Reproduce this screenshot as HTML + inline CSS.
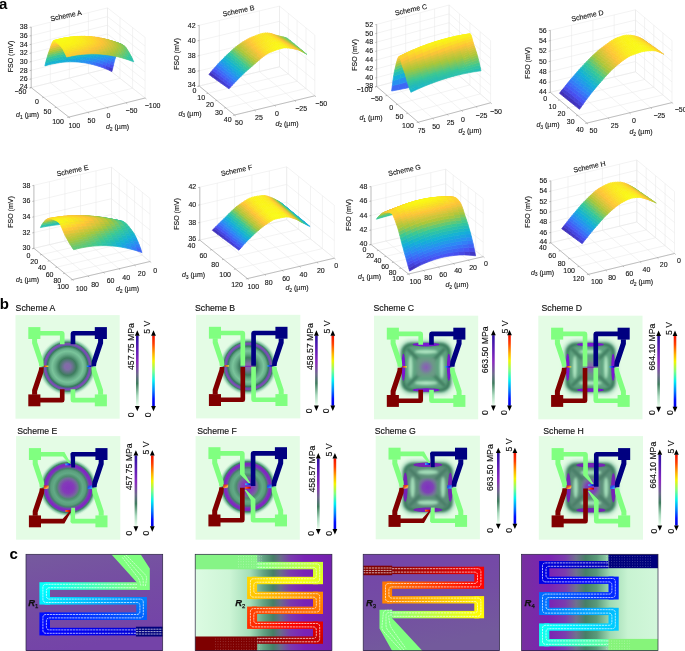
<!DOCTYPE html>
<html><head><meta charset="utf-8"><title>Figure</title>
<style>
html,body{margin:0;padding:0;background:#fff}
svg{display:block}
text{font-family:"Liberation Sans",sans-serif;fill:#141414}
.t{font-size:7px;stroke:#141414;stroke-width:.12px}
.e{text-anchor:end}.m{text-anchor:middle}
.i{font-style:italic}.sub{font-size:5px}
.gr{stroke:#e7e7e7;stroke-width:.5;fill:none}
.ax{stroke:#888;stroke-width:.5;fill:none}
polygon{stroke-width:.7;stroke-linejoin:round}
.pl{font-size:15px;font-weight:bold;fill:#000}
.sl{stroke:#fff;stroke-width:.75;fill:none;stroke-dasharray:2.2 .7;opacity:.9}
.rl{font-size:9.4px;font-weight:bold;font-style:italic;fill:#111;stroke:#111;stroke-width:.25px}
.rs{font-size:6px;font-weight:normal;font-style:normal}
.bd{fill:none;stroke:#2a2340;stroke-width:.7}
.b{font-size:8.7px;fill:#111;stroke:#111;stroke-width:.15px}
</style></head><body>
<svg width="685" height="651" viewBox="0 0 685 651">
<rect width="685" height="651" fill="#fff"/>
<text class="pl" x="-1.1" y="8.5">a</text>
<text class="pl" x="-0.2" y="309">b</text>
<text class="pl" x="9.6" y="559">c</text>
<defs><filter id="sb" x="-5%" y="-5%" width="110%" height="110%"><feGaussianBlur stdDeviation="0.45"/></filter></defs>
<g><path class="gr" d="M31.2 87.6L107.5 68.5M107.5 68.5L107.5 7.9M43.7 97.4L120.0 78.3M120.0 78.3L120.0 17.7M56.3 107.3L132.6 88.2M132.6 88.2L132.6 27.6M68.8 117.1L145.1 98.0M145.1 98.0L145.1 37.4M31.2 87.6L68.8 117.1M31.2 87.6L31.2 27.0M50.3 82.8L87.9 112.3M50.3 82.8L50.3 22.2M69.3 78.0L106.9 107.5M69.3 78.0L69.3 17.4M88.4 73.3L126.0 102.8M88.4 73.3L88.4 12.7M107.5 68.5L145.1 98.0M107.5 68.5L107.5 7.9M31.2 87.6L107.5 68.5M107.5 68.5L145.1 98.0M31.2 78.9L107.5 59.8M107.5 59.8L145.1 89.3M31.2 70.3L107.5 51.2M107.5 51.2L145.1 80.7M31.2 61.6L107.5 42.5M107.5 42.5L145.1 72.0M31.2 53.0L107.5 33.9M107.5 33.9L145.1 63.4M31.2 44.3L107.5 25.2M107.5 25.2L145.1 54.7M31.2 35.7L107.5 16.6M107.5 16.6L145.1 46.1M31.2 27.0L107.5 7.9M107.5 7.9L145.1 37.4"/>
<g filter="url(#sb)">
<polygon points="108.6,70.0 109.3,66.8 112.7,68.3 111.9,71.6" fill="#4238c6" stroke="#4238c6"/>
<polygon points="105.2,68.6 106.0,65.4 109.3,66.8 108.6,70.0" fill="#4544dc" stroke="#4544dc"/>
<polygon points="109.3,66.8 110.0,63.7 113.4,65.2 112.7,68.3" fill="#464cea" stroke="#464cea"/>
<polygon points="101.9,67.3 102.6,64.2 106.0,65.4 105.2,68.6" fill="#4750f1" stroke="#4750f1"/>
<polygon points="106.0,65.4 106.7,62.4 110.0,63.7 109.3,66.8" fill="#445af5" stroke="#445af5"/>
<polygon points="110.0,63.7 110.8,60.8 114.1,62.3 113.4,65.2" fill="#3f63f5" stroke="#3f63f5"/>
<polygon points="98.5,66.2 99.3,63.1 102.6,64.2 101.9,67.3" fill="#425ef5" stroke="#425ef5"/>
<polygon points="102.6,64.2 103.3,61.2 106.7,62.4 106.0,65.4" fill="#3d69f5" stroke="#3d69f5"/>
<polygon points="106.7,62.4 107.4,59.5 110.8,60.8 110.0,63.7" fill="#3872f6" stroke="#3872f6"/>
<polygon points="110.8,60.8 111.5,58.2 114.9,59.6 114.1,62.3" fill="#3479f6" stroke="#3479f6"/>
<polygon points="95.2,65.2 95.9,62.1 99.3,63.1 98.5,66.2" fill="#3c6af5" stroke="#3c6af5"/>
<polygon points="99.3,63.1 100.0,60.1 103.3,61.2 102.6,64.2" fill="#3676f6" stroke="#3676f6"/>
<polygon points="103.3,61.2 104.1,58.3 107.4,59.5 106.7,62.4" fill="#3180f7" stroke="#3180f7"/>
<polygon points="107.4,59.5 108.1,57.0 111.5,58.2 110.8,60.8" fill="#2d88f6" stroke="#2d88f6"/>
<polygon points="91.8,64.3 92.6,61.2 95.9,62.1 95.2,65.2" fill="#3676f6" stroke="#3676f6"/>
<polygon points="111.5,58.2 112.2,56.0 115.6,57.4 114.9,59.6" fill="#2a8cf3" stroke="#2a8cf3"/>
<polygon points="95.9,62.1 96.6,59.1 100.0,60.1 99.3,63.1" fill="#3082f7" stroke="#3082f7"/>
<polygon points="100.0,60.1 100.7,57.3 104.1,58.3 103.3,61.2" fill="#2a8cf3" stroke="#2a8cf3"/>
<polygon points="88.5,63.6 89.2,60.5 92.6,61.2 91.8,64.3" fill="#3081f7" stroke="#3081f7"/>
<polygon points="104.1,58.3 104.8,55.8 108.1,57.0 107.4,59.5" fill="#2693ee" stroke="#2693ee"/>
<polygon points="108.1,57.0 108.9,54.7 112.2,56.0 111.5,58.2" fill="#2397ea" stroke="#2397ea"/>
<polygon points="112.2,56.0 113.0,53.8 116.3,55.2 115.6,57.4" fill="#209be7" stroke="#209be7"/>
<polygon points="92.6,61.2 93.3,58.3 96.6,59.1 95.9,62.1" fill="#2a8df2" stroke="#2a8df2"/>
<polygon points="96.6,59.1 97.4,56.4 100.7,57.3 100.0,60.1" fill="#2496eb" stroke="#2496eb"/>
<polygon points="85.1,62.9 85.8,59.9 89.2,60.5 88.5,63.6" fill="#2b8af4" stroke="#2b8af4"/>
<polygon points="100.7,57.3 101.4,54.8 104.8,55.8 104.1,58.3" fill="#1f9de6" stroke="#1f9de6"/>
<polygon points="104.8,55.8 105.5,53.6 108.9,54.7 108.1,57.0" fill="#1ba2e2" stroke="#1ba2e2"/>
<polygon points="89.2,60.5 89.9,57.6 93.3,58.3 92.6,61.2" fill="#2495ec" stroke="#2495ec"/>
<polygon points="108.9,54.7 109.6,52.6 113.0,53.8 112.2,56.0" fill="#19a6df" stroke="#19a6df"/>
<polygon points="113.0,53.8 113.7,51.6 117.0,52.9 116.3,55.2" fill="#17aadc" stroke="#17aadc"/>
<polygon points="93.3,58.3 94.0,55.6 97.4,56.4 96.6,59.1" fill="#1e9fe4" stroke="#1e9fe4"/>
<polygon points="81.8,62.5 82.5,59.4 85.8,59.9 85.1,62.9" fill="#2692ef" stroke="#2692ef"/>
<polygon points="97.4,56.4 98.1,53.9 101.4,54.8 100.7,57.3" fill="#18a7de" stroke="#18a7de"/>
<polygon points="85.8,59.9 86.6,57.0 89.9,57.6 89.2,60.5" fill="#1f9de6" stroke="#1f9de6"/>
<polygon points="101.4,54.8 102.2,52.6 105.5,53.6 104.8,55.8" fill="#15adda" stroke="#15adda"/>
<polygon points="105.5,53.6 106.2,51.5 109.6,52.6 108.9,54.7" fill="#12b1d6" stroke="#12b1d6"/>
<polygon points="109.6,52.6 110.3,50.3 113.7,51.6 113.0,53.8" fill="#15b3d0" stroke="#15b3d0"/>
<polygon points="78.4,62.1 79.1,59.1 82.5,59.4 81.8,62.5" fill="#2298e9" stroke="#2298e9"/>
<polygon points="89.9,57.6 90.7,54.9 94.0,55.6 93.3,58.3" fill="#18a7de" stroke="#18a7de"/>
<polygon points="113.7,51.6 114.4,49.4 117.8,50.7 117.0,52.9" fill="#18b5cb" stroke="#18b5cb"/>
<polygon points="94.0,55.6 94.7,53.1 98.1,53.9 97.4,56.4" fill="#12b0d7" stroke="#12b0d7"/>
<polygon points="82.5,59.4 83.2,56.6 86.6,57.0 85.8,59.9" fill="#1aa4e0" stroke="#1aa4e0"/>
<polygon points="98.1,53.9 98.8,51.7 102.2,52.6 101.4,54.8" fill="#16b4ce" stroke="#16b4ce"/>
<polygon points="75.1,61.9 75.8,58.9 79.1,59.1 78.4,62.1" fill="#1e9ee5" stroke="#1e9ee5"/>
<polygon points="102.2,52.6 102.9,50.5 106.2,51.5 105.5,53.6" fill="#1bb7c7" stroke="#1bb7c7"/>
<polygon points="86.6,57.0 87.3,54.3 90.7,54.9 89.9,57.6" fill="#13afd8" stroke="#13afd8"/>
<polygon points="106.2,51.5 107.0,49.2 110.3,50.3 109.6,52.6" fill="#1fb9c0" stroke="#1fb9c0"/>
<polygon points="110.3,50.3 111.1,48.2 114.4,49.4 113.7,51.6" fill="#22bbba" stroke="#22bbba"/>
<polygon points="114.4,49.4 115.1,47.3 118.5,48.7 117.8,50.7" fill="#25bdb5" stroke="#25bdb5"/>
<polygon points="79.1,59.1 79.9,56.3 83.2,56.6 82.5,59.4" fill="#16abdb" stroke="#16abdb"/>
<polygon points="90.7,54.9 91.4,52.4 94.7,53.1 94.0,55.6" fill="#18b5cb" stroke="#18b5cb"/>
<polygon points="71.7,61.8 72.4,58.8 75.8,58.9 75.1,61.9" fill="#1ba3e1" stroke="#1ba3e1"/>
<polygon points="94.7,53.1 95.5,50.9 98.8,51.7 98.1,53.9" fill="#1eb9c1" stroke="#1eb9c1"/>
<polygon points="83.2,56.6 83.9,53.9 87.3,54.3 86.6,57.0" fill="#16b4ce" stroke="#16b4ce"/>
<polygon points="98.8,51.7 99.5,49.6 102.9,50.5 102.2,52.6" fill="#23bcb9" stroke="#23bcb9"/>
<polygon points="102.9,50.5 103.6,48.2 107.0,49.2 106.2,51.5" fill="#28bfb1" stroke="#28bfb1"/>
<polygon points="75.8,58.9 76.5,56.1 79.9,56.3 79.1,59.1" fill="#12b1d6" stroke="#12b1d6"/>
<polygon points="107.0,49.2 107.7,47.0 111.1,48.2 110.3,50.3" fill="#2cc1aa" stroke="#2cc1aa"/>
<polygon points="87.3,54.3 88.0,51.9 91.4,52.4 90.7,54.9" fill="#1fb9c0" stroke="#1fb9c0"/>
<polygon points="68.4,61.8 69.1,58.9 72.4,58.8 71.7,61.8" fill="#18a8dd" stroke="#18a8dd"/>
<polygon points="111.1,48.2 111.8,46.1 115.1,47.3 114.4,49.4" fill="#2fc3a5" stroke="#2fc3a5"/>
<polygon points="115.1,47.3 115.9,45.6 119.2,46.9 118.5,48.7" fill="#31c4a2" stroke="#31c4a2"/>
<polygon points="91.4,52.4 92.1,50.3 95.5,50.9 94.7,53.1" fill="#25bdb5" stroke="#25bdb5"/>
<polygon points="79.9,56.3 80.6,53.6 83.9,53.9 83.2,56.6" fill="#1cb7c5" stroke="#1cb7c5"/>
<polygon points="95.5,50.9 96.2,48.8 99.5,49.6 98.8,51.7" fill="#2bc1ab" stroke="#2bc1ab"/>
<polygon points="72.4,58.8 73.2,56.0 76.5,56.1 75.8,58.9" fill="#16b4cf" stroke="#16b4cf"/>
<polygon points="99.5,49.6 100.3,47.4 103.6,48.2 102.9,50.5" fill="#30c4a3" stroke="#30c4a3"/>
<polygon points="65.0,62.0 65.7,59.1 69.1,58.9 68.4,61.8" fill="#15acda" stroke="#15acda"/>
<polygon points="83.9,53.9 84.7,51.5 88.0,51.9 87.3,54.3" fill="#25bdb5" stroke="#25bdb5"/>
<polygon points="103.6,48.2 104.3,46.1 107.7,47.0 107.0,49.2" fill="#35c79b" stroke="#35c79b"/>
<polygon points="107.7,47.0 108.4,45.0 111.8,46.1 111.1,48.2" fill="#3cc893" stroke="#3cc893"/>
<polygon points="115.9,45.6 116.6,44.2 119.9,45.5 119.2,46.9" fill="#43c88d" stroke="#43c88d"/>
<polygon points="111.8,46.1 112.5,44.4 115.9,45.6 115.1,47.3" fill="#43c88e" stroke="#43c88e"/>
<polygon points="88.0,51.9 88.8,49.8 92.1,50.3 91.4,52.4" fill="#2cc1a9" stroke="#2cc1a9"/>
<polygon points="76.5,56.1 77.2,53.4 80.6,53.6 79.9,56.3" fill="#21bbbc" stroke="#21bbbc"/>
<polygon points="69.1,58.9 69.8,56.1 73.2,56.0 72.4,58.8" fill="#1ab6c8" stroke="#1ab6c8"/>
<polygon points="61.6,62.3 62.4,59.4 65.7,59.1 65.0,62.0" fill="#13afd8" stroke="#13afd8"/>
<polygon points="92.1,50.3 92.8,48.2 96.2,48.8 95.5,50.9" fill="#32c59f" stroke="#32c59f"/>
<polygon points="80.6,53.6 81.3,51.2 84.7,51.5 83.9,53.9" fill="#2bc0ac" stroke="#2bc0ac"/>
<polygon points="96.2,48.8 96.9,46.6 100.3,47.4 99.5,49.6" fill="#3ac895" stroke="#3ac895"/>
<polygon points="100.3,47.4 101.0,45.2 104.3,46.1 103.6,48.2" fill="#4ac888" stroke="#4ac888"/>
<polygon points="73.2,56.0 73.9,53.4 77.2,53.4 76.5,56.1" fill="#26bdb4" stroke="#26bdb4"/>
<polygon points="116.6,44.2 117.3,43.3 120.7,44.6 119.9,45.5" fill="#5cc879" stroke="#5cc879"/>
<polygon points="84.7,51.5 85.4,49.4 88.8,49.8 88.0,51.9" fill="#32c59f" stroke="#32c59f"/>
<polygon points="58.3,62.8 59.0,59.9 62.4,59.4 61.6,62.3" fill="#12b1d6" stroke="#12b1d6"/>
<polygon points="104.3,46.1 105.1,44.0 108.4,45.0 107.7,47.0" fill="#57c87d" stroke="#57c87d"/>
<polygon points="65.7,59.1 66.5,56.3 69.8,56.1 69.1,58.9" fill="#1db8c2" stroke="#1db8c2"/>
<polygon points="112.5,44.4 113.2,43.0 116.6,44.2 115.9,45.6" fill="#62c874" stroke="#62c874"/>
<polygon points="108.4,45.0 109.2,43.3 112.5,44.4 111.8,46.1" fill="#60c876" stroke="#60c876"/>
<polygon points="88.8,49.8 89.5,47.7 92.8,48.2 92.1,50.3" fill="#3dc892" stroke="#3dc892"/>
<polygon points="77.2,53.4 78.0,51.0 81.3,51.2 80.6,53.6" fill="#30c4a3" stroke="#30c4a3"/>
<polygon points="92.8,48.2 93.6,46.0 96.9,46.6 96.2,48.8" fill="#50c883" stroke="#50c883"/>
<polygon points="54.9,63.4 55.7,60.4 59.0,59.9 58.3,62.8" fill="#13b2d3" stroke="#13b2d3"/>
<polygon points="69.8,56.1 70.5,53.5 73.9,53.4 73.2,56.0" fill="#2ac0ae" stroke="#2ac0ae"/>
<polygon points="62.4,59.4 63.1,56.6 66.5,56.3 65.7,59.1" fill="#20babe" stroke="#20babe"/>
<polygon points="117.3,43.3 118.0,43.0 121.4,44.3 120.7,44.6" fill="#6dc76b" stroke="#6dc76b"/>
<polygon points="81.3,51.2 82.0,49.1 85.4,49.4 84.7,51.5" fill="#3ac895" stroke="#3ac895"/>
<polygon points="96.9,46.6 97.6,44.4 101.0,45.2 100.3,47.4" fill="#62c874" stroke="#62c874"/>
<polygon points="101.0,45.2 101.7,43.2 105.1,44.0 104.3,46.1" fill="#71c768" stroke="#71c768"/>
<polygon points="113.2,43.0 114.0,42.1 117.3,43.3 116.6,44.2" fill="#7bc760" stroke="#7bc760"/>
<polygon points="85.4,49.4 86.1,47.3 89.5,47.7 88.8,49.8" fill="#50c883" stroke="#50c883"/>
<polygon points="105.1,44.0 105.8,42.3 109.2,43.3 108.4,45.0" fill="#7cc75f" stroke="#7cc75f"/>
<polygon points="109.2,43.3 109.9,41.9 113.2,43.0 112.5,44.4" fill="#7fc75c" stroke="#7fc75c"/>
<polygon points="73.9,53.4 74.6,51.0 78.0,51.0 77.2,53.4" fill="#34c69c" stroke="#34c69c"/>
<polygon points="51.6,64.1 52.3,61.1 55.7,60.4 54.9,63.4" fill="#14b3d1" stroke="#14b3d1"/>
<polygon points="118.0,43.0 118.8,43.3 122.1,44.6 121.4,44.3" fill="#76c764" stroke="#76c764"/>
<polygon points="66.5,56.3 67.2,53.7 70.5,53.5 69.8,56.1" fill="#2dc2a8" stroke="#2dc2a8"/>
<polygon points="59.0,59.9 59.7,57.1 63.1,56.6 62.4,59.4" fill="#22bbba" stroke="#22bbba"/>
<polygon points="89.5,47.7 90.2,45.5 93.6,46.0 92.8,48.2" fill="#65c772" stroke="#65c772"/>
<polygon points="78.0,51.0 78.7,48.9 82.0,49.1 81.3,51.2" fill="#4ac888" stroke="#4ac888"/>
<polygon points="93.6,46.0 94.3,43.8 97.6,44.4 96.9,46.6" fill="#79c762" stroke="#79c762"/>
<polygon points="48.2,64.9 49.0,62.0 52.3,61.1 51.6,64.1" fill="#15b3d1" stroke="#15b3d1"/>
<polygon points="114.0,42.1 114.7,41.8 118.0,43.0 117.3,43.3" fill="#8cc752" stroke="#8cc752"/>
<polygon points="118.8,43.3 119.5,43.8 122.8,45.0 122.1,44.6" fill="#79c762" stroke="#79c762"/>
<polygon points="70.5,53.5 71.3,51.1 74.6,51.0 73.9,53.4" fill="#3ac894" stroke="#3ac894"/>
<polygon points="82.0,49.1 82.8,47.0 86.1,47.3 85.4,49.4" fill="#61c875" stroke="#61c875"/>
<polygon points="97.6,44.4 98.4,42.4 101.7,43.2 101.0,45.2" fill="#8ac754" stroke="#8ac754"/>
<polygon points="55.7,60.4 56.4,57.6 59.7,57.1 59.0,59.9" fill="#24bcb8" stroke="#24bcb8"/>
<polygon points="63.1,56.6 63.8,54.0 67.2,53.7 66.5,56.3" fill="#30c3a4" stroke="#30c3a4"/>
<polygon points="109.9,41.9 110.6,41.0 114.0,42.1 113.2,43.0" fill="#98c748" stroke="#98c748"/>
<polygon points="101.7,43.2 102.4,41.4 105.8,42.3 105.1,44.0" fill="#96c74a" stroke="#96c74a"/>
<polygon points="105.8,42.3 106.5,40.9 109.9,41.9 109.2,43.3" fill="#9bc746" stroke="#9bc746"/>
<polygon points="44.9,65.9 45.6,62.9 49.0,62.0 48.2,64.9" fill="#14b3d1" stroke="#14b3d1"/>
<polygon points="86.1,47.3 86.9,45.1 90.2,45.5 89.5,47.7" fill="#78c762" stroke="#78c762"/>
<polygon points="119.5,43.8 120.2,44.2 123.6,45.5 122.8,45.0" fill="#7bc760" stroke="#7bc760"/>
<polygon points="74.6,51.0 75.3,48.9 78.7,48.9 78.0,51.0" fill="#58c87d" stroke="#58c87d"/>
<polygon points="114.7,41.8 115.4,42.2 118.8,43.3 118.0,43.0" fill="#94c74c" stroke="#94c74c"/>
<polygon points="52.3,61.1 53.0,58.3 56.4,57.6 55.7,60.4" fill="#25bdb6" stroke="#25bdb6"/>
<polygon points="67.2,53.7 67.9,51.3 71.3,51.1 70.5,53.5" fill="#44c88c" stroke="#44c88c"/>
<polygon points="90.2,45.5 90.9,43.3 94.3,43.8 93.6,46.0" fill="#8ec751" stroke="#8ec751"/>
<polygon points="59.7,57.1 60.5,54.4 63.8,54.0 63.1,56.6" fill="#32c5a0" stroke="#32c5a0"/>
<polygon points="78.7,48.9 79.4,46.8 82.8,47.0 82.0,49.1" fill="#71c768" stroke="#71c768"/>
<polygon points="110.6,41.0 111.3,40.8 114.7,41.8 114.0,42.1" fill="#a9c73b" stroke="#a9c73b"/>
<polygon points="120.2,44.2 121.0,44.8 124.3,46.0 123.6,45.5" fill="#7cc75f" stroke="#7cc75f"/>
<polygon points="94.3,43.8 95.0,41.8 98.4,42.4 97.6,44.4" fill="#a0c742" stroke="#a0c742"/>
<polygon points="115.4,42.2 116.1,42.6 119.5,43.8 118.8,43.3" fill="#97c74a" stroke="#97c74a"/>
<polygon points="106.5,40.9 107.3,40.0 110.6,41.0 109.9,41.9" fill="#b1c639" stroke="#b1c639"/>
<polygon points="98.4,42.4 99.1,40.7 102.4,41.4 101.7,43.2" fill="#adc739" stroke="#adc739"/>
<polygon points="49.0,62.0 49.7,59.2 53.0,58.3 52.3,61.1" fill="#25bdb6" stroke="#25bdb6"/>
<polygon points="71.3,51.1 72.0,49.0 75.3,48.9 74.6,51.0" fill="#64c873" stroke="#64c873"/>
<polygon points="82.8,47.0 83.5,44.8 86.9,45.1 86.1,47.3" fill="#89c754" stroke="#89c754"/>
<polygon points="102.4,41.4 103.2,40.1 106.5,40.9 105.8,42.3" fill="#b2c639" stroke="#b2c639"/>
<polygon points="56.4,57.6 57.1,55.0 60.5,54.4 59.7,57.1" fill="#33c69e" stroke="#33c69e"/>
<polygon points="63.8,54.0 64.6,51.6 67.9,51.3 67.2,53.7" fill="#4dc885" stroke="#4dc885"/>
<polygon points="121.0,44.8 121.7,45.4 125.0,46.5 124.3,46.0" fill="#7cc75f" stroke="#7cc75f"/>
<polygon points="116.1,42.6 116.9,43.1 120.2,44.2 119.5,43.8" fill="#98c748" stroke="#98c748"/>
<polygon points="111.3,40.8 112.1,41.1 115.4,42.2 114.7,41.8" fill="#afc739" stroke="#afc739"/>
<polygon points="86.9,45.1 87.6,42.9 90.9,43.3 90.2,45.5" fill="#a1c741" stroke="#a1c741"/>
<polygon points="75.3,48.9 76.1,46.8 79.4,46.8 78.7,48.9" fill="#7fc75d" stroke="#7fc75d"/>
<polygon points="45.6,62.9 46.3,60.1 49.7,59.2 49.0,62.0" fill="#25bdb6" stroke="#25bdb6"/>
<polygon points="121.7,45.4 122.4,46.1 125.8,47.3 125.0,46.5" fill="#7bc760" stroke="#7bc760"/>
<polygon points="90.9,43.3 91.7,41.3 95.0,41.8 94.3,43.8" fill="#b2c639" stroke="#b2c639"/>
<polygon points="67.9,51.3 68.6,49.2 72.0,49.0 71.3,51.1" fill="#6ec76b" stroke="#6ec76b"/>
<polygon points="107.3,40.0 108.0,39.8 111.3,40.8 110.6,41.0" fill="#bdc639" stroke="#bdc639"/>
<polygon points="53.0,58.3 53.8,55.7 57.1,55.0 56.4,57.6" fill="#34c69c" stroke="#34c69c"/>
<polygon points="116.9,43.1 117.6,43.7 121.0,44.8 120.2,44.2" fill="#99c748" stroke="#99c748"/>
<polygon points="79.4,46.8 80.1,44.7 83.5,44.8 82.8,47.0" fill="#99c748" stroke="#99c748"/>
<polygon points="60.5,54.4 61.2,52.1 64.6,51.6 63.8,54.0" fill="#53c880" stroke="#53c880"/>
<polygon points="112.1,41.1 112.8,41.6 116.1,42.6 115.4,42.2" fill="#b1c639" stroke="#b1c639"/>
<polygon points="95.0,41.8 95.7,40.0 99.1,40.7 98.4,42.4" fill="#bdc639" stroke="#bdc639"/>
<polygon points="103.2,40.1 103.9,39.2 107.3,40.0 106.5,40.9" fill="#c4c639" stroke="#c4c639"/>
<polygon points="99.1,40.7 99.8,39.3 103.2,40.1 102.4,41.4" fill="#c3c639" stroke="#c3c639"/>
<polygon points="122.4,46.1 123.1,47.1 126.5,48.3 125.8,47.3" fill="#76c764" stroke="#76c764"/>
<polygon points="72.0,49.0 72.7,46.9 76.1,46.8 75.3,48.9" fill="#8bc753" stroke="#8bc753"/>
<polygon points="83.5,44.8 84.2,42.6 87.6,42.9 86.9,45.1" fill="#b0c739" stroke="#b0c739"/>
<polygon points="117.6,43.7 118.3,44.3 121.7,45.4 121.0,44.8" fill="#99c748" stroke="#99c748"/>
<polygon points="49.7,59.2 50.4,56.6 53.8,55.7 53.0,58.3" fill="#34c69b" stroke="#34c69b"/>
<polygon points="108.0,39.8 108.7,40.2 112.1,41.1 111.3,40.8" fill="#c2c639" stroke="#c2c639"/>
<polygon points="112.8,41.6 113.5,42.1 116.9,43.1 116.1,42.6" fill="#b2c639" stroke="#b2c639"/>
<polygon points="64.6,51.6 65.3,49.5 68.6,49.2 67.9,51.3" fill="#76c764" stroke="#76c764"/>
<polygon points="123.1,47.1 123.9,48.1 127.2,49.4 126.5,48.3" fill="#70c769" stroke="#70c769"/>
<polygon points="57.1,55.0 57.8,52.7 61.2,52.1 60.5,54.4" fill="#58c87c" stroke="#58c87c"/>
<polygon points="87.6,42.9 88.3,40.9 91.7,41.3 90.9,43.3" fill="#c0c639" stroke="#c0c639"/>
<polygon points="76.1,46.8 76.8,44.6 80.1,44.7 79.4,46.8" fill="#a7c73d" stroke="#a7c73d"/>
<polygon points="103.9,39.2 104.6,39.0 108.0,39.8 107.3,40.0" fill="#cfc538" stroke="#cfc538"/>
<polygon points="118.3,44.3 119.1,45.0 122.4,46.1 121.7,45.4" fill="#98c749" stroke="#98c749"/>
<polygon points="123.9,48.1 124.6,49.2 127.9,50.6 127.2,49.4" fill="#68c770" stroke="#68c770"/>
<polygon points="91.7,41.3 92.4,39.5 95.7,40.0 95.0,41.8" fill="#ccc539" stroke="#ccc539"/>
<polygon points="113.5,42.1 114.2,42.7 117.6,43.7 116.9,43.1" fill="#b2c639" stroke="#b2c639"/>
<polygon points="46.3,60.1 47.1,57.5 50.4,56.6 49.7,59.2" fill="#34c69c" stroke="#34c69c"/>
<polygon points="108.7,40.2 109.4,40.7 112.8,41.6 112.1,41.1" fill="#c4c639" stroke="#c4c639"/>
<polygon points="68.6,49.2 69.4,47.1 72.7,46.9 72.0,49.0" fill="#95c74b" stroke="#95c74b"/>
<polygon points="99.8,39.3 100.5,38.5 103.9,39.2 103.2,40.1" fill="#d5c538" stroke="#d5c538"/>
<polygon points="95.7,40.0 96.5,38.7 99.8,39.3 99.1,40.7" fill="#d3c538" stroke="#d3c538"/>
<polygon points="80.1,44.7 80.9,42.5 84.2,42.6 83.5,44.8" fill="#bbc639" stroke="#bbc639"/>
<polygon points="53.8,55.7 54.5,53.4 57.8,52.7 57.1,55.0" fill="#5bc87a" stroke="#5bc87a"/>
<polygon points="61.2,52.1 61.9,50.0 65.3,49.5 64.6,51.6" fill="#7dc75f" stroke="#7dc75f"/>
<polygon points="124.6,49.2 125.3,50.4 128.7,51.8 127.9,50.6" fill="#5fc877" stroke="#5fc877"/>
<polygon points="119.1,45.0 119.8,46.0 123.1,47.1 122.4,46.1" fill="#93c74c" stroke="#93c74c"/>
<polygon points="114.2,42.7 115.0,43.3 118.3,44.3 117.6,43.7" fill="#b2c639" stroke="#b2c639"/>
<polygon points="104.6,39.0 105.4,39.4 108.7,40.2 108.0,39.8" fill="#d5c538" stroke="#d5c538"/>
<polygon points="109.4,40.7 110.2,41.3 113.5,42.1 112.8,41.6" fill="#c4c639" stroke="#c4c639"/>
<polygon points="72.7,46.9 73.4,44.7 76.8,44.6 76.1,46.8" fill="#b0c739" stroke="#b0c739"/>
<polygon points="84.2,42.6 85.0,40.6 88.3,40.9 87.6,42.9" fill="#ccc539" stroke="#ccc539"/>
<polygon points="125.3,50.4 126.0,51.6 129.4,53.0 128.7,51.8" fill="#56c87e" stroke="#56c87e"/>
<polygon points="119.8,46.0 120.5,47.0 123.9,48.1 123.1,47.1" fill="#8ec751" stroke="#8ec751"/>
<polygon points="65.3,49.5 66.0,47.4 69.4,47.1 68.6,49.2" fill="#9dc744" stroke="#9dc744"/>
<polygon points="50.4,56.6 51.1,54.2 54.5,53.4 53.8,55.7" fill="#5cc879" stroke="#5cc879"/>
<polygon points="57.8,52.7 58.6,50.6 61.9,50.0 61.2,52.1" fill="#81c75b" stroke="#81c75b"/>
<polygon points="88.3,40.9 89.0,39.1 92.4,39.5 91.7,41.3" fill="#d9c538" stroke="#d9c538"/>
<polygon points="100.5,38.5 101.3,38.3 104.6,39.0 103.9,39.2" fill="#e0c538" stroke="#e0c538"/>
<polygon points="126.0,51.6 126.8,52.9 130.1,54.2 129.4,53.0" fill="#4cc886" stroke="#4cc886"/>
<polygon points="115.0,43.3 115.7,44.1 119.1,45.0 118.3,44.3" fill="#b1c739" stroke="#b1c739"/>
<polygon points="76.8,44.6 77.5,42.5 80.9,42.5 80.1,44.7" fill="#c5c639" stroke="#c5c639"/>
<polygon points="110.2,41.3 110.9,41.8 114.2,42.7 113.5,42.1" fill="#c5c639" stroke="#c5c639"/>
<polygon points="105.4,39.4 106.1,39.9 109.4,40.7 108.7,40.2" fill="#d6c538" stroke="#d6c538"/>
<polygon points="92.4,39.5 93.1,38.2 96.5,38.7 95.7,40.0" fill="#e2c438" stroke="#e2c438"/>
<polygon points="96.5,38.7 97.2,37.9 100.5,38.5 99.8,39.3" fill="#e5c438" stroke="#e5c438"/>
<polygon points="120.5,47.0 121.2,48.0 124.6,49.2 123.9,48.1" fill="#86c757" stroke="#86c757"/>
<polygon points="126.8,52.9 127.5,54.2 130.8,55.6 130.1,54.2" fill="#41c88f" stroke="#41c88f"/>
<polygon points="69.4,47.1 70.1,44.9 73.4,44.7 72.7,46.9" fill="#b8c639" stroke="#b8c639"/>
<polygon points="47.1,57.5 47.8,55.1 51.1,54.2 50.4,56.6" fill="#5bc87a" stroke="#5bc87a"/>
<polygon points="115.7,44.1 116.4,45.0 119.8,46.0 119.1,45.0" fill="#aec739" stroke="#aec739"/>
<polygon points="121.2,48.0 122.0,49.1 125.3,50.4 124.6,49.2" fill="#7ec75d" stroke="#7ec75d"/>
<polygon points="80.9,42.5 81.6,40.5 85.0,40.6 84.2,42.6" fill="#d7c538" stroke="#d7c538"/>
<polygon points="61.9,50.0 62.7,47.9 66.0,47.4 65.3,49.5" fill="#a4c73f" stroke="#a4c73f"/>
<polygon points="127.5,54.2 128.2,55.7 131.6,57.0 130.8,55.6" fill="#36c898" stroke="#36c898"/>
<polygon points="54.5,53.4 55.2,51.3 58.6,50.6 57.8,52.7" fill="#84c759" stroke="#84c759"/>
<polygon points="101.3,38.3 102.0,38.7 105.4,39.4 104.6,39.0" fill="#e5c438" stroke="#e5c438"/>
<polygon points="110.9,41.8 111.6,42.5 115.0,43.3 114.2,42.7" fill="#c4c639" stroke="#c4c639"/>
<polygon points="106.1,39.9 106.8,40.5 110.2,41.3 109.4,40.7" fill="#d6c538" stroke="#d6c538"/>
<polygon points="128.2,55.7 128.9,57.3 132.3,58.6 131.6,57.0" fill="#32c5a0" stroke="#32c5a0"/>
<polygon points="122.0,49.1 122.7,50.3 126.0,51.6 125.3,50.4" fill="#76c764" stroke="#76c764"/>
<polygon points="85.0,40.6 85.7,38.9 89.0,39.1 88.3,40.9" fill="#e6c438" stroke="#e6c438"/>
<polygon points="116.4,45.0 117.2,45.9 120.5,47.0 119.8,46.0" fill="#aac73a" stroke="#aac73a"/>
<polygon points="73.4,44.7 74.2,42.5 77.5,42.5 76.8,44.6" fill="#cdc538" stroke="#cdc538"/>
<polygon points="97.2,37.9 97.9,37.7 101.3,38.3 100.5,38.5" fill="#f0c438" stroke="#f0c438"/>
<polygon points="128.9,57.3 129.7,58.9 133.0,60.2 132.3,58.6" fill="#2dc2a8" stroke="#2dc2a8"/>
<polygon points="89.0,39.1 89.8,37.8 93.1,38.2 92.4,39.5" fill="#efc438" stroke="#efc438"/>
<polygon points="111.6,42.5 112.3,43.2 115.7,44.1 115.0,43.3" fill="#c3c639" stroke="#c3c639"/>
<polygon points="93.1,38.2 93.8,37.4 97.2,37.9 96.5,38.7" fill="#f3c438" stroke="#f3c438"/>
<polygon points="66.0,47.4 66.7,45.3 70.1,44.9 69.4,47.1" fill="#bec639" stroke="#bec639"/>
<polygon points="102.0,38.7 102.7,39.2 106.1,39.9 105.4,39.4" fill="#e6c438" stroke="#e6c438"/>
<polygon points="106.8,40.5 107.5,41.1 110.9,41.8 110.2,41.3" fill="#d6c538" stroke="#d6c538"/>
<polygon points="51.1,54.2 51.9,52.1 55.2,51.3 54.5,53.4" fill="#85c758" stroke="#85c758"/>
<polygon points="122.7,50.3 123.4,51.6 126.8,52.9 126.0,51.6" fill="#6cc76c" stroke="#6cc76c"/>
<polygon points="58.6,50.6 59.3,48.5 62.7,47.9 61.9,50.0" fill="#a8c73b" stroke="#a8c73b"/>
<polygon points="129.7,58.9 130.4,60.6 133.8,61.8 133.0,60.2" fill="#28bfb0" stroke="#28bfb0"/>
<polygon points="117.2,45.9 117.9,46.9 121.2,48.0 120.5,47.0" fill="#a3c73f" stroke="#a3c73f"/>
<polygon points="77.5,42.5 78.2,40.4 81.6,40.5 80.9,42.5" fill="#e1c538" stroke="#e1c538"/>
<polygon points="123.4,51.6 124.1,53.0 127.5,54.2 126.8,52.9" fill="#61c875" stroke="#61c875"/>
<polygon points="112.3,43.2 113.1,44.1 116.4,45.0 115.7,44.1" fill="#c1c639" stroke="#c1c639"/>
<polygon points="97.9,37.7 98.6,38.1 102.0,38.7 101.3,38.3" fill="#f5c438" stroke="#f5c438"/>
<polygon points="117.9,46.9 118.6,48.0 122.0,49.1 121.2,48.0" fill="#9cc745" stroke="#9cc745"/>
<polygon points="107.5,41.1 108.3,41.7 111.6,42.5 110.9,41.8" fill="#d6c538" stroke="#d6c538"/>
<polygon points="102.7,39.2 103.5,39.8 106.8,40.5 106.1,39.9" fill="#e6c438" stroke="#e6c438"/>
<polygon points="70.1,44.9 70.8,42.7 74.2,42.5 73.4,44.7" fill="#d4c538" stroke="#d4c538"/>
<polygon points="81.6,40.5 82.3,38.7 85.7,38.9 85.0,40.6" fill="#f1c438" stroke="#f1c438"/>
<polygon points="47.8,55.1 48.5,53.0 51.9,52.1 51.1,54.2" fill="#85c758" stroke="#85c758"/>
<polygon points="124.1,53.0 124.9,54.5 128.2,55.7 127.5,54.2" fill="#54c880" stroke="#54c880"/>
<polygon points="62.7,47.9 63.4,45.7 66.7,45.3 66.0,47.4" fill="#c2c639" stroke="#c2c639"/>
<polygon points="55.2,51.3 55.9,49.2 59.3,48.5 58.6,50.6" fill="#abc739" stroke="#abc739"/>
<polygon points="93.8,37.4 94.6,37.2 97.9,37.7 97.2,37.9" fill="#fec438" stroke="#fec438"/>
<polygon points="85.7,38.9 86.4,37.5 89.8,37.8 89.0,39.1" fill="#fcc338" stroke="#fcc338"/>
<polygon points="113.1,44.1 113.8,45.0 117.2,45.9 116.4,45.0" fill="#bdc639" stroke="#bdc639"/>
<polygon points="124.9,54.5 125.6,56.1 128.9,57.3 128.2,55.7" fill="#46c88b" stroke="#46c88b"/>
<polygon points="118.6,48.0 119.3,49.2 122.7,50.3 122.0,49.1" fill="#93c74c" stroke="#93c74c"/>
<polygon points="89.8,37.8 90.5,37.0 93.8,37.4 93.1,38.2" fill="#fec537" stroke="#fec537"/>
<polygon points="98.6,38.1 99.4,38.7 102.7,39.2 102.0,38.7" fill="#f6c438" stroke="#f6c438"/>
<polygon points="108.3,41.7 109.0,42.5 112.3,43.2 111.6,42.5" fill="#d4c538" stroke="#d4c538"/>
<polygon points="74.2,42.5 74.9,40.5 78.2,40.4 77.5,42.5" fill="#e9c438" stroke="#e9c438"/>
<polygon points="103.5,39.8 104.2,40.4 107.5,41.1 106.8,40.5" fill="#e6c438" stroke="#e6c438"/>
<polygon points="125.6,56.1 126.3,57.7 129.7,58.9 128.9,57.3" fill="#37c897" stroke="#37c897"/>
<polygon points="119.3,49.2 120.1,50.5 123.4,51.6 122.7,50.3" fill="#8ac754" stroke="#8ac754"/>
<polygon points="113.8,45.0 114.5,46.0 117.9,46.9 117.2,45.9" fill="#b9c639" stroke="#b9c639"/>
<polygon points="66.7,45.3 67.5,43.1 70.8,42.7 70.1,44.9" fill="#dac538" stroke="#dac538"/>
<polygon points="126.3,57.7 127.0,59.4 130.4,60.6 129.7,58.9" fill="#32c5a0" stroke="#32c5a0"/>
<polygon points="51.9,52.1 52.6,50.0 55.9,49.2 55.2,51.3" fill="#acc739" stroke="#acc739"/>
<polygon points="59.3,48.5 60.0,46.3 63.4,45.7 62.7,47.9" fill="#c6c639" stroke="#c6c639"/>
<polygon points="94.6,37.2 95.3,37.6 98.6,38.1 97.9,37.7" fill="#fec736" stroke="#fec736"/>
<polygon points="78.2,40.4 79.0,38.7 82.3,38.7 81.6,40.5" fill="#fac338" stroke="#fac338"/>
<polygon points="109.0,42.5 109.7,43.3 113.1,44.1 112.3,43.2" fill="#d2c538" stroke="#d2c538"/>
<polygon points="120.1,50.5 120.8,51.9 124.1,53.0 123.4,51.6" fill="#7ec75d" stroke="#7ec75d"/>
<polygon points="99.4,38.7 100.1,39.3 103.5,39.8 102.7,39.2" fill="#f6c438" stroke="#f6c438"/>
<polygon points="104.2,40.4 104.9,41.1 108.3,41.7 107.5,41.1" fill="#e6c438" stroke="#e6c438"/>
<polygon points="114.5,46.0 115.3,47.0 118.6,48.0 117.9,46.9" fill="#b4c639" stroke="#b4c639"/>
<polygon points="82.3,38.7 83.1,37.4 86.4,37.5 85.7,38.9" fill="#fec934" stroke="#fec934"/>
<polygon points="90.5,37.0 91.2,36.8 94.6,37.2 93.8,37.4" fill="#fdcd32" stroke="#fdcd32"/>
<polygon points="120.8,51.9 121.5,53.4 124.9,54.5 124.1,53.0" fill="#71c768" stroke="#71c768"/>
<polygon points="70.8,42.7 71.5,40.7 74.9,40.5 74.2,42.5" fill="#f0c438" stroke="#f0c438"/>
<polygon points="86.4,37.5 87.1,36.7 90.5,37.0 89.8,37.8" fill="#fdcd32" stroke="#fdcd32"/>
<polygon points="48.5,53.0 49.2,50.9 52.6,50.0 51.9,52.1" fill="#acc739" stroke="#acc739"/>
<polygon points="109.7,43.3 110.4,44.2 113.8,45.0 113.1,44.1" fill="#cfc538" stroke="#cfc538"/>
<polygon points="95.3,37.6 96.0,38.2 99.4,38.7 98.6,38.1" fill="#fec736" stroke="#fec736"/>
<polygon points="63.4,45.7 64.1,43.5 67.5,43.1 66.7,45.3" fill="#dfc538" stroke="#dfc538"/>
<polygon points="115.3,47.0 116.0,48.2 119.3,49.2 118.6,48.0" fill="#aec739" stroke="#aec739"/>
<polygon points="55.9,49.2 56.7,47.0 60.0,46.3 59.3,48.5" fill="#c8c639" stroke="#c8c639"/>
<polygon points="121.5,53.4 122.2,55.0 125.6,56.1 124.9,54.5" fill="#63c873" stroke="#63c873"/>
<polygon points="104.9,41.1 105.6,41.8 109.0,42.5 108.3,41.7" fill="#e4c438" stroke="#e4c438"/>
<polygon points="100.1,39.3 100.8,39.9 104.2,40.4 103.5,39.8" fill="#f5c438" stroke="#f5c438"/>
<polygon points="122.2,55.0 123.0,56.7 126.3,57.7 125.6,56.1" fill="#54c880" stroke="#54c880"/>
<polygon points="74.9,40.5 75.6,38.8 79.0,38.7 78.2,40.4" fill="#fec636" stroke="#fec636"/>
<polygon points="110.4,44.2 111.2,45.1 114.5,46.0 113.8,45.0" fill="#cbc539" stroke="#cbc539"/>
<polygon points="116.0,48.2 116.7,49.5 120.1,50.5 119.3,49.2" fill="#a6c73d" stroke="#a6c73d"/>
<polygon points="91.2,36.8 91.9,37.3 95.3,37.6 94.6,37.2" fill="#fdcf30" stroke="#fdcf30"/>
<polygon points="123.0,56.7 123.7,58.4 127.0,59.4 126.3,57.7" fill="#43c88d" stroke="#43c88d"/>
<polygon points="96.0,38.2 96.7,38.8 100.1,39.3 99.4,38.7" fill="#fec736" stroke="#fec736"/>
<polygon points="105.6,41.8 106.4,42.6 109.7,43.3 109.0,42.5" fill="#e2c438" stroke="#e2c438"/>
<polygon points="100.8,39.9 101.6,40.6 104.9,41.1 104.2,40.4" fill="#f5c438" stroke="#f5c438"/>
<polygon points="79.0,38.7 79.7,37.4 83.1,37.4 82.3,38.7" fill="#fdcf30" stroke="#fdcf30"/>
<polygon points="67.5,43.1 68.2,41.1 71.5,40.7 70.8,42.7" fill="#f6c438" stroke="#f6c438"/>
<polygon points="52.6,50.0 53.3,47.8 56.7,47.0 55.9,49.2" fill="#c9c639" stroke="#c9c639"/>
<polygon points="116.7,49.5 117.4,50.9 120.8,51.9 120.1,50.5" fill="#9ac747" stroke="#9ac747"/>
<polygon points="87.1,36.7 87.9,36.6 91.2,36.8 90.5,37.0" fill="#fdd52d" stroke="#fdd52d"/>
<polygon points="60.0,46.3 60.8,44.1 64.1,43.5 63.4,45.7" fill="#e3c438" stroke="#e3c438"/>
<polygon points="83.1,37.4 83.8,36.6 87.1,36.7 86.4,37.5" fill="#fdd42d" stroke="#fdd42d"/>
<polygon points="111.2,45.1 111.9,46.1 115.3,47.0 114.5,46.0" fill="#c7c639" stroke="#c7c639"/>
<polygon points="117.4,50.9 118.2,52.4 121.5,53.4 120.8,51.9" fill="#8dc751" stroke="#8dc751"/>
<polygon points="91.9,37.3 92.7,37.9 96.0,38.2 95.3,37.6" fill="#fdd030" stroke="#fdd030"/>
<polygon points="106.4,42.6 107.1,43.5 110.4,44.2 109.7,43.3" fill="#dfc538" stroke="#dfc538"/>
<polygon points="96.7,38.8 97.5,39.5 100.8,39.9 100.1,39.3" fill="#fec736" stroke="#fec736"/>
<polygon points="101.6,40.6 102.3,41.3 105.6,41.8 104.9,41.1" fill="#f3c438" stroke="#f3c438"/>
<polygon points="71.5,40.7 72.3,39.0 75.6,38.8 74.9,40.5" fill="#fecb33" stroke="#fecb33"/>
<polygon points="111.9,46.1 112.6,47.3 116.0,48.2 115.3,47.0" fill="#c1c639" stroke="#c1c639"/>
<polygon points="118.2,52.4 118.9,54.0 122.2,55.0 121.5,53.4" fill="#7fc75d" stroke="#7fc75d"/>
<polygon points="49.2,50.9 50.0,48.7 53.3,47.8 52.6,50.0" fill="#c8c639" stroke="#c8c639"/>
<polygon points="64.1,43.5 64.8,41.5 68.2,41.1 67.5,43.1" fill="#fbc338" stroke="#fbc338"/>
<polygon points="87.9,36.6 88.6,37.1 91.9,37.3 91.2,36.8" fill="#fcd72b" stroke="#fcd72b"/>
<polygon points="56.7,47.0 57.4,44.8 60.8,44.1 60.0,46.3" fill="#e5c438" stroke="#e5c438"/>
<polygon points="118.9,54.0 119.6,55.7 123.0,56.7 122.2,55.0" fill="#6fc76a" stroke="#6fc76a"/>
<polygon points="107.1,43.5 107.8,44.4 111.2,45.1 110.4,44.2" fill="#dcc538" stroke="#dcc538"/>
<polygon points="75.6,38.8 76.3,37.5 79.7,37.4 79.0,38.7" fill="#fdd52d" stroke="#fdd52d"/>
<polygon points="92.7,37.9 93.4,38.5 96.7,38.8 96.0,38.2" fill="#fdd030" stroke="#fdd030"/>
<polygon points="112.6,47.3 113.4,48.6 116.7,49.5 116.0,48.2" fill="#bac639" stroke="#bac639"/>
<polygon points="102.3,41.3 103.0,42.1 106.4,42.6 105.6,41.8" fill="#f1c438" stroke="#f1c438"/>
<polygon points="97.5,39.5 98.2,40.2 101.6,40.6 100.8,39.9" fill="#fec636" stroke="#fec636"/>
<polygon points="83.8,36.6 84.5,36.4 87.9,36.6 87.1,36.7" fill="#fcdc28" stroke="#fcdc28"/>
<polygon points="119.6,55.7 120.3,57.4 123.7,58.4 123.0,56.7" fill="#5ec877" stroke="#5ec877"/>
<polygon points="79.7,37.4 80.4,36.6 83.8,36.6 83.1,37.4" fill="#fcdb29" stroke="#fcdb29"/>
<polygon points="113.4,48.6 114.1,50.0 117.4,50.9 116.7,49.5" fill="#b2c639" stroke="#b2c639"/>
<polygon points="107.8,44.4 108.5,45.4 111.9,46.1 111.2,45.1" fill="#d8c538" stroke="#d8c538"/>
<polygon points="68.2,41.1 68.9,39.3 72.3,39.0 71.5,40.7" fill="#fdcf30" stroke="#fdcf30"/>
<polygon points="88.6,37.1 89.3,37.7 92.7,37.9 91.9,37.3" fill="#fcd82b" stroke="#fcd82b"/>
<polygon points="93.4,38.5 94.1,39.2 97.5,39.5 96.7,38.8" fill="#fdcf31" stroke="#fdcf31"/>
<polygon points="53.3,47.8 54.0,45.6 57.4,44.8 56.7,47.0" fill="#e6c438" stroke="#e6c438"/>
<polygon points="103.0,42.1 103.7,42.9 107.1,43.5 106.4,42.6" fill="#efc438" stroke="#efc438"/>
<polygon points="60.8,44.1 61.5,42.1 64.8,41.5 64.1,43.5" fill="#fec438" stroke="#fec438"/>
<polygon points="98.2,40.2 98.9,40.9 102.3,41.3 101.6,40.6" fill="#fec537" stroke="#fec537"/>
<polygon points="114.1,50.0 114.8,51.6 118.2,52.4 117.4,50.9" fill="#a7c73c" stroke="#a7c73c"/>
<polygon points="108.5,45.4 109.3,46.5 112.6,47.3 111.9,46.1" fill="#d2c538" stroke="#d2c538"/>
<polygon points="84.5,36.4 85.2,36.9 88.6,37.1 87.9,36.6" fill="#fcdf27" stroke="#fcdf27"/>
<polygon points="72.3,39.0 73.0,37.7 76.3,37.5 75.6,38.8" fill="#fcda2a" stroke="#fcda2a"/>
<polygon points="114.8,51.6 115.5,53.2 118.9,54.0 118.2,52.4" fill="#98c748" stroke="#98c748"/>
<polygon points="89.3,37.7 90.0,38.3 93.4,38.5 92.7,37.9" fill="#fcd72b" stroke="#fcd72b"/>
<polygon points="76.3,37.5 77.1,36.7 80.4,36.6 79.7,37.4" fill="#fce125" stroke="#fce125"/>
<polygon points="80.4,36.6 81.2,36.4 84.5,36.4 83.8,36.6" fill="#fbe224" stroke="#fbe224"/>
<polygon points="103.7,42.9 104.5,43.7 107.8,44.4 107.1,43.5" fill="#ecc438" stroke="#ecc438"/>
<polygon points="94.1,39.2 94.9,39.8 98.2,40.2 97.5,39.5" fill="#fdcf31" stroke="#fdcf31"/>
<polygon points="115.5,53.2 116.3,54.9 119.6,55.7 118.9,54.0" fill="#89c755" stroke="#89c755"/>
<polygon points="98.9,40.9 99.7,41.6 103.0,42.1 102.3,41.3" fill="#fec438" stroke="#fec438"/>
<polygon points="109.3,46.5 110.0,47.8 113.4,48.6 112.6,47.3" fill="#ccc539" stroke="#ccc539"/>
<polygon points="64.8,41.5 65.6,39.8 68.9,39.3 68.2,41.1" fill="#fdd32e" stroke="#fdd32e"/>
<polygon points="50.0,48.7 50.7,46.5 54.0,45.6 53.3,47.8" fill="#e5c438" stroke="#e5c438"/>
<polygon points="57.4,44.8 58.1,42.7 61.5,42.1 60.8,44.1" fill="#fec537" stroke="#fec537"/>
<polygon points="116.3,54.9 117.0,56.6 120.3,57.4 119.6,55.7" fill="#78c763" stroke="#78c763"/>
<polygon points="85.2,36.9 86.0,37.6 89.3,37.7 88.6,37.1" fill="#fcdf26" stroke="#fcdf26"/>
<polygon points="110.0,47.8 110.7,49.3 114.1,50.0 113.4,48.6" fill="#c3c639" stroke="#c3c639"/>
<polygon points="104.5,43.7 105.2,44.7 108.5,45.4 107.8,44.4" fill="#e8c438" stroke="#e8c438"/>
<polygon points="90.0,38.3 90.8,39.0 94.1,39.2 93.4,38.5" fill="#fcd72c" stroke="#fcd72c"/>
<polygon points="94.9,39.8 95.6,40.6 98.9,40.9 98.2,40.2" fill="#fdce31" stroke="#fdce31"/>
<polygon points="68.9,39.3 69.6,38.0 73.0,37.7 72.3,39.0" fill="#fcde27" stroke="#fcde27"/>
<polygon points="99.7,41.6 100.4,42.4 103.7,42.9 103.0,42.1" fill="#fdc338" stroke="#fdc338"/>
<polygon points="81.2,36.4 81.9,36.9 85.2,36.9 84.5,36.4" fill="#fbe523" stroke="#fbe523"/>
<polygon points="110.7,49.3 111.5,50.8 114.8,51.6 114.1,50.0" fill="#bac639" stroke="#bac639"/>
<polygon points="73.0,37.7 73.7,36.9 77.1,36.7 76.3,37.5" fill="#fbe622" stroke="#fbe622"/>
<polygon points="105.2,44.7 105.9,45.9 109.3,46.5 108.5,45.4" fill="#e3c438" stroke="#e3c438"/>
<polygon points="61.5,42.1 62.2,40.3 65.6,39.8 64.8,41.5" fill="#fdd52d" stroke="#fdd52d"/>
<polygon points="77.1,36.7 77.8,36.5 81.2,36.4 80.4,36.6" fill="#fbe821" stroke="#fbe821"/>
<polygon points="86.0,37.6 86.7,38.2 90.0,38.3 89.3,37.7" fill="#fcde27" stroke="#fcde27"/>
<polygon points="54.0,45.6 54.8,43.5 58.1,42.7 57.4,44.8" fill="#fec636" stroke="#fec636"/>
<polygon points="111.5,50.8 112.2,52.4 115.5,53.2 114.8,51.6" fill="#afc739" stroke="#afc739"/>
<polygon points="90.8,39.0 91.5,39.6 94.9,39.8 94.1,39.2" fill="#fcd62c" stroke="#fcd62c"/>
<polygon points="100.4,42.4 101.1,43.2 104.5,43.7 103.7,42.9" fill="#fac338" stroke="#fac338"/>
<polygon points="95.6,40.6 96.3,41.3 99.7,41.6 98.9,40.9" fill="#fdcc32" stroke="#fdcc32"/>
<polygon points="112.2,52.4 112.9,54.1 116.3,54.9 115.5,53.2" fill="#a1c742" stroke="#a1c742"/>
<polygon points="105.9,45.9 106.6,47.2 110.0,47.8 109.3,46.5" fill="#dcc538" stroke="#dcc538"/>
<polygon points="81.9,36.9 82.6,37.6 86.0,37.6 85.2,36.9" fill="#fbe522" stroke="#fbe522"/>
<polygon points="65.6,39.8 66.3,38.4 69.6,38.0 68.9,39.3" fill="#fbe125" stroke="#fbe125"/>
<polygon points="112.9,54.1 113.6,55.9 117.0,56.6 116.3,54.9" fill="#90c74f" stroke="#90c74f"/>
<polygon points="86.7,38.2 87.4,38.9 90.8,39.0 90.0,38.3" fill="#fcde27" stroke="#fcde27"/>
<polygon points="101.1,43.2 101.8,44.2 105.2,44.7 104.5,43.7" fill="#f7c438" stroke="#f7c438"/>
<polygon points="50.7,46.5 51.4,44.5 54.8,43.5 54.0,45.6" fill="#fec637" stroke="#fec637"/>
<polygon points="91.5,39.6 92.2,40.4 95.6,40.6 94.9,39.8" fill="#fdd52d" stroke="#fdd52d"/>
<polygon points="106.6,47.2 107.4,48.6 110.7,49.3 110.0,47.8" fill="#d4c538" stroke="#d4c538"/>
<polygon points="77.8,36.5 78.5,37.1 81.9,36.9 81.2,36.4" fill="#fbeb1f" stroke="#fbeb1f"/>
<polygon points="58.1,42.7 58.9,41.0 62.2,40.3 61.5,42.1" fill="#fcd62c" stroke="#fcd62c"/>
<polygon points="96.3,41.3 97.0,42.1 100.4,42.4 99.7,41.6" fill="#fecb33" stroke="#fecb33"/>
<polygon points="69.6,38.0 70.4,37.2 73.7,36.9 73.0,37.7" fill="#fbea20" stroke="#fbea20"/>
<polygon points="73.7,36.9 74.4,36.8 77.8,36.5 77.1,36.7" fill="#faed1e" stroke="#faed1e"/>
<polygon points="82.6,37.6 83.3,38.2 86.7,38.2 86.0,37.6" fill="#fbe523" stroke="#fbe523"/>
<polygon points="107.4,48.6 108.1,50.2 111.5,50.8 110.7,49.3" fill="#cac539" stroke="#cac539"/>
<polygon points="101.8,44.2 102.6,45.3 105.9,45.9 105.2,44.7" fill="#f2c438" stroke="#f2c438"/>
<polygon points="87.4,38.9 88.1,39.6 91.5,39.6 90.8,39.0" fill="#fcdd28" stroke="#fcdd28"/>
<polygon points="92.2,40.4 93.0,41.1 96.3,41.3 95.6,40.6" fill="#fdd42d" stroke="#fdd42d"/>
<polygon points="108.1,50.2 108.8,51.8 112.2,52.4 111.5,50.8" fill="#bfc639" stroke="#bfc639"/>
<polygon points="62.2,40.3 62.9,39.0 66.3,38.4 65.6,39.8" fill="#fbe423" stroke="#fbe423"/>
<polygon points="97.0,42.1 97.8,42.9 101.1,43.2 100.4,42.4" fill="#feca34" stroke="#feca34"/>
<polygon points="78.5,37.1 79.3,37.7 82.6,37.6 81.9,36.9" fill="#fbeb1f" stroke="#fbeb1f"/>
<polygon points="54.8,43.5 55.5,41.8 58.9,41.0 58.1,42.7" fill="#fcd72b" stroke="#fcd72b"/>
<polygon points="108.8,51.8 109.6,53.5 112.9,54.1 112.2,52.4" fill="#b4c639" stroke="#b4c639"/>
<polygon points="102.6,45.3 103.3,46.6 106.6,47.2 105.9,45.9" fill="#ebc438" stroke="#ebc438"/>
<polygon points="83.3,38.2 84.1,38.9 87.4,38.9 86.7,38.2" fill="#fbe423" stroke="#fbe423"/>
<polygon points="74.4,36.8 75.2,37.3 78.5,37.1 77.8,36.5" fill="#faef1c" stroke="#faef1c"/>
<polygon points="66.3,38.4 67.0,37.7 70.4,37.2 69.6,38.0" fill="#faed1e" stroke="#faed1e"/>
<polygon points="88.1,39.6 88.9,40.3 92.2,40.4 91.5,39.6" fill="#fcdc28" stroke="#fcdc28"/>
<polygon points="109.6,53.5 110.3,55.3 113.6,55.9 112.9,54.1" fill="#a6c73d" stroke="#a6c73d"/>
<polygon points="70.4,37.2 71.1,37.1 74.4,36.8 73.7,36.9" fill="#faf11b" stroke="#faf11b"/>
<polygon points="97.8,42.9 98.5,43.8 101.8,44.2 101.1,43.2" fill="#fec735" stroke="#fec735"/>
<polygon points="93.0,41.1 93.7,41.8 97.0,42.1 96.3,41.3" fill="#fdd32e" stroke="#fdd32e"/>
<polygon points="103.3,46.6 104.0,48.1 107.4,48.6 106.6,47.2" fill="#e2c438" stroke="#e2c438"/>
<polygon points="79.3,37.7 80.0,38.3 83.3,38.2 82.6,37.6" fill="#fbea1f" stroke="#fbea1f"/>
<polygon points="58.9,41.0 59.6,39.7 62.9,39.0 62.2,40.3" fill="#fbe522" stroke="#fbe522"/>
<polygon points="51.4,44.5 52.1,42.7 55.5,41.8 54.8,43.5" fill="#fcd72c" stroke="#fcd72c"/>
<polygon points="84.1,38.9 84.8,39.6 88.1,39.6 87.4,38.9" fill="#fbe324" stroke="#fbe324"/>
<polygon points="104.0,48.1 104.7,49.6 108.1,50.2 107.4,48.6" fill="#d9c538" stroke="#d9c538"/>
<polygon points="75.2,37.3 75.9,37.9 79.3,37.7 78.5,37.1" fill="#faef1c" stroke="#faef1c"/>
<polygon points="98.5,43.8 99.2,44.9 102.6,45.3 101.8,44.2" fill="#fec438" stroke="#fec438"/>
<polygon points="88.9,40.3 89.6,41.0 93.0,41.1 92.2,40.4" fill="#fcdb29" stroke="#fcdb29"/>
<polygon points="93.7,41.8 94.4,42.6 97.8,42.9 97.0,42.1" fill="#fdd22f" stroke="#fdd22f"/>
<polygon points="104.7,49.6 105.5,51.3 108.8,51.8 108.1,50.2" fill="#cec538" stroke="#cec538"/>
<polygon points="62.9,39.0 63.7,38.2 67.0,37.7 66.3,38.4" fill="#faef1c" stroke="#faef1c"/>
<polygon points="71.1,37.1 71.8,37.6 75.2,37.3 74.4,36.8" fill="#faf319" stroke="#faf319"/>
<polygon points="80.0,38.3 80.7,39.0 84.1,38.9 83.3,38.2" fill="#fbe920" stroke="#fbe920"/>
<polygon points="67.0,37.7 67.7,37.6 71.1,37.1 70.4,37.2" fill="#faf419" stroke="#faf419"/>
<polygon points="99.2,44.9 99.9,46.2 103.3,46.6 102.6,45.3" fill="#f9c438" stroke="#f9c438"/>
<polygon points="105.5,51.3 106.2,53.0 109.6,53.5 108.8,51.8" fill="#c2c639" stroke="#c2c639"/>
<polygon points="84.8,39.6 85.5,40.3 88.9,40.3 88.1,39.6" fill="#fbe224" stroke="#fbe224"/>
<polygon points="55.5,41.8 56.2,40.5 59.6,39.7 58.9,41.0" fill="#fbe622" stroke="#fbe622"/>
<polygon points="75.9,37.9 76.6,38.6 80.0,38.3 79.3,37.7" fill="#faef1c" stroke="#faef1c"/>
<polygon points="89.6,41.0 90.3,41.7 93.7,41.8 93.0,41.1" fill="#fcda29" stroke="#fcda29"/>
<polygon points="94.4,42.6 95.1,43.5 98.5,43.8 97.8,42.9" fill="#fdd030" stroke="#fdd030"/>
<polygon points="106.2,53.0 106.9,54.8 110.3,55.3 109.6,53.5" fill="#b6c639" stroke="#b6c639"/>
<polygon points="99.9,46.2 100.7,47.7 104.0,48.1 103.3,46.6" fill="#f0c438" stroke="#f0c438"/>
<polygon points="80.7,39.0 81.4,39.7 84.8,39.6 84.1,38.9" fill="#fbe920" stroke="#fbe920"/>
<polygon points="71.8,37.6 72.5,38.3 75.9,37.9 75.2,37.3" fill="#faf319" stroke="#faf319"/>
<polygon points="59.6,39.7 60.3,38.9 63.7,38.2 62.9,39.0" fill="#faf11b" stroke="#faf11b"/>
<polygon points="85.5,40.3 86.2,41.0 89.6,41.0 88.9,40.3" fill="#fbe125" stroke="#fbe125"/>
<polygon points="100.7,47.7 101.4,49.2 104.7,49.6 104.0,48.1" fill="#e6c438" stroke="#e6c438"/>
<polygon points="67.7,37.6 68.5,38.1 71.8,37.6 71.1,37.1" fill="#faf617" stroke="#faf617"/>
<polygon points="95.1,43.5 95.9,44.7 99.2,44.9 98.5,43.8" fill="#fdcc32" stroke="#fdcc32"/>
<polygon points="90.3,41.7 91.1,42.5 94.4,42.6 93.7,41.8" fill="#fcd92a" stroke="#fcd92a"/>
<polygon points="63.7,38.2 64.4,38.1 67.7,37.6 67.0,37.7" fill="#faf618" stroke="#faf618"/>
<polygon points="76.6,38.6 77.4,39.2 80.7,39.0 80.0,38.3" fill="#faee1d" stroke="#faee1d"/>
<polygon points="52.1,42.7 52.9,41.4 56.2,40.5 55.5,41.8" fill="#fbe622" stroke="#fbe622"/>
<polygon points="101.4,49.2 102.1,50.9 105.5,51.3 104.7,49.6" fill="#dcc538" stroke="#dcc538"/>
<polygon points="81.4,39.7 82.2,40.4 85.5,40.3 84.8,39.6" fill="#fbe821" stroke="#fbe821"/>
<polygon points="72.5,38.3 73.3,38.9 76.6,38.6 75.9,37.9" fill="#faf31a" stroke="#faf31a"/>
<polygon points="95.9,44.7 96.6,45.9 99.9,46.2 99.2,44.9" fill="#fec835" stroke="#fec835"/>
<polygon points="102.1,50.9 102.8,52.6 106.2,53.0 105.5,51.3" fill="#d0c538" stroke="#d0c538"/>
<polygon points="86.2,41.0 87.0,41.7 90.3,41.7 89.6,41.0" fill="#fce025" stroke="#fce025"/>
<polygon points="91.1,42.5 91.8,43.4 95.1,43.5 94.4,42.6" fill="#fcd72b" stroke="#fcd72b"/>
<polygon points="56.2,40.5 57.0,39.7 60.3,38.9 59.6,39.7" fill="#faf11b" stroke="#faf11b"/>
<polygon points="68.5,38.1 69.2,38.7 72.5,38.3 71.8,37.6" fill="#faf618" stroke="#faf618"/>
<polygon points="77.4,39.2 78.1,39.9 81.4,39.7 80.7,39.0" fill="#faed1d" stroke="#faed1d"/>
<polygon points="102.8,52.6 103.6,54.4 106.9,54.8 106.2,53.0" fill="#c4c639" stroke="#c4c639"/>
<polygon points="96.6,45.9 97.3,47.4 100.7,47.7 99.9,46.2" fill="#fdc338" stroke="#fdc338"/>
<polygon points="64.4,38.1 65.1,38.7 68.5,38.1 67.7,37.6" fill="#f9f916" stroke="#f9f916"/>
<polygon points="60.3,38.9 61.0,38.8 64.4,38.1 63.7,38.2" fill="#f9f817" stroke="#f9f817"/>
<polygon points="82.2,40.4 82.9,41.1 86.2,41.0 85.5,40.3" fill="#fbe721" stroke="#fbe721"/>
<polygon points="73.3,38.9 74.0,39.6 77.4,39.2 76.6,38.6" fill="#faf21a" stroke="#faf21a"/>
<polygon points="91.8,43.4 92.5,44.5 95.9,44.7 95.1,43.5" fill="#fdd42e" stroke="#fdd42e"/>
<polygon points="97.3,47.4 98.0,48.9 101.4,49.2 100.7,47.7" fill="#f3c438" stroke="#f3c438"/>
<polygon points="87.0,41.7 87.7,42.4 91.1,42.5 90.3,41.7" fill="#fcdf26" stroke="#fcdf26"/>
<polygon points="69.2,38.7 69.9,39.4 73.3,38.9 72.5,38.3" fill="#faf618" stroke="#faf618"/>
<polygon points="78.1,39.9 78.8,40.6 82.2,40.4 81.4,39.7" fill="#faec1e" stroke="#faec1e"/>
<polygon points="52.9,41.4 53.6,40.6 57.0,39.7 56.2,40.5" fill="#faf11b" stroke="#faf11b"/>
<polygon points="98.0,48.9 98.8,50.6 102.1,50.9 101.4,49.2" fill="#e8c438" stroke="#e8c438"/>
<polygon points="65.1,38.7 65.8,39.3 69.2,38.7 68.5,38.1" fill="#f9f916" stroke="#f9f916"/>
<polygon points="92.5,44.5 93.2,45.8 96.6,45.9 95.9,44.7" fill="#fdcf30" stroke="#fdcf30"/>
<polygon points="82.9,41.1 83.6,41.8 87.0,41.7 86.2,41.0" fill="#fbe622" stroke="#fbe622"/>
<polygon points="74.0,39.6 74.7,40.3 78.1,39.9 77.4,39.2" fill="#faf11b" stroke="#faf11b"/>
<polygon points="57.0,39.7 57.7,39.6 61.0,38.8 60.3,38.9" fill="#f9f816" stroke="#f9f816"/>
<polygon points="61.0,38.8 61.8,39.4 65.1,38.7 64.4,38.1" fill="#f9fa15" stroke="#f9fa15"/>
<polygon points="98.8,50.6 99.5,52.3 102.8,52.6 102.1,50.9" fill="#dcc538" stroke="#dcc538"/>
<polygon points="87.7,42.4 88.4,43.3 91.8,43.4 91.1,42.5" fill="#fcde27" stroke="#fcde27"/>
<polygon points="99.5,52.3 100.2,54.1 103.6,54.4 102.8,52.6" fill="#d0c538" stroke="#d0c538"/>
<polygon points="69.9,39.4 70.6,40.0 74.0,39.6 73.3,38.9" fill="#faf518" stroke="#faf518"/>
<polygon points="78.8,40.6 79.5,41.3 82.9,41.1 82.2,40.4" fill="#fbec1e" stroke="#fbec1e"/>
<polygon points="93.2,45.8 94.0,47.2 97.3,47.4 96.6,45.9" fill="#feca34" stroke="#feca34"/>
<polygon points="65.8,39.3 66.6,39.9 69.9,39.4 69.2,38.7" fill="#f9f816" stroke="#f9f816"/>
<polygon points="83.6,41.8 84.3,42.5 87.7,42.4 87.0,41.7" fill="#fbe523" stroke="#fbe523"/>
<polygon points="88.4,43.3 89.2,44.4 92.5,44.5 91.8,43.4" fill="#fcda29" stroke="#fcda29"/>
<polygon points="74.7,40.3 75.5,41.0 78.8,40.6 78.1,39.9" fill="#faf01b" stroke="#faf01b"/>
<polygon points="94.0,47.2 94.7,48.8 98.0,48.9 97.3,47.4" fill="#fec338" stroke="#fec338"/>
<polygon points="61.8,39.4 62.5,40.0 65.8,39.3 65.1,38.7" fill="#f9fa15" stroke="#f9fa15"/>
<polygon points="53.6,40.6 54.3,40.5 57.7,39.6 57.0,39.7" fill="#f9f816" stroke="#f9f816"/>
<polygon points="57.7,39.6 58.4,40.2 61.8,39.4 61.0,38.8" fill="#f9fb15" stroke="#f9fb15"/>
<polygon points="70.6,40.0 71.4,40.7 74.7,40.3 74.0,39.6" fill="#faf419" stroke="#faf419"/>
<polygon points="79.5,41.3 80.3,42.0 83.6,41.8 82.9,41.1" fill="#fbeb1f" stroke="#fbeb1f"/>
<polygon points="94.7,48.8 95.4,50.4 98.8,50.6 98.0,48.9" fill="#f3c438" stroke="#f3c438"/>
<polygon points="89.2,44.4 89.9,45.7 93.2,45.8 92.5,44.5" fill="#fdd62c" stroke="#fdd62c"/>
<polygon points="84.3,42.5 85.1,43.4 88.4,43.3 87.7,42.4" fill="#fbe324" stroke="#fbe324"/>
<polygon points="66.6,39.9 67.3,40.6 70.6,40.0 69.9,39.4" fill="#f9f717" stroke="#f9f717"/>
<polygon points="95.4,50.4 96.1,52.1 99.5,52.3 98.8,50.6" fill="#e8c438" stroke="#e8c438"/>
<polygon points="75.5,41.0 76.2,41.7 79.5,41.3 78.8,40.6" fill="#faf01c" stroke="#faf01c"/>
<polygon points="62.5,40.0 63.2,40.6 66.6,39.9 65.8,39.3" fill="#f9fa15" stroke="#f9fa15"/>
<polygon points="89.9,45.7 90.6,47.1 94.0,47.2 93.2,45.8" fill="#fdd030" stroke="#fdd030"/>
<polygon points="96.1,52.1 96.9,53.9 100.2,54.1 99.5,52.3" fill="#dcc538" stroke="#dcc538"/>
<polygon points="58.4,40.2 59.1,40.8 62.5,40.0 61.8,39.4" fill="#f9fb15" stroke="#f9fb15"/>
<polygon points="71.4,40.7 72.1,41.4 75.5,41.0 74.7,40.3" fill="#faf319" stroke="#faf319"/>
<polygon points="80.3,42.0 81.0,42.7 84.3,42.5 83.6,41.8" fill="#fbea1f" stroke="#fbea1f"/>
<polygon points="54.3,40.5 55.1,41.1 58.4,40.2 57.7,39.6" fill="#f9fb15" stroke="#f9fb15"/>
<polygon points="85.1,43.4 85.8,44.5 89.2,44.4 88.4,43.3" fill="#fce026" stroke="#fce026"/>
<polygon points="90.6,47.1 91.3,48.7 94.7,48.8 94.0,47.2" fill="#feca34" stroke="#feca34"/>
<polygon points="67.3,40.6 68.0,41.3 71.4,40.7 70.6,40.0" fill="#faf717" stroke="#faf717"/>
<polygon points="76.2,41.7 76.9,42.4 80.3,42.0 79.5,41.3" fill="#faef1c" stroke="#faef1c"/>
<polygon points="63.2,40.6 63.9,41.3 67.3,40.6 66.6,39.9" fill="#f9f916" stroke="#f9f916"/>
<polygon points="91.3,48.7 92.1,50.3 95.4,50.4 94.7,48.8" fill="#fdc338" stroke="#fdc338"/>
<polygon points="85.8,44.5 86.5,45.8 89.9,45.7 89.2,44.4" fill="#fcdc28" stroke="#fcdc28"/>
<polygon points="81.0,42.7 81.7,43.6 85.1,43.4 84.3,42.5" fill="#fbe821" stroke="#fbe821"/>
<polygon points="59.1,40.8 59.9,41.4 63.2,40.6 62.5,40.0" fill="#f9fa15" stroke="#f9fa15"/>
<polygon points="72.1,41.4 72.8,42.1 76.2,41.7 75.5,41.0" fill="#faf31a" stroke="#faf31a"/>
<polygon points="55.1,41.1 55.8,41.7 59.1,40.8 58.4,40.2" fill="#f9fa15" stroke="#f9fa15"/>
<polygon points="92.1,50.3 92.8,52.0 96.1,52.1 95.4,50.4" fill="#f2c438" stroke="#f2c438"/>
<polygon points="68.0,41.3 68.8,42.0 72.1,41.4 71.4,40.7" fill="#faf618" stroke="#faf618"/>
<polygon points="86.5,45.8 87.3,47.2 90.6,47.1 89.9,45.7" fill="#fcd62c" stroke="#fcd62c"/>
<polygon points="76.9,42.4 77.6,43.1 81.0,42.7 80.3,42.0" fill="#faee1d" stroke="#faee1d"/>
<polygon points="92.8,52.0 93.5,53.8 96.9,53.9 96.1,52.1" fill="#e6c438" stroke="#e6c438"/>
<polygon points="63.9,41.3 64.7,42.0 68.0,41.3 67.3,40.6" fill="#f9f816" stroke="#f9f816"/>
<polygon points="81.7,43.6 82.4,44.7 85.8,44.5 85.1,43.4" fill="#fbe522" stroke="#fbe522"/>
<polygon points="59.9,41.4 60.6,42.1 63.9,41.3 63.2,40.6" fill="#f9fa15" stroke="#f9fa15"/>
<polygon points="72.8,42.1 73.6,42.8 76.9,42.4 76.2,41.7" fill="#faf21a" stroke="#faf21a"/>
<polygon points="87.3,47.2 88.0,48.7 91.3,48.7 90.6,47.1" fill="#fdd030" stroke="#fdd030"/>
<polygon points="55.8,41.7 56.5,42.3 59.9,41.4 59.1,40.8" fill="#f9fa15" stroke="#f9fa15"/>
<polygon points="68.8,42.0 69.5,42.7 72.8,42.1 72.1,41.4" fill="#faf518" stroke="#faf518"/>
<polygon points="82.4,44.7 83.2,46.0 86.5,45.8 85.8,44.5" fill="#fce125" stroke="#fce125"/>
<polygon points="77.6,43.1 78.4,43.9 81.7,43.6 81.0,42.7" fill="#faec1e" stroke="#faec1e"/>
<polygon points="88.0,48.7 88.7,50.4 92.1,50.3 91.3,48.7" fill="#fec935" stroke="#fec935"/>
<polygon points="64.7,42.0 65.4,42.7 68.8,42.0 68.0,41.3" fill="#f9f717" stroke="#f9f717"/>
<polygon points="88.7,50.4 89.4,52.1 92.8,52.0 92.1,50.3" fill="#fbc338" stroke="#fbc338"/>
<polygon points="60.6,42.1 61.3,42.7 64.7,42.0 63.9,41.3" fill="#f9f916" stroke="#f9f916"/>
<polygon points="73.6,42.8 74.3,43.5 77.6,43.1 76.9,42.4" fill="#faf11b" stroke="#faf11b"/>
<polygon points="83.2,46.0 83.9,47.4 87.3,47.2 86.5,45.8" fill="#fcdb29" stroke="#fcdb29"/>
<polygon points="56.5,42.3 57.2,43.0 60.6,42.1 59.9,41.4" fill="#f9fa15" stroke="#f9fa15"/>
<polygon points="89.4,52.1 90.2,53.8 93.5,53.8 92.8,52.0" fill="#efc438" stroke="#efc438"/>
<polygon points="78.4,43.9 79.1,45.0 82.4,44.7 81.7,43.6" fill="#fbe920" stroke="#fbe920"/>
<polygon points="69.5,42.7 70.2,43.4 73.6,42.8 72.8,42.1" fill="#faf419" stroke="#faf419"/>
<polygon points="83.9,47.4 84.6,48.9 88.0,48.7 87.3,47.2" fill="#fdd52d" stroke="#fdd52d"/>
<polygon points="65.4,42.7 66.1,43.3 69.5,42.7 68.8,42.0" fill="#faf717" stroke="#faf717"/>
<polygon points="74.3,43.5 75.0,44.4 78.4,43.9 77.6,43.1" fill="#faef1c" stroke="#faef1c"/>
<polygon points="61.3,42.7 62.0,43.4 65.4,42.7 64.7,42.0" fill="#f9f816" stroke="#f9f816"/>
<polygon points="79.1,45.0 79.8,46.3 83.2,46.0 82.4,44.7" fill="#fbe523" stroke="#fbe523"/>
<polygon points="84.6,48.9 85.4,50.5 88.7,50.4 88.0,48.7" fill="#fdce31" stroke="#fdce31"/>
<polygon points="57.2,43.0 58.0,43.6 61.3,42.7 60.6,42.1" fill="#f9f916" stroke="#f9f916"/>
<polygon points="70.2,43.4 70.9,44.1 74.3,43.5 73.6,42.8" fill="#faf319" stroke="#faf319"/>
<polygon points="85.4,50.5 86.1,52.2 89.4,52.1 88.7,50.4" fill="#fec636" stroke="#fec636"/>
<polygon points="79.8,46.3 80.5,47.7 83.9,47.4 83.2,46.0" fill="#fce026" stroke="#fce026"/>
<polygon points="66.1,43.3 66.9,44.0 70.2,43.4 69.5,42.7" fill="#faf618" stroke="#faf618"/>
<polygon points="75.0,44.4 75.7,45.5 79.1,45.0 78.4,43.9" fill="#faec1e" stroke="#faec1e"/>
<polygon points="86.1,52.2 86.8,54.0 90.2,53.8 89.4,52.1" fill="#f7c438" stroke="#f7c438"/>
<polygon points="62.0,43.4 62.8,44.1 66.1,43.3 65.4,42.7" fill="#f9f717" stroke="#f9f717"/>
<polygon points="80.5,47.7 81.3,49.2 84.6,48.9 83.9,47.4" fill="#fcd92a" stroke="#fcd92a"/>
<polygon points="58.0,43.6 58.7,44.3 62.0,43.4 61.3,42.7" fill="#f9f816" stroke="#f9f816"/>
<polygon points="70.9,44.1 71.7,44.9 75.0,44.4 74.3,43.5" fill="#faf21a" stroke="#faf21a"/>
<polygon points="75.7,45.5 76.5,46.7 79.8,46.3 79.1,45.0" fill="#fbe820" stroke="#fbe820"/>
<polygon points="81.3,49.2 82.0,50.8 85.4,50.5 84.6,48.9" fill="#fdd22e" stroke="#fdd22e"/>
<polygon points="66.9,44.0 67.6,44.8 70.9,44.1 70.2,43.4" fill="#faf518" stroke="#faf518"/>
<polygon points="62.8,44.1 63.5,44.8 66.9,44.0 66.1,43.3" fill="#faf617" stroke="#faf617"/>
<polygon points="82.0,50.8 82.7,52.5 86.1,52.2 85.4,50.5" fill="#fecb33" stroke="#fecb33"/>
<polygon points="76.5,46.7 77.2,48.1 80.5,47.7 79.8,46.3" fill="#fbe324" stroke="#fbe324"/>
<polygon points="71.7,44.9 72.4,46.0 75.7,45.5 75.0,44.4" fill="#faef1c" stroke="#faef1c"/>
<polygon points="58.7,44.3 59.4,45.0 62.8,44.1 62.0,43.4" fill="#f9f717" stroke="#f9f717"/>
<polygon points="82.7,52.5 83.5,54.2 86.8,54.0 86.1,52.2" fill="#fdc338" stroke="#fdc338"/>
<polygon points="67.6,44.8 68.3,45.6 71.7,44.9 70.9,44.1" fill="#faf319" stroke="#faf319"/>
<polygon points="77.2,48.1 77.9,49.6 81.3,49.2 80.5,47.7" fill="#fcdd28" stroke="#fcdd28"/>
<polygon points="72.4,46.0 73.1,47.3 76.5,46.7 75.7,45.5" fill="#fbeb1f" stroke="#fbeb1f"/>
<polygon points="63.5,44.8 64.2,45.6 67.6,44.8 66.9,44.0" fill="#faf518" stroke="#faf518"/>
<polygon points="77.9,49.6 78.6,51.2 82.0,50.8 81.3,49.2" fill="#fdd62c" stroke="#fdd62c"/>
<polygon points="59.4,45.0 60.1,45.7 63.5,44.8 62.8,44.1" fill="#faf617" stroke="#faf617"/>
<polygon points="68.3,45.6 69.0,46.7 72.4,46.0 71.7,44.9" fill="#faf01b" stroke="#faf01b"/>
<polygon points="73.1,47.3 73.8,48.6 77.2,48.1 76.5,46.7" fill="#fbe622" stroke="#fbe622"/>
<polygon points="78.6,51.2 79.4,52.8 82.7,52.5 82.0,50.8" fill="#fdce31" stroke="#fdce31"/>
<polygon points="64.2,45.6 65.0,46.4 68.3,45.6 67.6,44.8" fill="#faf419" stroke="#faf419"/>
<polygon points="79.4,52.8 80.1,54.5 83.5,54.2 82.7,52.5" fill="#fec736" stroke="#fec736"/>
<polygon points="73.8,48.6 74.6,50.1 77.9,49.6 77.2,48.1" fill="#fcdf26" stroke="#fcdf26"/>
<polygon points="60.1,45.7 60.9,46.5 64.2,45.6 63.5,44.8" fill="#faf518" stroke="#faf518"/>
<polygon points="69.0,46.7 69.8,47.9 73.1,47.3 72.4,46.0" fill="#faec1e" stroke="#faec1e"/>
<polygon points="74.6,50.1 75.3,51.7 78.6,51.2 77.9,49.6" fill="#fcd92a" stroke="#fcd92a"/>
<polygon points="65.0,46.4 65.7,47.5 69.0,46.7 68.3,45.6" fill="#faf11b" stroke="#faf11b"/>
<polygon points="69.8,47.9 70.5,49.3 73.8,48.6 73.1,47.3" fill="#fbe721" stroke="#fbe721"/>
<polygon points="75.3,51.7 76.0,53.3 79.4,52.8 78.6,51.2" fill="#fdd12f" stroke="#fdd12f"/>
<polygon points="60.9,46.5 61.6,47.4 65.0,46.4 64.2,45.6" fill="#faf419" stroke="#faf419"/>
<polygon points="70.5,49.3 71.2,50.7 74.6,50.1 73.8,48.6" fill="#fbe125" stroke="#fbe125"/>
<polygon points="76.0,53.3 76.7,55.0 80.1,54.5 79.4,52.8" fill="#feca34" stroke="#feca34"/>
<polygon points="65.7,47.5 66.4,48.7 69.8,47.9 69.0,46.7" fill="#faed1d" stroke="#faed1d"/>
<polygon points="61.6,47.4 62.3,48.4 65.7,47.5 65.0,46.4" fill="#faf11b" stroke="#faf11b"/>
<polygon points="71.2,50.7 71.9,52.3 75.3,51.7 74.6,50.1" fill="#fcdb29" stroke="#fcdb29"/>
<polygon points="66.4,48.7 67.1,50.0 70.5,49.3 69.8,47.9" fill="#fbe821" stroke="#fbe821"/>
<polygon points="71.9,52.3 72.7,53.9 76.0,53.3 75.3,51.7" fill="#fdd32e" stroke="#fdd32e"/>
<polygon points="62.3,48.4 63.1,49.6 66.4,48.7 65.7,47.5" fill="#faed1d" stroke="#faed1d"/>
<polygon points="67.1,50.0 67.9,51.5 71.2,50.7 70.5,49.3" fill="#fbe224" stroke="#fbe224"/>
<polygon points="72.7,53.9 73.4,55.6 76.7,55.0 76.0,53.3" fill="#fdcc33" stroke="#fdcc33"/>
<polygon points="67.9,51.5 68.6,53.0 71.9,52.3 71.2,50.7" fill="#fcdc28" stroke="#fcdc28"/>
<polygon points="63.1,49.6 63.8,50.9 67.1,50.0 66.4,48.7" fill="#fbe821" stroke="#fbe821"/>
<polygon points="68.6,53.0 69.3,54.6 72.7,53.9 71.9,52.3" fill="#fdd52d" stroke="#fdd52d"/>
<polygon points="63.8,50.9 64.5,52.3 67.9,51.5 67.1,50.0" fill="#fbe224" stroke="#fbe224"/>
<polygon points="69.3,54.6 70.0,56.2 73.4,55.6 72.7,53.9" fill="#fdcd32" stroke="#fdcd32"/>
<polygon points="64.5,52.3 65.2,53.8 68.6,53.0 67.9,51.5" fill="#fcdc28" stroke="#fcdc28"/>
<polygon points="65.2,53.8 66.0,55.4 69.3,54.6 68.6,53.0" fill="#fdd52d" stroke="#fdd52d"/>
<polygon points="66.0,55.4 66.7,57.0 70.0,56.2 69.3,54.6" fill="#fdce31" stroke="#fdce31"/>
</g>
<path class="ax" d="M31.2 87.6L68.8 117.1M68.8 117.1L145.1 98.0M31.2 87.6L31.2 27.0M31.2 87.6L29.6 88.0M43.7 97.4L42.2 97.8M56.3 107.3L54.7 107.7M68.8 117.1L67.2 117.5M68.8 117.1L70.1 118.1M87.9 112.3L89.1 113.3M106.9 107.5L108.2 108.5M126.0 102.8L127.3 103.8M145.1 98.0L146.4 99.0M31.2 87.6L29.6 88.0M31.2 78.9L29.6 79.3M31.2 70.3L29.6 70.7M31.2 61.6L29.6 62.0M31.2 53.0L29.6 53.4M31.2 44.3L29.6 44.7M31.2 35.7L29.6 36.0M31.2 27.0L29.6 27.4"/>
<text class="t e" x="26.3" y="94.4">−50</text>
<text class="t e" x="38.8" y="104.2">0</text>
<text class="t e" x="51.4" y="114.1">50</text>
<text class="t e" x="63.9" y="123.9">100</text>
<text class="t" x="68.4" y="127.5">100</text>
<text class="t" x="87.5" y="122.7">50</text>
<text class="t" x="106.5" y="118.0">0</text>
<text class="t" x="125.6" y="113.2">−50</text>
<text class="t" x="144.7" y="108.4">−100</text>
<text class="t e" x="27.6" y="88.8">24</text>
<text class="t e" x="27.6" y="81.1">26</text>
<text class="t e" x="27.6" y="72.5">28</text>
<text class="t e" x="27.6" y="63.8">30</text>
<text class="t e" x="27.6" y="55.2">32</text>
<text class="t e" x="27.6" y="46.5">34</text>
<text class="t e" x="27.6" y="37.9">36</text>
<text class="t e" x="27.6" y="29.2">38</text>
<text class="t m" transform="translate(66.5 18.0) rotate(-12.0)">Scheme A</text>
<text class="t m" x="27.6" y="117.4"><tspan class="i">d</tspan><tspan class="sub" dy="1.5">1</tspan><tspan dy="-1.5"> (µm)</tspan></text>
<text class="t m" x="117.5" y="129.0"><tspan class="i">d</tspan><tspan class="sub" dy="1.5">2</tspan><tspan dy="-1.5"> (µm)</tspan></text>
<text class="t m" transform="translate(13.0 56.5) rotate(-90)">FSO (mV)</text></g>
<g><path class="gr" d="M199.2 86.0L279.5 66.8M279.5 66.8L279.5 6.1M208.0 93.2L288.3 74.0M288.3 74.0L288.3 13.3M216.8 100.5L297.1 81.3M297.1 81.3L297.1 20.6M225.7 107.8L306.0 88.5M306.0 88.5L306.0 27.8M234.5 115.0L314.8 95.8M314.8 95.8L314.8 35.1M199.2 86.0L234.5 115.0M199.2 86.0L199.2 25.3M219.3 81.2L254.6 110.2M219.3 81.2L219.3 20.5M239.3 76.4L274.6 105.4M239.3 76.4L239.3 15.7M259.4 71.6L294.7 100.6M259.4 71.6L259.4 10.9M279.5 66.8L314.8 95.8M279.5 66.8L279.5 6.1M199.2 86.0L279.5 66.8M279.5 66.8L314.8 95.8M199.2 70.8L279.5 51.6M279.5 51.6L314.8 80.6M199.2 55.6L279.5 36.4M279.5 36.4L314.8 65.4M199.2 40.5L279.5 21.3M279.5 21.3L314.8 50.3M199.2 25.3L279.5 6.1M279.5 6.1L314.8 35.1"/>
<g filter="url(#sb)">
<polygon points="285.2,37.5 289.2,40.6 291.0,41.2 286.9,37.9" fill="#57c87d" stroke="#57c87d"/>
<polygon points="283.4,37.0 287.4,40.1 289.2,40.6 285.2,37.5" fill="#70c769" stroke="#70c769"/>
<polygon points="281.6,36.6 285.6,39.6 287.4,40.1 283.4,37.0" fill="#88c755" stroke="#88c755"/>
<polygon points="279.8,36.2 283.9,39.1 285.6,39.6 281.6,36.6" fill="#a0c742" stroke="#a0c742"/>
<polygon points="278.1,35.8 282.1,38.6 283.9,39.1 279.8,36.2" fill="#b4c639" stroke="#b4c639"/>
<polygon points="276.3,35.3 280.3,38.1 282.1,38.6 278.1,35.8" fill="#c6c639" stroke="#c6c639"/>
<polygon points="274.5,34.7 278.5,37.6 280.3,38.1 276.3,35.3" fill="#d8c538" stroke="#d8c538"/>
<polygon points="289.2,40.6 293.2,43.8 295.0,44.5 291.0,41.2" fill="#59c87c" stroke="#59c87c"/>
<polygon points="272.7,34.1 276.8,37.0 278.5,37.6 274.5,34.7" fill="#ebc438" stroke="#ebc438"/>
<polygon points="287.4,40.1 291.4,43.2 293.2,43.8 289.2,40.6" fill="#75c765" stroke="#75c765"/>
<polygon points="271.0,33.6 275.0,36.6 276.8,37.0 272.7,34.1" fill="#fec338" stroke="#fec338"/>
<polygon points="285.6,39.6 289.7,42.6 291.4,43.2 287.4,40.1" fill="#90c74f" stroke="#90c74f"/>
<polygon points="269.2,33.2 273.2,36.2 275.0,36.6 271.0,33.6" fill="#fdce31" stroke="#fdce31"/>
<polygon points="283.9,39.1 287.9,42.0 289.7,42.6 285.6,39.6" fill="#abc739" stroke="#abc739"/>
<polygon points="267.4,33.0 271.4,35.9 273.2,36.2 269.2,33.2" fill="#fcd82b" stroke="#fcd82b"/>
<polygon points="282.1,38.6 286.1,41.4 287.9,42.0 283.9,39.1" fill="#bdc639" stroke="#bdc639"/>
<polygon points="265.6,33.0 269.7,35.9 271.4,35.9 267.4,33.0" fill="#fcdf26" stroke="#fcdf26"/>
<polygon points="280.3,38.1 284.3,40.9 286.1,41.4 282.1,38.6" fill="#cfc538" stroke="#cfc538"/>
<polygon points="263.9,33.2 267.9,36.1 269.7,35.9 265.6,33.0" fill="#fbe324" stroke="#fbe324"/>
<polygon points="262.1,33.5 266.1,36.5 267.9,36.1 263.9,33.2" fill="#fbe522" stroke="#fbe522"/>
<polygon points="293.2,43.8 297.2,47.0 299.0,47.8 295.0,44.5" fill="#5ac87b" stroke="#5ac87b"/>
<polygon points="278.5,37.6 282.6,40.4 284.3,40.9 280.3,38.1" fill="#e1c438" stroke="#e1c438"/>
<polygon points="260.3,34.0 264.3,36.9 266.1,36.5 262.1,33.5" fill="#fbe522" stroke="#fbe522"/>
<polygon points="208.9,74.5 212.9,77.3 214.7,75.2 210.7,72.3" fill="#4031bb" stroke="#4031bb"/>
<polygon points="258.5,34.6 262.6,37.5 264.3,36.9 260.3,34.0" fill="#fbe423" stroke="#fbe423"/>
<polygon points="210.7,72.3 214.7,75.2 216.4,73.2 212.4,70.2" fill="#4442d9" stroke="#4442d9"/>
<polygon points="291.4,43.2 295.5,46.2 297.2,47.0 293.2,43.8" fill="#7ac761" stroke="#7ac761"/>
<polygon points="276.8,37.0 280.8,39.9 282.6,40.4 278.5,37.6" fill="#f4c438" stroke="#f4c438"/>
<polygon points="256.8,35.2 260.8,38.1 262.6,37.5 258.5,34.6" fill="#fbe225" stroke="#fbe225"/>
<polygon points="212.4,70.2 216.4,73.2 218.2,71.1 214.2,68.2" fill="#4753f4" stroke="#4753f4"/>
<polygon points="255.0,35.9 259.0,38.8 260.8,38.1 256.8,35.2" fill="#fcdf27" stroke="#fcdf27"/>
<polygon points="214.2,68.2 218.2,71.1 220.0,69.2 216.0,66.2" fill="#3d67f5" stroke="#3d67f5"/>
<polygon points="216.0,66.2 220.0,69.2 221.8,67.2 217.7,64.2" fill="#347af6" stroke="#347af6"/>
<polygon points="253.2,36.6 257.2,39.5 259.0,38.8 255.0,35.9" fill="#fcdb29" stroke="#fcdb29"/>
<polygon points="275.0,36.6 279.0,39.5 280.8,39.9 276.8,37.0" fill="#fec835" stroke="#fec835"/>
<polygon points="289.7,42.6 293.7,45.5 295.5,46.2 291.4,43.2" fill="#98c748" stroke="#98c748"/>
<polygon points="217.7,64.2 221.8,67.2 223.5,65.4 219.5,62.3" fill="#2b8bf4" stroke="#2b8bf4"/>
<polygon points="251.5,37.3 255.5,40.2 257.2,39.5 253.2,36.6" fill="#fcd72b" stroke="#fcd72b"/>
<polygon points="219.5,62.3 223.5,65.4 225.3,63.5 221.3,60.5" fill="#2199e9" stroke="#2199e9"/>
<polygon points="249.7,38.1 253.7,41.0 255.5,40.2 251.5,37.3" fill="#fdd32e" stroke="#fdd32e"/>
<polygon points="221.3,60.5 225.3,63.5 227.1,61.8 223.1,58.7" fill="#19a7de" stroke="#19a7de"/>
<polygon points="223.1,58.7 227.1,61.8 228.9,60.1 224.8,57.0" fill="#14b3d2" stroke="#14b3d2"/>
<polygon points="247.9,39.0 251.9,41.9 253.7,41.0 249.7,38.1" fill="#fdce31" stroke="#fdce31"/>
<polygon points="273.2,36.2 277.2,39.1 279.0,39.5 275.0,36.6" fill="#fdd32e" stroke="#fdd32e"/>
<polygon points="224.8,57.0 228.9,60.1 230.6,58.4 226.6,55.2" fill="#1fb9bf" stroke="#1fb9bf"/>
<polygon points="246.1,40.0 250.2,42.9 251.9,41.9 247.9,39.0" fill="#fec736" stroke="#fec736"/>
<polygon points="287.9,42.0 291.9,44.9 293.7,45.5 289.7,42.6" fill="#b2c639" stroke="#b2c639"/>
<polygon points="226.6,55.2 230.6,58.4 232.4,56.7 228.4,53.5" fill="#2ac0ad" stroke="#2ac0ad"/>
<polygon points="244.4,41.0 248.4,44.0 250.2,42.9 246.1,40.0" fill="#f8c438" stroke="#f8c438"/>
<polygon points="228.4,53.5 232.4,56.7 234.2,55.0 230.2,51.9" fill="#35c79a" stroke="#35c79a"/>
<polygon points="242.6,42.1 246.6,45.1 248.4,44.0 244.4,41.0" fill="#ebc438" stroke="#ebc438"/>
<polygon points="230.2,51.9 234.2,55.0 236.0,53.4 231.9,50.2" fill="#52c881" stroke="#52c881"/>
<polygon points="240.8,43.3 244.8,46.3 246.6,45.1 242.6,42.1" fill="#ddc538" stroke="#ddc538"/>
<polygon points="231.9,50.2 236.0,53.4 237.7,51.9 233.7,48.7" fill="#72c768" stroke="#72c768"/>
<polygon points="239.0,44.5 243.1,47.6 244.8,46.3 240.8,43.3" fill="#cec538" stroke="#cec538"/>
<polygon points="233.7,48.7 237.7,51.9 239.5,50.4 235.5,47.2" fill="#90c74f" stroke="#90c74f"/>
<polygon points="237.3,45.8 241.3,48.9 243.1,47.6 239.0,44.5" fill="#bec639" stroke="#bec639"/>
<polygon points="235.5,47.2 239.5,50.4 241.3,48.9 237.3,45.8" fill="#acc739" stroke="#acc739"/>
<polygon points="271.4,35.9 275.5,38.9 277.2,39.1 273.2,36.2" fill="#fcdc28" stroke="#fcdc28"/>
<polygon points="286.1,41.4 290.1,44.3 291.9,44.9 287.9,42.0" fill="#c6c639" stroke="#c6c639"/>
<polygon points="269.7,35.9 273.7,38.9 275.5,38.9 271.4,35.9" fill="#fbe324" stroke="#fbe324"/>
<polygon points="284.3,40.9 288.4,43.7 290.1,44.3 286.1,41.4" fill="#d9c538" stroke="#d9c538"/>
<polygon points="267.9,36.1 271.9,39.1 273.7,38.9 269.7,35.9" fill="#fbe821" stroke="#fbe821"/>
<polygon points="297.2,47.0 301.3,50.2 303.0,51.2 299.0,47.8" fill="#5cc879" stroke="#5cc879"/>
<polygon points="266.1,36.5 270.1,39.4 271.9,39.1 267.9,36.1" fill="#fbea1f" stroke="#fbea1f"/>
<polygon points="282.6,40.4 286.6,43.2 288.4,43.7 284.3,40.9" fill="#ebc438" stroke="#ebc438"/>
<polygon points="264.3,36.9 268.4,39.9 270.1,39.4 266.1,36.5" fill="#fbea1f" stroke="#fbea1f"/>
<polygon points="212.9,77.3 216.9,80.2 218.7,78.1 214.7,75.2" fill="#4136c3" stroke="#4136c3"/>
<polygon points="262.6,37.5 266.6,40.4 268.4,39.9 264.3,36.9" fill="#fbe920" stroke="#fbe920"/>
<polygon points="295.5,46.2 299.5,49.3 301.3,50.2 297.2,47.0" fill="#7fc75d" stroke="#7fc75d"/>
<polygon points="214.7,75.2 218.7,78.1 220.5,76.1 216.4,73.2" fill="#4546e0" stroke="#4546e0"/>
<polygon points="280.8,39.9 284.8,42.8 286.6,43.2 282.6,40.4" fill="#fcc338" stroke="#fcc338"/>
<polygon points="260.8,38.1 264.8,41.0 266.6,40.4 262.6,37.5" fill="#fbe721" stroke="#fbe721"/>
<polygon points="216.4,73.2 220.5,76.1 222.2,74.1 218.2,71.1" fill="#4558f5" stroke="#4558f5"/>
<polygon points="259.0,38.8 263.0,41.7 264.8,41.0 260.8,38.1" fill="#fbe423" stroke="#fbe423"/>
<polygon points="218.2,71.1 222.2,74.1 224.0,72.2 220.0,69.2" fill="#3c6bf5" stroke="#3c6bf5"/>
<polygon points="220.0,69.2 224.0,72.2 225.8,70.3 221.8,67.2" fill="#327df6" stroke="#327df6"/>
<polygon points="257.2,39.5 261.3,42.4 263.0,41.7 259.0,38.8" fill="#fce025" stroke="#fce025"/>
<polygon points="279.0,39.5 283.0,42.4 284.8,42.8 280.8,39.9" fill="#fdcd32" stroke="#fdcd32"/>
<polygon points="293.7,45.5 297.7,48.5 299.5,49.3 295.5,46.2" fill="#a0c742" stroke="#a0c742"/>
<polygon points="221.8,67.2 225.8,70.3 227.6,68.4 223.5,65.4" fill="#298ef2" stroke="#298ef2"/>
<polygon points="255.5,40.2 259.5,43.1 261.3,42.4 257.2,39.5" fill="#fcdd28" stroke="#fcdd28"/>
<polygon points="223.5,65.4 227.6,68.4 229.3,66.6 225.3,63.5" fill="#209be7" stroke="#209be7"/>
<polygon points="225.3,63.5 229.3,66.6 231.1,64.9 227.1,61.8" fill="#17a9dc" stroke="#17a9dc"/>
<polygon points="253.7,41.0 257.7,43.9 259.5,43.1 255.5,40.2" fill="#fcd92a" stroke="#fcd92a"/>
<polygon points="227.1,61.8 231.1,64.9 232.9,63.2 228.9,60.1" fill="#16b4cf" stroke="#16b4cf"/>
<polygon points="251.9,41.9 256.0,44.8 257.7,43.9 253.7,41.0" fill="#fdd32e" stroke="#fdd32e"/>
<polygon points="228.9,60.1 232.9,63.2 234.7,61.5 230.6,58.4" fill="#21babc" stroke="#21babc"/>
<polygon points="277.2,39.1 281.3,42.1 283.0,42.4 279.0,39.5" fill="#fcd72b" stroke="#fcd72b"/>
<polygon points="230.6,58.4 234.7,61.5 236.4,59.8 232.4,56.7" fill="#2cc1aa" stroke="#2cc1aa"/>
<polygon points="250.2,42.9 254.2,45.8 256.0,44.8 251.9,41.9" fill="#fdcc32" stroke="#fdcc32"/>
<polygon points="291.9,44.9 295.9,47.7 297.7,48.5 293.7,45.5" fill="#bac639" stroke="#bac639"/>
<polygon points="232.4,56.7 236.4,59.8 238.2,58.2 234.2,55.0" fill="#37c898" stroke="#37c898"/>
<polygon points="248.4,44.0 252.4,46.9 254.2,45.8 250.2,42.9" fill="#fec437" stroke="#fec437"/>
<polygon points="234.2,55.0 238.2,58.2 240.0,56.6 236.0,53.4" fill="#56c87e" stroke="#56c87e"/>
<polygon points="246.6,45.1 250.6,48.1 252.4,46.9 248.4,44.0" fill="#f2c438" stroke="#f2c438"/>
<polygon points="236.0,53.4 240.0,56.6 241.8,55.1 237.7,51.9" fill="#75c765" stroke="#75c765"/>
<polygon points="244.8,46.3 248.9,49.4 250.6,48.1 246.6,45.1" fill="#e3c438" stroke="#e3c438"/>
<polygon points="237.7,51.9 241.8,55.1 243.5,53.6 239.5,50.4" fill="#93c74d" stroke="#93c74d"/>
<polygon points="243.1,47.6 247.1,50.7 248.9,49.4 244.8,46.3" fill="#d3c538" stroke="#d3c538"/>
<polygon points="239.5,50.4 243.5,53.6 245.3,52.1 241.3,48.9" fill="#aec739" stroke="#aec739"/>
<polygon points="241.3,48.9 245.3,52.1 247.1,50.7 243.1,47.6" fill="#c1c639" stroke="#c1c639"/>
<polygon points="275.5,38.9 279.5,41.9 281.3,42.1 277.2,39.1" fill="#fce025" stroke="#fce025"/>
<polygon points="290.1,44.3 294.2,47.1 295.9,47.7 291.9,44.9" fill="#cfc538" stroke="#cfc538"/>
<polygon points="273.7,38.9 277.7,41.9 279.5,41.9 275.5,38.9" fill="#fbe721" stroke="#fbe721"/>
<polygon points="288.4,43.7 292.4,46.5 294.2,47.1 290.1,44.3" fill="#e2c438" stroke="#e2c438"/>
<polygon points="271.9,39.1 275.9,42.0 277.7,41.9 273.7,38.9" fill="#faec1e" stroke="#faec1e"/>
<polygon points="301.3,50.2 305.3,53.4 307.0,54.5 303.0,51.2" fill="#5dc878" stroke="#5dc878"/>
<polygon points="270.1,39.4 274.2,42.3 275.9,42.0 271.9,39.1" fill="#faee1c" stroke="#faee1c"/>
<polygon points="286.6,43.2 290.6,46.1 292.4,46.5 288.4,43.7" fill="#f4c438" stroke="#f4c438"/>
<polygon points="268.4,39.9 272.4,42.8 274.2,42.3 270.1,39.4" fill="#faef1c" stroke="#faef1c"/>
<polygon points="216.9,80.2 220.9,83.1 222.7,81.0 218.7,78.1" fill="#423aca" stroke="#423aca"/>
<polygon points="266.6,40.4 270.6,43.4 272.4,42.8 268.4,39.9" fill="#faee1d" stroke="#faee1d"/>
<polygon points="299.5,49.3 303.5,52.4 305.3,53.4 301.3,50.2" fill="#84c759" stroke="#84c759"/>
<polygon points="218.7,78.1 222.7,81.0 224.5,79.0 220.5,76.1" fill="#464ae7" stroke="#464ae7"/>
<polygon points="284.8,42.8 288.8,45.7 290.6,46.1 286.6,43.2" fill="#fec835" stroke="#fec835"/>
<polygon points="264.8,41.0 268.8,44.0 270.6,43.4 266.6,40.4" fill="#fbec1e" stroke="#fbec1e"/>
<polygon points="220.5,76.1 224.5,79.0 226.3,77.1 222.2,74.1" fill="#435cf5" stroke="#435cf5"/>
<polygon points="222.2,74.1 226.3,77.1 228.0,75.2 224.0,72.2" fill="#3a6ff6" stroke="#3a6ff6"/>
<polygon points="263.0,41.7 267.1,44.6 268.8,44.0 264.8,41.0" fill="#fbe920" stroke="#fbe920"/>
<polygon points="224.0,72.2 228.0,75.2 229.8,73.3 225.8,70.3" fill="#3181f7" stroke="#3181f7"/>
<polygon points="261.3,42.4 265.3,45.3 267.1,44.6 263.0,41.7" fill="#fbe622" stroke="#fbe622"/>
<polygon points="297.7,48.5 301.7,51.5 303.5,52.4 299.5,49.3" fill="#a8c73c" stroke="#a8c73c"/>
<polygon points="283.0,42.4 287.1,45.4 288.8,45.7 284.8,42.8" fill="#fdd22f" stroke="#fdd22f"/>
<polygon points="225.8,70.3 229.8,73.3 231.6,71.5 227.6,68.4" fill="#2790f0" stroke="#2790f0"/>
<polygon points="227.6,68.4 231.6,71.5 233.4,69.7 229.3,66.6" fill="#1e9ee5" stroke="#1e9ee5"/>
<polygon points="259.5,43.1 263.5,46.0 265.3,45.3 261.3,42.4" fill="#fbe224" stroke="#fbe224"/>
<polygon points="229.3,66.6 233.4,69.7 235.1,68.0 231.1,64.9" fill="#16abdb" stroke="#16abdb"/>
<polygon points="257.7,43.9 261.7,46.8 263.5,46.0 259.5,43.1" fill="#fcde27" stroke="#fcde27"/>
<polygon points="231.1,64.9 235.1,68.0 236.9,66.3 232.9,63.2" fill="#17b5cc" stroke="#17b5cc"/>
<polygon points="232.9,63.2 236.9,66.3 238.7,64.6 234.7,61.5" fill="#23bbba" stroke="#23bbba"/>
<polygon points="281.3,42.1 285.3,45.1 287.1,45.4 283.0,42.4" fill="#fcdc28" stroke="#fcdc28"/>
<polygon points="256.0,44.8 260.0,47.7 261.7,46.8 257.7,43.9" fill="#fcd92a" stroke="#fcd92a"/>
<polygon points="234.7,61.5 238.7,64.6 240.5,63.0 236.4,59.8" fill="#2dc2a7" stroke="#2dc2a7"/>
<polygon points="236.4,59.8 240.5,63.0 242.2,61.4 238.2,58.2" fill="#3ac895" stroke="#3ac895"/>
<polygon points="295.9,47.7 300.0,50.6 301.7,51.5 297.7,48.5" fill="#c1c639" stroke="#c1c639"/>
<polygon points="254.2,45.8 258.2,48.7 260.0,47.7 256.0,44.8" fill="#fdd22f" stroke="#fdd22f"/>
<polygon points="238.2,58.2 242.2,61.4 244.0,59.8 240.0,56.6" fill="#59c87b" stroke="#59c87b"/>
<polygon points="252.4,46.9 256.4,49.8 258.2,48.7 254.2,45.8" fill="#fec934" stroke="#fec934"/>
<polygon points="240.0,56.6 244.0,59.8 245.8,58.3 241.8,55.1" fill="#78c763" stroke="#78c763"/>
<polygon points="241.8,55.1 245.8,58.3 247.6,56.7 243.5,53.6" fill="#96c74a" stroke="#96c74a"/>
<polygon points="250.6,48.1 254.7,51.1 256.4,49.8 252.4,46.9" fill="#f9c438" stroke="#f9c438"/>
<polygon points="243.5,53.6 247.6,56.7 249.3,55.2 245.3,52.1" fill="#b1c639" stroke="#b1c639"/>
<polygon points="248.9,49.4 252.9,52.4 254.7,51.1 250.6,48.1" fill="#e9c438" stroke="#e9c438"/>
<polygon points="245.3,52.1 249.3,55.2 251.1,53.8 247.1,50.7" fill="#c5c639" stroke="#c5c639"/>
<polygon points="247.1,50.7 251.1,53.8 252.9,52.4 248.9,49.4" fill="#d7c538" stroke="#d7c538"/>
<polygon points="279.5,41.9 283.5,44.9 285.3,45.1 281.3,42.1" fill="#fbe523" stroke="#fbe523"/>
<polygon points="294.2,47.1 298.2,49.9 300.0,50.6 295.9,47.7" fill="#d7c538" stroke="#d7c538"/>
<polygon points="277.7,41.9 281.7,44.8 283.5,44.9 279.5,41.9" fill="#fbec1e" stroke="#fbec1e"/>
<polygon points="275.9,42.0 280.0,45.0 281.7,44.8 277.7,41.9" fill="#faf11b" stroke="#faf11b"/>
<polygon points="292.4,46.5 296.4,49.4 298.2,49.9 294.2,47.1" fill="#ebc438" stroke="#ebc438"/>
<polygon points="274.2,42.3 278.2,45.3 280.0,45.0 275.9,42.0" fill="#faf319" stroke="#faf319"/>
<polygon points="290.6,46.1 294.6,48.9 296.4,49.4 292.4,46.5" fill="#fdc338" stroke="#fdc338"/>
<polygon points="272.4,42.8 276.4,45.7 278.2,45.3 274.2,42.3" fill="#faf419" stroke="#faf419"/>
<polygon points="220.9,83.1 225.0,85.9 226.7,83.9 222.7,81.0" fill="#433ed2" stroke="#433ed2"/>
<polygon points="270.6,43.4 274.6,46.3 276.4,45.7 272.4,42.8" fill="#faf21a" stroke="#faf21a"/>
<polygon points="222.7,81.0 226.7,83.9 228.5,82.0 224.5,79.0" fill="#474eed" stroke="#474eed"/>
<polygon points="288.8,45.7 292.9,48.6 294.6,48.9 290.6,46.1" fill="#fdcd32" stroke="#fdcd32"/>
<polygon points="268.8,44.0 272.9,46.9 274.6,46.3 270.6,43.4" fill="#faf11b" stroke="#faf11b"/>
<polygon points="224.5,79.0 228.5,82.0 230.3,80.1 226.3,77.1" fill="#4160f5" stroke="#4160f5"/>
<polygon points="226.3,77.1 230.3,80.1 232.1,78.2 228.0,75.2" fill="#3873f6" stroke="#3873f6"/>
<polygon points="267.1,44.6 271.1,47.5 272.9,46.9 268.8,44.0" fill="#faee1d" stroke="#faee1d"/>
<polygon points="228.0,75.2 232.1,78.2 233.8,76.3 229.8,73.3" fill="#2f84f7" stroke="#2f84f7"/>
<polygon points="265.3,45.3 269.3,48.2 271.1,47.5 267.1,44.6" fill="#fbeb1f" stroke="#fbeb1f"/>
<polygon points="229.8,73.3 233.8,76.3 235.6,74.5 231.6,71.5" fill="#2693ee" stroke="#2693ee"/>
<polygon points="287.1,45.4 291.1,48.3 292.9,48.6 288.8,45.7" fill="#fcd72b" stroke="#fcd72b"/>
<polygon points="231.6,71.5 235.6,74.5 237.4,72.8 233.4,69.7" fill="#1da0e3" stroke="#1da0e3"/>
<polygon points="263.5,46.0 267.5,48.9 269.3,48.2 265.3,45.3" fill="#fbe821" stroke="#fbe821"/>
<polygon points="233.4,69.7 237.4,72.8 239.2,71.0 235.1,68.0" fill="#14add9" stroke="#14add9"/>
<polygon points="235.1,68.0 239.2,71.0 240.9,69.4 236.9,66.3" fill="#19b6c9" stroke="#19b6c9"/>
<polygon points="261.7,46.8 265.8,49.6 267.5,48.9 263.5,46.0" fill="#fbe423" stroke="#fbe423"/>
<polygon points="236.9,66.3 240.9,69.4 242.7,67.7 238.7,64.6" fill="#24bdb7" stroke="#24bdb7"/>
<polygon points="238.7,64.6 242.7,67.7 244.5,66.1 240.5,63.0" fill="#2fc3a5" stroke="#2fc3a5"/>
<polygon points="285.3,45.1 289.3,48.1 291.1,48.3 287.1,45.4" fill="#fce025" stroke="#fce025"/>
<polygon points="260.0,47.7 264.0,50.5 265.8,49.6 261.7,46.8" fill="#fcde27" stroke="#fcde27"/>
<polygon points="240.5,63.0 244.5,66.1 246.3,64.5 242.2,61.4" fill="#3ec892" stroke="#3ec892"/>
<polygon points="242.2,61.4 246.3,64.5 248.0,63.0 244.0,59.8" fill="#5dc879" stroke="#5dc879"/>
<polygon points="258.2,48.7 262.2,51.6 264.0,50.5 260.0,47.7" fill="#fcd72b" stroke="#fcd72b"/>
<polygon points="244.0,59.8 248.0,63.0 249.8,61.5 245.8,58.3" fill="#7bc760" stroke="#7bc760"/>
<polygon points="245.8,58.3 249.8,61.5 251.6,59.9 247.6,56.7" fill="#99c748" stroke="#99c748"/>
<polygon points="256.4,49.8 260.5,52.8 262.2,51.6 258.2,48.7" fill="#fdce31" stroke="#fdce31"/>
<polygon points="247.6,56.7 251.6,59.9 253.4,58.4 249.3,55.2" fill="#b4c639" stroke="#b4c639"/>
<polygon points="254.7,51.1 258.7,54.1 260.5,52.8 256.4,49.8" fill="#fec438" stroke="#fec438"/>
<polygon points="249.3,55.2 253.4,58.4 255.1,56.9 251.1,53.8" fill="#c8c639" stroke="#c8c639"/>
<polygon points="252.9,52.4 256.9,55.4 258.7,54.1 254.7,51.1" fill="#eec438" stroke="#eec438"/>
<polygon points="251.1,53.8 255.1,56.9 256.9,55.4 252.9,52.4" fill="#dcc538" stroke="#dcc538"/>
<polygon points="283.5,44.9 287.5,47.9 289.3,48.1 285.3,45.1" fill="#fbe920" stroke="#fbe920"/>
<polygon points="281.7,44.8 285.8,47.8 287.5,47.9 283.5,44.9" fill="#faf01b" stroke="#faf01b"/>
<polygon points="280.0,45.0 284.0,47.9 285.8,47.8 281.7,44.8" fill="#faf518" stroke="#faf518"/>
<polygon points="278.2,45.3 282.2,48.2 284.0,47.9 280.0,45.0" fill="#f9f816" stroke="#f9f816"/>
<polygon points="276.4,45.7 280.4,48.7 282.2,48.2 278.2,45.3" fill="#f9f816" stroke="#f9f816"/>
<polygon points="225.0,85.9 229.0,88.8 230.8,86.8 226.7,83.9" fill="#4443d9" stroke="#4443d9"/>
<polygon points="274.6,46.3 278.7,49.2 280.4,48.7 276.4,45.7" fill="#f9f717" stroke="#f9f717"/>
<polygon points="226.7,83.9 230.8,86.8 232.5,84.9 228.5,82.0" fill="#4852f4" stroke="#4852f4"/>
<polygon points="272.9,46.9 276.9,49.8 278.7,49.2 274.6,46.3" fill="#faf618" stroke="#faf618"/>
<polygon points="228.5,82.0 232.5,84.9 234.3,83.0 230.3,80.1" fill="#3f65f5" stroke="#3f65f5"/>
<polygon points="230.3,80.1 234.3,83.0 236.1,81.2 232.1,78.2" fill="#3676f6" stroke="#3676f6"/>
<polygon points="271.1,47.5 275.1,50.4 276.9,49.8 272.9,46.9" fill="#faf319" stroke="#faf319"/>
<polygon points="232.1,78.2 236.1,81.2 237.9,79.4 233.8,76.3" fill="#2d88f6" stroke="#2d88f6"/>
<polygon points="233.8,76.3 237.9,79.4 239.6,77.6 235.6,74.5" fill="#2495ec" stroke="#2495ec"/>
<polygon points="269.3,48.2 273.3,51.1 275.1,50.4 271.1,47.5" fill="#faf01b" stroke="#faf01b"/>
<polygon points="235.6,74.5 239.6,77.6 241.4,75.8 237.4,72.8" fill="#1ba3e1" stroke="#1ba3e1"/>
<polygon points="237.4,72.8 241.4,75.8 243.2,74.1 239.2,71.0" fill="#13afd7" stroke="#13afd7"/>
<polygon points="267.5,48.9 271.6,51.8 273.3,51.1 269.3,48.2" fill="#faed1d" stroke="#faed1d"/>
<polygon points="239.2,71.0 243.2,74.1 245.0,72.5 240.9,69.4" fill="#1bb7c6" stroke="#1bb7c6"/>
<polygon points="240.9,69.4 245.0,72.5 246.7,70.8 242.7,67.7" fill="#26beb4" stroke="#26beb4"/>
<polygon points="265.8,49.6 269.8,52.5 271.6,51.8 267.5,48.9" fill="#fbe920" stroke="#fbe920"/>
<polygon points="242.7,67.7 246.7,70.8 248.5,69.2 244.5,66.1" fill="#30c4a2" stroke="#30c4a2"/>
<polygon points="244.5,66.1 248.5,69.2 250.3,67.7 246.3,64.5" fill="#42c88e" stroke="#42c88e"/>
<polygon points="246.3,64.5 250.3,67.7 252.1,66.2 248.0,63.0" fill="#60c876" stroke="#60c876"/>
<polygon points="264.0,50.5 268.0,53.4 269.8,52.5 265.8,49.6" fill="#fbe423" stroke="#fbe423"/>
<polygon points="248.0,63.0 252.1,66.2 253.8,64.7 249.8,61.5" fill="#7ec75d" stroke="#7ec75d"/>
<polygon points="249.8,61.5 253.8,64.7 255.6,63.1 251.6,59.9" fill="#9cc745" stroke="#9cc745"/>
<polygon points="262.2,51.6 266.2,54.5 268.0,53.4 264.0,50.5" fill="#fcdd28" stroke="#fcdd28"/>
<polygon points="251.6,59.9 255.6,63.1 257.4,61.5 253.4,58.4" fill="#b6c639" stroke="#b6c639"/>
<polygon points="253.4,58.4 257.4,61.5 259.2,60.0 255.1,56.9" fill="#ccc539" stroke="#ccc539"/>
<polygon points="260.5,52.8 264.5,55.7 266.2,54.5 262.2,51.6" fill="#fdd32e" stroke="#fdd32e"/>
<polygon points="255.1,56.9 259.2,60.0 260.9,58.5 256.9,55.4" fill="#e0c538" stroke="#e0c538"/>
<polygon points="258.7,54.1 262.7,57.1 264.5,55.7 260.5,52.8" fill="#fec935" stroke="#fec935"/>
<polygon points="256.9,55.4 260.9,58.5 262.7,57.1 258.7,54.1" fill="#f4c438" stroke="#f4c438"/>
</g>
<path class="ax" d="M199.2 86.0L234.5 115.0M234.5 115.0L314.8 95.8M199.2 86.0L199.2 25.3M199.2 86.0L197.6 86.4M208.0 93.2L206.5 93.6M216.8 100.5L215.3 100.9M225.7 107.8L224.1 108.1M234.5 115.0L232.9 115.4M234.5 115.0L235.7 116.0M254.6 110.2L255.8 111.2M274.6 105.4L275.9 106.4M294.7 100.6L296.0 101.6M314.8 95.8L316.0 96.8M199.2 86.0L197.6 86.4M199.2 70.8L197.6 71.2M199.2 55.6L197.6 56.0M199.2 40.5L197.6 40.8M199.2 25.3L197.6 25.7"/>
<text class="t e" x="196.3" y="92.9">0</text>
<text class="t e" x="205.1" y="100.2">10</text>
<text class="t e" x="213.9" y="107.4">20</text>
<text class="t e" x="222.8" y="114.7">30</text>
<text class="t e" x="231.6" y="121.9">40</text>
<text class="t" x="235.0" y="125.1">50</text>
<text class="t" x="255.1" y="120.3">25</text>
<text class="t" x="275.1" y="115.5">0</text>
<text class="t" x="295.2" y="110.7">−25</text>
<text class="t" x="315.3" y="105.9">−50</text>
<text class="t e" x="195.6" y="87.2">34</text>
<text class="t e" x="195.6" y="73.0">36</text>
<text class="t e" x="195.6" y="57.9">38</text>
<text class="t e" x="195.6" y="42.7">40</text>
<text class="t e" x="195.6" y="27.5">42</text>
<text class="t m" transform="translate(239.0 13.2) rotate(-12.0)">Scheme B</text>
<text class="t m" x="190.0" y="115.5"><tspan class="i">d</tspan><tspan class="sub" dy="1.5">3</tspan><tspan dy="-1.5"> (µm)</tspan></text>
<text class="t m" x="287.0" y="125.5"><tspan class="i">d</tspan><tspan class="sub" dy="1.5">2</tspan><tspan dy="-1.5"> (µm)</tspan></text>
<text class="t m" transform="translate(179.0 54.0) rotate(-90)">FSO (mV)</text></g>
<g><path class="gr" d="M376.7 86.5L449.1 67.1M449.1 67.1L449.1 5.0M387.1 95.4L459.5 76.0M459.5 76.0L459.5 13.9M397.4 104.3L469.9 84.9M469.9 84.9L469.9 22.8M407.8 113.3L480.2 93.9M480.2 93.9L480.2 31.8M418.2 122.2L490.6 102.8M490.6 102.8L490.6 40.7M376.7 86.5L418.2 122.2M376.7 86.5L376.7 24.4M391.2 82.6L432.7 118.3M391.2 82.6L391.2 20.5M405.7 78.7L447.2 114.4M405.7 78.7L405.7 16.6M420.1 74.9L461.6 110.6M420.1 74.9L420.1 12.8M434.6 71.0L476.1 106.7M434.6 71.0L434.6 8.9M449.1 67.1L490.6 102.8M449.1 67.1L449.1 5.0M376.7 86.5L449.1 67.1M449.1 67.1L490.6 102.8M376.7 77.6L449.1 58.2M449.1 58.2L490.6 93.9M376.7 68.8L449.1 49.4M449.1 49.4L490.6 85.1M376.7 59.9L449.1 40.5M449.1 40.5L490.6 76.2M376.7 51.0L449.1 31.6M449.1 31.6L490.6 67.3M376.7 42.1L449.1 22.7M449.1 22.7L490.6 58.4M376.7 33.3L449.1 13.9M449.1 13.9L490.6 49.6M376.7 24.4L449.1 5.0M449.1 5.0L490.6 40.7"/>
<g filter="url(#sb)">
<polygon points="454.7,73.4 455.4,67.2 462.4,64.8 461.7,70.6" fill="#3676f6" stroke="#3676f6"/>
<polygon points="447.7,76.1 448.3,69.6 455.4,67.2 454.7,73.4" fill="#3871f6" stroke="#3871f6"/>
<polygon points="455.4,67.2 456.0,61.4 463.0,59.3 462.4,64.8" fill="#209be7" stroke="#209be7"/>
<polygon points="440.7,78.6 441.3,71.9 448.3,69.6 447.7,76.1" fill="#3a6df6" stroke="#3a6df6"/>
<polygon points="448.3,69.6 449.0,63.5 456.0,61.4 455.4,67.2" fill="#2299e9" stroke="#2299e9"/>
<polygon points="433.7,80.9 434.3,74.1 441.3,71.9 440.7,78.6" fill="#3c6af5" stroke="#3c6af5"/>
<polygon points="456.0,61.4 456.6,56.3 463.6,54.5 463.0,59.3" fill="#19b6c9" stroke="#19b6c9"/>
<polygon points="441.3,71.9 442.0,65.6 449.0,63.5 448.3,69.6" fill="#2397ea" stroke="#2397ea"/>
<polygon points="426.7,83.0 427.3,76.2 434.3,74.1 433.7,80.9" fill="#3d68f5" stroke="#3d68f5"/>
<polygon points="449.0,63.5 449.6,58.1 456.6,56.3 456.0,61.4" fill="#19b6ca" stroke="#19b6ca"/>
<polygon points="434.3,74.1 435.0,67.7 442.0,65.6 441.3,71.9" fill="#2495ec" stroke="#2495ec"/>
<polygon points="419.7,85.0 420.3,78.3 427.3,76.2 426.7,83.0" fill="#3d67f5" stroke="#3d67f5"/>
<polygon points="456.6,56.3 457.3,52.2 464.3,50.6 463.6,54.5" fill="#31c4a1" stroke="#31c4a1"/>
<polygon points="442.0,65.6 442.6,60.1 449.6,58.1 449.0,63.5" fill="#18b5cb" stroke="#18b5cb"/>
<polygon points="427.3,76.2 428.0,69.8 435.0,67.7 434.3,74.1" fill="#2594ed" stroke="#2594ed"/>
<polygon points="412.7,86.8 413.3,80.2 420.3,78.3 419.7,85.0" fill="#3e66f5" stroke="#3e66f5"/>
<polygon points="449.6,58.1 450.3,54.0 457.3,52.2 456.6,56.3" fill="#31c5a0" stroke="#31c5a0"/>
<polygon points="457.3,52.2 457.9,49.2 464.9,47.7 464.3,50.6" fill="#5ec877" stroke="#5ec877"/>
<polygon points="435.0,67.7 435.6,62.2 442.6,60.1 442.0,65.6" fill="#17b5cc" stroke="#17b5cc"/>
<polygon points="420.3,78.3 421.0,72.0 428.0,69.8 427.3,76.2" fill="#2693ee" stroke="#2693ee"/>
<polygon points="405.7,88.3 406.3,82.1 413.3,80.2 412.7,86.8" fill="#3d67f5" stroke="#3d67f5"/>
<polygon points="442.6,60.1 443.3,55.9 450.3,54.0 449.6,58.1" fill="#31c5a0" stroke="#31c5a0"/>
<polygon points="457.9,49.2 458.6,46.4 465.6,45.0 464.9,47.7" fill="#90c74f" stroke="#90c74f"/>
<polygon points="450.3,54.0 450.9,50.9 457.9,49.2 457.3,52.2" fill="#62c874" stroke="#62c874"/>
<polygon points="428.0,69.8 428.6,64.3 435.6,62.2 435.0,67.7" fill="#16b4ce" stroke="#16b4ce"/>
<polygon points="413.3,80.2 413.9,74.1 421.0,72.0 420.3,78.3" fill="#2692ee" stroke="#2692ee"/>
<polygon points="398.6,89.7 399.3,83.9 406.3,82.1 405.7,88.3" fill="#3d68f5" stroke="#3d68f5"/>
<polygon points="435.6,62.2 436.3,57.9 443.3,55.9 442.6,60.1" fill="#31c4a1" stroke="#31c4a1"/>
<polygon points="458.6,46.4 459.2,43.6 466.2,42.4 465.6,45.0" fill="#bac639" stroke="#bac639"/>
<polygon points="443.3,55.9 443.9,52.7 450.9,50.9 450.3,54.0" fill="#63c873" stroke="#63c873"/>
<polygon points="450.9,50.9 451.6,47.9 458.6,46.4 457.9,49.2" fill="#95c74b" stroke="#95c74b"/>
<polygon points="421.0,72.0 421.6,66.5 428.6,64.3 428.0,69.8" fill="#15b3d0" stroke="#15b3d0"/>
<polygon points="406.3,82.1 406.9,76.3 413.9,74.1 413.3,80.2" fill="#2791ef" stroke="#2791ef"/>
<polygon points="428.6,64.3 429.2,60.1 436.3,57.9 435.6,62.2" fill="#30c4a3" stroke="#30c4a3"/>
<polygon points="391.6,91.0 392.3,85.6 399.3,83.9 398.6,89.7" fill="#3c6bf5" stroke="#3c6bf5"/>
<polygon points="459.2,43.6 459.8,41.1 466.9,40.0 466.2,42.4" fill="#dac538" stroke="#dac538"/>
<polygon points="436.3,57.9 436.9,54.7 443.9,52.7 443.3,55.9" fill="#63c874" stroke="#63c874"/>
<polygon points="451.6,47.9 452.2,45.1 459.2,43.6 458.6,46.4" fill="#bfc639" stroke="#bfc639"/>
<polygon points="443.9,52.7 444.5,49.6 451.6,47.9 450.9,50.9" fill="#98c748" stroke="#98c748"/>
<polygon points="413.9,74.1 414.6,68.8 421.6,66.5 421.0,72.0" fill="#14b2d3" stroke="#14b2d3"/>
<polygon points="399.3,83.9 399.9,78.5 406.9,76.3 406.3,82.1" fill="#2790f0" stroke="#2790f0"/>
<polygon points="421.6,66.5 422.2,62.3 429.2,60.1 428.6,64.3" fill="#2fc3a5" stroke="#2fc3a5"/>
<polygon points="459.8,41.1 460.5,39.0 467.5,37.9 466.9,40.0" fill="#f8c438" stroke="#f8c438"/>
<polygon points="429.2,60.1 429.9,56.8 436.9,54.7 436.3,57.9" fill="#60c876" stroke="#60c876"/>
<polygon points="452.2,45.1 452.8,42.5 459.8,41.1 459.2,43.6" fill="#e0c538" stroke="#e0c538"/>
<polygon points="406.9,76.3 407.6,71.2 414.6,68.8 413.9,74.1" fill="#12b1d6" stroke="#12b1d6"/>
<polygon points="436.9,54.7 437.5,51.5 444.5,49.6 443.9,52.7" fill="#99c748" stroke="#99c748"/>
<polygon points="444.5,49.6 445.2,46.7 452.2,45.1 451.6,47.9" fill="#c2c639" stroke="#c2c639"/>
<polygon points="392.3,85.6 392.9,80.7 399.9,78.5 399.3,83.9" fill="#2890f0" stroke="#2890f0"/>
<polygon points="414.6,68.8 415.2,64.8 422.2,62.3 421.6,66.5" fill="#2cc2a9" stroke="#2cc2a9"/>
<polygon points="460.5,39.0 461.1,37.2 468.1,36.2 467.5,37.9" fill="#fdd030" stroke="#fdd030"/>
<polygon points="422.2,62.3 422.9,59.1 429.9,56.8 429.2,60.1" fill="#5bc87a" stroke="#5bc87a"/>
<polygon points="399.9,78.5 400.6,73.7 407.6,71.2 406.9,76.3" fill="#13afd8" stroke="#13afd8"/>
<polygon points="452.8,42.5 453.5,40.2 460.5,39.0 459.8,41.1" fill="#fec438" stroke="#fec438"/>
<polygon points="429.9,56.8 430.5,53.6 437.5,51.5 436.9,54.7" fill="#97c749" stroke="#97c749"/>
<polygon points="445.2,46.7 445.8,44.0 452.8,42.5 452.2,45.1" fill="#e4c438" stroke="#e4c438"/>
<polygon points="437.5,51.5 438.2,48.5 445.2,46.7 444.5,49.6" fill="#c3c639" stroke="#c3c639"/>
<polygon points="461.1,37.2 461.8,35.8 468.8,34.8 468.1,36.2" fill="#fcdf26" stroke="#fcdf26"/>
<polygon points="407.6,71.2 408.2,67.3 415.2,64.8 414.6,68.8" fill="#2ac0ad" stroke="#2ac0ad"/>
<polygon points="473.3,69.3 474.0,71.8 481.0,70.8 480.3,67.8" fill="#27beb3" stroke="#27beb3"/>
<polygon points="472.7,66.8 473.3,69.3 480.3,67.8 479.7,64.9" fill="#31c4a1" stroke="#31c4a1"/>
<polygon points="415.2,64.8 415.9,61.5 422.9,59.1 422.2,62.3" fill="#54c880" stroke="#54c880"/>
<polygon points="453.5,40.2 454.1,38.4 461.1,37.2 460.5,39.0" fill="#fdd62c" stroke="#fdd62c"/>
<polygon points="392.9,80.7 393.6,76.3 400.6,73.7 399.9,78.5" fill="#15adda" stroke="#15adda"/>
<polygon points="472.0,64.4 472.7,66.8 479.7,64.9 479.1,62.2" fill="#42c88e" stroke="#42c88e"/>
<polygon points="422.9,59.1 423.5,55.9 430.5,53.6 429.9,56.8" fill="#92c74d" stroke="#92c74d"/>
<polygon points="461.8,35.8 462.4,35.1 469.4,34.0 468.8,34.8" fill="#fbea1f" stroke="#fbea1f"/>
<polygon points="445.8,44.0 446.5,41.8 453.5,40.2 452.8,42.5" fill="#fec736" stroke="#fec736"/>
<polygon points="471.4,62.1 472.0,64.4 479.1,62.2 478.4,59.5" fill="#5fc877" stroke="#5fc877"/>
<polygon points="430.5,53.6 431.2,50.6 438.2,48.5 437.5,51.5" fill="#c2c639" stroke="#c2c639"/>
<polygon points="438.2,48.5 438.8,45.8 445.8,44.0 445.2,46.7" fill="#e6c438" stroke="#e6c438"/>
<polygon points="470.8,59.8 471.4,62.1 478.4,59.5 477.8,57.1" fill="#7ac761" stroke="#7ac761"/>
<polygon points="400.6,73.7 401.2,70.0 408.2,67.3 407.6,71.2" fill="#27beb2" stroke="#27beb2"/>
<polygon points="470.1,57.6 470.8,59.8 477.8,57.1 477.1,54.7" fill="#94c74c" stroke="#94c74c"/>
<polygon points="469.5,55.5 470.1,57.6 477.1,54.7 476.5,52.5" fill="#acc739" stroke="#acc739"/>
<polygon points="468.8,53.5 469.5,55.5 476.5,52.5 475.8,50.5" fill="#bcc639" stroke="#bcc639"/>
<polygon points="468.2,51.6 468.8,53.5 475.8,50.5 475.2,48.6" fill="#cac539" stroke="#cac539"/>
<polygon points="467.5,49.7 468.2,51.6 475.2,48.6 474.6,46.8" fill="#d8c538" stroke="#d8c538"/>
<polygon points="466.9,47.7 467.5,49.7 474.6,46.8 473.9,44.9" fill="#e6c438" stroke="#e6c438"/>
<polygon points="462.4,35.1 463.1,35.0 470.1,33.8 469.4,34.0" fill="#faf11b" stroke="#faf11b"/>
<polygon points="454.1,38.4 454.8,37.1 461.8,35.8 461.1,37.2" fill="#fbe423" stroke="#fbe423"/>
<polygon points="466.3,45.5 466.9,47.7 473.9,44.9 473.3,42.9" fill="#f5c438" stroke="#f5c438"/>
<polygon points="408.2,67.3 408.9,64.1 415.9,61.5 415.2,64.8" fill="#4bc887" stroke="#4bc887"/>
<polygon points="465.6,43.0 466.3,45.5 473.3,42.9 472.6,40.4" fill="#feca34" stroke="#feca34"/>
<polygon points="466.3,70.9 467.0,73.1 474.0,71.8 473.3,69.3" fill="#29c0ae" stroke="#29c0ae"/>
<polygon points="465.7,68.8 466.3,70.9 473.3,69.3 472.7,66.8" fill="#32c5a0" stroke="#32c5a0"/>
<polygon points="465.0,40.2 465.6,43.0 472.6,40.4 472.0,37.9" fill="#fcd82b" stroke="#fcd82b"/>
<polygon points="463.1,35.0 463.7,35.8 470.7,34.3 470.1,33.8" fill="#faf419" stroke="#faf419"/>
<polygon points="465.0,66.7 465.7,68.8 472.7,66.8 472.0,64.4" fill="#3fc891" stroke="#3fc891"/>
<polygon points="415.9,61.5 416.5,58.3 423.5,55.9 422.9,59.1" fill="#8bc753" stroke="#8bc753"/>
<polygon points="446.5,41.8 447.1,39.9 454.1,38.4 453.5,40.2" fill="#fcd92a" stroke="#fcd92a"/>
<polygon points="464.3,37.7 465.0,40.2 472.0,37.9 471.3,35.7" fill="#fbe522" stroke="#fbe522"/>
<polygon points="464.4,64.6 465.0,66.7 472.0,64.4 471.4,62.1" fill="#58c87d" stroke="#58c87d"/>
<polygon points="463.7,35.8 464.3,37.7 471.3,35.7 470.7,34.3" fill="#faef1c" stroke="#faef1c"/>
<polygon points="463.7,62.5 464.4,64.6 471.4,62.1 470.8,59.8" fill="#70c769" stroke="#70c769"/>
<polygon points="423.5,55.9 424.2,52.8 431.2,50.6 430.5,53.6" fill="#bfc639" stroke="#bfc639"/>
<polygon points="438.8,45.8 439.5,43.5 446.5,41.8 445.8,44.0" fill="#fec835" stroke="#fec835"/>
<polygon points="463.1,60.4 463.7,62.5 470.8,59.8 470.1,57.6" fill="#87c756" stroke="#87c756"/>
<polygon points="393.6,76.3 394.2,72.7 401.2,70.0 400.6,73.7" fill="#23bcb8" stroke="#23bcb8"/>
<polygon points="431.2,50.6 431.8,47.9 438.8,45.8 438.2,48.5" fill="#e6c438" stroke="#e6c438"/>
<polygon points="454.8,37.1 455.4,36.4 462.4,35.1 461.8,35.8" fill="#faef1c" stroke="#faef1c"/>
<polygon points="462.5,58.4 463.1,60.4 470.1,57.6 469.5,55.5" fill="#9dc744" stroke="#9dc744"/>
<polygon points="461.8,56.5 462.5,58.4 469.5,55.5 468.8,53.5" fill="#b1c739" stroke="#b1c739"/>
<polygon points="461.2,54.5 461.8,56.5 468.8,53.5 468.2,51.6" fill="#bfc639" stroke="#bfc639"/>
<polygon points="460.5,52.5 461.2,54.5 468.2,51.6 467.5,49.7" fill="#cdc538" stroke="#cdc538"/>
<polygon points="459.9,50.4 460.5,52.5 467.5,49.7 466.9,47.7" fill="#dcc538" stroke="#dcc538"/>
<polygon points="459.3,48.2 459.9,50.4 466.9,47.7 466.3,45.5" fill="#edc438" stroke="#edc438"/>
<polygon points="401.2,70.0 401.9,66.9 408.9,64.1 408.2,67.3" fill="#40c890" stroke="#40c890"/>
<polygon points="458.6,45.6 459.3,48.2 466.3,45.5 465.6,43.0" fill="#fec437" stroke="#fec437"/>
<polygon points="447.1,39.9 447.8,38.7 454.8,37.1 454.1,38.4" fill="#fbe821" stroke="#fbe821"/>
<polygon points="455.4,36.4 456.0,36.4 463.1,35.0 462.4,35.1" fill="#faf618" stroke="#faf618"/>
<polygon points="458.0,42.7 458.6,45.6 465.6,43.0 465.0,40.2" fill="#fdd32e" stroke="#fdd32e"/>
<polygon points="459.3,72.8 460.0,74.6 467.0,73.1 466.3,70.9" fill="#2bc0ac" stroke="#2bc0ac"/>
<polygon points="408.9,64.1 409.5,61.0 416.5,58.3 415.9,61.5" fill="#81c75b" stroke="#81c75b"/>
<polygon points="458.7,70.9 459.3,72.8 466.3,70.9 465.7,68.8" fill="#31c5a1" stroke="#31c5a1"/>
<polygon points="458.0,69.0 458.7,70.9 465.7,68.8 465.0,66.7" fill="#3bc894" stroke="#3bc894"/>
<polygon points="457.4,67.1 458.0,69.0 465.0,66.7 464.4,64.6" fill="#50c883" stroke="#50c883"/>
<polygon points="456.7,65.2 457.4,67.1 464.4,64.6 463.7,62.5" fill="#65c772" stroke="#65c772"/>
<polygon points="457.3,39.7 458.0,42.7 465.0,40.2 464.3,37.7" fill="#fbe324" stroke="#fbe324"/>
<polygon points="456.1,63.2 456.7,65.2 463.7,62.5 463.1,60.4" fill="#7ac761" stroke="#7ac761"/>
<polygon points="456.0,36.4 456.7,37.5 463.7,35.8 463.1,35.0" fill="#f9f717" stroke="#f9f717"/>
<polygon points="439.5,43.5 440.1,41.7 447.1,39.9 446.5,41.8" fill="#fcdb29" stroke="#fcdb29"/>
<polygon points="416.5,58.3 417.2,55.3 424.2,52.8 423.5,55.9" fill="#bac639" stroke="#bac639"/>
<polygon points="455.5,61.3 456.1,63.2 463.1,60.4 462.5,58.4" fill="#8fc750" stroke="#8fc750"/>
<polygon points="454.8,59.3 455.5,61.3 462.5,58.4 461.8,56.5" fill="#a4c73f" stroke="#a4c73f"/>
<polygon points="456.7,37.5 457.3,39.7 464.3,37.7 463.7,35.8" fill="#faf01c" stroke="#faf01c"/>
<polygon points="454.2,57.3 454.8,59.3 461.8,56.5 461.2,54.5" fill="#b5c639" stroke="#b5c639"/>
<polygon points="453.5,55.3 454.2,57.3 461.2,54.5 460.5,52.5" fill="#c4c639" stroke="#c4c639"/>
<polygon points="424.2,52.8 424.8,50.1 431.8,47.9 431.2,50.6" fill="#e3c438" stroke="#e3c438"/>
<polygon points="431.8,47.9 432.5,45.6 439.5,43.5 438.8,45.8" fill="#fec835" stroke="#fec835"/>
<polygon points="452.9,53.1 453.5,55.3 460.5,52.5 459.9,50.4" fill="#d3c538" stroke="#d3c538"/>
<polygon points="452.2,50.8 452.9,53.1 459.9,50.4 459.3,48.2" fill="#e5c438" stroke="#e5c438"/>
<polygon points="447.8,38.7 448.4,38.0 455.4,36.4 454.8,37.1" fill="#faf21a" stroke="#faf21a"/>
<polygon points="394.2,72.7 394.8,69.8 401.9,66.9 401.2,70.0" fill="#36c799" stroke="#36c799"/>
<polygon points="451.6,48.3 452.2,50.8 459.3,48.2 458.6,45.6" fill="#f8c438" stroke="#f8c438"/>
<polygon points="451.0,45.1 451.6,48.3 458.6,45.6 458.0,42.7" fill="#fdcf31" stroke="#fdcf31"/>
<polygon points="401.9,66.9 402.5,63.8 409.5,61.0 408.9,64.1" fill="#75c765" stroke="#75c765"/>
<polygon points="440.1,41.7 440.7,40.4 447.8,38.7 447.1,39.9" fill="#fbe920" stroke="#fbe920"/>
<polygon points="450.4,69.6 451.0,71.4 458.0,69.0 457.4,67.1" fill="#48c88a" stroke="#48c88a"/>
<polygon points="451.0,71.4 451.7,73.1 458.7,70.9 458.0,69.0" fill="#36c898" stroke="#36c898"/>
<polygon points="449.7,67.8 450.4,69.6 457.4,67.1 456.7,65.2" fill="#5ac87a" stroke="#5ac87a"/>
<polygon points="451.7,73.1 452.3,74.8 459.3,72.8 458.7,70.9" fill="#31c4a2" stroke="#31c4a2"/>
<polygon points="448.4,38.0 449.0,38.1 456.0,36.4 455.4,36.4" fill="#f9f816" stroke="#f9f816"/>
<polygon points="449.1,65.9 449.7,67.8 456.7,65.2 456.1,63.2" fill="#6ec76a" stroke="#6ec76a"/>
<polygon points="452.3,74.8 452.9,76.4 460.0,74.6 459.3,72.8" fill="#2bc1ab" stroke="#2bc1ab"/>
<polygon points="448.4,64.0 449.1,65.9 456.1,63.2 455.5,61.3" fill="#82c75a" stroke="#82c75a"/>
<polygon points="447.8,62.0 448.4,64.0 455.5,61.3 454.8,59.3" fill="#97c749" stroke="#97c749"/>
<polygon points="450.3,42.0 451.0,45.1 458.0,42.7 457.3,39.7" fill="#fce026" stroke="#fce026"/>
<polygon points="409.5,61.0 410.1,58.0 417.2,55.3 416.5,58.3" fill="#b3c639" stroke="#b3c639"/>
<polygon points="447.2,60.0 447.8,62.0 454.8,59.3 454.2,57.3" fill="#acc739" stroke="#acc739"/>
<polygon points="446.5,57.9 447.2,60.0 454.2,57.3 453.5,55.3" fill="#bbc639" stroke="#bbc639"/>
<polygon points="445.9,55.7 446.5,57.9 453.5,55.3 452.9,53.1" fill="#cbc539" stroke="#cbc539"/>
<polygon points="432.5,45.6 433.1,43.7 440.1,41.7 439.5,43.5" fill="#fcda29" stroke="#fcda29"/>
<polygon points="417.2,55.3 417.8,52.6 424.8,50.1 424.2,52.8" fill="#dec538" stroke="#dec538"/>
<polygon points="449.0,38.1 449.7,39.4 456.7,37.5 456.0,36.4" fill="#f9f816" stroke="#f9f816"/>
<polygon points="449.7,39.4 450.3,42.0 457.3,39.7 456.7,37.5" fill="#faef1c" stroke="#faef1c"/>
<polygon points="445.2,53.4 445.9,55.7 452.9,53.1 452.2,50.8" fill="#ddc538" stroke="#ddc538"/>
<polygon points="424.8,50.1 425.4,47.8 432.5,45.6 431.8,47.9" fill="#fec636" stroke="#fec636"/>
<polygon points="444.6,50.9 445.2,53.4 452.2,50.8 451.6,48.3" fill="#f0c438" stroke="#f0c438"/>
<polygon points="440.7,40.4 441.4,39.9 448.4,38.0 447.8,38.7" fill="#faf419" stroke="#faf419"/>
<polygon points="394.8,69.8 395.5,66.8 402.5,63.8 401.9,66.9" fill="#67c771" stroke="#67c771"/>
<polygon points="444.0,47.7 444.6,50.9 451.6,48.3 451.0,45.1" fill="#feca34" stroke="#feca34"/>
<polygon points="442.1,68.6 442.7,70.5 449.7,67.8 449.1,65.9" fill="#63c874" stroke="#63c874"/>
<polygon points="442.7,70.5 443.4,72.2 450.4,69.6 449.7,67.8" fill="#50c883" stroke="#50c883"/>
<polygon points="441.4,66.7 442.1,68.6 449.1,65.9 448.4,64.0" fill="#76c764" stroke="#76c764"/>
<polygon points="443.4,72.2 444.0,73.9 451.0,71.4 450.4,69.6" fill="#3fc891" stroke="#3fc891"/>
<polygon points="402.5,63.8 403.1,60.9 410.1,58.0 409.5,61.0" fill="#a9c73b" stroke="#a9c73b"/>
<polygon points="440.8,64.7 441.4,66.7 448.4,64.0 447.8,62.0" fill="#8bc753" stroke="#8bc753"/>
<polygon points="444.0,73.9 444.7,75.5 451.7,73.1 451.0,71.4" fill="#34c69c" stroke="#34c69c"/>
<polygon points="440.2,62.6 440.8,64.7 447.8,62.0 447.2,60.0" fill="#a0c742" stroke="#a0c742"/>
<polygon points="444.7,75.5 445.3,77.0 452.3,74.8 451.7,73.1" fill="#2fc3a4" stroke="#2fc3a4"/>
<polygon points="443.3,44.4 444.0,47.7 451.0,45.1 450.3,42.0" fill="#fcdc28" stroke="#fcdc28"/>
<polygon points="433.1,43.7 433.7,42.5 440.7,40.4 440.1,41.7" fill="#fbe920" stroke="#fbe920"/>
<polygon points="439.5,60.5 440.2,62.6 447.2,60.0 446.5,57.9" fill="#b3c639" stroke="#b3c639"/>
<polygon points="445.3,77.0 445.9,78.4 452.9,76.4 452.3,74.8" fill="#2ac0ac" stroke="#2ac0ac"/>
<polygon points="441.4,39.9 442.0,40.1 449.0,38.1 448.4,38.0" fill="#f9f916" stroke="#f9f916"/>
<polygon points="438.9,58.3 439.5,60.5 446.5,57.9 445.9,55.7" fill="#c4c639" stroke="#c4c639"/>
<polygon points="410.1,58.0 410.8,55.3 417.8,52.6 417.2,55.3" fill="#d6c538" stroke="#d6c538"/>
<polygon points="438.2,56.0 438.9,58.3 445.9,55.7 445.2,53.4" fill="#d5c538" stroke="#d5c538"/>
<polygon points="425.4,47.8 426.1,46.0 433.1,43.7 432.5,45.6" fill="#fcd92a" stroke="#fcd92a"/>
<polygon points="442.7,41.6 443.3,44.4 450.3,42.0 449.7,39.4" fill="#faed1d" stroke="#faed1d"/>
<polygon points="417.8,52.6 418.4,50.3 425.4,47.8 424.8,50.1" fill="#fec338" stroke="#fec338"/>
<polygon points="442.0,40.1 442.7,41.6 449.7,39.4 449.0,38.1" fill="#f9f717" stroke="#f9f717"/>
<polygon points="437.6,53.5 438.2,56.0 445.2,53.4 444.6,50.9" fill="#e9c438" stroke="#e9c438"/>
<polygon points="436.9,50.4 437.6,53.5 444.6,50.9 444.0,47.7" fill="#fec537" stroke="#fec537"/>
<polygon points="433.7,42.5 434.4,42.0 441.4,39.9 440.7,40.4" fill="#faf31a" stroke="#faf31a"/>
<polygon points="395.5,66.8 396.1,64.0 403.1,60.9 402.5,63.8" fill="#99c747" stroke="#99c747"/>
<polygon points="435.1,71.2 435.7,73.0 442.7,70.5 442.1,68.6" fill="#58c87d" stroke="#58c87d"/>
<polygon points="435.7,73.0 436.4,74.8 443.4,72.2 442.7,70.5" fill="#46c88b" stroke="#46c88b"/>
<polygon points="434.4,69.2 435.1,71.2 442.1,68.6 441.4,66.7" fill="#6bc76d" stroke="#6bc76d"/>
<polygon points="436.4,74.8 437.0,76.4 444.0,73.9 443.4,72.2" fill="#37c898" stroke="#37c898"/>
<polygon points="433.8,67.2 434.4,69.2 441.4,66.7 440.8,64.7" fill="#80c75c" stroke="#80c75c"/>
<polygon points="437.0,76.4 437.6,77.9 444.7,75.5 444.0,73.9" fill="#32c5a0" stroke="#32c5a0"/>
<polygon points="433.1,65.1 433.8,67.2 440.8,64.7 440.2,62.6" fill="#96c74a" stroke="#96c74a"/>
<polygon points="436.3,47.0 436.9,50.4 444.0,47.7 443.3,44.4" fill="#fcd82b" stroke="#fcd82b"/>
<polygon points="437.6,77.9 438.3,79.4 445.3,77.0 444.7,75.5" fill="#2dc2a8" stroke="#2dc2a8"/>
<polygon points="432.5,63.0 433.1,65.1 440.2,62.6 439.5,60.5" fill="#acc739" stroke="#acc739"/>
<polygon points="403.1,60.9 403.8,58.3 410.8,55.3 410.1,58.0" fill="#cdc539" stroke="#cdc539"/>
<polygon points="426.1,46.0 426.7,44.8 433.7,42.5 433.1,43.7" fill="#fbe721" stroke="#fbe721"/>
<polygon points="431.9,60.8 432.5,63.0 439.5,60.5 438.9,58.3" fill="#bdc639" stroke="#bdc639"/>
<polygon points="438.3,79.4 438.9,80.7 445.9,78.4 445.3,77.0" fill="#29bfaf" stroke="#29bfaf"/>
<polygon points="434.4,42.0 435.0,42.3 442.0,40.1 441.4,39.9" fill="#f9f816" stroke="#f9f816"/>
<polygon points="431.2,58.5 431.9,60.8 438.9,58.3 438.2,56.0" fill="#cec538" stroke="#cec538"/>
<polygon points="410.8,55.3 411.4,53.1 418.4,50.3 417.8,52.6" fill="#f6c438" stroke="#f6c438"/>
<polygon points="418.4,50.3 419.1,48.5 426.1,46.0 425.4,47.8" fill="#fdd52d" stroke="#fdd52d"/>
<polygon points="435.7,44.0 436.3,47.0 443.3,44.4 442.7,41.6" fill="#fbe920" stroke="#fbe920"/>
<polygon points="430.6,56.1 431.2,58.5 438.2,56.0 437.6,53.5" fill="#e1c438" stroke="#e1c438"/>
<polygon points="435.0,42.3 435.7,44.0 442.7,41.6 442.0,40.1" fill="#faf518" stroke="#faf518"/>
<polygon points="429.9,53.1 430.6,56.1 437.6,53.5 436.9,50.4" fill="#f8c438" stroke="#f8c438"/>
<polygon points="426.7,44.8 427.4,44.4 434.4,42.0 433.7,42.5" fill="#faf11b" stroke="#faf11b"/>
<polygon points="428.1,73.7 428.7,75.6 435.7,73.0 435.1,71.2" fill="#4ec885" stroke="#4ec885"/>
<polygon points="428.7,75.6 429.3,77.3 436.4,74.8 435.7,73.0" fill="#3cc893" stroke="#3cc893"/>
<polygon points="427.4,71.7 428.1,73.7 435.1,71.2 434.4,69.2" fill="#62c875" stroke="#62c875"/>
<polygon points="429.3,77.3 430.0,79.0 437.0,76.4 436.4,74.8" fill="#33c69d" stroke="#33c69d"/>
<polygon points="426.8,69.6 427.4,71.7 434.4,69.2 433.8,67.2" fill="#77c763" stroke="#77c763"/>
<polygon points="430.0,79.0 430.6,80.5 437.6,77.9 437.0,76.4" fill="#2ec3a6" stroke="#2ec3a6"/>
<polygon points="429.3,49.7 429.9,53.1 436.9,50.4 436.3,47.0" fill="#fdd22f" stroke="#fdd22f"/>
<polygon points="396.1,64.0 396.8,61.5 403.8,58.3 403.1,60.9" fill="#c1c639" stroke="#c1c639"/>
<polygon points="426.1,67.5 426.8,69.6 433.8,67.2 433.1,65.1" fill="#8ec751" stroke="#8ec751"/>
<polygon points="430.6,80.5 431.3,81.9 438.3,79.4 437.6,77.9" fill="#2ac0ad" stroke="#2ac0ad"/>
<polygon points="425.5,65.4 426.1,67.5 433.1,65.1 432.5,63.0" fill="#a4c73e" stroke="#a4c73e"/>
<polygon points="419.1,48.5 419.7,47.4 426.7,44.8 426.1,46.0" fill="#fbe324" stroke="#fbe324"/>
<polygon points="424.9,63.2 425.5,65.4 432.5,63.0 431.9,60.8" fill="#b7c639" stroke="#b7c639"/>
<polygon points="431.3,81.9 431.9,83.2 438.9,80.7 438.3,79.4" fill="#26beb3" stroke="#26beb3"/>
<polygon points="403.8,58.3 404.4,56.1 411.4,53.1 410.8,55.3" fill="#ecc438" stroke="#ecc438"/>
<polygon points="424.2,61.1 424.9,63.2 431.9,60.8 431.2,58.5" fill="#c8c639" stroke="#c8c639"/>
<polygon points="411.4,53.1 412.1,51.3 419.1,48.5 418.4,50.3" fill="#fdd030" stroke="#fdd030"/>
<polygon points="427.4,44.4 428.0,44.8 435.0,42.3 434.4,42.0" fill="#faf518" stroke="#faf518"/>
<polygon points="428.7,46.7 429.3,49.7 436.3,47.0 435.7,44.0" fill="#fbe423" stroke="#fbe423"/>
<polygon points="423.6,58.8 424.2,61.1 431.2,58.5 430.6,56.1" fill="#dac538" stroke="#dac538"/>
<polygon points="428.0,44.8 428.7,46.7 435.7,44.0 435.0,42.3" fill="#faf11b" stroke="#faf11b"/>
<polygon points="422.9,55.9 423.6,58.8 430.6,56.1 429.9,53.1" fill="#f0c438" stroke="#f0c438"/>
<polygon points="419.7,47.4 420.4,47.0 427.4,44.4 426.7,44.8" fill="#faec1e" stroke="#faec1e"/>
<polygon points="421.7,78.2 422.3,79.9 429.3,77.3 428.7,75.6" fill="#35c79a" stroke="#35c79a"/>
<polygon points="421.1,76.2 421.7,78.2 428.7,75.6 428.1,73.7" fill="#44c88c" stroke="#44c88c"/>
<polygon points="422.3,79.9 423.0,81.6 430.0,79.0 429.3,77.3" fill="#30c4a3" stroke="#30c4a3"/>
<polygon points="420.4,74.1 421.1,76.2 428.1,73.7 427.4,71.7" fill="#59c87c" stroke="#59c87c"/>
<polygon points="422.3,52.6 422.9,55.9 429.9,53.1 429.3,49.7" fill="#fdcc33" stroke="#fdcc33"/>
<polygon points="423.0,81.6 423.6,83.2 430.6,80.5 430.0,79.0" fill="#2bc1ab" stroke="#2bc1ab"/>
<polygon points="419.8,72.0 420.4,74.1 427.4,71.7 426.8,69.6" fill="#6fc769" stroke="#6fc769"/>
<polygon points="423.6,83.2 424.3,84.6 431.3,81.9 430.6,80.5" fill="#27beb3" stroke="#27beb3"/>
<polygon points="419.1,69.8 419.8,72.0 426.8,69.6 426.1,67.5" fill="#87c757" stroke="#87c757"/>
<polygon points="396.8,61.5 397.4,59.3 404.4,56.1 403.8,58.3" fill="#dfc538" stroke="#dfc538"/>
<polygon points="412.1,51.3 412.7,50.3 419.7,47.4 419.1,48.5" fill="#fcdd27" stroke="#fcdd27"/>
<polygon points="418.5,67.7 419.1,69.8 426.1,67.5 425.5,65.4" fill="#9ec744" stroke="#9ec744"/>
<polygon points="424.3,84.6 424.9,86.0 431.9,83.2 431.3,81.9" fill="#23bcb9" stroke="#23bcb9"/>
<polygon points="404.4,56.1 405.1,54.4 412.1,51.3 411.4,53.1" fill="#fec835" stroke="#fec835"/>
<polygon points="417.8,65.6 418.5,67.7 425.5,65.4 424.9,63.2" fill="#b2c639" stroke="#b2c639"/>
<polygon points="421.6,49.5 422.3,52.6 429.3,49.7 428.7,46.7" fill="#fcde27" stroke="#fcde27"/>
<polygon points="417.2,63.6 417.8,65.6 424.9,63.2 424.2,61.1" fill="#c2c639" stroke="#c2c639"/>
<polygon points="420.4,47.0 421.0,47.6 428.0,44.8 427.4,44.4" fill="#faf01b" stroke="#faf01b"/>
<polygon points="416.6,61.4 417.2,63.6 424.2,61.1 423.6,58.8" fill="#d3c538" stroke="#d3c538"/>
<polygon points="421.0,47.6 421.6,49.5 428.7,46.7 428.0,44.8" fill="#fbec1e" stroke="#fbec1e"/>
<polygon points="415.9,58.7 416.6,61.4 423.6,58.8 422.9,55.9" fill="#e7c438" stroke="#e7c438"/>
<polygon points="412.7,50.3 413.4,49.9 420.4,47.0 419.7,47.4" fill="#fbe622" stroke="#fbe622"/>
<polygon points="415.3,55.6 415.9,58.7 422.9,55.9 422.3,52.6" fill="#fec537" stroke="#fec537"/>
<polygon points="414.7,80.7 415.3,82.5 422.3,79.9 421.7,78.2" fill="#32c59f" stroke="#32c59f"/>
<polygon points="415.3,82.5 416.0,84.3 423.0,81.6 422.3,79.9" fill="#2cc1a9" stroke="#2cc1a9"/>
<polygon points="414.0,78.6 414.7,80.7 421.7,78.2 421.1,76.2" fill="#3bc894" stroke="#3bc894"/>
<polygon points="416.0,84.3 416.6,86.0 423.6,83.2 423.0,81.6" fill="#27beb2" stroke="#27beb2"/>
<polygon points="413.4,76.4 414.0,78.6 421.1,76.2 420.4,74.1" fill="#51c882" stroke="#51c882"/>
<polygon points="416.6,86.0 417.3,87.6 424.3,84.6 423.6,83.2" fill="#22bbba" stroke="#22bbba"/>
<polygon points="405.1,54.4 405.7,53.4 412.7,50.3 412.1,51.3" fill="#fdd62c" stroke="#fdd62c"/>
<polygon points="412.8,74.2 413.4,76.4 420.4,74.1 419.8,72.0" fill="#69c76f" stroke="#69c76f"/>
<polygon points="397.4,59.3 398.1,57.7 405.1,54.4 404.4,56.1" fill="#f9c438" stroke="#f9c438"/>
<polygon points="417.3,87.6 417.9,89.0 424.9,86.0 424.3,84.6" fill="#1eb9c1" stroke="#1eb9c1"/>
<polygon points="412.1,72.0 412.8,74.2 419.8,72.0 419.1,69.8" fill="#81c75b" stroke="#81c75b"/>
<polygon points="414.6,52.6 415.3,55.6 422.3,52.6 421.6,49.5" fill="#fcd62c" stroke="#fcd62c"/>
<polygon points="411.5,69.9 412.1,72.0 419.1,69.8 418.5,67.7" fill="#98c748" stroke="#98c748"/>
<polygon points="413.4,49.9 414.0,50.6 421.0,47.6 420.4,47.0" fill="#fbe920" stroke="#fbe920"/>
<polygon points="410.8,68.0 411.5,69.9 418.5,67.7 417.8,65.6" fill="#adc739" stroke="#adc739"/>
<polygon points="410.2,66.0 410.8,68.0 417.8,65.6 417.2,63.6" fill="#bcc639" stroke="#bcc639"/>
<polygon points="414.0,50.6 414.6,52.6 421.6,49.5 421.0,47.6" fill="#fbe423" stroke="#fbe423"/>
<polygon points="409.6,64.0 410.2,66.0 417.2,63.6 416.6,61.4" fill="#ccc539" stroke="#ccc539"/>
<polygon points="408.9,61.7 409.6,64.0 416.6,61.4 415.9,58.7" fill="#dec538" stroke="#dec538"/>
<polygon points="405.7,53.4 406.3,53.1 413.4,49.9 412.7,50.3" fill="#fcde27" stroke="#fcde27"/>
<polygon points="408.3,58.8 408.9,61.7 415.9,58.7 415.3,55.6" fill="#f5c438" stroke="#f5c438"/>
<polygon points="398.1,57.7 398.7,56.7 405.7,53.4 405.1,54.4" fill="#fdcd32" stroke="#fdcd32"/>
<polygon points="408.3,85.1 409.0,87.1 416.0,84.3 415.3,82.5" fill="#29bfaf" stroke="#29bfaf"/>
<polygon points="409.0,87.1 409.6,88.9 416.6,86.0 416.0,84.3" fill="#23bcb9" stroke="#23bcb9"/>
<polygon points="407.7,83.2 408.3,85.1 415.3,82.5 414.7,80.7" fill="#2fc3a5" stroke="#2fc3a5"/>
<polygon points="409.6,88.9 410.3,90.6 417.3,87.6 416.6,86.0" fill="#1db8c2" stroke="#1db8c2"/>
<polygon points="407.0,81.0 407.7,83.2 414.7,80.7 414.0,78.6" fill="#36c799" stroke="#36c799"/>
<polygon points="410.3,90.6 410.9,92.3 417.9,89.0 417.3,87.6" fill="#18b5cb" stroke="#18b5cb"/>
<polygon points="406.4,78.7 407.0,81.0 414.0,78.6 413.4,76.4" fill="#4bc887" stroke="#4bc887"/>
<polygon points="407.6,56.0 408.3,58.8 415.3,55.6 414.6,52.6" fill="#fdcd32" stroke="#fdcd32"/>
<polygon points="406.3,53.1 407.0,53.9 414.0,50.6 413.4,49.9" fill="#fce125" stroke="#fce125"/>
<polygon points="405.8,76.3 406.4,78.7 413.4,76.4 412.8,74.2" fill="#64c873" stroke="#64c873"/>
<polygon points="407.0,53.9 407.6,56.0 414.6,52.6 414.0,50.6" fill="#fcdb29" stroke="#fcdb29"/>
<polygon points="405.1,74.1 405.8,76.3 412.8,74.2 412.1,72.0" fill="#7dc75f" stroke="#7dc75f"/>
<polygon points="404.5,72.1 405.1,74.1 412.1,72.0 411.5,69.9" fill="#94c74c" stroke="#94c74c"/>
<polygon points="403.8,70.2 404.5,72.1 411.5,69.9 410.8,68.0" fill="#a8c73b" stroke="#a8c73b"/>
<polygon points="403.2,68.5 403.8,70.2 410.8,68.0 410.2,66.0" fill="#b7c639" stroke="#b7c639"/>
<polygon points="402.5,66.7 403.2,68.5 410.2,66.0 409.6,64.0" fill="#c5c639" stroke="#c5c639"/>
<polygon points="401.9,64.7 402.5,66.7 409.6,64.0 408.9,61.7" fill="#d4c538" stroke="#d4c538"/>
<polygon points="398.7,56.7 399.3,56.6 406.3,53.1 405.7,53.4" fill="#fdd52d" stroke="#fdd52d"/>
<polygon points="401.3,62.2 401.9,64.7 408.9,61.7 408.3,58.8" fill="#e8c438" stroke="#e8c438"/>
<polygon points="400.6,59.5 401.3,62.2 408.3,58.8 407.6,56.0" fill="#fec338" stroke="#fec338"/>
<polygon points="399.3,56.6 400.0,57.5 407.0,53.9 406.3,53.1" fill="#fcd62c" stroke="#fcd62c"/>
<polygon points="400.0,57.5 400.6,59.5 407.6,56.0 407.0,53.9" fill="#fdd030" stroke="#fdd030"/>
</g>
<path class="ax" d="M376.7 86.5L418.2 122.2M418.2 122.2L490.6 102.8M376.7 86.5L376.7 24.4M376.7 86.5L375.2 86.9M387.1 95.4L385.5 95.8M397.4 104.3L395.9 104.8M407.8 113.3L406.3 113.7M418.2 122.2L416.7 122.6M418.2 122.2L419.4 123.2M432.7 118.3L433.9 119.4M447.2 114.4L448.4 115.5M461.6 110.6L462.9 111.6M476.1 106.7L477.3 107.7M490.6 102.8L491.8 103.8M376.7 86.5L375.2 86.9M376.7 77.6L375.2 78.0M376.7 68.8L375.2 69.2M376.7 59.9L375.2 60.3M376.7 51.0L375.2 51.4M376.7 42.1L375.2 42.6M376.7 33.3L375.2 33.7M376.7 24.4L375.2 24.8"/>
<text class="t e" x="372.3" y="92.3">−100</text>
<text class="t e" x="382.7" y="101.2">−50</text>
<text class="t e" x="393.1" y="110.1">0</text>
<text class="t e" x="403.4" y="119.1">50</text>
<text class="t e" x="413.8" y="128.0">100</text>
<text class="t" x="417.7" y="133.1">75</text>
<text class="t" x="432.2" y="129.2">50</text>
<text class="t" x="446.7" y="125.3">25</text>
<text class="t" x="461.1" y="121.5">0</text>
<text class="t" x="475.6" y="117.6">−25</text>
<text class="t" x="490.1" y="113.7">−50</text>
<text class="t e" x="373.1" y="87.7">38</text>
<text class="t e" x="373.1" y="79.8">40</text>
<text class="t e" x="373.1" y="71.0">42</text>
<text class="t e" x="373.1" y="62.1">44</text>
<text class="t e" x="373.1" y="53.2">46</text>
<text class="t e" x="373.1" y="44.3">48</text>
<text class="t e" x="373.1" y="35.5">50</text>
<text class="t e" x="373.1" y="26.6">52</text>
<text class="t m" transform="translate(411.5 12.0) rotate(-12.0)">Scheme C</text>
<text class="t m" x="371.0" y="120.0"><tspan class="i">d</tspan><tspan class="sub" dy="1.5">1</tspan><tspan dy="-1.5"> (µm)</tspan></text>
<text class="t m" x="470.0" y="133.0"><tspan class="i">d</tspan><tspan class="sub" dy="1.5">2</tspan><tspan dy="-1.5"> (µm)</tspan></text>
<text class="t m" transform="translate(356.5 55.0) rotate(-90)">FSO (mV)</text></g>
<g><path class="gr" d="M550.3 92.3L635.5 71.8M635.5 71.8L635.5 9.8M559.4 100.0L644.6 79.5M644.6 79.5L644.6 17.5M568.5 107.7L653.8 87.2M653.8 87.2L653.8 25.2M577.7 115.4L662.9 94.9M662.9 94.9L662.9 32.9M586.8 123.1L672.0 102.6M672.0 102.6L672.0 40.6M550.3 92.3L586.8 123.1M550.3 92.3L550.3 30.3M571.6 87.2L608.1 118.0M571.6 87.2L571.6 25.2M592.9 82.0L629.4 112.8M592.9 82.0L592.9 20.0M614.2 76.9L650.7 107.7M614.2 76.9L614.2 14.9M635.5 71.8L672.0 102.6M635.5 71.8L635.5 9.8M550.3 92.3L635.5 71.8M635.5 71.8L672.0 102.6M550.3 82.0L635.5 61.5M635.5 61.5L672.0 92.3M550.3 71.6L635.5 51.1M635.5 51.1L672.0 81.9M550.3 61.3L635.5 40.8M635.5 40.8L672.0 71.6M550.3 51.0L635.5 30.5M635.5 30.5L672.0 61.3M550.3 40.6L635.5 20.1M635.5 20.1L672.0 50.9M550.3 30.3L635.5 9.8M635.5 9.8L672.0 40.6"/>
<g filter="url(#sb)">
<polygon points="642.1,38.9 646.1,41.8 648.0,42.9 644.0,40.0" fill="#d4c538" stroke="#d4c538"/>
<polygon points="640.2,37.9 644.2,40.8 646.1,41.8 642.1,38.9" fill="#e8c438" stroke="#e8c438"/>
<polygon points="638.3,37.1 642.3,40.0 644.2,40.8 640.2,37.9" fill="#fbc338" stroke="#fbc338"/>
<polygon points="636.3,36.4 640.3,39.3 642.3,40.0 638.3,37.1" fill="#fdcc33" stroke="#fdcc33"/>
<polygon points="559.5,93.3 563.5,96.5 565.4,94.0 561.4,90.8" fill="#402eb6" stroke="#402eb6"/>
<polygon points="561.4,90.8 565.4,94.0 567.3,91.5 563.4,88.4" fill="#433dcf" stroke="#433dcf"/>
<polygon points="634.4,35.9 638.4,38.8 640.3,39.3 636.3,36.4" fill="#fdd52d" stroke="#fdd52d"/>
<polygon points="563.4,88.4 567.3,91.5 569.3,89.0 565.3,86.0" fill="#464be7" stroke="#464be7"/>
<polygon points="565.3,86.0 569.3,89.0 571.2,86.6 567.2,83.6" fill="#445af5" stroke="#445af5"/>
<polygon points="632.5,35.5 636.5,38.5 638.4,38.8 634.4,35.9" fill="#fcdd28" stroke="#fcdd28"/>
<polygon points="646.1,41.8 650.1,44.7 652.0,45.7 648.0,42.9" fill="#dbc538" stroke="#dbc538"/>
<polygon points="567.2,83.6 571.2,86.6 573.1,84.2 569.1,81.2" fill="#3c6af5" stroke="#3c6af5"/>
<polygon points="630.6,35.3 634.6,38.4 636.5,38.5 632.5,35.5" fill="#fbe324" stroke="#fbe324"/>
<polygon points="569.1,81.2 573.1,84.2 575.0,81.9 571.0,78.9" fill="#347af6" stroke="#347af6"/>
<polygon points="571.0,78.9 575.0,81.9 576.9,79.6 573.0,76.7" fill="#2c89f5" stroke="#2c89f5"/>
<polygon points="644.2,40.8 648.2,43.7 650.1,44.7 646.1,41.8" fill="#efc438" stroke="#efc438"/>
<polygon points="628.7,35.2 632.7,38.3 634.6,38.4 630.6,35.3" fill="#fbe920" stroke="#fbe920"/>
<polygon points="573.0,76.7 576.9,79.6 578.9,77.4 574.9,74.5" fill="#2495ec" stroke="#2495ec"/>
<polygon points="574.9,74.5 578.9,77.4 580.8,75.2 576.8,72.3" fill="#1ca1e2" stroke="#1ca1e2"/>
<polygon points="626.7,35.2 630.7,38.3 632.7,38.3 628.7,35.2" fill="#faed1d" stroke="#faed1d"/>
<polygon points="576.8,72.3 580.8,75.2 582.7,73.0 578.7,70.2" fill="#15adda" stroke="#15adda"/>
<polygon points="642.3,40.0 646.3,42.9 648.2,43.7 644.2,40.8" fill="#fec537" stroke="#fec537"/>
<polygon points="578.7,70.2 582.7,73.0 584.6,70.9 580.6,68.1" fill="#18b5cc" stroke="#18b5cc"/>
<polygon points="624.8,35.4 628.8,38.5 630.7,38.3 626.7,35.2" fill="#faf11b" stroke="#faf11b"/>
<polygon points="580.6,68.1 584.6,70.9 586.6,68.8 582.6,66.0" fill="#22bbbb" stroke="#22bbbb"/>
<polygon points="622.9,35.8 626.9,39.0 628.8,38.5 624.8,35.4" fill="#faf21a" stroke="#faf21a"/>
<polygon points="582.6,66.0 586.6,68.8 588.5,66.7 584.5,63.9" fill="#2cc1aa" stroke="#2cc1aa"/>
<polygon points="640.3,39.3 644.3,42.3 646.3,42.9 642.3,40.0" fill="#fdd030" stroke="#fdd030"/>
<polygon points="563.5,96.5 567.5,99.7 569.4,97.1 565.4,94.0" fill="#4030b8" stroke="#4030b8"/>
<polygon points="584.5,63.9 588.5,66.7 590.4,64.6 586.4,61.9" fill="#35c79a" stroke="#35c79a"/>
<polygon points="621.0,36.4 625.0,39.5 626.9,39.0 622.9,35.8" fill="#faf21a" stroke="#faf21a"/>
<polygon points="586.4,61.9 590.4,64.6 592.3,62.6 588.3,59.9" fill="#4fc884" stroke="#4fc884"/>
<polygon points="565.4,94.0 569.4,97.1 571.3,94.6 567.3,91.5" fill="#433ed2" stroke="#433ed2"/>
<polygon points="619.1,37.1 623.1,40.2 625.0,39.5 621.0,36.4" fill="#faf01b" stroke="#faf01b"/>
<polygon points="588.3,59.9 592.3,62.6 594.2,60.6 590.2,57.9" fill="#6cc76c" stroke="#6cc76c"/>
<polygon points="638.4,38.8 642.4,41.8 644.3,42.3 640.3,39.3" fill="#fcd92a" stroke="#fcd92a"/>
<polygon points="617.1,37.8 621.1,40.9 623.1,40.2 619.1,37.1" fill="#faee1d" stroke="#faee1d"/>
<polygon points="590.2,57.9 594.2,60.6 596.2,58.7 592.2,56.0" fill="#87c756" stroke="#87c756"/>
<polygon points="567.3,91.5 571.3,94.6 573.3,92.1 569.3,89.0" fill="#464deb" stroke="#464deb"/>
<polygon points="615.2,38.6 619.2,41.7 621.1,40.9 617.1,37.8" fill="#fbeb1e" stroke="#fbeb1e"/>
<polygon points="592.2,56.0 596.2,58.7 598.1,56.9 594.1,54.2" fill="#a2c741" stroke="#a2c741"/>
<polygon points="594.1,54.2 598.1,56.9 600.0,55.2 596.0,52.5" fill="#b6c639" stroke="#b6c639"/>
<polygon points="613.3,39.7 617.3,42.7 619.2,41.7 615.2,38.6" fill="#fbe721" stroke="#fbe721"/>
<polygon points="596.0,52.5 600.0,55.2 601.9,53.6 597.9,50.8" fill="#c6c639" stroke="#c6c639"/>
<polygon points="611.4,40.8 615.4,43.8 617.3,42.7 613.3,39.7" fill="#fbe224" stroke="#fbe224"/>
<polygon points="569.3,89.0 573.3,92.1 575.2,89.6 571.2,86.6" fill="#425df5" stroke="#425df5"/>
<polygon points="597.9,50.8 601.9,53.6 603.8,52.1 599.8,49.3" fill="#d5c538" stroke="#d5c538"/>
<polygon points="636.5,38.5 640.5,41.6 642.4,41.8 638.4,38.8" fill="#fce025" stroke="#fce025"/>
<polygon points="599.8,49.3 603.8,52.1 605.8,50.6 601.8,47.8" fill="#e3c438" stroke="#e3c438"/>
<polygon points="609.5,42.1 613.4,44.9 615.4,43.8 611.4,40.8" fill="#fcdc29" stroke="#fcdc29"/>
<polygon points="601.8,47.8 605.8,50.6 607.7,49.1 603.7,46.3" fill="#f1c438" stroke="#f1c438"/>
<polygon points="607.5,43.5 611.5,46.2 613.4,44.9 609.5,42.1" fill="#fdd42d" stroke="#fdd42d"/>
<polygon points="603.7,46.3 607.7,49.1 609.6,47.6 605.6,44.9" fill="#fec338" stroke="#fec338"/>
<polygon points="605.6,44.9 609.6,47.6 611.5,46.2 607.5,43.5" fill="#fdcc32" stroke="#fdcc32"/>
<polygon points="650.1,44.7 654.1,47.6 656.0,48.6 652.0,45.7" fill="#e1c438" stroke="#e1c438"/>
<polygon points="571.2,86.6 575.2,89.6 577.1,87.2 573.1,84.2" fill="#3a6df6" stroke="#3a6df6"/>
<polygon points="634.6,38.4 638.6,41.5 640.5,41.6 636.5,38.5" fill="#fbe622" stroke="#fbe622"/>
<polygon points="573.1,84.2 577.1,87.2 579.0,84.8 575.0,81.9" fill="#327ef6" stroke="#327ef6"/>
<polygon points="575.0,81.9 579.0,84.8 580.9,82.5 576.9,79.6" fill="#2a8cf3" stroke="#2a8cf3"/>
<polygon points="648.2,43.7 652.2,46.6 654.1,47.6 650.1,44.7" fill="#f5c438" stroke="#f5c438"/>
<polygon points="632.7,38.3 636.6,41.4 638.6,41.5 634.6,38.4" fill="#fbeb1f" stroke="#fbeb1f"/>
<polygon points="576.9,79.6 580.9,82.5 582.9,80.2 578.9,77.4" fill="#2299e9" stroke="#2299e9"/>
<polygon points="578.9,77.4 582.9,80.2 584.8,78.0 580.8,75.2" fill="#1aa5e0" stroke="#1aa5e0"/>
<polygon points="630.7,38.3 634.7,41.5 636.6,41.4 632.7,38.3" fill="#faf01c" stroke="#faf01c"/>
<polygon points="646.3,42.9 650.2,45.8 652.2,46.6 648.2,43.7" fill="#fec934" stroke="#fec934"/>
<polygon points="580.8,75.2 584.8,78.0 586.7,75.9 582.7,73.0" fill="#12b0d7" stroke="#12b0d7"/>
<polygon points="628.8,38.5 632.8,41.7 634.7,41.5 630.7,38.3" fill="#faf31a" stroke="#faf31a"/>
<polygon points="582.7,73.0 586.7,75.9 588.6,73.7 584.6,70.9" fill="#1bb7c6" stroke="#1bb7c6"/>
<polygon points="584.6,70.9 588.6,73.7 590.5,71.6 586.6,68.8" fill="#25bdb5" stroke="#25bdb5"/>
<polygon points="626.9,39.0 630.9,42.1 632.8,41.7 628.8,38.5" fill="#faf419" stroke="#faf419"/>
<polygon points="644.3,42.3 648.3,45.2 650.2,45.8 646.3,42.9" fill="#fdd42e" stroke="#fdd42e"/>
<polygon points="567.5,99.7 571.5,102.9 573.4,100.3 569.4,97.1" fill="#4031bb" stroke="#4031bb"/>
<polygon points="586.6,68.8 590.5,71.6 592.5,69.4 588.5,66.7" fill="#2fc3a4" stroke="#2fc3a4"/>
<polygon points="625.0,39.5 629.0,42.7 630.9,42.1 626.9,39.0" fill="#faf419" stroke="#faf419"/>
<polygon points="588.5,66.7 592.5,69.4 594.4,67.4 590.4,64.6" fill="#3dc892" stroke="#3dc892"/>
<polygon points="569.4,97.1 573.4,100.3 575.3,97.7 571.3,94.6" fill="#4440d5" stroke="#4440d5"/>
<polygon points="623.1,40.2 627.0,43.3 629.0,42.7 625.0,39.5" fill="#faf21a" stroke="#faf21a"/>
<polygon points="590.4,64.6 594.4,67.4 596.3,65.3 592.3,62.6" fill="#5bc87a" stroke="#5bc87a"/>
<polygon points="642.4,41.8 646.4,44.8 648.3,45.2 644.3,42.3" fill="#fcdd28" stroke="#fcdd28"/>
<polygon points="621.1,40.9 625.1,44.0 627.0,43.3 623.1,40.2" fill="#faf11b" stroke="#faf11b"/>
<polygon points="592.3,62.6 596.3,65.3 598.2,63.4 594.2,60.6" fill="#78c762" stroke="#78c762"/>
<polygon points="571.3,94.6 575.3,97.7 577.3,95.1 573.3,92.1" fill="#474fee" stroke="#474fee"/>
<polygon points="594.2,60.6 598.2,63.4 600.2,61.5 596.2,58.7" fill="#94c74c" stroke="#94c74c"/>
<polygon points="619.2,41.7 623.2,44.8 625.1,44.0 621.1,40.9" fill="#faee1d" stroke="#faee1d"/>
<polygon points="596.2,58.7 600.2,61.5 602.1,59.7 598.1,56.9" fill="#adc739" stroke="#adc739"/>
<polygon points="617.3,42.7 621.3,45.7 623.2,44.8 619.2,41.7" fill="#fbea1f" stroke="#fbea1f"/>
<polygon points="598.1,56.9 602.1,59.7 604.0,58.0 600.0,55.2" fill="#bec639" stroke="#bec639"/>
<polygon points="573.3,92.1 577.3,95.1 579.2,92.6 575.2,89.6" fill="#4160f5" stroke="#4160f5"/>
<polygon points="615.4,43.8 619.4,46.7 621.3,45.7 617.3,42.7" fill="#fbe622" stroke="#fbe622"/>
<polygon points="640.5,41.6 644.5,44.6 646.4,44.8 642.4,41.8" fill="#fbe423" stroke="#fbe423"/>
<polygon points="600.0,55.2 604.0,58.0 605.9,56.4 601.9,53.6" fill="#cec538" stroke="#cec538"/>
<polygon points="601.9,53.6 605.9,56.4 607.8,54.8 603.8,52.1" fill="#ddc538" stroke="#ddc538"/>
<polygon points="613.4,44.9 617.4,47.8 619.4,46.7 615.4,43.8" fill="#fce026" stroke="#fce026"/>
<polygon points="603.8,52.1 607.8,54.8 609.8,53.3 605.8,50.6" fill="#ebc438" stroke="#ebc438"/>
<polygon points="611.5,46.2 615.5,49.0 617.4,47.8 613.4,44.9" fill="#fcd92a" stroke="#fcd92a"/>
<polygon points="605.8,50.6 609.8,53.3 611.7,51.8 607.7,49.1" fill="#f9c438" stroke="#f9c438"/>
<polygon points="607.7,49.1 611.7,51.8 613.6,50.4 609.6,47.6" fill="#fec934" stroke="#fec934"/>
<polygon points="609.6,47.6 613.6,50.4 615.5,49.0 611.5,46.2" fill="#fdd12f" stroke="#fdd12f"/>
<polygon points="654.1,47.6 658.1,50.5 660.0,51.5 656.0,48.6" fill="#e8c438" stroke="#e8c438"/>
<polygon points="575.2,89.6 579.2,92.6 581.1,90.2 577.1,87.2" fill="#3971f6" stroke="#3971f6"/>
<polygon points="638.6,41.5 642.6,44.5 644.5,44.6 640.5,41.6" fill="#fbe920" stroke="#fbe920"/>
<polygon points="577.1,87.2 581.1,90.2 583.0,87.8 579.0,84.8" fill="#3081f7" stroke="#3081f7"/>
<polygon points="579.0,84.8 583.0,87.8 584.9,85.4 580.9,82.5" fill="#288ff0" stroke="#288ff0"/>
<polygon points="636.6,41.4 640.6,44.5 642.6,44.5 638.6,41.5" fill="#faee1d" stroke="#faee1d"/>
<polygon points="652.2,46.6 656.2,49.5 658.1,50.5 654.1,47.6" fill="#fbc338" stroke="#fbc338"/>
<polygon points="580.9,82.5 584.9,85.4 586.9,83.1 582.9,80.2" fill="#209ce7" stroke="#209ce7"/>
<polygon points="634.7,41.5 638.7,44.6 640.6,44.5 636.6,41.4" fill="#faf21a" stroke="#faf21a"/>
<polygon points="582.9,80.2 586.9,83.1 588.8,80.9 584.8,78.0" fill="#18a8dd" stroke="#18a8dd"/>
<polygon points="650.2,45.8 654.2,48.7 656.2,49.5 652.2,46.6" fill="#fdcd32" stroke="#fdcd32"/>
<polygon points="584.8,78.0 588.8,80.9 590.7,78.7 586.7,75.9" fill="#14b3d2" stroke="#14b3d2"/>
<polygon points="632.8,41.7 636.8,44.8 638.7,44.6 634.7,41.5" fill="#faf519" stroke="#faf519"/>
<polygon points="586.7,75.9 590.7,78.7 592.6,76.5 588.6,73.7" fill="#1eb9c0" stroke="#1eb9c0"/>
<polygon points="630.9,42.1 634.9,45.3 636.8,44.8 632.8,41.7" fill="#faf618" stroke="#faf618"/>
<polygon points="588.6,73.7 592.6,76.5 594.5,74.3 590.5,71.6" fill="#29bfaf" stroke="#29bfaf"/>
<polygon points="571.5,102.9 575.5,106.1 577.4,103.4 573.4,100.3" fill="#4032bd" stroke="#4032bd"/>
<polygon points="648.3,45.2 652.3,48.1 654.2,48.7 650.2,45.8" fill="#fcd82b" stroke="#fcd82b"/>
<polygon points="629.0,42.7 633.0,45.8 634.9,45.3 630.9,42.1" fill="#faf618" stroke="#faf618"/>
<polygon points="590.5,71.6 594.5,74.3 596.5,72.2 592.5,69.4" fill="#33c59e" stroke="#33c59e"/>
<polygon points="592.5,69.4 596.5,72.2 598.4,70.1 594.4,67.4" fill="#49c888" stroke="#49c888"/>
<polygon points="627.0,43.3 631.0,46.4 633.0,45.8 629.0,42.7" fill="#faf519" stroke="#faf519"/>
<polygon points="573.4,100.3 577.4,103.4 579.3,100.8 575.3,97.7" fill="#4442d8" stroke="#4442d8"/>
<polygon points="594.4,67.4 598.4,70.1 600.3,68.1 596.3,65.3" fill="#67c770" stroke="#67c770"/>
<polygon points="625.1,44.0 629.1,47.1 631.0,46.4 627.0,43.3" fill="#faf31a" stroke="#faf31a"/>
<polygon points="646.4,44.8 650.4,47.8 652.3,48.1 648.3,45.2" fill="#fce025" stroke="#fce025"/>
<polygon points="575.3,97.7 579.3,100.8 581.2,98.2 577.3,95.1" fill="#4751f2" stroke="#4751f2"/>
<polygon points="596.3,65.3 600.3,68.1 602.2,66.1 598.2,63.4" fill="#84c759" stroke="#84c759"/>
<polygon points="623.2,44.8 627.2,47.8 629.1,47.1 625.1,44.0" fill="#faf11b" stroke="#faf11b"/>
<polygon points="598.2,63.4 602.2,66.1 604.1,64.2 600.2,61.5" fill="#a0c742" stroke="#a0c742"/>
<polygon points="621.3,45.7 625.3,48.7 627.2,47.8 623.2,44.8" fill="#faed1d" stroke="#faed1d"/>
<polygon points="600.2,61.5 604.1,64.2 606.1,62.4 602.1,59.7" fill="#b6c639" stroke="#b6c639"/>
<polygon points="577.3,95.1 581.2,98.2 583.2,95.6 579.2,92.6" fill="#4063f5" stroke="#4063f5"/>
<polygon points="619.4,46.7 623.4,49.6 625.3,48.7 621.3,45.7" fill="#fbe920" stroke="#fbe920"/>
<polygon points="644.5,44.6 648.5,47.6 650.4,47.8 646.4,44.8" fill="#fbe721" stroke="#fbe721"/>
<polygon points="602.1,59.7 606.1,62.4 608.0,60.7 604.0,58.0" fill="#c7c639" stroke="#c7c639"/>
<polygon points="604.0,58.0 608.0,60.7 609.9,59.1 605.9,56.4" fill="#d7c538" stroke="#d7c538"/>
<polygon points="617.4,47.8 621.4,50.6 623.4,49.6 619.4,46.7" fill="#fbe423" stroke="#fbe423"/>
<polygon points="605.9,56.4 609.9,59.1 611.8,57.6 607.8,54.8" fill="#e6c438" stroke="#e6c438"/>
<polygon points="607.8,54.8 611.8,57.6 613.7,56.0 609.8,53.3" fill="#f4c438" stroke="#f4c438"/>
<polygon points="615.5,49.0 619.5,51.8 621.4,50.6 617.4,47.8" fill="#fcde27" stroke="#fcde27"/>
<polygon points="609.8,53.3 613.7,56.0 615.7,54.6 611.7,51.8" fill="#fec637" stroke="#fec637"/>
<polygon points="613.6,50.4 617.6,53.2 619.5,51.8 615.5,49.0" fill="#fcd72c" stroke="#fcd72c"/>
<polygon points="611.7,51.8 615.7,54.6 617.6,53.2 613.6,50.4" fill="#fdcf31" stroke="#fdcf31"/>
<polygon points="658.1,50.5 662.1,53.3 664.0,54.4 660.0,51.5" fill="#eec438" stroke="#eec438"/>
<polygon points="579.2,92.6 583.2,95.6 585.1,93.1 581.1,90.2" fill="#3774f6" stroke="#3774f6"/>
<polygon points="642.6,44.5 646.6,47.6 648.5,47.6 644.5,44.6" fill="#faec1e" stroke="#faec1e"/>
<polygon points="581.1,90.2 585.1,93.1 587.0,90.7 583.0,87.8" fill="#2f85f7" stroke="#2f85f7"/>
<polygon points="640.6,44.5 644.6,47.6 646.6,47.6 642.6,44.5" fill="#faf01b" stroke="#faf01b"/>
<polygon points="583.0,87.8 587.0,90.7 588.9,88.3 584.9,85.4" fill="#2692ee" stroke="#2692ee"/>
<polygon points="656.2,49.5 660.2,52.4 662.1,53.3 658.1,50.5" fill="#fec637" stroke="#fec637"/>
<polygon points="584.9,85.4 588.9,88.3 590.8,86.0 586.9,83.1" fill="#1d9fe4" stroke="#1d9fe4"/>
<polygon points="638.7,44.6 642.7,47.8 644.6,47.6 640.6,44.5" fill="#faf419" stroke="#faf419"/>
<polygon points="586.9,83.1 590.8,86.0 592.8,83.7 588.8,80.9" fill="#15acda" stroke="#15acda"/>
<polygon points="654.2,48.7 658.2,51.7 660.2,52.4 656.2,49.5" fill="#fdd12f" stroke="#fdd12f"/>
<polygon points="636.8,44.8 640.8,48.0 642.7,47.8 638.7,44.6" fill="#faf717" stroke="#faf717"/>
<polygon points="588.8,80.9 592.8,83.7 594.7,81.5 590.7,78.7" fill="#17b5cc" stroke="#17b5cc"/>
<polygon points="590.7,78.7 594.7,81.5 596.6,79.3 592.6,76.5" fill="#22bbbb" stroke="#22bbbb"/>
<polygon points="634.9,45.3 638.9,48.4 640.8,48.0 636.8,44.8" fill="#f9f817" stroke="#f9f817"/>
<polygon points="575.5,106.1 579.5,109.3 581.4,106.6 577.4,103.4" fill="#4134c0" stroke="#4134c0"/>
<polygon points="592.6,76.5 596.6,79.3 598.5,77.1 594.5,74.3" fill="#2cc1a9" stroke="#2cc1a9"/>
<polygon points="652.3,48.1 656.3,51.1 658.2,51.7 654.2,48.7" fill="#fcdc29" stroke="#fcdc29"/>
<polygon points="633.0,45.8 637.0,48.9 638.9,48.4 634.9,45.3" fill="#f9f817" stroke="#f9f817"/>
<polygon points="594.5,74.3 598.5,77.1 600.5,75.0 596.5,72.2" fill="#37c898" stroke="#37c898"/>
<polygon points="631.0,46.4 635.0,49.5 637.0,48.9 633.0,45.8" fill="#f9f717" stroke="#f9f717"/>
<polygon points="577.4,103.4 581.4,106.6 583.3,103.9 579.3,100.8" fill="#4444db" stroke="#4444db"/>
<polygon points="596.5,72.2 600.5,75.0 602.4,72.8 598.4,70.1" fill="#55c87f" stroke="#55c87f"/>
<polygon points="629.1,47.1 633.1,50.2 635.0,49.5 631.0,46.4" fill="#faf518" stroke="#faf518"/>
<polygon points="598.4,70.1 602.4,72.8 604.3,70.8 600.3,68.1" fill="#73c766" stroke="#73c766"/>
<polygon points="650.4,47.8 654.4,50.7 656.3,51.1 652.3,48.1" fill="#fbe423" stroke="#fbe423"/>
<polygon points="579.3,100.8 583.3,103.9 585.2,101.2 581.2,98.2" fill="#4753f4" stroke="#4753f4"/>
<polygon points="627.2,47.8 631.2,50.9 633.1,50.2 629.1,47.1" fill="#faf31a" stroke="#faf31a"/>
<polygon points="600.3,68.1 604.3,70.8 606.2,68.8 602.2,66.1" fill="#90c74f" stroke="#90c74f"/>
<polygon points="625.3,48.7 629.3,51.7 631.2,50.9 627.2,47.8" fill="#faf01b" stroke="#faf01b"/>
<polygon points="602.2,66.1 606.2,68.8 608.1,66.9 604.1,64.2" fill="#acc739" stroke="#acc739"/>
<polygon points="581.2,98.2 585.2,101.2 587.2,98.6 583.2,95.6" fill="#3e65f5" stroke="#3e65f5"/>
<polygon points="604.1,64.2 608.1,66.9 610.1,65.1 606.1,62.4" fill="#bec639" stroke="#bec639"/>
<polygon points="623.4,49.6 627.3,52.5 629.3,51.7 625.3,48.7" fill="#faed1e" stroke="#faed1e"/>
<polygon points="648.5,47.6 652.5,50.6 654.4,50.7 650.4,47.8" fill="#fbea1f" stroke="#fbea1f"/>
<polygon points="606.1,62.4 610.1,65.1 612.0,63.5 608.0,60.7" fill="#cfc538" stroke="#cfc538"/>
<polygon points="621.4,50.6 625.4,53.5 627.3,52.5 623.4,49.6" fill="#fbe920" stroke="#fbe920"/>
<polygon points="608.0,60.7 612.0,63.5 613.9,61.9 609.9,59.1" fill="#dfc538" stroke="#dfc538"/>
<polygon points="609.9,59.1 613.9,61.9 615.8,60.3 611.8,57.6" fill="#eec438" stroke="#eec438"/>
<polygon points="619.5,51.8 623.5,54.6 625.4,53.5 621.4,50.6" fill="#fbe324" stroke="#fbe324"/>
<polygon points="611.8,57.6 615.8,60.3 617.7,58.8 613.7,56.0" fill="#fcc338" stroke="#fcc338"/>
<polygon points="583.2,95.6 587.2,98.6 589.1,96.1 585.1,93.1" fill="#3577f6" stroke="#3577f6"/>
<polygon points="617.6,53.2 621.6,55.9 623.5,54.6 619.5,51.8" fill="#fcdc28" stroke="#fcdc28"/>
<polygon points="613.7,56.0 617.7,58.8 619.7,57.3 615.7,54.6" fill="#fdcb33" stroke="#fdcb33"/>
<polygon points="615.7,54.6 619.7,57.3 621.6,55.9 617.6,53.2" fill="#fdd42d" stroke="#fdd42d"/>
<polygon points="646.6,47.6 650.5,50.7 652.5,50.6 648.5,47.6" fill="#faef1c" stroke="#faef1c"/>
<polygon points="585.1,93.1 589.1,96.1 591.0,93.6 587.0,90.7" fill="#2d88f6" stroke="#2d88f6"/>
<polygon points="644.6,47.6 648.6,50.7 650.5,50.7 646.6,47.6" fill="#faf31a" stroke="#faf31a"/>
<polygon points="587.0,90.7 591.0,93.6 592.9,91.2 588.9,88.3" fill="#2495ec" stroke="#2495ec"/>
<polygon points="588.9,88.3 592.9,91.2 594.8,88.9 590.8,86.0" fill="#1ba3e1" stroke="#1ba3e1"/>
<polygon points="642.7,47.8 646.7,50.9 648.6,50.7 644.6,47.6" fill="#faf618" stroke="#faf618"/>
<polygon points="590.8,86.0 594.8,88.9 596.8,86.6 592.8,83.7" fill="#13afd8" stroke="#13afd8"/>
<polygon points="640.8,48.0 644.8,51.2 646.7,50.9 642.7,47.8" fill="#f9f816" stroke="#f9f816"/>
<polygon points="592.8,83.7 596.8,86.6 598.7,84.3 594.7,81.5" fill="#1bb7c7" stroke="#1bb7c7"/>
<polygon points="638.9,48.4 642.9,51.6 644.8,51.2 640.8,48.0" fill="#f9fa15" stroke="#f9fa15"/>
<polygon points="594.7,81.5 598.7,84.3 600.6,82.1 596.6,79.3" fill="#25bdb5" stroke="#25bdb5"/>
<polygon points="637.0,48.9 640.9,52.1 642.9,51.6 638.9,48.4" fill="#f9fa15" stroke="#f9fa15"/>
<polygon points="596.6,79.3 600.6,82.1 602.5,79.9 598.5,77.1" fill="#30c4a3" stroke="#30c4a3"/>
<polygon points="598.5,77.1 602.5,79.9 604.4,77.7 600.5,75.0" fill="#41c88f" stroke="#41c88f"/>
<polygon points="635.0,49.5 639.0,52.7 640.9,52.1 637.0,48.9" fill="#f9f916" stroke="#f9f916"/>
<polygon points="600.5,75.0 604.4,77.7 606.4,75.6 602.4,72.8" fill="#61c875" stroke="#61c875"/>
<polygon points="633.1,50.2 637.1,53.3 639.0,52.7 635.0,49.5" fill="#f9f817" stroke="#f9f817"/>
<polygon points="602.4,72.8 606.4,75.6 608.3,73.5 604.3,70.8" fill="#7fc75d" stroke="#7fc75d"/>
<polygon points="631.2,50.9 635.2,54.0 637.1,53.3 633.1,50.2" fill="#faf618" stroke="#faf618"/>
<polygon points="604.3,70.8 608.3,73.5 610.2,71.5 606.2,68.8" fill="#9cc745" stroke="#9cc745"/>
<polygon points="629.3,51.7 633.3,54.7 635.2,54.0 631.2,50.9" fill="#faf319" stroke="#faf319"/>
<polygon points="606.2,68.8 610.2,71.5 612.1,69.6 608.1,66.9" fill="#b4c639" stroke="#b4c639"/>
<polygon points="627.3,52.5 631.3,55.4 633.3,54.7 629.3,51.7" fill="#faf01b" stroke="#faf01b"/>
<polygon points="608.1,66.9 612.1,69.6 614.1,67.9 610.1,65.1" fill="#c7c639" stroke="#c7c639"/>
<polygon points="610.1,65.1 614.1,67.9 616.0,66.2 612.0,63.5" fill="#d8c538" stroke="#d8c538"/>
<polygon points="625.4,53.5 629.4,56.3 631.3,55.4 627.3,52.5" fill="#faed1d" stroke="#faed1d"/>
<polygon points="612.0,63.5 616.0,66.2 617.9,64.6 613.9,61.9" fill="#e7c438" stroke="#e7c438"/>
<polygon points="623.5,54.6 627.5,57.4 629.4,56.3 625.4,53.5" fill="#fbe821" stroke="#fbe821"/>
<polygon points="613.9,61.9 617.9,64.6 619.8,63.1 615.8,60.3" fill="#f6c438" stroke="#f6c438"/>
<polygon points="615.8,60.3 619.8,63.1 621.7,61.5 617.7,58.8" fill="#fec835" stroke="#fec835"/>
<polygon points="621.6,55.9 625.6,58.7 627.5,57.4 623.5,54.6" fill="#fbe125" stroke="#fbe125"/>
<polygon points="617.7,58.8 621.7,61.5 623.7,60.0 619.7,57.3" fill="#fdd12f" stroke="#fdd12f"/>
<polygon points="619.7,57.3 623.7,60.0 625.6,58.7 621.6,55.9" fill="#fcda2a" stroke="#fcda2a"/>
</g>
<path class="ax" d="M550.3 92.3L586.8 123.1M586.8 123.1L672.0 102.6M550.3 92.3L550.3 30.3M550.3 92.3L548.7 92.7M559.4 100.0L557.9 100.4M568.5 107.7L567.0 108.1M577.7 115.4L576.1 115.8M586.8 123.1L585.2 123.5M586.8 123.1L588.0 124.1M608.1 118.0L609.3 119.0M629.4 112.8L630.6 113.9M650.7 107.7L651.9 108.8M672.0 102.6L673.2 103.6M550.3 92.3L548.7 92.7M550.3 82.0L548.7 82.3M550.3 71.6L548.7 72.0M550.3 61.3L548.7 61.7M550.3 51.0L548.7 51.3M550.3 40.6L548.7 41.0M550.3 30.3L548.7 30.7"/>
<text class="t e" x="547.2" y="100.8">0</text>
<text class="t e" x="556.3" y="108.5">10</text>
<text class="t e" x="565.4" y="116.2">20</text>
<text class="t e" x="574.6" y="123.9">30</text>
<text class="t e" x="583.7" y="131.6">40</text>
<text class="t" x="589.5" y="132.9">50</text>
<text class="t" x="610.8" y="127.8">25</text>
<text class="t" x="632.1" y="122.6">0</text>
<text class="t" x="653.4" y="117.5">−25</text>
<text class="t" x="674.7" y="112.4">−50</text>
<text class="t e" x="546.7" y="93.5">44</text>
<text class="t e" x="546.7" y="84.2">46</text>
<text class="t e" x="546.7" y="73.8">48</text>
<text class="t e" x="546.7" y="63.5">50</text>
<text class="t e" x="546.7" y="53.2">52</text>
<text class="t e" x="546.7" y="42.8">54</text>
<text class="t e" x="546.7" y="32.5">56</text>
<text class="t m" transform="translate(588.0 18.0) rotate(-12.0)">Scheme D</text>
<text class="t m" x="548.0" y="127.0"><tspan class="i">d</tspan><tspan class="sub" dy="1.5">3</tspan><tspan dy="-1.5"> (µm)</tspan></text>
<text class="t m" x="641.0" y="134.0"><tspan class="i">d</tspan><tspan class="sub" dy="1.5">2</tspan><tspan dy="-1.5"> (µm)</tspan></text>
<text class="t m" transform="translate(530.0 63.0) rotate(-90)">FSO (mV)</text></g>
<g><path class="gr" d="M33.9 248.3L111.5 230.2M111.5 230.2L111.5 167.2M41.6 254.6L119.2 236.5M119.2 236.5L119.2 173.5M49.3 260.8L126.9 242.7M126.9 242.7L126.9 179.7M57.0 267.1L134.6 249.0M134.6 249.0L134.6 186.0M64.7 273.3L142.3 255.2M142.3 255.2L142.3 192.2M72.4 279.6L150.0 261.5M150.0 261.5L150.0 198.5M33.9 248.3L72.4 279.6M33.9 248.3L33.9 185.3M49.4 244.7L87.9 276.0M49.4 244.7L49.4 181.7M64.9 241.1L103.4 272.4M64.9 241.1L64.9 178.1M80.5 237.4L119.0 268.7M80.5 237.4L80.5 174.4M96.0 233.8L134.5 265.1M96.0 233.8L96.0 170.8M111.5 230.2L150.0 261.5M111.5 230.2L111.5 167.2M33.9 248.3L111.5 230.2M111.5 230.2L150.0 261.5M33.9 232.6L111.5 214.4M111.5 214.4L150.0 245.8M33.9 216.8L111.5 198.7M111.5 198.7L150.0 230.0M33.9 201.1L111.5 182.9M111.5 182.9L150.0 214.2M33.9 185.3L111.5 167.2M111.5 167.2L150.0 198.5"/>
<g filter="url(#sb)">
<polygon points="103.8,226.3 105.1,224.5 110.0,225.6 108.7,227.3" fill="#4753f4" stroke="#4753f4"/>
<polygon points="98.9,225.5 100.2,223.6 105.1,224.5 103.8,226.3" fill="#3e67f5" stroke="#3e67f5"/>
<polygon points="105.1,224.5 106.4,223.0 111.2,224.1 110.0,225.6" fill="#3b6cf6" stroke="#3b6cf6"/>
<polygon points="94.1,224.9 95.3,222.9 100.2,223.6 98.9,225.5" fill="#3579f6" stroke="#3579f6"/>
<polygon points="100.2,223.6 101.5,222.0 106.4,223.0 105.1,224.5" fill="#3181f7" stroke="#3181f7"/>
<polygon points="106.4,223.0 107.6,221.8 112.5,223.0 111.2,224.1" fill="#3083f7" stroke="#3083f7"/>
<polygon points="89.2,224.4 90.5,222.3 95.3,222.9 94.1,224.9" fill="#2c89f5" stroke="#2c89f5"/>
<polygon points="95.3,222.9 96.6,221.2 101.5,222.0 100.2,223.6" fill="#2791ef" stroke="#2791ef"/>
<polygon points="101.5,222.0 102.8,220.8 107.6,221.8 106.4,223.0" fill="#2594ec" stroke="#2594ec"/>
<polygon points="107.6,221.8 108.9,221.0 113.8,222.1 112.5,223.0" fill="#2693ed" stroke="#2693ed"/>
<polygon points="84.3,224.0 85.6,221.9 90.5,222.3 89.2,224.4" fill="#2495ec" stroke="#2495ec"/>
<polygon points="90.5,222.3 91.7,220.5 96.6,221.2 95.3,222.9" fill="#1d9fe4" stroke="#1d9fe4"/>
<polygon points="108.9,221.0 110.2,220.2 115.1,221.4 113.8,222.1" fill="#1ca1e3" stroke="#1ca1e3"/>
<polygon points="96.6,221.2 97.9,219.9 102.8,220.8 101.5,222.0" fill="#1aa4e0" stroke="#1aa4e0"/>
<polygon points="102.8,220.8 104.0,219.9 108.9,221.0 107.6,221.8" fill="#1aa4e0" stroke="#1aa4e0"/>
<polygon points="79.4,223.8 80.7,221.6 85.6,221.9 84.3,224.0" fill="#1da0e3" stroke="#1da0e3"/>
<polygon points="85.6,221.9 86.9,220.0 91.7,220.5 90.5,222.3" fill="#15acda" stroke="#15acda"/>
<polygon points="110.2,220.2 111.5,219.7 116.4,220.9 115.1,221.4" fill="#14aed9" stroke="#14aed9"/>
<polygon points="91.7,220.5 93.0,219.2 97.9,219.9 96.6,221.2" fill="#13b2d4" stroke="#13b2d4"/>
<polygon points="104.0,219.9 105.3,219.2 110.2,220.2 108.9,221.0" fill="#12b2d5" stroke="#12b2d5"/>
<polygon points="97.9,219.9 99.2,219.1 104.0,219.9 102.8,220.8" fill="#14b3d2" stroke="#14b3d2"/>
<polygon points="74.5,223.7 75.8,221.5 80.7,221.6 79.4,223.8" fill="#16aadb" stroke="#16aadb"/>
<polygon points="80.7,221.6 82.0,219.7 86.9,220.0 85.6,221.9" fill="#17b5cd" stroke="#17b5cd"/>
<polygon points="111.5,219.7 112.8,219.5 117.6,220.7 116.4,220.9" fill="#18b5cb" stroke="#18b5cb"/>
<polygon points="86.9,220.0 88.1,218.7 93.0,219.2 91.7,220.5" fill="#1eb9c0" stroke="#1eb9c0"/>
<polygon points="105.3,219.2 106.6,218.7 111.5,219.7 110.2,220.2" fill="#1eb9c2" stroke="#1eb9c2"/>
<polygon points="93.0,219.2 94.3,218.3 99.2,219.1 97.9,219.9" fill="#21bbbc" stroke="#21bbbc"/>
<polygon points="99.2,219.1 100.4,218.3 105.3,219.2 104.0,219.9" fill="#21babd" stroke="#21babd"/>
<polygon points="69.7,223.8 70.9,221.5 75.8,221.5 74.5,223.7" fill="#13b2d3" stroke="#13b2d3"/>
<polygon points="75.8,221.5 77.1,219.5 82.0,219.7 80.7,221.6" fill="#20babd" stroke="#20babd"/>
<polygon points="112.8,219.5 114.0,219.6 118.9,220.7 117.6,220.7" fill="#1fbabf" stroke="#1fbabf"/>
<polygon points="82.0,219.7 83.3,218.4 88.1,218.7 86.9,220.0" fill="#29bfaf" stroke="#29bfaf"/>
<polygon points="64.8,224.1 66.1,221.7 70.9,221.5 69.7,223.8" fill="#1ab6c8" stroke="#1ab6c8"/>
<polygon points="106.6,218.7 107.9,218.5 112.8,219.5 111.5,219.7" fill="#27beb2" stroke="#27beb2"/>
<polygon points="88.1,218.7 89.4,217.8 94.3,218.3 93.0,219.2" fill="#2dc2a8" stroke="#2dc2a8"/>
<polygon points="100.4,218.3 101.7,217.8 106.6,218.7 105.3,219.2" fill="#2cc1aa" stroke="#2cc1aa"/>
<polygon points="94.3,218.3 95.6,217.6 100.4,218.3 99.2,219.1" fill="#2ec2a7" stroke="#2ec2a7"/>
<polygon points="70.9,221.5 72.2,219.5 77.1,219.5 75.8,221.5" fill="#29bfb0" stroke="#29bfb0"/>
<polygon points="114.0,219.6 115.3,219.8 120.2,220.9 118.9,220.7" fill="#26bdb4" stroke="#26bdb4"/>
<polygon points="59.9,224.5 61.2,222.1 66.1,221.7 64.8,224.1" fill="#1fbabf" stroke="#1fbabf"/>
<polygon points="77.1,219.5 78.4,218.2 83.3,218.4 82.0,219.7" fill="#33c59f" stroke="#33c59f"/>
<polygon points="107.9,218.5 109.2,218.6 114.0,219.6 112.8,219.5" fill="#2ec3a6" stroke="#2ec3a6"/>
<polygon points="83.3,218.4 84.5,217.4 89.4,217.8 88.1,218.7" fill="#39c895" stroke="#39c895"/>
<polygon points="101.7,217.8 103.0,217.6 107.9,218.5 106.6,218.7" fill="#35c79a" stroke="#35c79a"/>
<polygon points="89.4,217.8 90.7,217.0 95.6,217.6 94.3,218.3" fill="#3fc891" stroke="#3fc891"/>
<polygon points="95.6,217.6 96.9,217.1 101.7,217.8 100.4,218.3" fill="#3dc892" stroke="#3dc892"/>
<polygon points="66.1,221.7 67.3,219.7 72.2,219.5 70.9,221.5" fill="#30c3a4" stroke="#30c3a4"/>
<polygon points="115.3,219.8 116.6,220.1 121.5,221.1 120.2,220.9" fill="#2bc1ab" stroke="#2bc1ab"/>
<polygon points="55.0,225.1 56.3,222.6 61.2,222.1 59.9,224.5" fill="#24bcb7" stroke="#24bcb7"/>
<polygon points="72.2,219.5 73.5,218.1 78.4,218.2 77.1,219.5" fill="#43c88e" stroke="#43c88e"/>
<polygon points="109.2,218.6 110.4,218.9 115.3,219.8 114.0,219.6" fill="#34c69c" stroke="#34c69c"/>
<polygon points="78.4,218.2 79.7,217.2 84.5,217.4 83.3,218.4" fill="#57c87d" stroke="#57c87d"/>
<polygon points="103.0,217.6 104.3,217.8 109.2,218.6 107.9,218.5" fill="#47c88a" stroke="#47c88a"/>
<polygon points="84.5,217.4 85.8,216.6 90.7,217.0 89.4,217.8" fill="#61c875" stroke="#61c875"/>
<polygon points="96.9,217.1 98.1,216.9 103.0,217.6 101.7,217.8" fill="#5ac87b" stroke="#5ac87b"/>
<polygon points="61.2,222.1 62.5,220.0 67.3,219.7 66.1,221.7" fill="#35c79a" stroke="#35c79a"/>
<polygon points="90.7,217.0 92.0,216.5 96.9,217.1 95.6,217.6" fill="#62c874" stroke="#62c874"/>
<polygon points="50.2,225.8 51.4,223.3 56.3,222.6 55.0,225.1" fill="#28bfb1" stroke="#28bfb1"/>
<polygon points="116.6,220.1 117.9,220.5 122.8,221.4 121.5,221.1" fill="#30c4a2" stroke="#30c4a2"/>
<polygon points="67.3,219.7 68.6,218.3 73.5,218.1 72.2,219.5" fill="#59c87b" stroke="#59c87b"/>
<polygon points="110.4,218.9 111.7,219.2 116.6,220.1 115.3,219.8" fill="#3fc891" stroke="#3fc891"/>
<polygon points="104.3,217.8 105.6,218.1 110.4,218.9 109.2,218.6" fill="#59c87c" stroke="#59c87c"/>
<polygon points="73.5,218.1 74.8,217.1 79.7,217.2 78.4,218.2" fill="#72c768" stroke="#72c768"/>
<polygon points="56.3,222.6 57.6,220.5 62.5,220.0 61.2,222.1" fill="#41c88f" stroke="#41c88f"/>
<polygon points="98.1,216.9 99.4,217.1 104.3,217.8 103.0,217.6" fill="#6fc769" stroke="#6fc769"/>
<polygon points="45.3,226.6 46.6,224.1 51.4,223.3 50.2,225.8" fill="#2ac0ad" stroke="#2ac0ad"/>
<polygon points="79.7,217.2 80.9,216.4 85.8,216.6 84.5,217.4" fill="#7fc75d" stroke="#7fc75d"/>
<polygon points="92.0,216.5 93.3,216.4 98.1,216.9 96.9,217.1" fill="#7fc75d" stroke="#7fc75d"/>
<polygon points="85.8,216.6 87.1,216.1 92.0,216.5 90.7,217.0" fill="#84c759" stroke="#84c759"/>
<polygon points="117.9,220.5 119.2,221.1 124.0,222.0 122.8,221.4" fill="#34c69c" stroke="#34c69c"/>
<polygon points="62.5,220.0 63.7,218.5 68.6,218.3 67.3,219.7" fill="#6dc76c" stroke="#6dc76c"/>
<polygon points="111.7,219.2 113.0,219.6 117.9,220.5 116.6,220.1" fill="#4dc885" stroke="#4dc885"/>
<polygon points="105.6,218.1 106.8,218.5 111.7,219.2 110.4,218.9" fill="#68c76f" stroke="#68c76f"/>
<polygon points="51.4,223.3 52.7,221.1 57.6,220.5 56.3,222.6" fill="#4dc885" stroke="#4dc885"/>
<polygon points="40.4,227.6 41.7,225.1 46.6,224.1 45.3,226.6" fill="#2bc1ab" stroke="#2bc1ab"/>
<polygon points="68.6,218.3 69.9,217.2 74.8,217.1 73.5,218.1" fill="#89c755" stroke="#89c755"/>
<polygon points="99.4,217.1 100.7,217.5 105.6,218.1 104.3,217.8" fill="#80c75c" stroke="#80c75c"/>
<polygon points="119.2,221.1 120.4,221.9 125.3,222.9 124.0,222.0" fill="#36c798" stroke="#36c798"/>
<polygon points="74.8,217.1 76.1,216.3 80.9,216.4 79.7,217.2" fill="#9ac747" stroke="#9ac747"/>
<polygon points="93.3,216.4 94.5,216.6 99.4,217.1 98.1,216.9" fill="#94c74c" stroke="#94c74c"/>
<polygon points="80.9,216.4 82.2,215.9 87.1,216.1 85.8,216.6" fill="#a3c740" stroke="#a3c740"/>
<polygon points="87.1,216.1 88.4,216.0 93.3,216.4 92.0,216.5" fill="#a1c741" stroke="#a1c741"/>
<polygon points="57.6,220.5 58.9,219.0 63.7,218.5 62.5,220.0" fill="#7cc75f" stroke="#7cc75f"/>
<polygon points="113.0,219.6 114.3,220.3 119.2,221.1 117.9,220.5" fill="#58c87c" stroke="#58c87c"/>
<polygon points="46.6,224.1 47.8,222.0 52.7,221.1 51.4,223.3" fill="#55c87f" stroke="#55c87f"/>
<polygon points="106.8,218.5 108.1,219.0 113.0,219.6 111.7,219.2" fill="#75c765" stroke="#75c765"/>
<polygon points="63.7,218.5 65.0,217.5 69.9,217.2 68.6,218.3" fill="#9cc745" stroke="#9cc745"/>
<polygon points="120.4,221.9 121.7,223.1 126.6,224.0 125.3,222.9" fill="#36c898" stroke="#36c898"/>
<polygon points="100.7,217.5 102.0,217.9 106.8,218.5 105.6,218.1" fill="#8ec750" stroke="#8ec750"/>
<polygon points="69.9,217.2 71.2,216.4 76.1,216.3 74.8,217.1" fill="#b0c739" stroke="#b0c739"/>
<polygon points="94.5,216.6 95.8,217.0 100.7,217.5 99.4,217.1" fill="#a4c73f" stroke="#a4c73f"/>
<polygon points="52.7,221.1 54.0,219.6 58.9,219.0 57.6,220.5" fill="#89c755" stroke="#89c755"/>
<polygon points="114.3,220.3 115.6,221.1 120.4,221.9 119.2,221.1" fill="#5ec877" stroke="#5ec877"/>
<polygon points="76.1,216.3 77.3,215.8 82.2,215.9 80.9,216.4" fill="#b9c639" stroke="#b9c639"/>
<polygon points="88.4,216.0 89.7,216.2 94.5,216.6 93.3,216.4" fill="#b3c639" stroke="#b3c639"/>
<polygon points="82.2,215.9 83.5,215.7 88.4,216.0 87.1,216.1" fill="#bac639" stroke="#bac639"/>
<polygon points="41.7,225.1 43.0,222.9 47.8,222.0 46.6,224.1" fill="#5ac87b" stroke="#5ac87b"/>
<polygon points="121.7,223.1 123.0,224.5 127.9,225.4 126.6,224.0" fill="#35c79b" stroke="#35c79b"/>
<polygon points="108.1,219.0 109.4,219.6 114.3,220.3 113.0,219.6" fill="#80c75c" stroke="#80c75c"/>
<polygon points="58.9,219.0 60.1,217.9 65.0,217.5 63.7,218.5" fill="#acc739" stroke="#acc739"/>
<polygon points="102.0,217.9 103.2,218.4 108.1,219.0 106.8,218.5" fill="#9bc746" stroke="#9bc746"/>
<polygon points="65.0,217.5 66.3,216.7 71.2,216.4 69.9,217.2" fill="#bec639" stroke="#bec639"/>
<polygon points="115.6,221.1 116.8,222.3 121.7,223.1 120.4,221.9" fill="#5fc877" stroke="#5fc877"/>
<polygon points="95.8,217.0 97.1,217.4 102.0,217.9 100.7,217.5" fill="#b0c739" stroke="#b0c739"/>
<polygon points="47.8,222.0 49.1,220.4 54.0,219.6 52.7,221.1" fill="#91c74e" stroke="#91c74e"/>
<polygon points="89.7,216.2 90.9,216.6 95.8,217.0 94.5,216.6" fill="#bec639" stroke="#bec639"/>
<polygon points="123.0,224.5 124.3,226.1 129.2,226.9 127.9,225.4" fill="#32c5a0" stroke="#32c5a0"/>
<polygon points="71.2,216.4 72.5,215.9 77.3,215.8 76.1,216.3" fill="#c9c539" stroke="#c9c539"/>
<polygon points="83.5,215.7 84.8,216.0 89.7,216.2 88.4,216.0" fill="#c8c639" stroke="#c8c639"/>
<polygon points="77.3,215.8 78.6,215.6 83.5,215.7 82.2,215.9" fill="#cdc538" stroke="#cdc538"/>
<polygon points="109.4,219.6 110.7,220.5 115.6,221.1 114.3,220.3" fill="#86c757" stroke="#86c757"/>
<polygon points="54.0,219.6 55.3,218.5 60.1,217.9 58.9,219.0" fill="#b5c639" stroke="#b5c639"/>
<polygon points="103.2,218.4 104.5,219.1 109.4,219.6 108.1,219.0" fill="#a4c73e" stroke="#a4c73e"/>
<polygon points="116.8,222.3 118.1,223.7 123.0,224.5 121.7,223.1" fill="#5ac87b" stroke="#5ac87b"/>
<polygon points="124.3,226.1 125.6,227.9 130.4,228.5 129.2,226.9" fill="#2ec2a6" stroke="#2ec2a6"/>
<polygon points="43.0,222.9 44.2,221.4 49.1,220.4 47.8,222.0" fill="#97c749" stroke="#97c749"/>
<polygon points="60.1,217.9 61.4,217.1 66.3,216.7 65.0,217.5" fill="#cac539" stroke="#cac539"/>
<polygon points="97.1,217.4 98.4,217.9 103.2,218.4 102.0,217.9" fill="#b8c639" stroke="#b8c639"/>
<polygon points="90.9,216.6 92.2,217.1 97.1,217.4 95.8,217.0" fill="#c7c639" stroke="#c7c639"/>
<polygon points="110.7,220.5 112.0,221.6 116.8,222.3 115.6,221.1" fill="#87c757" stroke="#87c757"/>
<polygon points="66.3,216.7 67.6,216.1 72.5,215.9 71.2,216.4" fill="#d8c538" stroke="#d8c538"/>
<polygon points="84.8,216.0 86.1,216.4 90.9,216.6 89.7,216.2" fill="#d3c538" stroke="#d3c538"/>
<polygon points="72.5,215.9 73.7,215.7 78.6,215.6 77.3,215.8" fill="#dec538" stroke="#dec538"/>
<polygon points="78.6,215.6 79.9,215.9 84.8,216.0 83.5,215.7" fill="#dcc538" stroke="#dcc538"/>
<polygon points="118.1,223.7 119.4,225.5 124.3,226.1 123.0,224.5" fill="#4fc884" stroke="#4fc884"/>
<polygon points="49.1,220.4 50.4,219.3 55.3,218.5 54.0,219.6" fill="#bcc639" stroke="#bcc639"/>
<polygon points="125.6,227.9 126.8,229.8 131.7,230.2 130.4,228.5" fill="#29bfaf" stroke="#29bfaf"/>
<polygon points="104.5,219.1 105.8,219.9 110.7,220.5 109.4,219.6" fill="#aac73a" stroke="#aac73a"/>
<polygon points="55.3,218.5 56.6,217.6 61.4,217.1 60.1,217.9" fill="#d4c538" stroke="#d4c538"/>
<polygon points="98.4,217.9 99.7,218.6 104.5,219.1 103.2,218.4" fill="#bfc639" stroke="#bfc639"/>
<polygon points="112.0,221.6 113.2,223.1 118.1,223.7 116.8,222.3" fill="#81c75b" stroke="#81c75b"/>
<polygon points="119.4,225.5 120.7,227.4 125.6,227.9 124.3,226.1" fill="#40c890" stroke="#40c890"/>
<polygon points="92.2,217.1 93.5,217.6 98.4,217.9 97.1,217.4" fill="#cfc538" stroke="#cfc538"/>
<polygon points="126.8,229.8 128.1,231.7 133.0,232.0 131.7,230.2" fill="#24bcb8" stroke="#24bcb8"/>
<polygon points="61.4,217.1 62.7,216.5 67.6,216.1 66.3,216.7" fill="#e4c438" stroke="#e4c438"/>
<polygon points="86.1,216.4 87.3,216.9 92.2,217.1 90.9,216.6" fill="#dcc538" stroke="#dcc538"/>
<polygon points="44.2,221.4 45.5,220.2 50.4,219.3 49.1,220.4" fill="#c0c639" stroke="#c0c639"/>
<polygon points="79.9,215.9 81.2,216.3 86.1,216.4 84.8,216.0" fill="#e6c438" stroke="#e6c438"/>
<polygon points="67.6,216.1 68.9,215.9 73.7,215.7 72.5,215.9" fill="#edc438" stroke="#edc438"/>
<polygon points="105.8,219.9 107.1,221.0 112.0,221.6 110.7,220.5" fill="#abc739" stroke="#abc739"/>
<polygon points="73.7,215.7 75.0,216.0 79.9,215.9 78.6,215.6" fill="#edc438" stroke="#edc438"/>
<polygon points="113.2,223.1 114.5,225.0 119.4,225.5 118.1,223.7" fill="#74c766" stroke="#74c766"/>
<polygon points="120.7,227.4 122.0,229.4 126.8,229.8 125.6,227.9" fill="#34c69c" stroke="#34c69c"/>
<polygon points="128.1,231.7 129.4,233.7 134.3,234.0 133.0,232.0" fill="#1eb9c2" stroke="#1eb9c2"/>
<polygon points="50.4,219.3 51.7,218.4 56.6,217.6 55.3,218.5" fill="#dbc538" stroke="#dbc538"/>
<polygon points="99.7,218.6 100.9,219.5 105.8,219.9 104.5,219.1" fill="#c3c639" stroke="#c3c639"/>
<polygon points="93.5,217.6 94.8,218.3 99.7,218.6 98.4,217.9" fill="#d5c538" stroke="#d5c538"/>
<polygon points="56.6,217.6 57.8,217.1 62.7,216.5 61.4,217.1" fill="#eec438" stroke="#eec438"/>
<polygon points="107.1,221.0 108.4,222.6 113.2,223.1 112.0,221.6" fill="#a5c73e" stroke="#a5c73e"/>
<polygon points="87.3,216.9 88.6,217.5 93.5,217.6 92.2,217.1" fill="#e4c438" stroke="#e4c438"/>
<polygon points="114.5,225.0 115.8,227.0 120.7,227.4 119.4,225.5" fill="#62c874" stroke="#62c874"/>
<polygon points="129.4,233.7 130.7,236.1 135.6,236.4 134.3,234.0" fill="#16b4cf" stroke="#16b4cf"/>
<polygon points="122.0,229.4 123.2,231.5 128.1,231.7 126.8,229.8" fill="#2ec2a7" stroke="#2ec2a7"/>
<polygon points="81.2,216.3 82.5,216.8 87.3,216.9 86.1,216.4" fill="#efc438" stroke="#efc438"/>
<polygon points="62.7,216.5 64.0,216.3 68.9,215.9 67.6,216.1" fill="#f9c438" stroke="#f9c438"/>
<polygon points="75.0,216.0 76.3,216.4 81.2,216.3 79.9,215.9" fill="#f7c438" stroke="#f7c438"/>
<polygon points="68.9,215.9 70.1,216.2 75.0,216.0 73.7,215.7" fill="#fcc338" stroke="#fcc338"/>
<polygon points="100.9,219.5 102.2,220.6 107.1,221.0 105.8,219.9" fill="#c4c639" stroke="#c4c639"/>
<polygon points="45.5,220.2 46.8,219.3 51.7,218.4 50.4,219.3" fill="#dfc538" stroke="#dfc538"/>
<polygon points="130.7,236.1 132.0,238.7 136.8,239.1 135.6,236.4" fill="#16abdb" stroke="#16abdb"/>
<polygon points="115.8,227.0 117.1,229.2 122.0,229.4 120.7,227.4" fill="#4dc885" stroke="#4dc885"/>
<polygon points="108.4,222.6 109.6,224.5 114.5,225.0 113.2,223.1" fill="#97c749" stroke="#97c749"/>
<polygon points="123.2,231.5 124.5,233.6 129.4,233.7 128.1,231.7" fill="#27beb2" stroke="#27beb2"/>
<polygon points="94.8,218.3 96.1,219.2 100.9,219.5 99.7,218.6" fill="#d9c538" stroke="#d9c538"/>
<polygon points="51.7,218.4 53.0,217.8 57.8,217.1 56.6,217.6" fill="#f5c438" stroke="#f5c438"/>
<polygon points="132.0,238.7 133.2,241.4 138.1,242.0 136.8,239.1" fill="#1e9ee5" stroke="#1e9ee5"/>
<polygon points="88.6,217.5 89.9,218.2 94.8,218.3 93.5,217.6" fill="#eac438" stroke="#eac438"/>
<polygon points="82.5,216.8 83.7,217.4 88.6,217.5 87.3,216.9" fill="#f7c438" stroke="#f7c438"/>
<polygon points="57.8,217.1 59.1,216.9 64.0,216.3 62.7,216.5" fill="#fec736" stroke="#fec736"/>
<polygon points="102.2,220.6 103.5,222.2 108.4,222.6 107.1,221.0" fill="#bfc639" stroke="#bfc639"/>
<polygon points="124.5,233.6 125.8,235.8 130.7,236.1 129.4,233.7" fill="#1fbabf" stroke="#1fbabf"/>
<polygon points="117.1,229.2 118.4,231.3 123.2,231.5 122.0,229.4" fill="#37c897" stroke="#37c897"/>
<polygon points="109.6,224.5 110.9,226.7 115.8,227.0 114.5,225.0" fill="#83c75a" stroke="#83c75a"/>
<polygon points="76.3,216.4 77.6,216.9 82.5,216.8 81.2,216.3" fill="#fec437" stroke="#fec437"/>
<polygon points="133.2,241.4 134.5,244.3 139.4,245.2 138.1,242.0" fill="#2890f0" stroke="#2890f0"/>
<polygon points="64.0,216.3 65.3,216.6 70.1,216.2 68.9,215.9" fill="#feca34" stroke="#feca34"/>
<polygon points="70.1,216.2 71.4,216.6 76.3,216.4 75.0,216.0" fill="#fec835" stroke="#fec835"/>
<polygon points="134.5,244.3 135.8,247.5 140.7,248.7 139.4,245.2" fill="#327df6" stroke="#327df6"/>
<polygon points="96.1,219.2 97.3,220.3 102.2,220.6 100.9,219.5" fill="#dac538" stroke="#dac538"/>
<polygon points="125.8,235.8 127.1,238.3 132.0,238.7 130.7,236.1" fill="#16b4ce" stroke="#16b4ce"/>
<polygon points="46.8,219.3 48.1,218.6 53.0,217.8 51.7,218.4" fill="#fac338" stroke="#fac338"/>
<polygon points="118.4,231.3 119.6,233.5 124.5,233.6 123.2,231.5" fill="#30c4a3" stroke="#30c4a3"/>
<polygon points="135.8,247.5 137.1,250.9 141.9,252.6 140.7,248.7" fill="#3e66f5" stroke="#3e66f5"/>
<polygon points="110.9,226.7 112.2,229.0 117.1,229.2 115.8,227.0" fill="#6bc76d" stroke="#6bc76d"/>
<polygon points="103.5,222.2 104.8,224.2 109.6,224.5 108.4,222.6" fill="#b4c639" stroke="#b4c639"/>
<polygon points="89.9,218.2 91.2,219.0 96.1,219.2 94.8,218.3" fill="#eec438" stroke="#eec438"/>
<polygon points="53.0,217.8 54.2,217.6 59.1,216.9 57.8,217.1" fill="#fdcc33" stroke="#fdcc33"/>
<polygon points="83.7,217.4 85.0,218.1 89.9,218.2 88.6,217.5" fill="#fdc338" stroke="#fdc338"/>
<polygon points="127.1,238.3 128.4,240.8 133.2,241.4 132.0,238.7" fill="#16abdb" stroke="#16abdb"/>
<polygon points="77.6,216.9 78.9,217.5 83.7,217.4 82.5,216.8" fill="#fec934" stroke="#fec934"/>
<polygon points="59.1,216.9 60.4,217.1 65.3,216.6 64.0,216.3" fill="#fdd12f" stroke="#fdd12f"/>
<polygon points="71.4,216.6 72.7,217.1 77.6,216.9 76.3,216.4" fill="#fdce31" stroke="#fdce31"/>
<polygon points="65.3,216.6 66.5,217.0 71.4,216.6 70.1,216.2" fill="#fdd12f" stroke="#fdd12f"/>
<polygon points="119.6,233.5 120.9,235.7 125.8,235.8 124.5,233.6" fill="#28bfb0" stroke="#28bfb0"/>
<polygon points="112.2,229.0 113.5,231.3 118.4,231.3 117.1,229.2" fill="#52c881" stroke="#52c881"/>
<polygon points="97.3,220.3 98.6,221.9 103.5,222.2 102.2,220.6" fill="#d6c538" stroke="#d6c538"/>
<polygon points="104.8,224.2 106.0,226.5 110.9,226.7 109.6,224.5" fill="#a1c741" stroke="#a1c741"/>
<polygon points="128.4,240.8 129.6,243.5 134.5,244.3 133.2,241.4" fill="#1e9ee5" stroke="#1e9ee5"/>
<polygon points="91.2,219.0 92.5,220.1 97.3,220.3 96.1,219.2" fill="#efc438" stroke="#efc438"/>
<polygon points="120.9,235.7 122.2,238.0 127.1,238.3 125.8,235.8" fill="#20babe" stroke="#20babe"/>
<polygon points="113.5,231.3 114.8,233.4 119.6,233.5 118.4,231.3" fill="#3bc894" stroke="#3bc894"/>
<polygon points="129.6,243.5 130.9,246.4 135.8,247.5 134.5,244.3" fill="#288ff0" stroke="#288ff0"/>
<polygon points="106.0,226.5 107.3,228.9 112.2,229.0 110.9,226.7" fill="#87c756" stroke="#87c756"/>
<polygon points="48.1,218.6 49.4,218.4 54.2,217.6 53.0,217.8" fill="#fdcf30" stroke="#fdcf30"/>
<polygon points="85.0,218.1 86.3,218.9 91.2,219.0 89.9,218.2" fill="#fec537" stroke="#fec537"/>
<polygon points="98.6,221.9 99.9,224.0 104.8,224.2 103.5,222.2" fill="#cac539" stroke="#cac539"/>
<polygon points="78.9,217.5 80.1,218.2 85.0,218.1 83.7,217.4" fill="#fdcd32" stroke="#fdcd32"/>
<polygon points="54.2,217.6 55.5,217.8 60.4,217.1 59.1,216.9" fill="#fdd62c" stroke="#fdd62c"/>
<polygon points="130.9,246.4 132.2,249.5 137.1,250.9 135.8,247.5" fill="#327ef6" stroke="#327ef6"/>
<polygon points="72.7,217.1 74.0,217.7 78.9,217.5 77.6,216.9" fill="#fdd32e" stroke="#fdd32e"/>
<polygon points="60.4,217.1 61.7,217.5 66.5,217.0 65.3,216.6" fill="#fcd82b" stroke="#fcd82b"/>
<polygon points="66.5,217.0 67.8,217.5 72.7,217.1 71.4,216.6" fill="#fcd72c" stroke="#fcd72c"/>
<polygon points="122.2,238.0 123.5,240.4 128.4,240.8 127.1,238.3" fill="#16b4ce" stroke="#16b4ce"/>
<polygon points="114.8,233.4 116.0,235.6 120.9,235.7 119.6,233.5" fill="#31c4a2" stroke="#31c4a2"/>
<polygon points="107.3,228.9 108.6,231.3 113.5,231.3 112.2,229.0" fill="#6cc76c" stroke="#6cc76c"/>
<polygon points="92.5,220.1 93.7,221.7 98.6,221.9 97.3,220.3" fill="#eac438" stroke="#eac438"/>
<polygon points="99.9,224.0 101.2,226.4 106.0,226.5 104.8,224.2" fill="#b9c639" stroke="#b9c639"/>
<polygon points="123.5,240.4 124.8,242.9 129.6,243.5 128.4,240.8" fill="#16abdb" stroke="#16abdb"/>
<polygon points="86.3,218.9 87.6,220.0 92.5,220.1 91.2,219.0" fill="#fec636" stroke="#fec636"/>
<polygon points="108.6,231.3 109.9,233.5 114.8,233.4 113.5,231.3" fill="#53c881" stroke="#53c881"/>
<polygon points="116.0,235.6 117.3,237.8 122.2,238.0 120.9,235.7" fill="#29bfaf" stroke="#29bfaf"/>
<polygon points="101.2,226.4 102.4,228.9 107.3,228.9 106.0,226.5" fill="#a2c741" stroke="#a2c741"/>
<polygon points="49.4,218.4 50.6,218.6 55.5,217.8 54.2,217.6" fill="#fcda2a" stroke="#fcda2a"/>
<polygon points="80.1,218.2 81.4,219.0 86.3,218.9 85.0,218.1" fill="#fdd030" stroke="#fdd030"/>
<polygon points="93.7,221.7 95.0,223.9 99.9,224.0 98.6,221.9" fill="#dec538" stroke="#dec538"/>
<polygon points="124.8,242.9 126.0,245.5 130.9,246.4 129.6,243.5" fill="#1e9fe4" stroke="#1e9fe4"/>
<polygon points="55.5,217.8 56.8,218.2 61.7,217.5 60.4,217.1" fill="#fcdd27" stroke="#fcdd27"/>
<polygon points="74.0,217.7 75.3,218.4 80.1,218.2 78.9,217.5" fill="#fcd72b" stroke="#fcd72b"/>
<polygon points="61.7,217.5 62.9,218.0 67.8,217.5 66.5,217.0" fill="#fcde27" stroke="#fcde27"/>
<polygon points="67.8,217.5 69.1,218.0 74.0,217.7 72.7,217.1" fill="#fcdc28" stroke="#fcdc28"/>
<polygon points="117.3,237.8 118.6,240.1 123.5,240.4 122.2,238.0" fill="#20babe" stroke="#20babe"/>
<polygon points="109.9,233.5 111.2,235.6 116.0,235.6 114.8,233.4" fill="#3bc894" stroke="#3bc894"/>
<polygon points="102.4,228.9 103.7,231.3 108.6,231.3 107.3,228.9" fill="#84c758" stroke="#84c758"/>
<polygon points="126.0,245.5 127.3,248.3 132.2,249.5 130.9,246.4" fill="#2791ef" stroke="#2791ef"/>
<polygon points="87.6,220.0 88.9,221.6 93.7,221.7 92.5,220.1" fill="#fdc338" stroke="#fdc338"/>
<polygon points="95.0,223.9 96.3,226.3 101.2,226.4 99.9,224.0" fill="#ccc539" stroke="#ccc539"/>
<polygon points="81.4,219.0 82.7,220.0 87.6,220.0 86.3,218.9" fill="#fdd12f" stroke="#fdd12f"/>
<polygon points="118.6,240.1 119.9,242.4 124.8,242.9 123.5,240.4" fill="#17b4cd" stroke="#17b4cd"/>
<polygon points="103.7,231.3 105.0,233.6 109.9,233.5 108.6,231.3" fill="#69c76e" stroke="#69c76e"/>
<polygon points="111.2,235.6 112.4,237.7 117.3,237.8 116.0,235.6" fill="#31c4a2" stroke="#31c4a2"/>
<polygon points="50.6,218.6 51.9,219.0 56.8,218.2 55.5,217.8" fill="#fbe125" stroke="#fbe125"/>
<polygon points="75.3,218.4 76.5,219.2 81.4,219.0 80.1,218.2" fill="#fcda29" stroke="#fcda29"/>
<polygon points="96.3,226.3 97.6,228.9 102.4,228.9 101.2,226.4" fill="#b6c639" stroke="#b6c639"/>
<polygon points="56.8,218.2 58.1,218.6 62.9,218.0 61.7,217.5" fill="#fbe423" stroke="#fbe423"/>
<polygon points="69.1,218.0 70.4,218.7 75.3,218.4 74.0,217.7" fill="#fce026" stroke="#fce026"/>
<polygon points="88.9,221.6 90.1,223.8 95.0,223.9 93.7,221.7" fill="#f0c438" stroke="#f0c438"/>
<polygon points="62.9,218.0 64.2,218.5 69.1,218.0 67.8,217.5" fill="#fbe324" stroke="#fbe324"/>
<polygon points="119.9,242.4 121.2,244.8 126.0,245.5 124.8,242.9" fill="#15acda" stroke="#15acda"/>
<polygon points="105.0,233.6 106.3,235.7 111.2,235.6 109.9,233.5" fill="#52c882" stroke="#52c882"/>
<polygon points="97.6,228.9 98.9,231.5 103.7,231.3 102.4,228.9" fill="#9bc746" stroke="#9bc746"/>
<polygon points="112.4,237.7 113.7,239.9 118.6,240.1 117.3,237.8" fill="#29bfaf" stroke="#29bfaf"/>
<polygon points="82.7,220.0 84.0,221.7 88.9,221.6 87.6,220.0" fill="#fdce31" stroke="#fdce31"/>
<polygon points="90.1,223.8 91.4,226.4 96.3,226.3 95.0,223.9" fill="#ddc538" stroke="#ddc538"/>
<polygon points="121.2,244.8 122.4,247.3 127.3,248.3 126.0,245.5" fill="#1ca1e3" stroke="#1ca1e3"/>
<polygon points="76.5,219.2 77.8,220.2 82.7,220.0 81.4,219.0" fill="#fcdc29" stroke="#fcdc29"/>
<polygon points="98.9,231.5 100.1,233.8 105.0,233.6 103.7,231.3" fill="#7ec75d" stroke="#7ec75d"/>
<polygon points="51.9,219.0 53.2,219.3 58.1,218.6 56.8,218.2" fill="#fbe821" stroke="#fbe821"/>
<polygon points="70.4,218.7 71.7,219.5 76.5,219.2 75.3,218.4" fill="#fbe324" stroke="#fbe324"/>
<polygon points="113.7,239.9 115.0,242.1 119.9,242.4 118.6,240.1" fill="#21babc" stroke="#21babc"/>
<polygon points="106.3,235.7 107.6,237.8 112.4,237.7 111.2,235.6" fill="#3bc894" stroke="#3bc894"/>
<polygon points="58.1,218.6 59.3,219.1 64.2,218.5 62.9,218.0" fill="#fbe920" stroke="#fbe920"/>
<polygon points="91.4,226.4 92.7,229.1 97.6,228.9 96.3,226.3" fill="#c6c639" stroke="#c6c639"/>
<polygon points="64.2,218.5 65.5,219.2 70.4,218.7 69.1,218.0" fill="#fbe821" stroke="#fbe821"/>
<polygon points="84.0,221.7 85.3,223.9 90.1,223.8 88.9,221.6" fill="#fec537" stroke="#fec537"/>
<polygon points="100.1,233.8 101.4,235.9 106.3,235.7 105.0,233.6" fill="#66c771" stroke="#66c771"/>
<polygon points="92.7,229.1 94.0,231.7 98.9,231.5 97.6,228.9" fill="#aec739" stroke="#aec739"/>
<polygon points="115.0,242.1 116.3,244.3 121.2,244.8 119.9,242.4" fill="#18b5cb" stroke="#18b5cb"/>
<polygon points="107.6,237.8 108.8,239.8 113.7,239.9 112.4,237.7" fill="#31c4a1" stroke="#31c4a1"/>
<polygon points="77.8,220.2 79.1,221.8 84.0,221.7 82.7,220.0" fill="#fcd92a" stroke="#fcd92a"/>
<polygon points="85.3,223.9 86.5,226.5 91.4,226.4 90.1,223.8" fill="#edc438" stroke="#edc438"/>
<polygon points="71.7,219.5 72.9,220.5 77.8,220.2 76.5,219.2" fill="#fbe423" stroke="#fbe423"/>
<polygon points="53.2,219.3 54.5,219.8 59.3,219.1 58.1,218.6" fill="#faee1d" stroke="#faee1d"/>
<polygon points="94.0,231.7 95.3,234.1 100.1,233.8 98.9,231.5" fill="#92c74e" stroke="#92c74e"/>
<polygon points="65.5,219.2 66.8,220.0 71.7,219.5 70.4,218.7" fill="#fbeb1f" stroke="#fbeb1f"/>
<polygon points="59.3,219.1 60.6,219.7 65.5,219.2 64.2,218.5" fill="#faee1d" stroke="#faee1d"/>
<polygon points="116.3,244.3 117.6,246.5 122.4,247.3 121.2,244.8" fill="#13afd8" stroke="#13afd8"/>
<polygon points="101.4,235.9 102.7,237.9 107.6,237.8 106.3,235.7" fill="#51c882" stroke="#51c882"/>
<polygon points="86.5,226.5 87.8,229.3 92.7,229.1 91.4,226.4" fill="#d5c538" stroke="#d5c538"/>
<polygon points="108.8,239.8 110.1,241.9 115.0,242.1 113.7,239.9" fill="#2ac0ad" stroke="#2ac0ad"/>
<polygon points="79.1,221.8 80.4,224.1 85.3,223.9 84.0,221.7" fill="#fdd030" stroke="#fdd030"/>
<polygon points="95.3,234.1 96.5,236.1 101.4,235.9 100.1,233.8" fill="#79c761" stroke="#79c761"/>
<polygon points="87.8,229.3 89.1,232.0 94.0,231.7 92.7,229.1" fill="#bcc639" stroke="#bcc639"/>
<polygon points="102.7,237.9 104.0,239.9 108.8,239.8 107.6,237.8" fill="#3bc894" stroke="#3bc894"/>
<polygon points="72.9,220.5 74.2,222.1 79.1,221.8 77.8,220.2" fill="#fbe225" stroke="#fbe225"/>
<polygon points="110.1,241.9 111.4,244.0 116.3,244.3 115.0,242.1" fill="#22bbba" stroke="#22bbba"/>
<polygon points="80.4,224.1 81.7,226.8 86.5,226.5 85.3,223.9" fill="#fcc338" stroke="#fcc338"/>
<polygon points="66.8,220.0 68.1,220.9 72.9,220.5 71.7,219.5" fill="#faec1e" stroke="#faec1e"/>
<polygon points="54.5,219.8 55.8,220.4 60.6,219.7 59.3,219.1" fill="#faf31a" stroke="#faf31a"/>
<polygon points="60.6,219.7 61.9,220.5 66.8,220.0 65.5,219.2" fill="#faf11b" stroke="#faf11b"/>
<polygon points="89.1,232.0 90.4,234.4 95.3,234.1 94.0,231.7" fill="#a4c73f" stroke="#a4c73f"/>
<polygon points="96.5,236.1 97.8,238.1 102.7,237.9 101.4,235.9" fill="#64c872" stroke="#64c872"/>
<polygon points="81.7,226.8 82.9,229.6 87.8,229.3 86.5,226.5" fill="#e2c438" stroke="#e2c438"/>
<polygon points="104.0,239.9 105.2,241.9 110.1,241.9 108.8,239.8" fill="#32c5a0" stroke="#32c5a0"/>
<polygon points="111.4,244.0 112.7,246.0 117.6,246.5 116.3,244.3" fill="#1bb7c6" stroke="#1bb7c6"/>
<polygon points="74.2,222.1 75.5,224.4 80.4,224.1 79.1,221.8" fill="#fcd92a" stroke="#fcd92a"/>
<polygon points="90.4,234.4 91.7,236.5 96.5,236.1 95.3,234.1" fill="#8bc753" stroke="#8bc753"/>
<polygon points="82.9,229.6 84.2,232.4 89.1,232.0 87.8,229.3" fill="#c8c639" stroke="#c8c639"/>
<polygon points="68.1,220.9 69.3,222.5 74.2,222.1 72.9,220.5" fill="#fbea1f" stroke="#fbea1f"/>
<polygon points="97.8,238.1 99.1,240.1 104.0,239.9 102.7,237.9" fill="#50c883" stroke="#50c883"/>
<polygon points="75.5,224.4 76.8,227.1 81.7,226.8 80.4,224.1" fill="#feca34" stroke="#feca34"/>
<polygon points="61.9,220.5 63.2,221.5 68.1,220.9 66.8,220.0" fill="#faf31a" stroke="#faf31a"/>
<polygon points="105.2,241.9 106.5,243.8 111.4,244.0 110.1,241.9" fill="#2bc1ab" stroke="#2bc1ab"/>
<polygon points="55.8,220.4 57.0,221.2 61.9,220.5 60.6,219.7" fill="#faf618" stroke="#faf618"/>
<polygon points="84.2,232.4 85.5,234.8 90.4,234.4 89.1,232.0" fill="#b1c639" stroke="#b1c639"/>
<polygon points="91.7,236.5 92.9,238.5 97.8,238.1 96.5,236.1" fill="#76c764" stroke="#76c764"/>
<polygon points="76.8,227.1 78.1,230.0 82.9,229.6 81.7,226.8" fill="#efc438" stroke="#efc438"/>
<polygon points="69.3,222.5 70.6,224.8 75.5,224.4 74.2,222.1" fill="#fbe125" stroke="#fbe125"/>
<polygon points="99.1,240.1 100.4,242.0 105.2,241.9 104.0,239.9" fill="#3dc893" stroke="#3dc893"/>
<polygon points="106.5,243.8 107.8,245.7 112.7,246.0 111.4,244.0" fill="#25bdb6" stroke="#25bdb6"/>
<polygon points="85.5,234.8 86.8,236.9 91.7,236.5 90.4,234.4" fill="#9ac747" stroke="#9ac747"/>
<polygon points="78.1,230.0 79.3,232.8 84.2,232.4 82.9,229.6" fill="#d4c538" stroke="#d4c538"/>
<polygon points="63.2,221.5 64.5,223.0 69.3,222.5 68.1,220.9" fill="#faf11b" stroke="#faf11b"/>
<polygon points="92.9,238.5 94.2,240.4 99.1,240.1 97.8,238.1" fill="#62c874" stroke="#62c874"/>
<polygon points="70.6,224.8 71.9,227.5 76.8,227.1 75.5,224.4" fill="#fdd22f" stroke="#fdd22f"/>
<polygon points="57.0,221.2 58.3,222.1 63.2,221.5 61.9,220.5" fill="#f9f816" stroke="#f9f816"/>
<polygon points="100.4,242.0 101.6,243.8 106.5,243.8 105.2,241.9" fill="#33c69e" stroke="#33c69e"/>
<polygon points="79.3,232.8 80.6,235.3 85.5,234.8 84.2,232.4" fill="#bcc639" stroke="#bcc639"/>
<polygon points="86.8,236.9 88.1,238.9 92.9,238.5 91.7,236.5" fill="#85c758" stroke="#85c758"/>
<polygon points="71.9,227.5 73.2,230.5 78.1,230.0 76.8,227.1" fill="#f9c438" stroke="#f9c438"/>
<polygon points="64.5,223.0 65.7,225.3 70.6,224.8 69.3,222.5" fill="#fbe821" stroke="#fbe821"/>
<polygon points="94.2,240.4 95.5,242.3 100.4,242.0 99.1,240.1" fill="#50c883" stroke="#50c883"/>
<polygon points="80.6,235.3 81.9,237.5 86.8,236.9 85.5,234.8" fill="#a8c73b" stroke="#a8c73b"/>
<polygon points="73.2,230.5 74.5,233.4 79.3,232.8 78.1,230.0" fill="#dec538" stroke="#dec538"/>
<polygon points="101.6,243.8 102.9,245.6 107.8,245.7 106.5,243.8" fill="#2dc2a7" stroke="#2dc2a7"/>
<polygon points="58.3,222.1 59.6,223.6 64.5,223.0 63.2,221.5" fill="#faf617" stroke="#faf617"/>
<polygon points="88.1,238.9 89.3,240.9 94.2,240.4 92.9,238.5" fill="#72c767" stroke="#72c767"/>
<polygon points="65.7,225.3 67.0,228.0 71.9,227.5 70.6,224.8" fill="#fcd92a" stroke="#fcd92a"/>
<polygon points="74.5,233.4 75.7,235.9 80.6,235.3 79.3,232.8" fill="#c5c639" stroke="#c5c639"/>
<polygon points="95.5,242.3 96.8,244.1 101.6,243.8 100.4,242.0" fill="#3fc891" stroke="#3fc891"/>
<polygon points="81.9,237.5 83.2,239.5 88.1,238.9 86.8,236.9" fill="#93c74d" stroke="#93c74d"/>
<polygon points="67.0,228.0 68.3,231.1 73.2,230.5 71.9,227.5" fill="#fec736" stroke="#fec736"/>
<polygon points="59.6,223.6 60.9,225.8 65.7,225.3 64.5,223.0" fill="#faee1d" stroke="#faee1d"/>
<polygon points="89.3,240.9 90.6,242.7 95.5,242.3 94.2,240.4" fill="#60c876" stroke="#60c876"/>
<polygon points="75.7,235.9 77.0,238.1 81.9,237.5 80.6,235.3" fill="#b2c639" stroke="#b2c639"/>
<polygon points="68.3,231.1 69.6,234.0 74.5,233.4 73.2,230.5" fill="#e7c438" stroke="#e7c438"/>
<polygon points="96.8,244.1 98.1,245.8 102.9,245.6 101.6,243.8" fill="#35c79b" stroke="#35c79b"/>
<polygon points="60.9,225.8 62.1,228.7 67.0,228.0 65.7,225.3" fill="#fcdf26" stroke="#fcdf26"/>
<polygon points="83.2,239.5 84.5,241.4 89.3,240.9 88.1,238.9" fill="#7fc75c" stroke="#7fc75c"/>
<polygon points="69.6,234.0 70.9,236.6 75.7,235.9 74.5,233.4" fill="#cdc538" stroke="#cdc538"/>
<polygon points="90.6,242.7 91.9,244.5 96.8,244.1 95.5,242.3" fill="#50c883" stroke="#50c883"/>
<polygon points="77.0,238.1 78.3,240.1 83.2,239.5 81.9,237.5" fill="#9fc743" stroke="#9fc743"/>
<polygon points="62.1,228.7 63.4,231.7 68.3,231.1 67.0,228.0" fill="#fdcc32" stroke="#fdcc32"/>
<polygon points="84.5,241.4 85.7,243.3 90.6,242.7 89.3,240.9" fill="#6dc76b" stroke="#6dc76b"/>
<polygon points="70.9,236.6 72.1,238.8 77.0,238.1 75.7,235.9" fill="#bac639" stroke="#bac639"/>
<polygon points="63.4,231.7 64.7,234.7 69.6,234.0 68.3,231.1" fill="#eec438" stroke="#eec438"/>
<polygon points="78.3,240.1 79.6,242.1 84.5,241.4 83.2,239.5" fill="#8ac754" stroke="#8ac754"/>
<polygon points="91.9,244.5 93.2,246.1 98.1,245.8 96.8,244.1" fill="#42c88f" stroke="#42c88f"/>
<polygon points="64.7,234.7 66.0,237.3 70.9,236.6 69.6,234.0" fill="#d4c538" stroke="#d4c538"/>
<polygon points="72.1,238.8 73.4,240.9 78.3,240.1 77.0,238.1" fill="#a8c73b" stroke="#a8c73b"/>
<polygon points="85.7,243.3 87.0,245.0 91.9,244.5 90.6,242.7" fill="#5dc878" stroke="#5dc878"/>
<polygon points="79.6,242.1 80.9,244.0 85.7,243.3 84.5,241.4" fill="#78c763" stroke="#78c763"/>
<polygon points="66.0,237.3 67.3,239.5 72.1,238.8 70.9,236.6" fill="#c0c639" stroke="#c0c639"/>
<polygon points="73.4,240.9 74.7,242.9 79.6,242.1 78.3,240.1" fill="#93c74d" stroke="#93c74d"/>
<polygon points="87.0,245.0 88.3,246.7 93.2,246.1 91.9,244.5" fill="#4fc883" stroke="#4fc883"/>
<polygon points="67.3,239.5 68.5,241.7 73.4,240.9 72.1,238.8" fill="#afc739" stroke="#afc739"/>
<polygon points="80.9,244.0 82.1,245.8 87.0,245.0 85.7,243.3" fill="#67c770" stroke="#67c770"/>
<polygon points="74.7,242.9 76.0,244.9 80.9,244.0 79.6,242.1" fill="#7fc75c" stroke="#7fc75c"/>
<polygon points="68.5,241.7 69.8,243.9 74.7,242.9 73.4,240.9" fill="#99c747" stroke="#99c747"/>
<polygon points="82.1,245.8 83.4,247.5 88.3,246.7 87.0,245.0" fill="#59c87c" stroke="#59c87c"/>
<polygon points="76.0,244.9 77.3,246.8 82.1,245.8 80.9,244.0" fill="#6ec76b" stroke="#6ec76b"/>
<polygon points="69.8,243.9 71.1,245.9 76.0,244.9 74.7,242.9" fill="#84c759" stroke="#84c759"/>
<polygon points="77.3,246.8 78.5,248.5 83.4,247.5 82.1,245.8" fill="#5ec877" stroke="#5ec877"/>
<polygon points="71.1,245.9 72.4,247.9 77.3,246.8 76.0,244.9" fill="#71c768" stroke="#71c768"/>
<polygon points="72.4,247.9 73.7,249.8 78.5,248.5 77.3,246.8" fill="#5fc877" stroke="#5fc877"/>
</g>
<path class="ax" d="M33.9 248.3L72.4 279.6M72.4 279.6L150.0 261.5M33.9 248.3L33.9 185.3M33.9 248.3L32.3 248.7M41.6 254.6L40.0 254.9M49.3 260.8L47.7 261.2M57.0 267.1L55.4 267.4M64.7 273.3L63.1 273.7M72.4 279.6L70.8 280.0M72.4 279.6L73.6 280.6M87.9 276.0L89.2 277.0M103.4 272.4L104.7 273.4M119.0 268.7L120.2 269.7M134.5 265.1L135.7 266.1M150.0 261.5L151.2 262.5M33.9 248.3L32.3 248.7M33.9 232.6L32.3 232.9M33.9 216.8L32.3 217.2M33.9 201.1L32.3 201.4M33.9 185.3L32.3 185.7"/>
<text class="t e" x="30.4" y="257.7">0</text>
<text class="t e" x="38.1" y="264.0">20</text>
<text class="t e" x="45.8" y="270.2">40</text>
<text class="t e" x="53.5" y="276.5">60</text>
<text class="t e" x="61.2" y="282.7">80</text>
<text class="t e" x="68.9" y="289.0">100</text>
<text class="t" x="75.7" y="290.6">100</text>
<text class="t" x="91.2" y="287.0">80</text>
<text class="t" x="106.7" y="283.4">60</text>
<text class="t" x="122.3" y="279.7">40</text>
<text class="t" x="137.8" y="276.1">20</text>
<text class="t" x="153.3" y="272.5">0</text>
<text class="t e" x="30.3" y="249.5">30</text>
<text class="t e" x="30.3" y="234.8">32</text>
<text class="t e" x="30.3" y="219.0">34</text>
<text class="t e" x="30.3" y="203.2">36</text>
<text class="t e" x="30.3" y="187.5">38</text>
<text class="t m" transform="translate(73.0 173.0) rotate(-12.0)">Scheme E</text>
<text class="t m" x="27.5" y="281.5"><tspan class="i">d</tspan><tspan class="sub" dy="1.5">1</tspan><tspan dy="-1.5"> (µm)</tspan></text>
<text class="t m" x="127.5" y="291.0"><tspan class="i">d</tspan><tspan class="sub" dy="1.5">2</tspan><tspan dy="-1.5"> (µm)</tspan></text>
<text class="t m" transform="translate(13.0 212.0) rotate(-90)">FSO (mV)</text></g>
<g><path class="gr" d="M199.8 240.1L286.7 219.7M286.7 219.7L286.7 166.8M211.7 249.7L298.6 229.3M298.6 229.3L298.6 176.4M223.6 259.4L310.5 238.9M310.5 238.9L310.5 186.0M235.5 269.0L322.4 248.6M322.4 248.6L322.4 195.7M247.4 278.6L334.3 258.2M334.3 258.2L334.3 205.3M199.8 240.1L247.4 278.6M199.8 240.1L199.8 187.2M217.2 236.0L264.8 274.5M217.2 236.0L217.2 183.1M234.6 231.9L282.2 270.4M234.6 231.9L234.6 179.0M251.9 227.9L299.5 266.4M251.9 227.9L251.9 175.0M269.3 223.8L316.9 262.3M269.3 223.8L269.3 170.9M286.7 219.7L334.3 258.2M286.7 219.7L286.7 166.8M199.8 240.1L286.7 219.7M286.7 219.7L334.3 258.2M199.8 222.5L286.7 202.1M286.7 202.1L334.3 240.6M199.8 204.8L286.7 184.4M286.7 184.4L334.3 222.9M199.8 187.2L286.7 166.8M286.7 166.8L334.3 205.3"/>
<g filter="url(#sb)">
<polygon points="281.9,203.5 287.2,207.9 288.8,209.0 283.5,204.7" fill="#17a9dd" stroke="#17a9dd"/>
<polygon points="280.3,202.3 285.6,206.9 287.2,207.9 281.9,203.5" fill="#1ab6c8" stroke="#1ab6c8"/>
<polygon points="278.7,201.3 284.0,205.9 285.6,206.9 280.3,202.3" fill="#2ac0ae" stroke="#2ac0ae"/>
<polygon points="277.0,200.4 282.4,204.9 284.0,205.9 278.7,201.3" fill="#3bc894" stroke="#3bc894"/>
<polygon points="287.2,207.9 292.5,212.4 294.1,213.4 288.8,209.0" fill="#18a7de" stroke="#18a7de"/>
<polygon points="275.4,199.5 280.7,204.1 282.4,204.9 277.0,200.4" fill="#66c771" stroke="#66c771"/>
<polygon points="285.6,206.9 290.9,211.4 292.5,212.4 287.2,207.9" fill="#18b5cb" stroke="#18b5cb"/>
<polygon points="273.8,198.7 279.1,203.3 280.7,204.1 275.4,199.5" fill="#8fc750" stroke="#8fc750"/>
<polygon points="284.0,205.9 289.3,210.4 290.9,211.4 285.6,206.9" fill="#27beb2" stroke="#27beb2"/>
<polygon points="272.2,198.0 277.5,202.6 279.1,203.3 273.8,198.7" fill="#b2c639" stroke="#b2c639"/>
<polygon points="282.4,204.9 287.7,209.5 289.3,210.4 284.0,205.9" fill="#36c79a" stroke="#36c79a"/>
<polygon points="292.5,212.4 297.9,216.8 299.5,217.8 294.1,213.4" fill="#19a6df" stroke="#19a6df"/>
<polygon points="270.6,197.4 275.9,201.9 277.5,202.6 272.2,198.0" fill="#cbc539" stroke="#cbc539"/>
<polygon points="280.7,204.1 286.1,208.7 287.7,209.5 282.4,204.9" fill="#5dc879" stroke="#5dc879"/>
<polygon points="290.9,211.4 296.2,215.9 297.9,216.8 292.5,212.4" fill="#16b4ce" stroke="#16b4ce"/>
<polygon points="268.9,196.8 274.3,201.2 275.9,201.9 270.6,197.4" fill="#e4c438" stroke="#e4c438"/>
<polygon points="279.1,203.3 284.4,207.9 286.1,208.7 280.7,204.1" fill="#85c758" stroke="#85c758"/>
<polygon points="212.3,230.3 217.7,234.3 219.3,232.6 213.9,228.6" fill="#4031ba" stroke="#4031ba"/>
<polygon points="267.3,196.2 272.6,200.7 274.3,201.2 268.9,196.8" fill="#fbc338" stroke="#fbc338"/>
<polygon points="289.3,210.4 294.6,215.0 296.2,215.9 290.9,211.4" fill="#25bdb6" stroke="#25bdb6"/>
<polygon points="213.9,228.6 219.3,232.6 220.9,230.9 215.6,227.0" fill="#4441d7" stroke="#4441d7"/>
<polygon points="215.6,227.0 220.9,230.9 222.5,229.2 217.2,225.3" fill="#4852f3" stroke="#4852f3"/>
<polygon points="277.5,202.6 282.8,207.1 284.4,207.9 279.1,203.3" fill="#acc739" stroke="#acc739"/>
<polygon points="265.7,195.7 271.0,200.2 272.6,200.7 267.3,196.2" fill="#fdd030" stroke="#fdd030"/>
<polygon points="217.2,225.3 222.5,229.2 224.1,227.5 218.8,223.7" fill="#3e65f5" stroke="#3e65f5"/>
<polygon points="287.7,209.5 293.0,214.1 294.6,215.0 289.3,210.4" fill="#33c59e" stroke="#33c59e"/>
<polygon points="297.9,216.8 303.2,221.2 304.8,222.1 299.5,217.8" fill="#1aa5e0" stroke="#1aa5e0"/>
<polygon points="218.8,223.7 224.1,227.5 225.7,225.9 220.4,222.1" fill="#3578f6" stroke="#3578f6"/>
<polygon points="264.1,195.5 269.4,199.9 271.0,200.2 265.7,195.7" fill="#fcdc29" stroke="#fcdc29"/>
<polygon points="275.9,201.9 281.2,206.4 282.8,207.1 277.5,202.6" fill="#c6c639" stroke="#c6c639"/>
<polygon points="220.4,222.1 225.7,225.9 227.4,224.3 222.0,220.5" fill="#2c8af5" stroke="#2c8af5"/>
<polygon points="286.1,208.7 291.4,213.3 293.0,214.1 287.7,209.5" fill="#53c880" stroke="#53c880"/>
<polygon points="222.0,220.5 227.4,224.3 229.0,222.7 223.7,218.9" fill="#2299e9" stroke="#2299e9"/>
<polygon points="262.5,195.6 267.8,199.9 269.4,199.9 264.1,195.5" fill="#fbe423" stroke="#fbe423"/>
<polygon points="296.2,215.9 301.6,220.4 303.2,221.2 297.9,216.8" fill="#15b3d1" stroke="#15b3d1"/>
<polygon points="223.7,218.9 229.0,222.7 230.6,221.2 225.3,217.4" fill="#18a7de" stroke="#18a7de"/>
<polygon points="274.3,201.2 279.6,205.7 281.2,206.4 275.9,201.9" fill="#dfc538" stroke="#dfc538"/>
<polygon points="260.9,195.7 266.2,200.0 267.8,199.9 262.5,195.6" fill="#fbe920" stroke="#fbe920"/>
<polygon points="225.3,217.4 230.6,221.2 232.2,219.6 226.9,215.8" fill="#16b4cf" stroke="#16b4cf"/>
<polygon points="259.2,196.0 264.6,200.2 266.2,200.0 260.9,195.7" fill="#faec1e" stroke="#faec1e"/>
<polygon points="284.4,207.9 289.8,212.4 291.4,213.3 286.1,208.7" fill="#7cc75f" stroke="#7cc75f"/>
<polygon points="226.9,215.8 232.2,219.6 233.8,218.0 228.5,214.1" fill="#23bcb9" stroke="#23bcb9"/>
<polygon points="272.6,200.7 278.0,205.1 279.6,205.7 274.3,201.2" fill="#f7c438" stroke="#f7c438"/>
<polygon points="294.6,215.0 299.9,219.5 301.6,220.4 296.2,215.9" fill="#22bbba" stroke="#22bbba"/>
<polygon points="257.6,196.2 262.9,200.4 264.6,200.2 259.2,196.0" fill="#faef1c" stroke="#faef1c"/>
<polygon points="217.7,234.3 223.0,238.3 224.6,236.5 219.3,232.6" fill="#4135c2" stroke="#4135c2"/>
<polygon points="228.5,214.1 233.8,218.0 235.4,216.4 230.1,212.5" fill="#31c4a2" stroke="#31c4a2"/>
<polygon points="256.0,196.5 261.3,200.7 262.9,200.4 257.6,196.2" fill="#faf01b" stroke="#faf01b"/>
<polygon points="230.1,212.5 235.4,216.4 237.1,214.8 231.7,210.9" fill="#4cc886" stroke="#4cc886"/>
<polygon points="219.3,232.6 224.6,236.5 226.2,234.8 220.9,230.9" fill="#4546e0" stroke="#4546e0"/>
<polygon points="282.8,207.1 288.1,211.6 289.8,212.4 284.4,207.9" fill="#a4c73f" stroke="#a4c73f"/>
<polygon points="271.0,200.2 276.4,204.7 278.0,205.1 272.6,200.7" fill="#fdcd32" stroke="#fdcd32"/>
<polygon points="254.4,196.8 259.7,201.0 261.3,200.7 256.0,196.5" fill="#faf21a" stroke="#faf21a"/>
<polygon points="231.7,210.9 237.1,214.8 238.7,213.3 233.4,209.4" fill="#73c767" stroke="#73c767"/>
<polygon points="220.9,230.9 226.2,234.8 227.8,233.1 222.5,229.2" fill="#4558f5" stroke="#4558f5"/>
<polygon points="293.0,214.1 298.3,218.7 299.9,219.5 294.6,215.0" fill="#30c4a3" stroke="#30c4a3"/>
<polygon points="233.4,209.4 238.7,213.3 240.3,211.9 235.0,207.9" fill="#97c749" stroke="#97c749"/>
<polygon points="252.8,197.2 258.1,201.4 259.7,201.0 254.4,196.8" fill="#faf21a" stroke="#faf21a"/>
<polygon points="235.0,207.9 240.3,211.9 241.9,210.6 236.6,206.6" fill="#b5c639" stroke="#b5c639"/>
<polygon points="222.5,229.2 227.8,233.1 229.4,231.4 224.1,227.5" fill="#3b6cf6" stroke="#3b6cf6"/>
<polygon points="303.2,221.2 308.5,225.7 310.1,226.5 304.8,222.1" fill="#1ba4e1" stroke="#1ba4e1"/>
<polygon points="251.2,197.7 256.5,201.8 258.1,201.4 252.8,197.2" fill="#faf11b" stroke="#faf11b"/>
<polygon points="236.6,206.6 241.9,210.6 243.5,209.4 238.2,205.4" fill="#c9c539" stroke="#c9c539"/>
<polygon points="269.4,199.9 274.7,204.3 276.4,204.7 271.0,200.2" fill="#fcda2a" stroke="#fcda2a"/>
<polygon points="238.2,205.4 243.5,209.4 245.2,208.3 239.8,204.3" fill="#dbc538" stroke="#dbc538"/>
<polygon points="281.2,206.4 286.5,210.9 288.1,211.6 282.8,207.1" fill="#c1c639" stroke="#c1c639"/>
<polygon points="249.5,198.3 254.9,202.5 256.5,201.8 251.2,197.7" fill="#faee1c" stroke="#faee1c"/>
<polygon points="239.8,204.3 245.2,208.3 246.8,207.2 241.4,203.2" fill="#edc438" stroke="#edc438"/>
<polygon points="224.1,227.5 229.4,231.4 231.1,229.7 225.7,225.9" fill="#317ff7" stroke="#317ff7"/>
<polygon points="241.4,203.2 246.8,207.2 248.4,206.1 243.1,202.1" fill="#fec438" stroke="#fec438"/>
<polygon points="247.9,199.1 253.2,203.2 254.9,202.5 249.5,198.3" fill="#fbe920" stroke="#fbe920"/>
<polygon points="243.1,202.1 248.4,206.1 250.0,205.0 244.7,201.0" fill="#fdcf31" stroke="#fdcf31"/>
<polygon points="246.3,200.1 251.6,204.1 253.2,203.2 247.9,199.1" fill="#fbe224" stroke="#fbe224"/>
<polygon points="244.7,201.0 250.0,205.0 251.6,204.1 246.3,200.1" fill="#fcd92a" stroke="#fcd92a"/>
<polygon points="291.4,213.3 296.7,217.9 298.3,218.7 293.0,214.1" fill="#49c888" stroke="#49c888"/>
<polygon points="225.7,225.9 231.1,229.7 232.7,228.1 227.4,224.3" fill="#2890f0" stroke="#2890f0"/>
<polygon points="267.8,199.9 273.1,204.2 274.7,204.3 269.4,199.9" fill="#fbe324" stroke="#fbe324"/>
<polygon points="301.6,220.4 306.9,224.9 308.5,225.7 303.2,221.2" fill="#13b2d4" stroke="#13b2d4"/>
<polygon points="227.4,224.3 232.7,228.1 234.3,226.5 229.0,222.7" fill="#1e9fe4" stroke="#1e9fe4"/>
<polygon points="279.6,205.7 284.9,210.2 286.5,210.9 281.2,206.4" fill="#dbc538" stroke="#dbc538"/>
<polygon points="266.2,200.0 271.5,204.2 273.1,204.2 267.8,199.9" fill="#fbe920" stroke="#fbe920"/>
<polygon points="229.0,222.7 234.3,226.5 235.9,225.0 230.6,221.2" fill="#14add9" stroke="#14add9"/>
<polygon points="289.8,212.4 295.1,217.0 296.7,217.9 291.4,213.3" fill="#72c767" stroke="#72c767"/>
<polygon points="230.6,221.2 235.9,225.0 237.5,223.4 232.2,219.6" fill="#1bb7c6" stroke="#1bb7c6"/>
<polygon points="264.6,200.2 269.9,204.4 271.5,204.2 266.2,200.0" fill="#faed1d" stroke="#faed1d"/>
<polygon points="299.9,219.5 305.3,224.1 306.9,224.9 301.6,220.4" fill="#20babe" stroke="#20babe"/>
<polygon points="278.0,205.1 283.3,209.6 284.9,210.2 279.6,205.7" fill="#f3c438" stroke="#f3c438"/>
<polygon points="232.2,219.6 237.5,223.4 239.2,221.8 233.8,218.0" fill="#28bfb0" stroke="#28bfb0"/>
<polygon points="262.9,200.4 268.3,204.6 269.9,204.4 264.6,200.2" fill="#faf01b" stroke="#faf01b"/>
<polygon points="223.0,238.3 228.3,242.2 229.9,240.4 224.6,236.5" fill="#423aca" stroke="#423aca"/>
<polygon points="233.8,218.0 239.2,221.8 240.8,220.2 235.4,216.4" fill="#35c79a" stroke="#35c79a"/>
<polygon points="261.3,200.7 266.6,204.9 268.3,204.6 262.9,200.4" fill="#faf21a" stroke="#faf21a"/>
<polygon points="288.1,211.6 293.5,216.2 295.1,217.0 289.8,212.4" fill="#9bc746" stroke="#9bc746"/>
<polygon points="276.4,204.7 281.7,209.1 283.3,209.6 278.0,205.1" fill="#feca34" stroke="#feca34"/>
<polygon points="235.4,216.4 240.8,220.2 242.4,218.7 237.1,214.8" fill="#5ac87b" stroke="#5ac87b"/>
<polygon points="224.6,236.5 229.9,240.4 231.5,238.7 226.2,234.8" fill="#464be8" stroke="#464be8"/>
<polygon points="259.7,201.0 265.0,205.2 266.6,204.9 261.3,200.7" fill="#faf319" stroke="#faf319"/>
<polygon points="298.3,218.7 303.6,223.3 305.3,224.1 299.9,219.5" fill="#2dc2a8" stroke="#2dc2a8"/>
<polygon points="237.1,214.8 242.4,218.7 244.0,217.2 238.7,213.3" fill="#80c75c" stroke="#80c75c"/>
<polygon points="226.2,234.8 231.5,238.7 233.1,236.9 227.8,233.1" fill="#425ff5" stroke="#425ff5"/>
<polygon points="258.1,201.4 263.4,205.6 265.0,205.2 259.7,201.0" fill="#faf419" stroke="#faf419"/>
<polygon points="238.7,213.3 244.0,217.2 245.6,215.8 240.3,211.9" fill="#a4c73f" stroke="#a4c73f"/>
<polygon points="286.5,210.9 291.8,215.4 293.5,216.2 288.1,211.6" fill="#bcc639" stroke="#bcc639"/>
<polygon points="274.7,204.3 280.1,208.7 281.7,209.1 276.4,204.7" fill="#fcd72b" stroke="#fcd72b"/>
<polygon points="256.5,201.8 261.8,206.0 263.4,205.6 258.1,201.4" fill="#faf319" stroke="#faf319"/>
<polygon points="240.3,211.9 245.6,215.8 247.2,214.6 241.9,210.6" fill="#bdc639" stroke="#bdc639"/>
<polygon points="227.8,233.1 233.1,236.9 234.8,235.2 229.4,231.4" fill="#3873f6" stroke="#3873f6"/>
<polygon points="241.9,210.6 247.2,214.6 248.9,213.4 243.5,209.4" fill="#d1c538" stroke="#d1c538"/>
<polygon points="254.9,202.5 260.2,206.6 261.8,206.0 256.5,201.8" fill="#faf11b" stroke="#faf11b"/>
<polygon points="243.5,209.4 248.9,213.4 250.5,212.3 245.2,208.3" fill="#e3c438" stroke="#e3c438"/>
<polygon points="296.7,217.9 302.0,222.5 303.6,223.3 298.3,218.7" fill="#40c890" stroke="#40c890"/>
<polygon points="245.2,208.3 250.5,212.3 252.1,211.2 246.8,207.2" fill="#f5c438" stroke="#f5c438"/>
<polygon points="253.2,203.2 258.6,207.2 260.2,206.6 254.9,202.5" fill="#faed1d" stroke="#faed1d"/>
<polygon points="246.8,207.2 252.1,211.2 253.7,210.0 248.4,206.1" fill="#fec934" stroke="#fec934"/>
<polygon points="229.4,231.4 234.8,235.2 236.4,233.5 231.1,229.7" fill="#2e86f7" stroke="#2e86f7"/>
<polygon points="248.4,206.1 253.7,210.0 255.3,209.0 250.0,205.0" fill="#fdd42d" stroke="#fdd42d"/>
<polygon points="251.6,204.1 256.9,208.0 258.6,207.2 253.2,203.2" fill="#fbe721" stroke="#fbe721"/>
<polygon points="250.0,205.0 255.3,209.0 256.9,208.0 251.6,204.1" fill="#fcde27" stroke="#fcde27"/>
<polygon points="273.1,204.2 278.4,208.5 280.1,208.7 274.7,204.3" fill="#fbe224" stroke="#fbe224"/>
<polygon points="231.1,229.7 236.4,233.5 238.0,231.9 232.7,228.1" fill="#2496eb" stroke="#2496eb"/>
<polygon points="284.9,210.2 290.2,214.7 291.8,215.4 286.5,210.9" fill="#d7c538" stroke="#d7c538"/>
<polygon points="271.5,204.2 276.8,208.4 278.4,208.5 273.1,204.2" fill="#fbea20" stroke="#fbea20"/>
<polygon points="232.7,228.1 238.0,231.9 239.6,230.3 234.3,226.5" fill="#1aa5df" stroke="#1aa5df"/>
<polygon points="295.1,217.0 300.4,221.6 302.0,222.5 296.7,217.9" fill="#69c76f" stroke="#69c76f"/>
<polygon points="234.3,226.5 239.6,230.3 241.2,228.8 235.9,225.0" fill="#14b3d2" stroke="#14b3d2"/>
<polygon points="269.9,204.4 275.2,208.5 276.8,208.4 271.5,204.2" fill="#faef1c" stroke="#faef1c"/>
<polygon points="283.3,209.6 288.6,214.1 290.2,214.7 284.9,210.2" fill="#efc438" stroke="#efc438"/>
<polygon points="235.9,225.0 241.2,228.8 242.9,227.2 237.5,223.4" fill="#21babd" stroke="#21babd"/>
<polygon points="268.3,204.6 273.6,208.8 275.2,208.5 269.9,204.4" fill="#faf21a" stroke="#faf21a"/>
<polygon points="237.5,223.4 242.9,227.2 244.5,225.6 239.2,221.8" fill="#2ec2a7" stroke="#2ec2a7"/>
<polygon points="293.5,216.2 298.8,220.7 300.4,221.6 295.1,217.0" fill="#93c74d" stroke="#93c74d"/>
<polygon points="228.3,242.2 233.6,246.2 235.2,244.4 229.9,240.4" fill="#433ed1" stroke="#433ed1"/>
<polygon points="266.6,204.9 272.0,209.1 273.6,208.8 268.3,204.6" fill="#faf419" stroke="#faf419"/>
<polygon points="281.7,209.1 287.0,213.6 288.6,214.1 283.3,209.6" fill="#fec835" stroke="#fec835"/>
<polygon points="239.2,221.8 244.5,225.6 246.1,224.1 240.8,220.2" fill="#41c88f" stroke="#41c88f"/>
<polygon points="265.0,205.2 270.4,209.4 272.0,209.1 266.6,204.9" fill="#faf518" stroke="#faf518"/>
<polygon points="240.8,220.2 246.1,224.1 247.7,222.6 242.4,218.7" fill="#68c76f" stroke="#68c76f"/>
<polygon points="229.9,240.4 235.2,244.4 236.9,242.6 231.5,238.7" fill="#4750f1" stroke="#4750f1"/>
<polygon points="242.4,218.7 247.7,222.6 249.3,221.2 244.0,217.2" fill="#8dc751" stroke="#8dc751"/>
<polygon points="263.4,205.6 268.7,209.8 270.4,209.4 265.0,205.2" fill="#faf618" stroke="#faf618"/>
<polygon points="291.8,215.4 297.2,219.8 298.8,220.7 293.5,216.2" fill="#b7c639" stroke="#b7c639"/>
<polygon points="280.1,208.7 285.4,213.1 287.0,213.6 281.7,209.1" fill="#fdd52c" stroke="#fdd52c"/>
<polygon points="231.5,238.7 236.9,242.6 238.5,240.8 233.1,236.9" fill="#3e65f5" stroke="#3e65f5"/>
<polygon points="244.0,217.2 249.3,221.2 250.9,219.8 245.6,215.8" fill="#afc739" stroke="#afc739"/>
<polygon points="261.8,206.0 267.1,210.2 268.7,209.8 263.4,205.6" fill="#faf518" stroke="#faf518"/>
<polygon points="245.6,215.8 250.9,219.8 252.6,218.5 247.2,214.6" fill="#c5c639" stroke="#c5c639"/>
<polygon points="260.2,206.6 265.5,210.7 267.1,210.2 261.8,206.0" fill="#faf419" stroke="#faf419"/>
<polygon points="247.2,214.6 252.6,218.5 254.2,217.4 248.9,213.4" fill="#d9c538" stroke="#d9c538"/>
<polygon points="233.1,236.9 238.5,240.8 240.1,239.0 234.8,235.2" fill="#347af6" stroke="#347af6"/>
<polygon points="248.9,213.4 254.2,217.4 255.8,216.3 250.5,212.3" fill="#ebc438" stroke="#ebc438"/>
<polygon points="250.5,212.3 255.8,216.3 257.4,215.1 252.1,211.2" fill="#fdc338" stroke="#fdc338"/>
<polygon points="258.6,207.2 263.9,211.3 265.5,210.7 260.2,206.6" fill="#faf11b" stroke="#faf11b"/>
<polygon points="278.4,208.5 283.8,212.8 285.4,213.1 280.1,208.7" fill="#fbe125" stroke="#fbe125"/>
<polygon points="252.1,211.2 257.4,215.1 259.0,214.0 253.7,210.0" fill="#fdce31" stroke="#fdce31"/>
<polygon points="256.9,208.0 262.3,212.0 263.9,211.3 258.6,207.2" fill="#fbeb1e" stroke="#fbeb1e"/>
<polygon points="253.7,210.0 259.0,214.0 260.6,213.0 255.3,209.0" fill="#fcda2a" stroke="#fcda2a"/>
<polygon points="255.3,209.0 260.6,213.0 262.3,212.0 256.9,208.0" fill="#fbe324" stroke="#fbe324"/>
<polygon points="234.8,235.2 240.1,239.0 241.7,237.4 236.4,233.5" fill="#2a8cf3" stroke="#2a8cf3"/>
<polygon points="290.2,214.7 295.6,219.1 297.2,219.8 291.8,215.4" fill="#d3c538" stroke="#d3c538"/>
<polygon points="236.4,233.5 241.7,237.4 243.3,235.7 238.0,231.9" fill="#209ce6" stroke="#209ce6"/>
<polygon points="276.8,208.4 282.1,212.7 283.8,212.8 278.4,208.5" fill="#fbea1f" stroke="#fbea1f"/>
<polygon points="238.0,231.9 243.3,235.7 244.9,234.1 239.6,230.3" fill="#16abdb" stroke="#16abdb"/>
<polygon points="288.6,214.1 293.9,218.6 295.6,219.1 290.2,214.7" fill="#ebc438" stroke="#ebc438"/>
<polygon points="275.2,208.5 280.5,212.7 282.1,212.7 276.8,208.4" fill="#faf01b" stroke="#faf01b"/>
<polygon points="239.6,230.3 244.9,234.1 246.6,232.6 241.2,228.8" fill="#19b6c9" stroke="#19b6c9"/>
<polygon points="241.2,228.8 246.6,232.6 248.2,231.0 242.9,227.2" fill="#26beb4" stroke="#26beb4"/>
<polygon points="273.6,208.8 278.9,213.0 280.5,212.7 275.2,208.5" fill="#faf419" stroke="#faf419"/>
<polygon points="287.0,213.6 292.3,218.0 293.9,218.6 288.6,214.1" fill="#fec537" stroke="#fec537"/>
<polygon points="242.9,227.2 248.2,231.0 249.8,229.5 244.5,225.6" fill="#33c59e" stroke="#33c59e"/>
<polygon points="272.0,209.1 277.3,213.3 278.9,213.0 273.6,208.8" fill="#faf518" stroke="#faf518"/>
<polygon points="233.6,246.2 238.9,250.2 240.6,248.3 235.2,244.4" fill="#4443d9" stroke="#4443d9"/>
<polygon points="244.5,225.6 249.8,229.5 251.4,228.0 246.1,224.1" fill="#50c883" stroke="#50c883"/>
<polygon points="270.4,209.4 275.7,213.6 277.3,213.3 272.0,209.1" fill="#faf617" stroke="#faf617"/>
<polygon points="246.1,224.1 251.4,228.0 253.0,226.5 247.7,222.6" fill="#76c764" stroke="#76c764"/>
<polygon points="235.2,244.4 240.6,248.3 242.2,246.5 236.9,242.6" fill="#4656f4" stroke="#4656f4"/>
<polygon points="268.7,209.8 274.1,214.0 275.7,213.6 270.4,209.4" fill="#f9f717" stroke="#f9f717"/>
<polygon points="285.4,213.1 290.7,217.5 292.3,218.0 287.0,213.6" fill="#fdd32e" stroke="#fdd32e"/>
<polygon points="247.7,222.6 253.0,226.5 254.6,225.1 249.3,221.2" fill="#9ac747" stroke="#9ac747"/>
<polygon points="267.1,210.2 272.4,214.3 274.1,214.0 268.7,209.8" fill="#f9f717" stroke="#f9f717"/>
<polygon points="236.9,242.6 242.2,246.5 243.8,244.6 238.5,240.8" fill="#3b6bf6" stroke="#3b6bf6"/>
<polygon points="249.3,221.2 254.6,225.1 256.3,223.7 250.9,219.8" fill="#b7c639" stroke="#b7c639"/>
<polygon points="250.9,219.8 256.3,223.7 257.9,222.5 252.6,218.5" fill="#cdc538" stroke="#cdc538"/>
<polygon points="265.5,210.7 270.8,214.8 272.4,214.3 267.1,210.2" fill="#f9f717" stroke="#f9f717"/>
<polygon points="252.6,218.5 257.9,222.5 259.5,221.4 254.2,217.4" fill="#e1c538" stroke="#e1c538"/>
<polygon points="283.8,212.8 289.1,217.1 290.7,217.5 285.4,213.1" fill="#fce026" stroke="#fce026"/>
<polygon points="238.5,240.8 243.8,244.6 245.4,242.9 240.1,239.0" fill="#3181f7" stroke="#3181f7"/>
<polygon points="254.2,217.4 259.5,221.4 261.1,220.2 255.8,216.3" fill="#f3c438" stroke="#f3c438"/>
<polygon points="263.9,211.3 269.2,215.3 270.8,214.8 265.5,210.7" fill="#faf519" stroke="#faf519"/>
<polygon points="255.8,216.3 261.1,220.2 262.7,219.1 257.4,215.1" fill="#fec835" stroke="#fec835"/>
<polygon points="257.4,215.1 262.7,219.1 264.4,218.0 259.0,214.0" fill="#fdd42e" stroke="#fdd42e"/>
<polygon points="262.3,212.0 267.6,216.0 269.2,215.3 263.9,211.3" fill="#faf01c" stroke="#faf01c"/>
<polygon points="259.0,214.0 264.4,218.0 266.0,217.0 260.6,213.0" fill="#fcdf26" stroke="#fcdf26"/>
<polygon points="260.6,213.0 266.0,217.0 267.6,216.0 262.3,212.0" fill="#fbe920" stroke="#fbe920"/>
<polygon points="240.1,239.0 245.4,242.9 247.0,241.2 241.7,237.4" fill="#2692ee" stroke="#2692ee"/>
<polygon points="282.1,212.7 287.5,216.9 289.1,217.1 283.8,212.8" fill="#fbeb1f" stroke="#fbeb1f"/>
<polygon points="241.7,237.4 247.0,241.2 248.6,239.5 243.3,235.7" fill="#1ca2e2" stroke="#1ca2e2"/>
<polygon points="243.3,235.7 248.6,239.5 250.3,237.9 244.9,234.1" fill="#12b1d6" stroke="#12b1d6"/>
<polygon points="280.5,212.7 285.8,216.9 287.5,216.9 282.1,212.7" fill="#faf21a" stroke="#faf21a"/>
<polygon points="244.9,234.1 250.3,237.9 251.9,236.4 246.6,232.6" fill="#1fb9c0" stroke="#1fb9c0"/>
<polygon points="278.9,213.0 284.2,217.2 285.8,216.9 280.5,212.7" fill="#faf518" stroke="#faf518"/>
<polygon points="246.6,232.6 251.9,236.4 253.5,234.8 248.2,231.0" fill="#2bc1ab" stroke="#2bc1ab"/>
<polygon points="277.3,213.3 282.6,217.5 284.2,217.2 278.9,213.0" fill="#f9f717" stroke="#f9f717"/>
<polygon points="248.2,231.0 253.5,234.8 255.1,233.3 249.8,229.5" fill="#3ac895" stroke="#3ac895"/>
<polygon points="275.7,213.6 281.0,217.8 282.6,217.5 277.3,213.3" fill="#f9f816" stroke="#f9f816"/>
<polygon points="249.8,229.5 255.1,233.3 256.7,231.8 251.4,228.0" fill="#60c876" stroke="#60c876"/>
<polygon points="274.1,214.0 279.4,218.2 281.0,217.8 275.7,213.6" fill="#f9f916" stroke="#f9f916"/>
<polygon points="251.4,228.0 256.7,231.8 258.4,230.4 253.0,226.5" fill="#84c758" stroke="#84c758"/>
<polygon points="253.0,226.5 258.4,230.4 260.0,229.0 254.6,225.1" fill="#a7c73c" stroke="#a7c73c"/>
<polygon points="272.4,214.3 277.8,218.5 279.4,218.2 274.1,214.0" fill="#f9f915" stroke="#f9f915"/>
<polygon points="254.6,225.1 260.0,229.0 261.6,227.7 256.3,223.7" fill="#c0c639" stroke="#c0c639"/>
<polygon points="270.8,214.8 276.1,218.9 277.8,218.5 272.4,214.3" fill="#f9f915" stroke="#f9f915"/>
<polygon points="256.3,223.7 261.6,227.7 263.2,226.5 257.9,222.5" fill="#d5c538" stroke="#d5c538"/>
<polygon points="257.9,222.5 263.2,226.5 264.8,225.3 259.5,221.4" fill="#e9c438" stroke="#e9c438"/>
<polygon points="269.2,215.3 274.5,219.3 276.1,218.9 270.8,214.8" fill="#f9f816" stroke="#f9f816"/>
<polygon points="259.5,221.4 264.8,225.3 266.4,224.2 261.1,220.2" fill="#fbc338" stroke="#fbc338"/>
<polygon points="261.1,220.2 266.4,224.2 268.1,223.1 262.7,219.1" fill="#fdcd32" stroke="#fdcd32"/>
<polygon points="267.6,216.0 272.9,220.0 274.5,219.3 269.2,215.3" fill="#faf519" stroke="#faf519"/>
<polygon points="262.7,219.1 268.1,223.1 269.7,222.0 264.4,218.0" fill="#fcd92a" stroke="#fcd92a"/>
<polygon points="264.4,218.0 269.7,222.0 271.3,220.9 266.0,217.0" fill="#fbe423" stroke="#fbe423"/>
<polygon points="266.0,217.0 271.3,220.9 272.9,220.0 267.6,216.0" fill="#faee1d" stroke="#faee1d"/>
</g>
<path class="ax" d="M199.8 240.1L247.4 278.6M247.4 278.6L334.3 258.2M199.8 240.1L199.8 187.2M199.8 240.1L198.2 240.5M211.7 249.7L210.1 250.1M223.6 259.4L222.0 259.7M235.5 269.0L233.9 269.3M247.4 278.6L245.8 279.0M247.4 278.6L248.6 279.6M264.8 274.5L266.0 275.5M282.2 270.4L283.4 271.4M299.5 266.4L300.8 267.4M316.9 262.3L318.2 263.3M334.3 258.2L335.5 259.2M199.8 240.1L198.2 240.5M199.8 222.5L198.2 222.8M199.8 204.8L198.2 205.2M199.8 187.2L198.2 187.6"/>
<text class="t e" x="195.3" y="248.1">40</text>
<text class="t e" x="207.2" y="257.7">60</text>
<text class="t e" x="219.1" y="267.4">80</text>
<text class="t e" x="231.0" y="277.0">100</text>
<text class="t e" x="242.9" y="286.6">120</text>
<text class="t" x="247.4" y="288.8">100</text>
<text class="t" x="264.8" y="284.7">80</text>
<text class="t" x="282.2" y="280.6">60</text>
<text class="t" x="299.5" y="276.6">40</text>
<text class="t" x="316.9" y="272.5">20</text>
<text class="t" x="334.3" y="268.4">0</text>
<text class="t e" x="196.2" y="241.3">36</text>
<text class="t e" x="196.2" y="224.7">38</text>
<text class="t e" x="196.2" y="207.0">40</text>
<text class="t e" x="196.2" y="189.4">42</text>
<text class="t m" transform="translate(237.0 172.7) rotate(-12.0)">Scheme F</text>
<text class="t m" x="193.5" y="277.0"><tspan class="i">d</tspan><tspan class="sub" dy="1.5">3</tspan><tspan dy="-1.5"> (µm)</tspan></text>
<text class="t m" x="297.0" y="290.0"><tspan class="i">d</tspan><tspan class="sub" dy="1.5">2</tspan><tspan dy="-1.5"> (µm)</tspan></text>
<text class="t m" transform="translate(179.0 214.0) rotate(-90)">FSO (mV)</text></g>
<g><path class="gr" d="M371.0 244.5L445.7 227.2M445.7 227.2L445.7 169.2M378.5 250.4L453.2 233.1M453.2 233.1L453.2 175.1M386.0 256.3L460.7 239.0M460.7 239.0L460.7 181.0M393.5 262.2L468.2 244.9M468.2 244.9L468.2 186.9M401.0 268.1L475.7 250.8M475.7 250.8L475.7 192.8M408.5 274.0L483.2 256.7M483.2 256.7L483.2 198.7M371.0 244.5L408.5 274.0M371.0 244.5L371.0 186.5M385.9 241.0L423.4 270.5M385.9 241.0L385.9 183.0M400.9 237.6L438.4 267.1M400.9 237.6L400.9 179.6M415.8 234.1L453.3 263.6M415.8 234.1L415.8 176.1M430.8 230.7L468.3 260.2M430.8 230.7L430.8 172.7M445.7 227.2L483.2 256.7M445.7 227.2L445.7 169.2M371.0 244.5L445.7 227.2M445.7 227.2L483.2 256.7M371.0 230.0L445.7 212.7M445.7 212.7L483.2 242.2M371.0 215.5L445.7 198.2M445.7 198.2L483.2 227.7M371.0 201.0L445.7 183.7M445.7 183.7L483.2 213.2M371.0 186.5L445.7 169.2M445.7 169.2L483.2 198.7"/>
<g filter="url(#sb)">
<polygon points="436.9,205.9 437.7,204.8 443.3,204.2 442.4,205.3" fill="#2cc2a9" stroke="#2cc2a9"/>
<polygon points="437.7,204.8 438.6,203.7 444.1,203.1 443.3,204.2" fill="#36c799" stroke="#36c799"/>
<polygon points="431.4,206.7 432.2,205.5 437.7,204.8 436.9,205.9" fill="#30c3a3" stroke="#30c3a3"/>
<polygon points="438.6,203.7 439.4,202.6 444.9,202.1 444.1,203.1" fill="#51c882" stroke="#51c882"/>
<polygon points="425.9,207.5 426.7,206.3 432.2,205.5 431.4,206.7" fill="#32c59f" stroke="#32c59f"/>
<polygon points="432.2,205.5 433.1,204.4 438.6,203.7 437.7,204.8" fill="#3fc891" stroke="#3fc891"/>
<polygon points="439.4,202.6 440.2,201.7 445.7,201.2 444.9,202.1" fill="#6cc76c" stroke="#6cc76c"/>
<polygon points="420.4,208.5 421.2,207.2 426.7,206.3 425.9,207.5" fill="#35c69b" stroke="#35c69b"/>
<polygon points="433.1,204.4 433.9,203.3 439.4,202.6 438.6,203.7" fill="#5cc879" stroke="#5cc879"/>
<polygon points="426.7,206.3 427.6,205.1 433.1,204.4 432.2,205.5" fill="#47c88a" stroke="#47c88a"/>
<polygon points="440.2,201.7 441.1,200.8 446.6,200.3 445.7,201.2" fill="#87c757" stroke="#87c757"/>
<polygon points="414.9,209.5 415.7,208.2 421.2,207.2 420.4,208.5" fill="#36c798" stroke="#36c798"/>
<polygon points="433.9,203.3 434.7,202.3 440.2,201.7 439.4,202.6" fill="#78c762" stroke="#78c762"/>
<polygon points="421.2,207.2 422.1,206.0 427.6,205.1 426.7,206.3" fill="#4fc884" stroke="#4fc884"/>
<polygon points="427.6,205.1 428.4,204.1 433.9,203.3 433.1,204.4" fill="#65c772" stroke="#65c772"/>
<polygon points="441.1,200.8 441.9,199.9 447.4,199.5 446.6,200.3" fill="#a1c741" stroke="#a1c741"/>
<polygon points="409.4,210.6 410.2,209.3 415.7,208.2 414.9,209.5" fill="#38c896" stroke="#38c896"/>
<polygon points="434.7,202.3 435.6,201.4 441.1,200.8 440.2,201.7" fill="#93c74c" stroke="#93c74c"/>
<polygon points="415.7,208.2 416.6,207.0 422.1,206.0 421.2,207.2" fill="#54c880" stroke="#54c880"/>
<polygon points="428.4,204.1 429.2,203.0 434.7,202.3 433.9,203.3" fill="#82c75a" stroke="#82c75a"/>
<polygon points="422.1,206.0 422.9,204.9 428.4,204.1 427.6,205.1" fill="#6dc76b" stroke="#6dc76b"/>
<polygon points="441.9,199.9 442.7,199.0 448.2,198.6 447.4,199.5" fill="#b6c639" stroke="#b6c639"/>
<polygon points="403.9,211.8 404.7,210.6 410.2,209.3 409.4,210.6" fill="#3ac895" stroke="#3ac895"/>
<polygon points="435.6,201.4 436.4,200.4 441.9,199.9 441.1,200.8" fill="#adc739" stroke="#adc739"/>
<polygon points="410.2,209.3 411.1,208.2 416.6,207.0 415.7,208.2" fill="#58c87d" stroke="#58c87d"/>
<polygon points="429.2,203.0 430.1,202.1 435.6,201.4 434.7,202.3" fill="#9ec744" stroke="#9ec744"/>
<polygon points="416.6,207.0 417.4,205.9 422.9,204.9 422.1,206.0" fill="#72c767" stroke="#72c767"/>
<polygon points="422.9,204.9 423.7,203.9 429.2,203.0 428.4,204.1" fill="#8ac754" stroke="#8ac754"/>
<polygon points="442.7,199.0 443.6,198.2 449.1,197.9 448.2,198.6" fill="#c8c639" stroke="#c8c639"/>
<polygon points="398.4,213.1 399.2,211.9 404.7,210.6 403.9,211.8" fill="#3ac895" stroke="#3ac895"/>
<polygon points="404.7,210.6 405.6,209.4 411.1,208.2 410.2,209.3" fill="#59c87b" stroke="#59c87b"/>
<polygon points="436.4,200.4 437.2,199.5 442.7,199.0 441.9,199.9" fill="#c0c639" stroke="#c0c639"/>
<polygon points="411.1,208.2 411.9,207.0 417.4,205.9 416.6,207.0" fill="#76c764" stroke="#76c764"/>
<polygon points="430.1,202.1 430.9,201.1 436.4,200.4 435.6,201.4" fill="#b5c639" stroke="#b5c639"/>
<polygon points="417.4,205.9 418.2,204.9 423.7,203.9 422.9,204.9" fill="#90c74f" stroke="#90c74f"/>
<polygon points="423.7,203.9 424.6,202.9 430.1,202.1 429.2,203.0" fill="#a6c73d" stroke="#a6c73d"/>
<polygon points="443.6,198.2 444.4,197.7 449.9,197.5 449.1,197.9" fill="#d7c538" stroke="#d7c538"/>
<polygon points="392.9,214.5 393.7,213.3 399.2,211.9 398.4,213.1" fill="#39c896" stroke="#39c896"/>
<polygon points="399.2,211.9 400.1,210.7 405.6,209.4 404.7,210.6" fill="#5ac87b" stroke="#5ac87b"/>
<polygon points="437.2,199.5 438.1,198.7 443.6,198.2 442.7,199.0" fill="#d2c538" stroke="#d2c538"/>
<polygon points="405.6,209.4 406.4,208.3 411.9,207.0 411.1,208.2" fill="#78c763" stroke="#78c763"/>
<polygon points="430.9,201.1 431.7,200.2 437.2,199.5 436.4,200.4" fill="#c8c639" stroke="#c8c639"/>
<polygon points="411.9,207.0 412.7,206.0 418.2,204.9 417.4,205.9" fill="#93c74c" stroke="#93c74c"/>
<polygon points="424.6,202.9 425.4,201.9 430.9,201.1 430.1,202.1" fill="#bbc639" stroke="#bbc639"/>
<polygon points="418.2,204.9 419.1,203.9 424.6,202.9 423.7,203.9" fill="#acc739" stroke="#acc739"/>
<polygon points="444.4,197.7 445.2,197.5 450.7,197.3 449.9,197.5" fill="#e2c438" stroke="#e2c438"/>
<polygon points="387.4,216.0 388.2,214.8 393.7,213.3 392.9,214.5" fill="#37c898" stroke="#37c898"/>
<polygon points="393.7,213.3 394.6,212.1 400.1,210.7 399.2,211.9" fill="#58c87c" stroke="#58c87c"/>
<polygon points="438.1,198.7 438.9,198.2 444.4,197.7 443.6,198.2" fill="#e1c438" stroke="#e1c438"/>
<polygon points="400.1,210.7 400.9,209.6 406.4,208.3 405.6,209.4" fill="#78c763" stroke="#78c763"/>
<polygon points="431.7,200.2 432.6,199.4 438.1,198.7 437.2,199.5" fill="#dac538" stroke="#dac538"/>
<polygon points="406.4,208.3 407.2,207.2 412.7,206.0 411.9,207.0" fill="#95c74b" stroke="#95c74b"/>
<polygon points="412.7,206.0 413.6,205.0 419.1,203.9 418.2,204.9" fill="#aec739" stroke="#aec739"/>
<polygon points="425.4,201.9 426.2,201.0 431.7,200.2 430.9,201.1" fill="#cec538" stroke="#cec538"/>
<polygon points="419.1,203.9 419.9,202.9 425.4,201.9 424.6,202.9" fill="#bfc639" stroke="#bfc639"/>
<polygon points="445.2,197.5 446.1,197.3 451.6,197.2 450.7,197.3" fill="#edc438" stroke="#edc438"/>
<polygon points="381.9,217.5 382.7,216.4 388.2,214.8 387.4,216.0" fill="#35c79a" stroke="#35c79a"/>
<polygon points="388.2,214.8 389.1,213.7 394.6,212.1 393.7,213.3" fill="#54c87f" stroke="#54c87f"/>
<polygon points="438.9,198.2 439.7,197.9 445.2,197.5 444.4,197.7" fill="#eec438" stroke="#eec438"/>
<polygon points="394.6,212.1 395.4,211.1 400.9,209.6 400.1,210.7" fill="#76c764" stroke="#76c764"/>
<polygon points="400.9,209.6 401.7,208.6 407.2,207.2 406.4,208.3" fill="#95c74b" stroke="#95c74b"/>
<polygon points="432.6,199.4 433.4,198.8 438.9,198.2 438.1,198.7" fill="#eac438" stroke="#eac438"/>
<polygon points="446.1,197.3 446.9,197.1 452.4,197.2 451.6,197.2" fill="#f6c438" stroke="#f6c438"/>
<polygon points="407.2,207.2 408.1,206.3 413.6,205.0 412.7,206.0" fill="#afc739" stroke="#afc739"/>
<polygon points="426.2,201.0 427.1,200.2 432.6,199.4 431.7,200.2" fill="#e0c538" stroke="#e0c538"/>
<polygon points="413.6,205.0 414.4,204.1 419.9,202.9 419.1,203.9" fill="#c2c639" stroke="#c2c639"/>
<polygon points="419.9,202.9 420.7,202.0 426.2,201.0 425.4,201.9" fill="#d3c538" stroke="#d3c538"/>
<polygon points="376.4,219.2 377.2,218.1 382.7,216.4 381.9,217.5" fill="#33c69d" stroke="#33c69d"/>
<polygon points="382.7,216.4 383.5,215.3 389.1,213.7 388.2,214.8" fill="#4fc883" stroke="#4fc883"/>
<polygon points="439.7,197.9 440.6,197.5 446.1,197.3 445.2,197.5" fill="#f9c438" stroke="#f9c438"/>
<polygon points="389.1,213.7 389.9,212.7 395.4,211.1 394.6,212.1" fill="#72c768" stroke="#72c768"/>
<polygon points="446.9,197.1 447.7,197.0 453.2,197.2 452.4,197.2" fill="#fec438" stroke="#fec438"/>
<polygon points="433.4,198.8 434.2,198.4 439.7,197.9 438.9,198.2" fill="#f8c438" stroke="#f8c438"/>
<polygon points="395.4,211.1 396.2,210.1 401.7,208.6 400.9,209.6" fill="#92c74d" stroke="#92c74d"/>
<polygon points="401.7,208.6 402.5,207.7 408.1,206.3 407.2,207.2" fill="#afc739" stroke="#afc739"/>
<polygon points="427.1,200.2 427.9,199.6 433.4,198.8 432.6,199.4" fill="#f1c438" stroke="#f1c438"/>
<polygon points="408.1,206.3 408.9,205.3 414.4,204.1 413.6,205.0" fill="#c3c639" stroke="#c3c639"/>
<polygon points="414.4,204.1 415.2,203.2 420.7,202.0 419.9,202.9" fill="#d5c538" stroke="#d5c538"/>
<polygon points="420.7,202.0 421.6,201.2 427.1,200.2 426.2,201.0" fill="#e5c438" stroke="#e5c438"/>
<polygon points="377.2,218.1 378.0,217.1 383.5,215.3 382.7,216.4" fill="#48c889" stroke="#48c889"/>
<polygon points="440.6,197.5 441.4,197.2 446.9,197.1 446.1,197.3" fill="#fec735" stroke="#fec735"/>
<polygon points="383.5,215.3 384.4,214.4 389.9,212.7 389.1,213.7" fill="#6cc76c" stroke="#6cc76c"/>
<polygon points="447.7,197.0 448.5,197.0 454.0,197.2 453.2,197.2" fill="#fec934" stroke="#fec934"/>
<polygon points="434.2,198.4 435.0,198.0 440.6,197.5 439.7,197.9" fill="#fec736" stroke="#fec736"/>
<polygon points="389.9,212.7 390.7,211.7 396.2,210.1 395.4,211.1" fill="#8dc751" stroke="#8dc751"/>
<polygon points="396.2,210.1 397.0,209.2 402.5,207.7 401.7,208.6" fill="#adc739" stroke="#adc739"/>
<polygon points="427.9,199.6 428.7,199.2 434.2,198.4 433.4,198.8" fill="#fec438" stroke="#fec438"/>
<polygon points="402.5,207.7 403.4,206.8 408.9,205.3 408.1,206.3" fill="#c2c639" stroke="#c2c639"/>
<polygon points="408.9,205.3 409.7,204.5 415.2,203.2 414.4,204.1" fill="#d6c538" stroke="#d6c538"/>
<polygon points="421.6,201.2 422.4,200.6 427.9,199.6 427.1,200.2" fill="#f5c438" stroke="#f5c438"/>
<polygon points="441.4,197.2 442.2,197.0 447.7,197.0 446.9,197.1" fill="#fdce31" stroke="#fdce31"/>
<polygon points="415.2,203.2 416.0,202.4 421.6,201.2 420.7,202.0" fill="#e7c438" stroke="#e7c438"/>
<polygon points="448.5,197.0 449.4,197.1 454.9,197.5 454.0,197.2" fill="#fdce31" stroke="#fdce31"/>
<polygon points="378.0,217.1 378.9,216.2 384.4,214.4 383.5,215.3" fill="#64c873" stroke="#64c873"/>
<polygon points="384.4,214.4 385.2,213.5 390.7,211.7 389.9,212.7" fill="#87c756" stroke="#87c756"/>
<polygon points="435.0,198.0 435.9,197.7 441.4,197.2 440.6,197.5" fill="#fdcf31" stroke="#fdcf31"/>
<polygon points="390.7,211.7 391.5,210.9 397.0,209.2 396.2,210.1" fill="#a8c73c" stroke="#a8c73c"/>
<polygon points="428.7,199.2 429.5,198.7 435.0,198.0 434.2,198.4" fill="#fdcc32" stroke="#fdcc32"/>
<polygon points="397.0,209.2 397.9,208.3 403.4,206.8 402.5,207.7" fill="#bfc639" stroke="#bfc639"/>
<polygon points="442.2,197.0 443.0,196.9 448.5,197.0 447.7,197.0" fill="#fdd52d" stroke="#fdd52d"/>
<polygon points="449.4,197.1 450.2,197.4 455.7,197.8 454.9,197.5" fill="#fdd12f" stroke="#fdd12f"/>
<polygon points="422.4,200.6 423.2,200.1 428.7,199.2 427.9,199.6" fill="#fec736" stroke="#fec736"/>
<polygon points="403.4,206.8 404.2,205.9 409.7,204.5 408.9,205.3" fill="#d5c538" stroke="#d5c538"/>
<polygon points="409.7,204.5 410.5,203.7 416.0,202.4 415.2,203.2" fill="#e8c438" stroke="#e8c438"/>
<polygon points="416.0,202.4 416.9,201.7 422.4,200.6 421.6,201.2" fill="#f8c438" stroke="#f8c438"/>
<polygon points="378.9,216.2 379.7,215.4 385.2,213.5 384.4,214.4" fill="#7ec75d" stroke="#7ec75d"/>
<polygon points="435.9,197.7 436.7,197.4 442.2,197.0 441.4,197.2" fill="#fcd72c" stroke="#fcd72c"/>
<polygon points="385.2,213.5 386.0,212.7 391.5,210.9 390.7,211.7" fill="#a0c742" stroke="#a0c742"/>
<polygon points="450.2,197.4 451.0,198.0 456.5,198.4 455.7,197.8" fill="#fdd22e" stroke="#fdd22e"/>
<polygon points="443.0,196.9 443.9,197.0 449.4,197.1 448.5,197.0" fill="#fcda2a" stroke="#fcda2a"/>
<polygon points="429.5,198.7 430.4,198.3 435.9,197.7 435.0,198.0" fill="#fdd52d" stroke="#fdd52d"/>
<polygon points="391.5,210.9 392.4,210.1 397.9,208.3 397.0,209.2" fill="#bbc639" stroke="#bbc639"/>
<polygon points="397.9,208.3 398.7,207.5 404.2,205.9 403.4,206.8" fill="#d2c538" stroke="#d2c538"/>
<polygon points="423.2,200.1 424.0,199.6 429.5,198.7 428.7,199.2" fill="#fdd030" stroke="#fdd030"/>
<polygon points="404.2,205.9 405.0,205.2 410.5,203.7 409.7,204.5" fill="#e6c438" stroke="#e6c438"/>
<polygon points="416.9,201.7 417.7,201.3 423.2,200.1 422.4,200.6" fill="#fec935" stroke="#fec935"/>
<polygon points="410.5,203.7 411.4,203.1 416.9,201.7 416.0,202.4" fill="#f8c438" stroke="#f8c438"/>
<polygon points="451.0,198.0 451.9,198.8 457.4,199.1 456.5,198.4" fill="#fdd22e" stroke="#fdd22e"/>
<polygon points="436.7,197.4 437.5,197.2 443.0,196.9 442.2,197.0" fill="#fcde27" stroke="#fcde27"/>
<polygon points="379.7,215.4 380.5,214.7 386.0,212.7 385.2,213.5" fill="#97c749" stroke="#97c749"/>
<polygon points="443.9,197.0 444.7,197.3 450.2,197.4 449.4,197.1" fill="#fcdd28" stroke="#fcdd28"/>
<polygon points="386.0,212.7 386.9,211.9 392.4,210.1 391.5,210.9" fill="#b5c639" stroke="#b5c639"/>
<polygon points="430.4,198.3 431.2,198.0 436.7,197.4 435.9,197.7" fill="#fcdd28" stroke="#fcdd28"/>
<polygon points="451.9,198.8 452.7,199.8 458.2,200.0 457.4,199.1" fill="#fdd12f" stroke="#fdd12f"/>
<polygon points="392.4,210.1 393.2,209.3 398.7,207.5 397.9,208.3" fill="#cdc538" stroke="#cdc538"/>
<polygon points="424.0,199.6 424.9,199.2 430.4,198.3 429.5,198.7" fill="#fcd92a" stroke="#fcd92a"/>
<polygon points="469.3,251.4 470.1,255.2 475.6,255.8 474.8,251.7" fill="#4137c5" stroke="#4137c5"/>
<polygon points="398.7,207.5 399.5,206.8 405.0,205.2 404.2,205.9" fill="#e3c438" stroke="#e3c438"/>
<polygon points="417.7,201.3 418.5,200.8 424.0,199.6 423.2,200.1" fill="#fdd22f" stroke="#fdd22f"/>
<polygon points="405.0,205.2 405.9,204.6 411.4,203.1 410.5,203.7" fill="#f6c438" stroke="#f6c438"/>
<polygon points="437.5,197.2 438.4,197.2 443.9,197.0 443.0,196.9" fill="#fbe324" stroke="#fbe324"/>
<polygon points="411.4,203.1 412.2,202.6 417.7,201.3 416.9,201.7" fill="#fec935" stroke="#fec935"/>
<polygon points="444.7,197.3 445.5,197.8 451.0,198.0 450.2,197.4" fill="#fcdf26" stroke="#fcdf26"/>
<polygon points="452.7,199.8 453.5,200.9 459.0,201.0 458.2,200.0" fill="#fdce31" stroke="#fdce31"/>
<polygon points="468.5,247.6 469.3,251.4 474.8,251.7 474.0,247.7" fill="#464ce9" stroke="#464ce9"/>
<polygon points="380.5,214.7 381.4,213.9 386.9,211.9 386.0,212.7" fill="#aec739" stroke="#aec739"/>
<polygon points="431.2,198.0 432.0,197.7 437.5,197.2 436.7,197.4" fill="#fbe423" stroke="#fbe423"/>
<polygon points="386.9,211.9 387.7,211.2 393.2,209.3 392.4,210.1" fill="#c6c639" stroke="#c6c639"/>
<polygon points="445.5,197.8 446.4,198.7 451.9,198.8 451.0,198.0" fill="#fcdf26" stroke="#fcdf26"/>
<polygon points="467.7,244.0 468.5,247.6 474.0,247.7 473.2,243.9" fill="#4062f5" stroke="#4062f5"/>
<polygon points="453.5,200.9 454.4,202.1 459.9,202.0 459.0,201.0" fill="#feca33" stroke="#feca33"/>
<polygon points="424.9,199.2 425.7,198.8 431.2,198.0 430.4,198.3" fill="#fbe125" stroke="#fbe125"/>
<polygon points="438.4,197.2 439.2,197.5 444.7,197.3 443.9,197.0" fill="#fbe721" stroke="#fbe721"/>
<polygon points="393.2,209.3 394.0,208.7 399.5,206.8 398.7,207.5" fill="#dec538" stroke="#dec538"/>
<polygon points="418.5,200.8 419.4,200.3 424.9,199.2 424.0,199.6" fill="#fcdb29" stroke="#fcdb29"/>
<polygon points="399.5,206.8 400.4,206.3 405.9,204.6 405.0,205.2" fill="#f2c438" stroke="#f2c438"/>
<polygon points="412.2,202.6 413.0,202.2 418.5,200.8 417.7,201.3" fill="#fdd22f" stroke="#fdd22f"/>
<polygon points="466.8,240.6 467.7,244.0 473.2,243.9 472.3,240.4" fill="#3579f6" stroke="#3579f6"/>
<polygon points="405.9,204.6 406.7,204.2 412.2,202.6 411.4,203.1" fill="#fec735" stroke="#fec735"/>
<polygon points="454.4,202.1 455.2,203.6 460.7,203.4 459.9,202.0" fill="#fec637" stroke="#fec637"/>
<polygon points="446.4,198.7 447.2,199.8 452.7,199.8 451.9,198.8" fill="#fcdd28" stroke="#fcdd28"/>
<polygon points="466.0,237.3 466.8,240.6 472.3,240.4 471.5,237.0" fill="#2a8cf3" stroke="#2a8cf3"/>
<polygon points="432.0,197.7 432.9,197.7 438.4,197.2 437.5,197.2" fill="#fbea1f" stroke="#fbea1f"/>
<polygon points="381.4,213.9 382.2,213.3 387.7,211.2 386.9,211.9" fill="#bec639" stroke="#bec639"/>
<polygon points="455.2,203.6 456.0,205.4 461.5,205.2 460.7,203.4" fill="#f6c438" stroke="#f6c438"/>
<polygon points="463.8,251.3 464.6,254.9 470.1,255.2 469.3,251.4" fill="#4441d6" stroke="#4441d6"/>
<polygon points="465.2,234.3 466.0,237.3 471.5,237.0 470.7,233.8" fill="#1f9ce6" stroke="#1f9ce6"/>
<polygon points="439.2,197.5 440.0,198.0 445.5,197.8 444.7,197.3" fill="#fbe920" stroke="#fbe920"/>
<polygon points="464.3,231.3 465.2,234.3 470.7,233.8 469.8,230.8" fill="#16abdb" stroke="#16abdb"/>
<polygon points="456.0,205.4 456.9,207.6 462.4,207.4 461.5,205.2" fill="#e6c438" stroke="#e6c438"/>
<polygon points="387.7,211.2 388.5,210.6 394.0,208.7 393.2,209.3" fill="#d6c538" stroke="#d6c538"/>
<polygon points="447.2,199.8 448.0,201.0 453.5,200.9 452.7,199.8" fill="#fcd92a" stroke="#fcd92a"/>
<polygon points="425.7,198.8 426.5,198.6 432.0,197.7 431.2,198.0" fill="#fbe920" stroke="#fbe920"/>
<polygon points="463.5,228.4 464.3,231.3 469.8,230.8 469.0,228.0" fill="#18b5cb" stroke="#18b5cb"/>
<polygon points="456.9,207.6 457.7,209.9 463.2,209.8 462.4,207.4" fill="#d2c538" stroke="#d2c538"/>
<polygon points="462.7,225.6 463.5,228.4 469.0,228.0 468.2,225.2" fill="#24bdb7" stroke="#24bdb7"/>
<polygon points="457.7,209.9 458.5,212.4 464.0,212.4 463.2,209.8" fill="#bcc639" stroke="#bcc639"/>
<polygon points="463.0,247.8 463.8,251.3 469.3,251.4 468.5,247.6" fill="#4755f4" stroke="#4755f4"/>
<polygon points="458.5,212.4 459.3,215.0 464.8,215.0 464.0,212.4" fill="#a3c740" stroke="#a3c740"/>
<polygon points="459.3,215.0 460.2,217.6 465.7,217.5 464.8,215.0" fill="#83c75a" stroke="#83c75a"/>
<polygon points="461.8,222.9 462.7,225.6 468.2,225.2 467.3,222.5" fill="#30c3a3" stroke="#30c3a3"/>
<polygon points="460.2,217.6 461.0,220.2 466.5,220.0 465.7,217.5" fill="#63c874" stroke="#63c874"/>
<polygon points="394.0,208.7 394.9,208.2 400.4,206.3 399.5,206.8" fill="#edc438" stroke="#edc438"/>
<polygon points="461.0,220.2 461.8,222.9 467.3,222.5 466.5,220.0" fill="#42c88e" stroke="#42c88e"/>
<polygon points="419.4,200.3 420.2,199.9 425.7,198.8 424.9,199.2" fill="#fbe423" stroke="#fbe423"/>
<polygon points="400.4,206.3 401.2,205.9 406.7,204.2 405.9,204.6" fill="#fec537" stroke="#fec537"/>
<polygon points="406.7,204.2 407.5,203.7 413.0,202.2 412.2,202.6" fill="#fdd030" stroke="#fdd030"/>
<polygon points="413.0,202.2 413.9,201.7 419.4,200.3 418.5,200.8" fill="#fcdb29" stroke="#fcdb29"/>
<polygon points="462.1,244.4 463.0,247.8 468.5,247.6 467.7,244.0" fill="#3b6bf5" stroke="#3b6bf5"/>
<polygon points="440.0,198.0 440.9,198.8 446.4,198.7 445.5,197.8" fill="#fbe920" stroke="#fbe920"/>
<polygon points="448.0,201.0 448.9,202.4 454.4,202.1 453.5,200.9" fill="#fdd42d" stroke="#fdd42d"/>
<polygon points="432.9,197.7 433.7,197.9 439.2,197.5 438.4,197.2" fill="#faef1c" stroke="#faef1c"/>
<polygon points="461.3,241.1 462.1,244.4 467.7,244.0 466.8,240.6" fill="#3180f7" stroke="#3180f7"/>
<polygon points="382.2,213.3 383.0,212.8 388.5,210.6 387.7,211.2" fill="#cdc538" stroke="#cdc538"/>
<polygon points="448.9,202.4 449.7,204.0 455.2,203.6 454.4,202.1" fill="#fdce31" stroke="#fdce31"/>
<polygon points="460.5,237.9 461.3,241.1 466.8,240.6 466.0,237.3" fill="#2692ef" stroke="#2692ef"/>
<polygon points="426.5,198.6 427.4,198.5 432.9,197.7 432.0,197.7" fill="#faef1c" stroke="#faef1c"/>
<polygon points="440.9,198.8 441.7,200.0 447.2,199.8 446.4,198.7" fill="#fbe622" stroke="#fbe622"/>
<polygon points="388.5,210.6 389.4,210.3 394.9,208.2 394.0,208.7" fill="#e4c438" stroke="#e4c438"/>
<polygon points="459.7,234.9 460.5,237.9 466.0,237.3 465.2,234.3" fill="#1ca1e3" stroke="#1ca1e3"/>
<polygon points="449.7,204.0 450.5,205.9 456.0,205.4 455.2,203.6" fill="#fec537" stroke="#fec537"/>
<polygon points="394.9,208.2 395.7,207.9 401.2,205.9 400.4,206.3" fill="#f9c438" stroke="#f9c438"/>
<polygon points="420.2,199.9 421.0,199.7 426.5,198.6 425.7,198.8" fill="#fbeb1e" stroke="#fbeb1e"/>
<polygon points="433.7,197.9 434.5,198.4 440.0,198.0 439.2,197.5" fill="#faf11b" stroke="#faf11b"/>
<polygon points="458.8,231.9 459.7,234.9 465.2,234.3 464.3,231.3" fill="#13afd7" stroke="#13afd7"/>
<polygon points="458.3,251.6 459.1,255.0 464.6,254.9 463.8,251.3" fill="#4649e4" stroke="#4649e4"/>
<polygon points="401.2,205.9 402.0,205.5 407.5,203.7 406.7,204.2" fill="#fdcd32" stroke="#fdcd32"/>
<polygon points="413.9,201.7 414.7,201.3 420.2,199.9 419.4,200.3" fill="#fbe423" stroke="#fbe423"/>
<polygon points="407.5,203.7 408.4,203.3 413.9,201.7 413.0,202.2" fill="#fcd92a" stroke="#fcd92a"/>
<polygon points="450.5,205.9 451.3,208.0 456.9,207.6 456.0,205.4" fill="#f1c438" stroke="#f1c438"/>
<polygon points="458.0,229.1 458.8,231.9 464.3,231.3 463.5,228.4" fill="#1cb8c4" stroke="#1cb8c4"/>
<polygon points="457.2,226.2 458.0,229.1 463.5,228.4 462.7,225.6" fill="#28bfb0" stroke="#28bfb0"/>
<polygon points="441.7,200.0 442.5,201.4 448.0,201.0 447.2,199.8" fill="#fbe225" stroke="#fbe225"/>
<polygon points="451.3,208.0 452.2,210.3 457.7,209.9 456.9,207.6" fill="#dec538" stroke="#dec538"/>
<polygon points="456.3,223.4 457.2,226.2 462.7,225.6 461.8,222.9" fill="#34c69c" stroke="#34c69c"/>
<polygon points="457.5,248.3 458.3,251.6 463.8,251.3 463.0,247.8" fill="#435df5" stroke="#435df5"/>
<polygon points="452.2,210.3 453.0,212.7 458.5,212.4 457.7,209.9" fill="#c9c539" stroke="#c9c539"/>
<polygon points="455.5,220.6 456.3,223.4 461.8,222.9 461.0,220.2" fill="#51c882" stroke="#51c882"/>
<polygon points="454.7,217.9 455.5,220.6 461.0,220.2 460.2,217.6" fill="#74c766" stroke="#74c766"/>
<polygon points="453.0,212.7 453.8,215.3 459.3,215.0 458.5,212.4" fill="#b3c639" stroke="#b3c639"/>
<polygon points="453.8,215.3 454.7,217.9 460.2,217.6 459.3,215.0" fill="#95c74b" stroke="#95c74b"/>
<polygon points="427.4,198.5 428.2,198.7 433.7,197.9 432.9,197.7" fill="#faf419" stroke="#faf419"/>
<polygon points="456.6,245.0 457.5,248.3 463.0,247.8 462.1,244.4" fill="#3871f6" stroke="#3871f6"/>
<polygon points="383.0,212.8 383.9,212.5 389.4,210.3 388.5,210.6" fill="#dac538" stroke="#dac538"/>
<polygon points="434.5,198.4 435.4,199.3 440.9,198.8 440.0,198.0" fill="#faf11b" stroke="#faf11b"/>
<polygon points="442.5,201.4 443.4,202.9 448.9,202.4 448.0,201.0" fill="#fcdc28" stroke="#fcdc28"/>
<polygon points="389.4,210.3 390.2,210.0 395.7,207.9 394.9,208.2" fill="#f1c438" stroke="#f1c438"/>
<polygon points="455.8,241.8 456.6,245.0 462.1,244.4 461.3,241.1" fill="#2e86f7" stroke="#2e86f7"/>
<polygon points="421.0,199.7 421.9,199.6 427.4,198.5 426.5,198.6" fill="#faf21a" stroke="#faf21a"/>
<polygon points="395.7,207.9 396.5,207.6 402.0,205.5 401.2,205.9" fill="#fec835" stroke="#fec835"/>
<polygon points="443.4,202.9 444.2,204.6 449.7,204.0 448.9,202.4" fill="#fdd52d" stroke="#fdd52d"/>
<polygon points="455.0,238.7 455.8,241.8 461.3,241.1 460.5,237.9" fill="#2495ec" stroke="#2495ec"/>
<polygon points="402.0,205.5 402.9,205.2 408.4,203.3 407.5,203.7" fill="#fdd62c" stroke="#fdd62c"/>
<polygon points="414.7,201.3 415.5,201.0 421.0,199.7 420.2,199.9" fill="#fbec1e" stroke="#fbec1e"/>
<polygon points="408.4,203.3 409.2,202.9 414.7,201.3 413.9,201.7" fill="#fbe224" stroke="#fbe224"/>
<polygon points="435.4,199.3 436.2,200.5 441.7,200.0 440.9,198.8" fill="#faee1d" stroke="#faee1d"/>
<polygon points="454.2,235.7 455.0,238.7 460.5,237.9 459.7,234.9" fill="#1aa4e0" stroke="#1aa4e0"/>
<polygon points="444.2,204.6 445.0,206.6 450.5,205.9 449.7,204.0" fill="#fdcb33" stroke="#fdcb33"/>
<polygon points="453.3,232.8 454.2,235.7 459.7,234.9 458.8,231.9" fill="#13b2d4" stroke="#13b2d4"/>
<polygon points="428.2,198.7 429.0,199.2 434.5,198.4 433.7,197.9" fill="#faf617" stroke="#faf617"/>
<polygon points="452.5,229.9 453.3,232.8 458.8,231.9 458.0,229.1" fill="#1fb9bf" stroke="#1fb9bf"/>
<polygon points="452.8,252.2 453.6,255.5 459.1,255.0 458.3,251.6" fill="#474fee" stroke="#474fee"/>
<polygon points="445.0,206.6 445.8,208.7 451.3,208.0 450.5,205.9" fill="#fac338" stroke="#fac338"/>
<polygon points="451.7,227.1 452.5,229.9 458.0,229.1 457.2,226.2" fill="#2bc1ab" stroke="#2bc1ab"/>
<polygon points="383.9,212.5 384.7,212.4 390.2,210.0 389.4,210.3" fill="#e5c438" stroke="#e5c438"/>
<polygon points="450.8,224.2 451.7,227.1 457.2,226.2 456.3,223.4" fill="#38c897" stroke="#38c897"/>
<polygon points="445.8,208.7 446.7,210.9 452.2,210.3 451.3,208.0" fill="#e7c438" stroke="#e7c438"/>
<polygon points="436.2,200.5 437.0,202.0 442.5,201.4 441.7,200.0" fill="#fbe820" stroke="#fbe820"/>
<polygon points="450.0,221.3 450.8,224.2 456.3,223.4 455.5,220.6" fill="#5dc879" stroke="#5dc879"/>
<polygon points="452.0,249.0 452.8,252.2 458.3,251.6 457.5,248.3" fill="#4062f5" stroke="#4062f5"/>
<polygon points="446.7,210.9 447.5,213.3 453.0,212.7 452.2,210.3" fill="#d3c538" stroke="#d3c538"/>
<polygon points="449.2,218.5 450.0,221.3 455.5,220.6 454.7,217.9" fill="#81c75c" stroke="#81c75c"/>
<polygon points="448.3,215.8 449.2,218.5 454.7,217.9 453.8,215.3" fill="#a3c740" stroke="#a3c740"/>
<polygon points="447.5,213.3 448.3,215.8 453.8,215.3 453.0,212.7" fill="#bdc639" stroke="#bdc639"/>
<polygon points="390.2,210.0 391.0,209.8 396.5,207.6 395.7,207.9" fill="#fcc338" stroke="#fcc338"/>
<polygon points="421.9,199.6 422.7,199.8 428.2,198.7 427.4,198.5" fill="#f9f717" stroke="#f9f717"/>
<polygon points="451.1,245.9 452.0,249.0 457.5,248.3 456.6,245.0" fill="#3676f6" stroke="#3676f6"/>
<polygon points="396.5,207.6 397.4,207.2 402.9,205.2 402.0,205.5" fill="#fdd030" stroke="#fdd030"/>
<polygon points="429.0,199.2 429.9,200.1 435.4,199.3 434.5,198.4" fill="#faf618" stroke="#faf618"/>
<polygon points="437.0,202.0 437.9,203.6 443.4,202.9 442.5,201.4" fill="#fbe225" stroke="#fbe225"/>
<polygon points="415.5,201.0 416.4,201.0 421.9,199.6 421.0,199.7" fill="#faf21a" stroke="#faf21a"/>
<polygon points="402.9,205.2 403.7,204.8 409.2,202.9 408.4,203.3" fill="#fcde27" stroke="#fcde27"/>
<polygon points="450.3,242.8 451.1,245.9 456.6,245.0 455.8,241.8" fill="#2c89f5" stroke="#2c89f5"/>
<polygon points="409.2,202.9 410.0,202.7 415.5,201.0 414.7,201.3" fill="#fbea1f" stroke="#fbea1f"/>
<polygon points="449.5,239.8 450.3,242.8 455.8,241.8 455.0,238.7" fill="#2298ea" stroke="#2298ea"/>
<polygon points="437.9,203.6 438.7,205.4 444.2,204.6 443.4,202.9" fill="#fcda2a" stroke="#fcda2a"/>
<polygon points="448.6,236.8 449.5,239.8 455.0,238.7 454.2,235.7" fill="#19a6de" stroke="#19a6de"/>
<polygon points="429.9,200.1 430.7,201.3 436.2,200.5 435.4,199.3" fill="#faf31a" stroke="#faf31a"/>
<polygon points="447.8,233.9 448.6,236.8 454.2,235.7 453.3,232.8" fill="#15b3d1" stroke="#15b3d1"/>
<polygon points="384.7,212.4 385.5,212.3 391.0,209.8 390.2,210.0" fill="#efc438" stroke="#efc438"/>
<polygon points="422.7,199.8 423.5,200.2 429.0,199.2 428.2,198.7" fill="#f9f916" stroke="#f9f916"/>
<polygon points="438.7,205.4 439.5,207.4 445.0,206.6 444.2,204.6" fill="#fdd030" stroke="#fdd030"/>
<polygon points="447.0,231.0 447.8,233.9 453.3,232.8 452.5,229.9" fill="#21babc" stroke="#21babc"/>
<polygon points="446.2,228.1 447.0,231.0 452.5,229.9 451.7,227.1" fill="#2dc2a8" stroke="#2dc2a8"/>
<polygon points="391.0,209.8 391.9,209.6 397.4,207.2 396.5,207.6" fill="#fec934" stroke="#fec934"/>
<polygon points="439.5,207.4 440.3,209.6 445.8,208.7 445.0,206.6" fill="#fec437" stroke="#fec437"/>
<polygon points="447.3,253.1 448.1,256.2 453.6,255.5 452.8,252.2" fill="#4753f4" stroke="#4753f4"/>
<polygon points="445.3,225.2 446.2,228.1 451.7,227.1 450.8,224.2" fill="#3ec892" stroke="#3ec892"/>
<polygon points="440.3,209.6 441.2,211.7 446.7,210.9 445.8,208.7" fill="#eec438" stroke="#eec438"/>
<polygon points="416.4,201.0 417.2,201.1 422.7,199.8 421.9,199.6" fill="#f9f717" stroke="#f9f717"/>
<polygon points="444.5,222.2 445.3,225.2 450.8,224.2 450.0,221.3" fill="#64c873" stroke="#64c873"/>
<polygon points="430.7,201.3 431.5,202.8 437.0,202.0 436.2,200.5" fill="#faed1d" stroke="#faed1d"/>
<polygon points="397.4,207.2 398.2,207.0 403.7,204.8 402.9,205.2" fill="#fcd82b" stroke="#fcd82b"/>
<polygon points="446.5,250.1 447.3,253.1 452.8,252.2 452.0,249.0" fill="#3e66f5" stroke="#3e66f5"/>
<polygon points="443.7,219.3 444.5,222.2 450.0,221.3 449.2,218.5" fill="#89c754" stroke="#89c754"/>
<polygon points="441.2,211.7 442.0,214.0 447.5,213.3 446.7,210.9" fill="#dac538" stroke="#dac538"/>
<polygon points="403.7,204.8 404.5,204.6 410.0,202.7 409.2,202.9" fill="#fbe622" stroke="#fbe622"/>
<polygon points="442.8,216.6 443.7,219.3 449.2,218.5 448.3,215.8" fill="#adc739" stroke="#adc739"/>
<polygon points="410.0,202.7 410.9,202.6 416.4,201.0 415.5,201.0" fill="#faf01b" stroke="#faf01b"/>
<polygon points="442.0,214.0 442.8,216.6 448.3,215.8 447.5,213.3" fill="#c5c639" stroke="#c5c639"/>
<polygon points="445.6,247.0 446.5,250.1 452.0,249.0 451.1,245.9" fill="#3578f6" stroke="#3578f6"/>
<polygon points="423.5,200.2 424.4,201.1 429.9,200.1 429.0,199.2" fill="#f9f916" stroke="#f9f916"/>
<polygon points="444.8,244.0 445.6,247.0 451.1,245.9 450.3,242.8" fill="#2b8af4" stroke="#2b8af4"/>
<polygon points="431.5,202.8 432.3,204.5 437.9,203.6 437.0,202.0" fill="#fbe622" stroke="#fbe622"/>
<polygon points="444.0,241.1 444.8,244.0 450.3,242.8 449.5,239.8" fill="#2299e9" stroke="#2299e9"/>
<polygon points="385.5,212.3 386.4,212.2 391.9,209.6 391.0,209.8" fill="#f9c438" stroke="#f9c438"/>
<polygon points="443.1,238.1 444.0,241.1 449.5,239.8 448.6,236.8" fill="#18a7de" stroke="#18a7de"/>
<polygon points="432.3,204.5 433.2,206.4 438.7,205.4 437.9,203.6" fill="#fcdd28" stroke="#fcdd28"/>
<polygon points="442.3,235.2 443.1,238.1 448.6,236.8 447.8,233.9" fill="#15b3d0" stroke="#15b3d0"/>
<polygon points="417.2,201.1 418.0,201.6 423.5,200.2 422.7,199.8" fill="#f9fa15" stroke="#f9fa15"/>
<polygon points="391.9,209.6 392.7,209.4 398.2,207.0 397.4,207.2" fill="#fdd030" stroke="#fdd030"/>
<polygon points="424.4,201.1 425.2,202.4 430.7,201.3 429.9,200.1" fill="#faf618" stroke="#faf618"/>
<polygon points="441.5,232.3 442.3,235.2 447.8,233.9 447.0,231.0" fill="#21bbbc" stroke="#21bbbc"/>
<polygon points="433.2,206.4 434.0,208.5 439.5,207.4 438.7,205.4" fill="#fdd22e" stroke="#fdd22e"/>
<polygon points="440.7,229.4 441.5,232.3 447.0,231.0 446.2,228.1" fill="#2dc2a7" stroke="#2dc2a7"/>
<polygon points="398.2,207.0 399.0,206.8 404.5,204.6 403.7,204.8" fill="#fcdf26" stroke="#fcdf26"/>
<polygon points="410.9,202.6 411.7,202.8 417.2,201.1 416.4,201.0" fill="#faf518" stroke="#faf518"/>
<polygon points="441.8,254.4 442.6,257.3 448.1,256.2 447.3,253.1" fill="#4655f4" stroke="#4655f4"/>
<polygon points="434.0,208.5 434.8,210.6 440.3,209.6 439.5,207.4" fill="#fec736" stroke="#fec736"/>
<polygon points="439.8,226.4 440.7,229.4 446.2,228.1 445.3,225.2" fill="#40c890" stroke="#40c890"/>
<polygon points="404.5,204.6 405.4,204.6 410.9,202.6 410.0,202.7" fill="#faec1e" stroke="#faec1e"/>
<polygon points="439.0,223.4 439.8,226.4 445.3,225.2 444.5,222.2" fill="#68c770" stroke="#68c770"/>
<polygon points="441.0,251.4 441.8,254.4 447.3,253.1 446.5,250.1" fill="#3d67f5" stroke="#3d67f5"/>
<polygon points="434.8,210.6 435.7,212.8 441.2,211.7 440.3,209.6" fill="#f1c438" stroke="#f1c438"/>
<polygon points="425.2,202.4 426.0,203.9 431.5,202.8 430.7,201.3" fill="#faf01c" stroke="#faf01c"/>
<polygon points="438.2,220.4 439.0,223.4 444.5,222.2 443.7,219.3" fill="#8ec750" stroke="#8ec750"/>
<polygon points="440.1,248.4 441.0,251.4 446.5,250.1 445.6,247.0" fill="#3579f6" stroke="#3579f6"/>
<polygon points="435.7,212.8 436.5,215.0 442.0,214.0 441.2,211.7" fill="#dfc538" stroke="#dfc538"/>
<polygon points="437.3,217.6 438.2,220.4 443.7,219.3 442.8,216.6" fill="#b1c639" stroke="#b1c639"/>
<polygon points="436.5,215.0 437.3,217.6 442.8,216.6 442.0,214.0" fill="#c9c539" stroke="#c9c539"/>
<polygon points="418.0,201.6 418.9,202.4 424.4,201.1 423.5,200.2" fill="#f9fa15" stroke="#f9fa15"/>
<polygon points="439.3,245.5 440.1,248.4 445.6,247.0 444.8,244.0" fill="#2c8af5" stroke="#2c8af5"/>
<polygon points="386.4,212.2 387.2,212.1 392.7,209.4 391.9,209.6" fill="#fec636" stroke="#fec636"/>
<polygon points="426.0,203.9 426.8,205.7 432.3,204.5 431.5,202.8" fill="#fbe821" stroke="#fbe821"/>
<polygon points="438.5,242.6 439.3,245.5 444.8,244.0 444.0,241.1" fill="#2298ea" stroke="#2298ea"/>
<polygon points="437.6,239.7 438.5,242.6 444.0,241.1 443.1,238.1" fill="#19a6df" stroke="#19a6df"/>
<polygon points="392.7,209.4 393.5,209.3 399.0,206.8 398.2,207.0" fill="#fcd72c" stroke="#fcd72c"/>
<polygon points="436.8,236.7 437.6,239.7 443.1,238.1 442.3,235.2" fill="#14b3d2" stroke="#14b3d2"/>
<polygon points="411.7,202.8 412.5,203.2 418.0,201.6 417.2,201.1" fill="#f9f816" stroke="#f9f816"/>
<polygon points="426.8,205.7 427.7,207.7 433.2,206.4 432.3,204.5" fill="#fcde27" stroke="#fcde27"/>
<polygon points="436.0,233.9 436.8,236.7 442.3,235.2 441.5,232.3" fill="#20babd" stroke="#20babd"/>
<polygon points="399.0,206.8 399.9,206.8 405.4,204.6 404.5,204.6" fill="#fbe522" stroke="#fbe522"/>
<polygon points="405.4,204.6 406.2,204.8 411.7,202.8 410.9,202.6" fill="#faf11b" stroke="#faf11b"/>
<polygon points="418.9,202.4 419.7,203.7 425.2,202.4 424.4,201.1" fill="#faf717" stroke="#faf717"/>
<polygon points="435.2,230.9 436.0,233.9 441.5,232.3 440.7,229.4" fill="#2dc2a8" stroke="#2dc2a8"/>
<polygon points="427.7,207.7 428.5,209.8 434.0,208.5 433.2,206.4" fill="#fdd32e" stroke="#fdd32e"/>
<polygon points="434.3,227.8 435.2,230.9 440.7,229.4 439.8,226.4" fill="#3fc891" stroke="#3fc891"/>
<polygon points="436.3,255.9 437.1,258.8 442.6,257.3 441.8,254.4" fill="#4754f4" stroke="#4754f4"/>
<polygon points="428.5,209.8 429.3,211.9 434.8,210.6 434.0,208.5" fill="#fec835" stroke="#fec835"/>
<polygon points="435.5,253.0 436.3,255.9 441.8,254.4 441.0,251.4" fill="#3e66f5" stroke="#3e66f5"/>
<polygon points="433.5,224.7 434.3,227.8 439.8,226.4 439.0,223.4" fill="#67c770" stroke="#67c770"/>
<polygon points="429.3,211.9 430.2,214.0 435.7,212.8 434.8,210.6" fill="#f3c438" stroke="#f3c438"/>
<polygon points="434.6,250.1 435.5,253.0 441.0,251.4 440.1,248.4" fill="#3577f6" stroke="#3577f6"/>
<polygon points="419.7,203.7 420.5,205.2 426.0,203.9 425.2,202.4" fill="#faf11b" stroke="#faf11b"/>
<polygon points="387.2,212.1 388.0,212.1 393.5,209.3 392.7,209.4" fill="#fdcc32" stroke="#fdcc32"/>
<polygon points="432.7,221.7 433.5,224.7 439.0,223.4 438.2,220.4" fill="#8fc750" stroke="#8fc750"/>
<polygon points="433.8,247.2 434.6,250.1 440.1,248.4 439.3,245.5" fill="#2d88f6" stroke="#2d88f6"/>
<polygon points="412.5,203.2 413.3,204.0 418.9,202.4 418.0,201.6" fill="#f9f816" stroke="#f9f816"/>
<polygon points="430.2,214.0 431.0,216.3 436.5,215.0 435.7,212.8" fill="#e0c538" stroke="#e0c538"/>
<polygon points="431.8,218.9 432.7,221.7 438.2,220.4 437.3,217.6" fill="#b2c639" stroke="#b2c639"/>
<polygon points="431.0,216.3 431.8,218.9 437.3,217.6 436.5,215.0" fill="#cbc539" stroke="#cbc539"/>
<polygon points="433.0,244.3 433.8,247.2 439.3,245.5 438.5,242.6" fill="#2496eb" stroke="#2496eb"/>
<polygon points="393.5,209.3 394.3,209.4 399.9,206.8 399.0,206.8" fill="#fcdd28" stroke="#fcdd28"/>
<polygon points="432.1,241.4 433.0,244.3 438.5,242.6 437.6,239.7" fill="#1aa4e0" stroke="#1aa4e0"/>
<polygon points="420.5,205.2 421.3,207.1 426.8,205.7 426.0,203.9" fill="#fbe820" stroke="#fbe820"/>
<polygon points="406.2,204.8 407.0,205.2 412.5,203.2 411.7,202.8" fill="#faf419" stroke="#faf419"/>
<polygon points="399.9,206.8 400.7,207.0 406.2,204.8 405.4,204.6" fill="#fbea1f" stroke="#fbea1f"/>
<polygon points="431.3,238.5 432.1,241.4 437.6,239.7 436.8,236.7" fill="#12b2d5" stroke="#12b2d5"/>
<polygon points="430.5,235.6 431.3,238.5 436.8,236.7 436.0,233.9" fill="#1eb9c1" stroke="#1eb9c1"/>
<polygon points="421.3,207.1 422.2,209.1 427.7,207.7 426.8,205.7" fill="#fcde27" stroke="#fcde27"/>
<polygon points="429.6,232.6 430.5,235.6 436.0,233.9 435.2,230.9" fill="#2bc1ac" stroke="#2bc1ac"/>
<polygon points="413.3,204.0 414.2,205.2 419.7,203.7 418.9,202.4" fill="#faf518" stroke="#faf518"/>
<polygon points="422.2,209.1 423.0,211.2 428.5,209.8 427.7,207.7" fill="#fdd32e" stroke="#fdd32e"/>
<polygon points="430.8,257.7 431.6,260.6 437.1,258.8 436.3,255.9" fill="#4852f3" stroke="#4852f3"/>
<polygon points="428.8,229.5 429.6,232.6 435.2,230.9 434.3,227.8" fill="#39c895" stroke="#39c895"/>
<polygon points="430.0,254.9 430.8,257.7 436.3,255.9 435.5,253.0" fill="#4062f5" stroke="#4062f5"/>
<polygon points="423.0,211.2 423.8,213.4 429.3,211.9 428.5,209.8" fill="#fec736" stroke="#fec736"/>
<polygon points="388.0,212.1 388.8,212.2 394.3,209.4 393.5,209.3" fill="#fdd12f" stroke="#fdd12f"/>
<polygon points="429.1,252.0 430.0,254.9 435.5,253.0 434.6,250.1" fill="#3773f6" stroke="#3773f6"/>
<polygon points="428.0,226.4 428.8,229.5 434.3,227.8 433.5,224.7" fill="#63c874" stroke="#63c874"/>
<polygon points="428.3,249.2 429.1,252.0 434.6,250.1 433.8,247.2" fill="#2f84f7" stroke="#2f84f7"/>
<polygon points="407.0,205.2 407.8,205.9 413.3,204.0 412.5,203.2" fill="#faf419" stroke="#faf419"/>
<polygon points="423.8,213.4 424.7,215.5 430.2,214.0 429.3,211.9" fill="#f1c438" stroke="#f1c438"/>
<polygon points="414.2,205.2 415.0,206.8 420.5,205.2 419.7,203.7" fill="#faef1c" stroke="#faef1c"/>
<polygon points="427.2,223.3 428.0,226.4 433.5,224.7 432.7,221.7" fill="#8cc753" stroke="#8cc753"/>
<polygon points="427.5,246.3 428.3,249.2 433.8,247.2 433.0,244.3" fill="#2693ee" stroke="#2693ee"/>
<polygon points="394.3,209.4 395.2,209.6 400.7,207.0 399.9,206.8" fill="#fbe125" stroke="#fbe125"/>
<polygon points="400.7,207.0 401.5,207.4 407.0,205.2 406.2,204.8" fill="#faed1d" stroke="#faed1d"/>
<polygon points="424.7,215.5 425.5,217.8 431.0,216.3 430.2,214.0" fill="#dfc538" stroke="#dfc538"/>
<polygon points="426.3,220.4 427.2,223.3 432.7,221.7 431.8,218.9" fill="#b0c739" stroke="#b0c739"/>
<polygon points="426.6,243.4 427.5,246.3 433.0,244.3 432.1,241.4" fill="#1da0e3" stroke="#1da0e3"/>
<polygon points="425.5,217.8 426.3,220.4 431.8,218.9 431.0,216.3" fill="#c9c539" stroke="#c9c539"/>
<polygon points="425.8,240.5 426.6,243.4 432.1,241.4 431.3,238.5" fill="#14aed8" stroke="#14aed8"/>
<polygon points="415.0,206.8 415.8,208.7 421.3,207.1 420.5,205.2" fill="#fbe721" stroke="#fbe721"/>
<polygon points="425.0,237.6 425.8,240.5 431.3,238.5 430.5,235.6" fill="#1bb7c6" stroke="#1bb7c6"/>
<polygon points="424.1,234.5 425.0,237.6 430.5,235.6 429.6,232.6" fill="#28bfb1" stroke="#28bfb1"/>
<polygon points="415.8,208.7 416.7,210.7 422.2,209.1 421.3,207.1" fill="#fcdc28" stroke="#fcdc28"/>
<polygon points="407.8,205.9 408.7,207.1 414.2,205.2 413.3,204.0" fill="#faf21a" stroke="#faf21a"/>
<polygon points="425.3,259.9 426.1,262.7 431.6,260.6 430.8,257.7" fill="#464deb" stroke="#464deb"/>
<polygon points="424.5,257.1 425.3,259.9 430.8,257.7 430.0,254.9" fill="#425df5" stroke="#425df5"/>
<polygon points="423.3,231.4 424.1,234.5 429.6,232.6 428.8,229.5" fill="#35c79b" stroke="#35c79b"/>
<polygon points="388.8,212.2 389.7,212.4 395.2,209.6 394.3,209.4" fill="#fdd52c" stroke="#fdd52c"/>
<polygon points="416.7,210.7 417.5,212.9 423.0,211.2 422.2,209.1" fill="#fdd130" stroke="#fdd130"/>
<polygon points="423.6,254.2 424.5,257.1 430.0,254.9 429.1,252.0" fill="#3a6df6" stroke="#3a6df6"/>
<polygon points="422.8,251.4 423.6,254.2 429.1,252.0 428.3,249.2" fill="#327ef6" stroke="#327ef6"/>
<polygon points="422.5,228.2 423.3,231.4 428.8,229.5 428.0,226.4" fill="#5bc87a" stroke="#5bc87a"/>
<polygon points="401.5,207.4 402.3,208.1 407.8,205.9 407.0,205.2" fill="#faee1d" stroke="#faee1d"/>
<polygon points="417.5,212.9 418.3,215.1 423.8,213.4 423.0,211.2" fill="#fec437" stroke="#fec437"/>
<polygon points="395.2,209.6 396.0,210.0 401.5,207.4 400.7,207.0" fill="#fbe423" stroke="#fbe423"/>
<polygon points="422.0,248.5 422.8,251.4 428.3,249.2 427.5,246.3" fill="#298ef2" stroke="#298ef2"/>
<polygon points="408.7,207.1 409.5,208.6 415.0,206.8 414.2,205.2" fill="#faec1e" stroke="#faec1e"/>
<polygon points="421.1,245.6 422.0,248.5 427.5,246.3 426.6,243.4" fill="#209be7" stroke="#209be7"/>
<polygon points="418.3,215.1 419.2,217.3 424.7,215.5 423.8,213.4" fill="#edc438" stroke="#edc438"/>
<polygon points="421.7,225.1 422.5,228.2 428.0,226.4 427.2,223.3" fill="#84c759" stroke="#84c759"/>
<polygon points="420.3,242.7 421.1,245.6 426.6,243.4 425.8,240.5" fill="#17a9dc" stroke="#17a9dc"/>
<polygon points="420.8,222.2 421.7,225.1 427.2,223.3 426.3,220.4" fill="#acc739" stroke="#acc739"/>
<polygon points="419.2,217.3 420.0,219.5 425.5,217.8 424.7,215.5" fill="#dbc538" stroke="#dbc538"/>
<polygon points="420.0,219.5 420.8,222.2 426.3,220.4 425.5,217.8" fill="#c5c639" stroke="#c5c639"/>
<polygon points="419.5,239.7 420.3,242.7 425.8,240.5 425.0,237.6" fill="#17b4cd" stroke="#17b4cd"/>
<polygon points="409.5,208.6 410.3,210.5 415.8,208.7 415.0,206.8" fill="#fbe324" stroke="#fbe324"/>
<polygon points="418.6,236.7 419.5,239.7 425.0,237.6 424.1,234.5" fill="#23bcb8" stroke="#23bcb8"/>
<polygon points="419.8,262.3 420.6,265.1 426.1,262.7 425.3,259.9" fill="#4547e0" stroke="#4547e0"/>
<polygon points="419.0,259.5 419.8,262.3 425.3,259.9 424.5,257.1" fill="#4655f4" stroke="#4655f4"/>
<polygon points="402.3,208.1 403.2,209.1 408.7,207.1 407.8,205.9" fill="#fbec1e" stroke="#fbec1e"/>
<polygon points="418.1,256.7 419.0,259.5 424.5,257.1 423.6,254.2" fill="#3e65f5" stroke="#3e65f5"/>
<polygon points="389.7,212.4 390.5,212.8 396.0,210.0 395.2,209.6" fill="#fcd82b" stroke="#fcd82b"/>
<polygon points="410.3,210.5 411.2,212.6 416.7,210.7 415.8,208.7" fill="#fcd92a" stroke="#fcd92a"/>
<polygon points="417.8,233.5 418.6,236.7 424.1,234.5 423.3,231.4" fill="#31c4a2" stroke="#31c4a2"/>
<polygon points="417.3,253.8 418.1,256.7 423.6,254.2 422.8,251.4" fill="#3676f6" stroke="#3676f6"/>
<polygon points="396.0,210.0 396.8,210.6 402.3,208.1 401.5,207.4" fill="#fbe523" stroke="#fbe523"/>
<polygon points="416.5,250.9 417.3,253.8 422.8,251.4 422.0,248.5" fill="#2d87f7" stroke="#2d87f7"/>
<polygon points="411.2,212.6 412.0,214.8 417.5,212.9 416.7,210.7" fill="#fdcd32" stroke="#fdcd32"/>
<polygon points="417.0,230.3 417.8,233.5 423.3,231.4 422.5,228.2" fill="#4ec884" stroke="#4ec884"/>
<polygon points="415.6,248.0 416.5,250.9 422.0,248.5 421.1,245.6" fill="#2495ec" stroke="#2495ec"/>
<polygon points="412.0,214.8 412.8,217.0 418.3,215.1 417.5,212.9" fill="#f9c438" stroke="#f9c438"/>
<polygon points="414.8,245.1 415.6,248.0 421.1,245.6 420.3,242.7" fill="#1ba3e1" stroke="#1ba3e1"/>
<polygon points="403.2,209.1 404.0,210.6 409.5,208.6 408.7,207.1" fill="#fbe722" stroke="#fbe722"/>
<polygon points="416.2,227.2 417.0,230.3 422.5,228.2 421.7,225.1" fill="#79c762" stroke="#79c762"/>
<polygon points="412.8,217.0 413.7,219.2 419.2,217.3 418.3,215.1" fill="#e7c438" stroke="#e7c438"/>
<polygon points="414.0,242.2 414.8,245.1 420.3,242.7 419.5,239.7" fill="#12b1d6" stroke="#12b1d6"/>
<polygon points="414.3,265.1 415.1,267.9 420.6,265.1 419.8,262.3" fill="#433ed1" stroke="#433ed1"/>
<polygon points="415.3,224.2 416.2,227.2 421.7,225.1 420.8,222.2" fill="#a1c741" stroke="#a1c741"/>
<polygon points="413.5,262.3 414.3,265.1 419.8,262.3 419.0,259.5" fill="#464ce9" stroke="#464ce9"/>
<polygon points="413.7,219.2 414.5,221.5 420.0,219.5 419.2,217.3" fill="#d4c538" stroke="#d4c538"/>
<polygon points="413.1,239.1 414.0,242.2 419.5,239.7 418.6,236.7" fill="#1eb9c1" stroke="#1eb9c1"/>
<polygon points="414.5,221.5 415.3,224.2 420.8,222.2 420.0,219.5" fill="#bec639" stroke="#bec639"/>
<polygon points="412.6,259.4 413.5,262.3 419.0,259.5 418.1,256.7" fill="#435bf5" stroke="#435bf5"/>
<polygon points="404.0,210.6 404.8,212.5 410.3,210.5 409.5,208.6" fill="#fcde27" stroke="#fcde27"/>
<polygon points="396.8,210.6 397.7,211.5 403.2,209.1 402.3,208.1" fill="#fbe423" stroke="#fbe423"/>
<polygon points="390.5,212.8 391.3,213.3 396.8,210.6 396.0,210.0" fill="#fcda2a" stroke="#fcda2a"/>
<polygon points="411.8,256.5 412.6,259.4 418.1,256.7 417.3,253.8" fill="#3b6cf6" stroke="#3b6cf6"/>
<polygon points="412.3,235.9 413.1,239.1 418.6,236.7 417.8,233.5" fill="#2bc1ab" stroke="#2bc1ab"/>
<polygon points="411.0,253.6 411.8,256.5 417.3,253.8 416.5,250.9" fill="#327df6" stroke="#327df6"/>
<polygon points="404.8,212.5 405.7,214.6 411.2,212.6 410.3,210.5" fill="#fdd32e" stroke="#fdd32e"/>
<polygon points="410.1,250.7 411.0,253.6 416.5,250.9 415.6,248.0" fill="#298df2" stroke="#298df2"/>
<polygon points="411.5,232.6 412.3,235.9 417.8,233.5 417.0,230.3" fill="#3ec891" stroke="#3ec891"/>
<polygon points="408.8,268.2 409.6,271.1 415.1,267.9 414.3,265.1" fill="#4133bf" stroke="#4133bf"/>
<polygon points="405.7,214.6 406.5,216.9 412.0,214.8 411.2,212.6" fill="#fec736" stroke="#fec736"/>
<polygon points="409.3,247.7 410.1,250.7 415.6,248.0 414.8,245.1" fill="#209be7" stroke="#209be7"/>
<polygon points="407.9,265.3 408.8,268.2 414.3,265.1 413.5,262.3" fill="#4441d7" stroke="#4441d7"/>
<polygon points="408.5,244.8 409.3,247.7 414.8,245.1 414.0,242.2" fill="#17a9dc" stroke="#17a9dc"/>
<polygon points="406.5,216.9 407.3,219.1 412.8,217.0 412.0,214.8" fill="#f1c438" stroke="#f1c438"/>
<polygon points="397.7,211.5 398.5,212.9 404.0,210.6 403.2,209.1" fill="#fcdf26" stroke="#fcdf26"/>
<polygon points="410.6,229.4 411.5,232.6 417.0,230.3 416.2,227.2" fill="#69c76e" stroke="#69c76e"/>
<polygon points="407.1,262.4 407.9,265.3 413.5,262.3 412.6,259.4" fill="#4750f0" stroke="#4750f0"/>
<polygon points="407.3,219.1 408.2,221.4 413.7,219.2 412.8,217.0" fill="#dec538" stroke="#dec538"/>
<polygon points="407.6,241.7 408.5,244.8 414.0,242.2 413.1,239.1" fill="#17b5cc" stroke="#17b5cc"/>
<polygon points="406.3,259.5 407.1,262.4 412.6,259.4 411.8,256.5" fill="#4160f5" stroke="#4160f5"/>
<polygon points="409.8,226.4 410.6,229.4 416.2,227.2 415.3,224.2" fill="#92c74d" stroke="#92c74d"/>
<polygon points="391.3,213.3 392.2,214.1 397.7,211.5 396.8,210.6" fill="#fcd92a" stroke="#fcd92a"/>
<polygon points="408.2,221.4 409.0,223.7 414.5,221.5 413.7,219.2" fill="#cac539" stroke="#cac539"/>
<polygon points="405.5,256.5 406.3,259.5 411.8,256.5 411.0,253.6" fill="#3872f6" stroke="#3872f6"/>
<polygon points="409.0,223.7 409.8,226.4 415.3,224.2 414.5,221.5" fill="#b4c639" stroke="#b4c639"/>
<polygon points="406.8,238.5 407.6,241.7 413.1,239.1 412.3,235.9" fill="#25bdb6" stroke="#25bdb6"/>
<polygon points="398.5,212.9 399.3,214.8 404.8,212.5 404.0,210.6" fill="#fcd72b" stroke="#fcd72b"/>
<polygon points="404.6,253.6 405.5,256.5 411.0,253.6 410.1,250.7" fill="#2f83f7" stroke="#2f83f7"/>
<polygon points="403.8,250.6 404.6,253.6 410.1,250.7 409.3,247.7" fill="#2692ee" stroke="#2692ee"/>
<polygon points="406.0,235.2 406.8,238.5 412.3,235.9 411.5,232.6" fill="#33c59e" stroke="#33c59e"/>
<polygon points="399.3,214.8 400.2,216.9 405.7,214.6 404.8,212.5" fill="#fdcc32" stroke="#fdcc32"/>
<polygon points="403.0,247.6 403.8,250.6 409.3,247.7 408.5,244.8" fill="#1da0e3" stroke="#1da0e3"/>
<polygon points="400.2,216.9 401.0,219.1 406.5,216.9 405.7,214.6" fill="#f9c438" stroke="#f9c438"/>
<polygon points="392.2,214.1 393.0,215.5 398.5,212.9 397.7,211.5" fill="#fdd62c" stroke="#fdd62c"/>
<polygon points="405.1,232.0 406.0,235.2 411.5,232.6 410.6,229.4" fill="#56c87e" stroke="#56c87e"/>
<polygon points="402.1,244.5 403.0,247.6 408.5,244.8 407.6,241.7" fill="#13afd8" stroke="#13afd8"/>
<polygon points="401.0,219.1 401.8,221.5 407.3,219.1 406.5,216.9" fill="#e6c438" stroke="#e6c438"/>
<polygon points="401.8,221.5 402.7,223.8 408.2,221.4 407.3,219.1" fill="#d2c538" stroke="#d2c538"/>
<polygon points="404.3,228.9 405.1,232.0 410.6,229.4 409.8,226.4" fill="#7fc75c" stroke="#7fc75c"/>
<polygon points="401.3,241.3 402.1,244.5 407.6,241.7 406.8,238.5" fill="#1db8c3" stroke="#1db8c3"/>
<polygon points="402.7,223.8 403.5,226.2 409.0,223.7 408.2,221.4" fill="#bec639" stroke="#bec639"/>
<polygon points="403.5,226.2 404.3,228.9 409.8,226.4 409.0,223.7" fill="#a5c73e" stroke="#a5c73e"/>
<polygon points="393.0,215.5 393.8,217.2 399.3,214.8 398.5,212.9" fill="#fdce31" stroke="#fdce31"/>
<polygon points="400.5,238.0 401.3,241.3 406.8,238.5 406.0,235.2" fill="#2bc1ab" stroke="#2bc1ab"/>
<polygon points="393.8,217.2 394.7,219.3 400.2,216.9 399.3,214.8" fill="#fec438" stroke="#fec438"/>
<polygon points="399.6,234.8 400.5,238.0 406.0,235.2 405.1,232.0" fill="#3ec891" stroke="#3ec891"/>
<polygon points="394.7,219.3 395.5,221.6 401.0,219.1 400.2,216.9" fill="#ecc438" stroke="#ecc438"/>
<polygon points="395.5,221.6 396.3,224.0 401.8,221.5 401.0,219.1" fill="#d8c538" stroke="#d8c538"/>
<polygon points="398.8,231.7 399.6,234.8 405.1,232.0 404.3,228.9" fill="#68c76f" stroke="#68c76f"/>
<polygon points="396.3,224.0 397.2,226.4 402.7,223.8 401.8,221.5" fill="#c3c639" stroke="#c3c639"/>
<polygon points="398.0,228.9 398.8,231.7 404.3,228.9 403.5,226.2" fill="#8fc750" stroke="#8fc750"/>
<polygon points="397.2,226.4 398.0,228.9 403.5,226.2 402.7,223.8" fill="#afc739" stroke="#afc739"/>
</g>
<path class="ax" d="M371.0 244.5L408.5 274.0M408.5 274.0L483.2 256.7M371.0 244.5L371.0 186.5M371.0 244.5L369.4 244.9M378.5 250.4L376.9 250.8M386.0 256.3L384.4 256.7M393.5 262.2L391.9 262.6M401.0 268.1L399.4 268.5M408.5 274.0L406.9 274.4M408.5 274.0L409.8 275.0M423.4 270.5L424.7 271.5M438.4 267.1L439.6 268.1M453.3 263.6L454.6 264.6M468.3 260.2L469.5 261.1M483.2 256.7L484.5 257.7M371.0 244.5L369.4 244.9M371.0 230.0L369.4 230.4M371.0 215.5L369.4 215.9M371.0 201.0L369.4 201.4M371.0 186.5L369.4 186.9"/>
<text class="t e" x="366.5" y="251.6">0</text>
<text class="t e" x="374.0" y="257.5">20</text>
<text class="t e" x="381.5" y="263.4">40</text>
<text class="t e" x="389.0" y="269.3">60</text>
<text class="t e" x="396.5" y="275.2">80</text>
<text class="t e" x="404.0" y="281.1">100</text>
<text class="t" x="409.4" y="283.6">100</text>
<text class="t" x="424.3" y="280.1">80</text>
<text class="t" x="439.3" y="276.7">60</text>
<text class="t" x="454.2" y="273.2">40</text>
<text class="t" x="469.2" y="269.8">20</text>
<text class="t" x="484.1" y="266.3">0</text>
<text class="t e" x="367.4" y="245.7">40</text>
<text class="t e" x="367.4" y="232.2">42</text>
<text class="t e" x="367.4" y="217.7">44</text>
<text class="t e" x="367.4" y="203.2">46</text>
<text class="t e" x="367.4" y="188.7">48</text>
<text class="t m" transform="translate(405.0 172.5) rotate(-12.0)">Scheme G</text>
<text class="t m" x="369.5" y="279.0"><tspan class="i">d</tspan><tspan class="sub" dy="1.5">1</tspan><tspan dy="-1.5"> (µm)</tspan></text>
<text class="t m" x="457.0" y="287.0"><tspan class="i">d</tspan><tspan class="sub" dy="1.5">2</tspan><tspan dy="-1.5"> (µm)</tspan></text>
<text class="t m" transform="translate(350.5 215.0) rotate(-90)">FSO (mV)</text></g>
<g><path class="gr" d="M550.8 242.8L636.8 222.0M636.8 222.0L636.8 160.0M560.2 250.7L646.2 229.9M646.2 229.9L646.2 167.9M569.6 258.6L655.6 237.8M655.6 237.8L655.6 175.8M579.1 266.4L665.1 245.6M665.1 245.6L665.1 183.6M588.5 274.3L674.5 253.5M674.5 253.5L674.5 191.5M550.8 242.8L588.5 274.3M550.8 242.8L550.8 180.8M568.0 238.6L605.7 270.1M568.0 238.6L568.0 176.6M585.2 234.5L622.9 266.0M585.2 234.5L585.2 172.5M602.4 230.3L640.1 261.8M602.4 230.3L602.4 168.3M619.6 226.2L657.3 257.7M619.6 226.2L619.6 164.2M636.8 222.0L674.5 253.5M636.8 222.0L636.8 160.0M550.8 242.8L636.8 222.0M636.8 222.0L674.5 253.5M550.8 232.5L636.8 211.7M636.8 211.7L674.5 243.2M550.8 222.1L636.8 201.3M636.8 201.3L674.5 232.8M550.8 211.8L636.8 191.0M636.8 191.0L674.5 222.5M550.8 201.5L636.8 180.7M636.8 180.7L674.5 212.2M550.8 191.1L636.8 170.3M636.8 170.3L674.5 201.8M550.8 180.8L636.8 160.0M636.8 160.0L674.5 191.5"/>
<g filter="url(#sb)">
<polygon points="634.1,188.0 638.2,190.8 639.9,192.0 635.8,189.2" fill="#6cc76c" stroke="#6cc76c"/>
<polygon points="632.4,186.9 636.5,189.8 638.2,190.8 634.1,188.0" fill="#8ec750" stroke="#8ec750"/>
<polygon points="630.7,185.9 634.8,188.9 636.5,189.8 632.4,186.9" fill="#adc739" stroke="#adc739"/>
<polygon points="629.0,185.1 633.1,188.1 634.8,188.9 630.7,185.9" fill="#c2c639" stroke="#c2c639"/>
<polygon points="627.4,184.3 631.5,187.4 633.1,188.1 629.0,185.1" fill="#d5c538" stroke="#d5c538"/>
<polygon points="625.7,183.6 629.8,186.7 631.5,187.4 627.4,184.3" fill="#e8c438" stroke="#e8c438"/>
<polygon points="638.2,190.8 642.3,193.7 644.0,194.7 639.9,192.0" fill="#79c761" stroke="#79c761"/>
<polygon points="624.0,182.9 628.1,186.0 629.8,186.7 625.7,183.6" fill="#fac338" stroke="#fac338"/>
<polygon points="636.5,189.8 640.6,192.7 642.3,193.7 638.2,190.8" fill="#9ac747" stroke="#9ac747"/>
<polygon points="561.7,228.7 565.8,231.7 567.5,229.5 563.4,226.5" fill="#4030b9" stroke="#4030b9"/>
<polygon points="563.4,226.5 567.5,229.5 569.2,227.3 565.1,224.3" fill="#433fd3" stroke="#433fd3"/>
<polygon points="622.3,182.5 626.4,185.6 628.1,186.0 624.0,182.9" fill="#fecb33" stroke="#fecb33"/>
<polygon points="565.1,224.3 569.2,227.3 570.9,225.2 566.8,222.2" fill="#474eed" stroke="#474eed"/>
<polygon points="634.8,188.9 638.9,191.9 640.6,192.7 636.5,189.8" fill="#b5c639" stroke="#b5c639"/>
<polygon points="620.6,182.2 624.7,185.3 626.4,185.6 622.3,182.5" fill="#fdd32e" stroke="#fdd32e"/>
<polygon points="566.8,222.2 570.9,225.2 572.6,223.1 568.5,220.1" fill="#415ff5" stroke="#415ff5"/>
<polygon points="568.5,220.1 572.6,223.1 574.2,221.0 570.1,218.0" fill="#3971f6" stroke="#3971f6"/>
<polygon points="618.9,182.2 623.0,185.2 624.7,185.3 620.6,182.2" fill="#fcd92a" stroke="#fcd92a"/>
<polygon points="633.1,188.1 637.2,191.1 638.9,191.9 634.8,188.9" fill="#c9c639" stroke="#c9c639"/>
<polygon points="570.1,218.0 574.2,221.0 575.9,218.9 571.8,215.9" fill="#3082f7" stroke="#3082f7"/>
<polygon points="617.3,182.2 621.4,185.3 623.0,185.2 618.9,182.2" fill="#fcde27" stroke="#fcde27"/>
<polygon points="571.8,215.9 575.9,218.9 577.6,216.9 573.5,213.9" fill="#2790f0" stroke="#2790f0"/>
<polygon points="631.5,187.4 635.6,190.4 637.2,191.1 633.1,188.1" fill="#dcc538" stroke="#dcc538"/>
<polygon points="573.5,213.9 577.6,216.9 579.3,214.9 575.2,211.9" fill="#1e9ee5" stroke="#1e9ee5"/>
<polygon points="615.6,182.3 619.7,185.3 621.4,185.3 617.3,182.2" fill="#fbe225" stroke="#fbe225"/>
<polygon points="575.2,211.9 579.3,214.9 581.0,212.9 576.9,209.9" fill="#16abdb" stroke="#16abdb"/>
<polygon points="613.9,182.4 618.0,185.5 619.7,185.3 615.6,182.3" fill="#fbe523" stroke="#fbe523"/>
<polygon points="576.9,209.9 581.0,212.9 582.7,210.9 578.6,207.9" fill="#18b5cc" stroke="#18b5cc"/>
<polygon points="629.8,186.7 633.9,189.8 635.6,190.4 631.5,187.4" fill="#eec438" stroke="#eec438"/>
<polygon points="612.2,182.7 616.3,185.7 618.0,185.5 613.9,182.4" fill="#fbe721" stroke="#fbe721"/>
<polygon points="578.6,207.9 582.7,210.9 584.3,209.0 580.2,205.9" fill="#23bcb8" stroke="#23bcb8"/>
<polygon points="642.3,193.7 646.4,196.6 648.1,197.5 644.0,194.7" fill="#87c756" stroke="#87c756"/>
<polygon points="580.2,205.9 584.3,209.0 586.0,207.1 581.9,204.0" fill="#2fc3a5" stroke="#2fc3a5"/>
<polygon points="610.5,183.0 614.6,186.1 616.3,185.7 612.2,182.7" fill="#fbe920" stroke="#fbe920"/>
<polygon points="628.1,186.0 632.2,189.2 633.9,189.8 629.8,186.7" fill="#fec438" stroke="#fec438"/>
<polygon points="581.9,204.0 586.0,207.1 587.7,205.2 583.6,202.2" fill="#3ec892" stroke="#3ec892"/>
<polygon points="608.8,183.5 612.9,186.6 614.6,186.1 610.5,183.0" fill="#fbe820" stroke="#fbe820"/>
<polygon points="583.6,202.2 587.7,205.2 589.4,203.5 585.3,200.4" fill="#5dc878" stroke="#5dc878"/>
<polygon points="640.6,192.7 644.7,195.7 646.4,196.6 642.3,193.7" fill="#a6c73d" stroke="#a6c73d"/>
<polygon points="565.8,231.7 569.9,234.7 571.6,232.5 567.5,229.5" fill="#4134bf" stroke="#4134bf"/>
<polygon points="607.2,184.2 611.3,187.2 612.9,186.6 608.8,183.5" fill="#fbe622" stroke="#fbe622"/>
<polygon points="585.3,200.4 589.4,203.5 591.1,201.9 587.0,198.8" fill="#7bc760" stroke="#7bc760"/>
<polygon points="605.5,184.9 609.6,188.0 611.3,187.2 607.2,184.2" fill="#fbe324" stroke="#fbe324"/>
<polygon points="587.0,198.8 591.1,201.9 592.8,200.2 588.7,197.1" fill="#97c749" stroke="#97c749"/>
<polygon points="626.4,185.6 630.5,188.7 632.2,189.2 628.1,186.0" fill="#fdce31" stroke="#fdce31"/>
<polygon points="567.5,229.5 571.6,232.5 573.3,230.3 569.2,227.3" fill="#4443da" stroke="#4443da"/>
<polygon points="603.8,185.8 607.9,188.9 609.6,188.0 605.5,184.9" fill="#fcdf27" stroke="#fcdf27"/>
<polygon points="588.7,197.1 592.8,200.2 594.4,198.6 590.3,195.5" fill="#b1c739" stroke="#b1c739"/>
<polygon points="602.1,186.7 606.2,189.8 607.9,188.9 603.8,185.8" fill="#fcd92a" stroke="#fcd92a"/>
<polygon points="590.3,195.5 594.4,198.6 596.1,197.0 592.0,193.9" fill="#c4c639" stroke="#c4c639"/>
<polygon points="600.4,187.6 604.5,190.7 606.2,189.8 602.1,186.7" fill="#fdd42e" stroke="#fdd42e"/>
<polygon points="592.0,193.9 596.1,197.0 597.8,195.5 593.7,192.4" fill="#d6c538" stroke="#d6c538"/>
<polygon points="598.7,188.6 602.8,191.7 604.5,190.7 600.4,187.6" fill="#fdce31" stroke="#fdce31"/>
<polygon points="569.2,227.3 573.3,230.3 575.0,228.2 570.9,225.2" fill="#4852f4" stroke="#4852f4"/>
<polygon points="593.7,192.4 597.8,195.5 599.5,194.1 595.4,191.0" fill="#e7c438" stroke="#e7c438"/>
<polygon points="638.9,191.9 643.0,194.9 644.7,195.7 640.6,192.7" fill="#bcc639" stroke="#bcc639"/>
<polygon points="597.1,189.7 601.2,192.9 602.8,191.7 598.7,188.6" fill="#fec736" stroke="#fec736"/>
<polygon points="595.4,191.0 599.5,194.1 601.2,192.9 597.1,189.7" fill="#f7c438" stroke="#f7c438"/>
<polygon points="624.7,185.3 628.8,188.4 630.5,188.7 626.4,185.6" fill="#fcd72c" stroke="#fcd72c"/>
<polygon points="570.9,225.2 575.0,228.2 576.7,226.1 572.6,223.1" fill="#3f64f5" stroke="#3f64f5"/>
<polygon points="572.6,223.1 576.7,226.1 578.3,224.0 574.2,221.0" fill="#3675f6" stroke="#3675f6"/>
<polygon points="623.0,185.2 627.1,188.3 628.8,188.4 624.7,185.3" fill="#fcdd28" stroke="#fcdd28"/>
<polygon points="637.2,191.1 641.3,194.2 643.0,194.9 638.9,191.9" fill="#d0c538" stroke="#d0c538"/>
<polygon points="574.2,221.0 578.3,224.0 580.0,222.0 575.9,218.9" fill="#2e86f7" stroke="#2e86f7"/>
<polygon points="621.4,185.3 625.5,188.3 627.1,188.3 623.0,185.2" fill="#fbe225" stroke="#fbe225"/>
<polygon points="575.9,218.9 580.0,222.0 581.7,219.9 577.6,216.9" fill="#2594ed" stroke="#2594ed"/>
<polygon points="635.6,190.4 639.7,193.5 641.3,194.2 637.2,191.1" fill="#e2c438" stroke="#e2c438"/>
<polygon points="577.6,216.9 581.7,219.9 583.4,218.0 579.3,214.9" fill="#1ca1e3" stroke="#1ca1e3"/>
<polygon points="619.7,185.3 623.8,188.4 625.5,188.3 621.4,185.3" fill="#fbe622" stroke="#fbe622"/>
<polygon points="579.3,214.9 583.4,218.0 585.1,216.0 581.0,212.9" fill="#14aed8" stroke="#14aed8"/>
<polygon points="618.0,185.5 622.1,188.5 623.8,188.4 619.7,185.3" fill="#fbe920" stroke="#fbe920"/>
<polygon points="581.0,212.9 585.1,216.0 586.8,214.0 582.7,210.9" fill="#1bb7c7" stroke="#1bb7c7"/>
<polygon points="633.9,189.8 638.0,192.9 639.7,193.5 635.6,190.4" fill="#f3c438" stroke="#f3c438"/>
<polygon points="616.3,185.7 620.4,188.8 622.1,188.5 618.0,185.5" fill="#fbeb1e" stroke="#fbeb1e"/>
<polygon points="582.7,210.9 586.8,214.0 588.4,212.0 584.3,209.0" fill="#26beb4" stroke="#26beb4"/>
<polygon points="646.4,196.6 650.5,199.4 652.2,200.3 648.1,197.5" fill="#95c74b" stroke="#95c74b"/>
<polygon points="584.3,209.0 588.4,212.0 590.1,210.2 586.0,207.1" fill="#31c4a1" stroke="#31c4a1"/>
<polygon points="614.6,186.1 618.7,189.1 620.4,188.8 616.3,185.7" fill="#faed1e" stroke="#faed1e"/>
<polygon points="632.2,189.2 636.3,192.3 638.0,192.9 633.9,189.8" fill="#fec736" stroke="#fec736"/>
<polygon points="586.0,207.1 590.1,210.2 591.8,208.3 587.7,205.2" fill="#46c88b" stroke="#46c88b"/>
<polygon points="612.9,186.6 617.0,189.7 618.7,189.1 614.6,186.1" fill="#faec1e" stroke="#faec1e"/>
<polygon points="587.7,205.2 591.8,208.3 593.5,206.6 589.4,203.5" fill="#65c772" stroke="#65c772"/>
<polygon points="569.9,234.7 574.0,237.7 575.7,235.5 571.6,232.5" fill="#4237c6" stroke="#4237c6"/>
<polygon points="611.3,187.2 615.4,190.3 617.0,189.7 612.9,186.6" fill="#fbea1f" stroke="#fbea1f"/>
<polygon points="644.7,195.7 648.8,198.6 650.5,199.4 646.4,196.6" fill="#b0c739" stroke="#b0c739"/>
<polygon points="589.4,203.5 593.5,206.6 595.2,204.9 591.1,201.9" fill="#82c75a" stroke="#82c75a"/>
<polygon points="609.6,188.0 613.7,191.1 615.4,190.3 611.3,187.2" fill="#fbe721" stroke="#fbe721"/>
<polygon points="591.1,201.9 595.2,204.9 596.9,203.3 592.8,200.2" fill="#9ec743" stroke="#9ec743"/>
<polygon points="630.5,188.7 634.6,191.8 636.3,192.3 632.2,189.2" fill="#fdd22f" stroke="#fdd22f"/>
<polygon points="592.8,200.2 596.9,203.3 598.5,201.7 594.4,198.6" fill="#b6c639" stroke="#b6c639"/>
<polygon points="607.9,188.9 612.0,192.0 613.7,191.1 609.6,188.0" fill="#fbe224" stroke="#fbe224"/>
<polygon points="571.6,232.5 575.7,235.5 577.4,233.3 573.3,230.3" fill="#4547e0" stroke="#4547e0"/>
<polygon points="606.2,189.8 610.3,192.9 612.0,192.0 607.9,188.9" fill="#fcdd28" stroke="#fcdd28"/>
<polygon points="594.4,198.6 598.5,201.7 600.2,200.2 596.1,197.0" fill="#c9c639" stroke="#c9c639"/>
<polygon points="604.5,190.7 608.6,193.8 610.3,192.9 606.2,189.8" fill="#fcd72b" stroke="#fcd72b"/>
<polygon points="596.1,197.0 600.2,200.2 601.9,198.7 597.8,195.5" fill="#dbc538" stroke="#dbc538"/>
<polygon points="602.8,191.7 607.0,194.9 608.6,193.8 604.5,190.7" fill="#fdd12f" stroke="#fdd12f"/>
<polygon points="597.8,195.5 601.9,198.7 603.6,197.3 599.5,194.1" fill="#ecc438" stroke="#ecc438"/>
<polygon points="573.3,230.3 577.4,233.3 579.1,231.2 575.0,228.2" fill="#4656f4" stroke="#4656f4"/>
<polygon points="601.2,192.9 605.3,196.0 607.0,194.9 602.8,191.7" fill="#feca34" stroke="#feca34"/>
<polygon points="599.5,194.1 603.6,197.3 605.3,196.0 601.2,192.9" fill="#fbc338" stroke="#fbc338"/>
<polygon points="643.0,194.9 647.1,197.9 648.8,198.6 644.7,195.7" fill="#c4c639" stroke="#c4c639"/>
<polygon points="628.8,188.4 632.9,191.4 634.6,191.8 630.5,188.7" fill="#fcdb29" stroke="#fcdb29"/>
<polygon points="575.0,228.2 579.1,231.2 580.8,229.1 576.7,226.1" fill="#3d68f5" stroke="#3d68f5"/>
<polygon points="576.7,226.1 580.8,229.1 582.4,227.0 578.3,224.0" fill="#347af6" stroke="#347af6"/>
<polygon points="627.1,188.3 631.2,191.3 632.9,191.4 628.8,188.4" fill="#fbe125" stroke="#fbe125"/>
<polygon points="641.3,194.2 645.4,197.2 647.1,197.9 643.0,194.9" fill="#d6c538" stroke="#d6c538"/>
<polygon points="578.3,224.0 582.4,227.0 584.1,225.0 580.0,222.0" fill="#2c8af5" stroke="#2c8af5"/>
<polygon points="625.5,188.3 629.6,191.3 631.2,191.3 627.1,188.3" fill="#fbe622" stroke="#fbe622"/>
<polygon points="580.0,222.0 584.1,225.0 585.8,223.0 581.7,219.9" fill="#2397ea" stroke="#2397ea"/>
<polygon points="639.7,193.5 643.8,196.6 645.4,197.2 641.3,194.2" fill="#e8c438" stroke="#e8c438"/>
<polygon points="581.7,219.9 585.8,223.0 587.5,221.0 583.4,218.0" fill="#1aa4e0" stroke="#1aa4e0"/>
<polygon points="623.8,188.4 627.9,191.4 629.6,191.3 625.5,188.3" fill="#fbea1f" stroke="#fbea1f"/>
<polygon points="583.4,218.0 587.5,221.0 589.2,219.0 585.1,216.0" fill="#12b1d6" stroke="#12b1d6"/>
<polygon points="622.1,188.5 626.2,191.6 627.9,191.4 623.8,188.4" fill="#faed1d" stroke="#faed1d"/>
<polygon points="585.1,216.0 589.2,219.0 590.9,217.1 586.8,214.0" fill="#1db8c2" stroke="#1db8c2"/>
<polygon points="638.0,192.9 642.1,196.0 643.8,196.6 639.7,193.5" fill="#f9c438" stroke="#f9c438"/>
<polygon points="586.8,214.0 590.9,217.1 592.5,215.1 588.4,212.0" fill="#29bfaf" stroke="#29bfaf"/>
<polygon points="620.4,188.8 624.5,191.8 626.2,191.6 622.1,188.5" fill="#faf01c" stroke="#faf01c"/>
<polygon points="650.5,199.4 654.6,202.3 656.3,203.1 652.2,200.3" fill="#a3c740" stroke="#a3c740"/>
<polygon points="588.4,212.0 592.5,215.1 594.2,213.2 590.1,210.2" fill="#34c69d" stroke="#34c69d"/>
<polygon points="618.7,189.1 622.8,192.2 624.5,191.8 620.4,188.8" fill="#faf11b" stroke="#faf11b"/>
<polygon points="636.3,192.3 640.4,195.4 642.1,196.0 638.0,192.9" fill="#fecb33" stroke="#fecb33"/>
<polygon points="590.1,210.2 594.2,213.2 595.9,211.4 591.8,208.3" fill="#4dc885" stroke="#4dc885"/>
<polygon points="617.0,189.7 621.2,192.7 622.8,192.2 618.7,189.1" fill="#faf01b" stroke="#faf01b"/>
<polygon points="591.8,208.3 595.9,211.4 597.6,209.7 593.5,206.6" fill="#6dc76c" stroke="#6dc76c"/>
<polygon points="615.4,190.3 619.5,193.4 621.2,192.7 617.0,189.7" fill="#faee1d" stroke="#faee1d"/>
<polygon points="574.0,237.7 578.1,240.7 579.8,238.5 575.7,235.5" fill="#423bcc" stroke="#423bcc"/>
<polygon points="593.5,206.6 597.6,209.7 599.3,208.0 595.2,204.9" fill="#8ac754" stroke="#8ac754"/>
<polygon points="648.8,198.6 652.9,201.6 654.6,202.3 650.5,199.4" fill="#b9c639" stroke="#b9c639"/>
<polygon points="595.2,204.9 599.3,208.0 601.0,206.4 596.9,203.3" fill="#a6c73d" stroke="#a6c73d"/>
<polygon points="613.7,191.1 617.8,194.2 619.5,193.4 615.4,190.3" fill="#fbea1f" stroke="#fbea1f"/>
<polygon points="634.6,191.8 638.7,194.9 640.4,195.4 636.3,192.3" fill="#fdd52d" stroke="#fdd52d"/>
<polygon points="596.9,203.3 601.0,206.4 602.6,204.9 598.5,201.7" fill="#bbc639" stroke="#bbc639"/>
<polygon points="612.0,192.0 616.1,195.1 617.8,194.2 613.7,191.1" fill="#fbe622" stroke="#fbe622"/>
<polygon points="575.7,235.5 579.8,238.5 581.5,236.3 577.4,233.3" fill="#464ae7" stroke="#464ae7"/>
<polygon points="598.5,201.7 602.6,204.9 604.3,203.3 600.2,200.2" fill="#cdc538" stroke="#cdc538"/>
<polygon points="610.3,192.9 614.4,196.0 616.1,195.1 612.0,192.0" fill="#fce025" stroke="#fce025"/>
<polygon points="600.2,200.2 604.3,203.3 606.0,201.9 601.9,198.7" fill="#dfc538" stroke="#dfc538"/>
<polygon points="608.6,193.8 612.7,197.0 614.4,196.0 610.3,192.9" fill="#fcdb29" stroke="#fcdb29"/>
<polygon points="601.9,198.7 606.0,201.9 607.7,200.5 603.6,197.3" fill="#f0c438" stroke="#f0c438"/>
<polygon points="607.0,194.9 611.1,198.0 612.7,197.0 608.6,193.8" fill="#fdd42d" stroke="#fdd42d"/>
<polygon points="603.6,197.3 607.7,200.5 609.4,199.2 605.3,196.0" fill="#fec438" stroke="#fec438"/>
<polygon points="605.3,196.0 609.4,199.2 611.1,198.0 607.0,194.9" fill="#fdcd32" stroke="#fdcd32"/>
<polygon points="577.4,233.3 581.5,236.3 583.2,234.2 579.1,231.2" fill="#435bf5" stroke="#435bf5"/>
<polygon points="647.1,197.9 651.2,200.9 652.9,201.6 648.8,198.6" fill="#cbc539" stroke="#cbc539"/>
<polygon points="632.9,191.4 637.0,194.5 638.7,194.9 634.6,191.8" fill="#fcde27" stroke="#fcde27"/>
<polygon points="579.1,231.2 583.2,234.2 584.9,232.1 580.8,229.1" fill="#3b6df6" stroke="#3b6df6"/>
<polygon points="580.8,229.1 584.9,232.1 586.5,230.0 582.4,227.0" fill="#327ef6" stroke="#327ef6"/>
<polygon points="631.2,191.3 635.3,194.3 637.0,194.5 632.9,191.4" fill="#fbe522" stroke="#fbe522"/>
<polygon points="645.4,197.2 649.5,200.2 651.2,200.9 647.1,197.9" fill="#ddc538" stroke="#ddc538"/>
<polygon points="582.4,227.0 586.5,230.0 588.2,228.0 584.1,225.0" fill="#298df2" stroke="#298df2"/>
<polygon points="629.6,191.3 633.7,194.4 635.3,194.3 631.2,191.3" fill="#fbea1f" stroke="#fbea1f"/>
<polygon points="584.1,225.0 588.2,228.0 589.9,226.0 585.8,223.0" fill="#209be8" stroke="#209be8"/>
<polygon points="643.8,196.6 647.9,199.6 649.5,200.2 645.4,197.2" fill="#eec438" stroke="#eec438"/>
<polygon points="585.8,223.0 589.9,226.0 591.6,224.0 587.5,221.0" fill="#18a8dd" stroke="#18a8dd"/>
<polygon points="627.9,191.4 632.0,194.5 633.7,194.4 629.6,191.3" fill="#faee1d" stroke="#faee1d"/>
<polygon points="587.5,221.0 591.6,224.0 593.3,222.1 589.2,219.0" fill="#15b3d1" stroke="#15b3d1"/>
<polygon points="626.2,191.6 630.3,194.6 632.0,194.5 627.9,191.4" fill="#faf11b" stroke="#faf11b"/>
<polygon points="589.2,219.0 593.3,222.1 595.0,220.1 590.9,217.1" fill="#20babe" stroke="#20babe"/>
<polygon points="642.1,196.0 646.2,199.1 647.9,199.6 643.8,196.6" fill="#fec338" stroke="#fec338"/>
<polygon points="590.9,217.1 595.0,220.1 596.6,218.2 592.5,215.1" fill="#2bc1ab" stroke="#2bc1ab"/>
<polygon points="624.5,191.8 628.6,194.9 630.3,194.6 626.2,191.6" fill="#faf419" stroke="#faf419"/>
<polygon points="592.5,215.1 596.6,218.2 598.3,216.3 594.2,213.2" fill="#36c798" stroke="#36c798"/>
<polygon points="622.8,192.2 626.9,195.2 628.6,194.9 624.5,191.8" fill="#faf518" stroke="#faf518"/>
<polygon points="640.4,195.4 644.5,198.5 646.2,199.1 642.1,196.0" fill="#fdce31" stroke="#fdce31"/>
<polygon points="594.2,213.2 598.3,216.3 600.0,214.5 595.9,211.4" fill="#55c87f" stroke="#55c87f"/>
<polygon points="621.2,192.7 625.3,195.8 626.9,195.2 622.8,192.2" fill="#faf419" stroke="#faf419"/>
<polygon points="595.9,211.4 600.0,214.5 601.7,212.8 597.6,209.7" fill="#75c765" stroke="#75c765"/>
<polygon points="619.5,193.4 623.6,196.5 625.3,195.8 621.2,192.7" fill="#faf21a" stroke="#faf21a"/>
<polygon points="597.6,209.7 601.7,212.8 603.4,211.1 599.3,208.0" fill="#92c74d" stroke="#92c74d"/>
<polygon points="578.1,240.7 582.2,243.7 583.9,241.5 579.8,238.5" fill="#433fd3" stroke="#433fd3"/>
<polygon points="599.3,208.0 603.4,211.1 605.1,209.5 601.0,206.4" fill="#adc739" stroke="#adc739"/>
<polygon points="617.8,194.2 621.9,197.3 623.6,196.5 619.5,193.4" fill="#faee1d" stroke="#faee1d"/>
<polygon points="638.7,194.9 642.8,198.0 644.5,198.5 640.4,195.4" fill="#fcd92a" stroke="#fcd92a"/>
<polygon points="601.0,206.4 605.1,209.5 606.7,208.0 602.6,204.9" fill="#c0c639" stroke="#c0c639"/>
<polygon points="616.1,195.1 620.2,198.2 621.9,197.3 617.8,194.2" fill="#fbe920" stroke="#fbe920"/>
<polygon points="579.8,238.5 583.9,241.5 585.6,239.3 581.5,236.3" fill="#474eed" stroke="#474eed"/>
<polygon points="602.6,204.9 606.7,208.0 608.4,206.5 604.3,203.3" fill="#d2c538" stroke="#d2c538"/>
<polygon points="614.4,196.0 618.5,199.1 620.2,198.2 616.1,195.1" fill="#fbe423" stroke="#fbe423"/>
<polygon points="604.3,203.3 608.4,206.5 610.1,205.0 606.0,201.9" fill="#e4c438" stroke="#e4c438"/>
<polygon points="612.7,197.0 616.8,200.1 618.5,199.1 614.4,196.0" fill="#fcde27" stroke="#fcde27"/>
<polygon points="606.0,201.9 610.1,205.0 611.8,203.6 607.7,200.5" fill="#f4c438" stroke="#f4c438"/>
<polygon points="611.1,198.0 615.2,201.1 616.8,200.1 612.7,197.0" fill="#fcd82b" stroke="#fcd82b"/>
<polygon points="607.7,200.5 611.8,203.6 613.5,202.3 609.4,199.2" fill="#fec736" stroke="#fec736"/>
<polygon points="609.4,199.2 613.5,202.3 615.2,201.1 611.1,198.0" fill="#fdd030" stroke="#fdd030"/>
<polygon points="581.5,236.3 585.6,239.3 587.3,237.2 583.2,234.2" fill="#415ff5" stroke="#415ff5"/>
<polygon points="637.0,194.5 641.1,197.5 642.8,198.0 638.7,194.9" fill="#fbe224" stroke="#fbe224"/>
<polygon points="583.2,234.2 587.3,237.2 589.0,235.1 584.9,232.1" fill="#3871f6" stroke="#3871f6"/>
<polygon points="584.9,232.1 589.0,235.1 590.6,233.0 586.5,230.0" fill="#3082f7" stroke="#3082f7"/>
<polygon points="635.3,194.3 639.5,197.4 641.1,197.5 637.0,194.5" fill="#fbea20" stroke="#fbea20"/>
<polygon points="586.5,230.0 590.6,233.0 592.3,231.0 588.2,228.0" fill="#2791ef" stroke="#2791ef"/>
<polygon points="633.7,194.4 637.8,197.4 639.5,197.4 635.3,194.3" fill="#faef1c" stroke="#faef1c"/>
<polygon points="588.2,228.0 592.3,231.0 594.0,229.0 589.9,226.0" fill="#1e9ee5" stroke="#1e9ee5"/>
<polygon points="589.9,226.0 594.0,229.0 595.7,227.0 591.6,224.0" fill="#16abdb" stroke="#16abdb"/>
<polygon points="632.0,194.5 636.1,197.5 637.8,197.4 633.7,194.4" fill="#faf21a" stroke="#faf21a"/>
<polygon points="591.6,224.0 595.7,227.0 597.4,225.1 593.3,222.1" fill="#17b5cc" stroke="#17b5cc"/>
<polygon points="630.3,194.6 634.4,197.7 636.1,197.5 632.0,194.5" fill="#faf618" stroke="#faf618"/>
<polygon points="593.3,222.1 597.4,225.1 599.1,223.2 595.0,220.1" fill="#23bcb9" stroke="#23bcb9"/>
<polygon points="595.0,220.1 599.1,223.2 600.7,221.3 596.6,218.2" fill="#2ec2a6" stroke="#2ec2a6"/>
<polygon points="628.6,194.9 632.7,197.9 634.4,197.7 630.3,194.6" fill="#f9f817" stroke="#f9f817"/>
<polygon points="596.6,218.2 600.7,221.3 602.4,219.4 598.3,216.3" fill="#3cc893" stroke="#3cc893"/>
<polygon points="626.9,195.2 631.0,198.3 632.7,197.9 628.6,194.9" fill="#f9f916" stroke="#f9f916"/>
<polygon points="598.3,216.3 602.4,219.4 604.1,217.6 600.0,214.5" fill="#5dc878" stroke="#5dc878"/>
<polygon points="625.3,195.8 629.4,198.9 631.0,198.3 626.9,195.2" fill="#f9f816" stroke="#f9f816"/>
<polygon points="600.0,214.5 604.1,217.6 605.8,215.8 601.7,212.8" fill="#7cc75f" stroke="#7cc75f"/>
<polygon points="623.6,196.5 627.7,199.6 629.4,198.9 625.3,195.8" fill="#faf618" stroke="#faf618"/>
<polygon points="601.7,212.8 605.8,215.8 607.5,214.2 603.4,211.1" fill="#9ac747" stroke="#9ac747"/>
<polygon points="603.4,211.1 607.5,214.2 609.2,212.6 605.1,209.5" fill="#b2c639" stroke="#b2c639"/>
<polygon points="621.9,197.3 626.0,200.4 627.7,199.6 623.6,196.5" fill="#faf21a" stroke="#faf21a"/>
<polygon points="605.1,209.5 609.2,212.6 610.8,211.1 606.7,208.0" fill="#c5c639" stroke="#c5c639"/>
<polygon points="620.2,198.2 624.3,201.3 626.0,200.4 621.9,197.3" fill="#faed1e" stroke="#faed1e"/>
<polygon points="606.7,208.0 610.8,211.1 612.5,209.6 608.4,206.5" fill="#d7c538" stroke="#d7c538"/>
<polygon points="618.5,199.1 622.6,202.2 624.3,201.3 620.2,198.2" fill="#fbe721" stroke="#fbe721"/>
<polygon points="608.4,206.5 612.5,209.6 614.2,208.2 610.1,205.0" fill="#e8c438" stroke="#e8c438"/>
<polygon points="616.8,200.1 620.9,203.2 622.6,202.2 618.5,199.1" fill="#fbe225" stroke="#fbe225"/>
<polygon points="610.1,205.0 614.2,208.2 615.9,206.8 611.8,203.6" fill="#f9c438" stroke="#f9c438"/>
<polygon points="615.2,201.1 619.3,204.3 620.9,203.2 616.8,200.1" fill="#fcdb29" stroke="#fcdb29"/>
<polygon points="611.8,203.6 615.9,206.8 617.6,205.5 613.5,202.3" fill="#feca34" stroke="#feca34"/>
<polygon points="613.5,202.3 617.6,205.5 619.3,204.3 615.2,201.1" fill="#fdd32e" stroke="#fdd32e"/>
</g>
<path class="ax" d="M550.8 242.8L588.5 274.3M588.5 274.3L674.5 253.5M550.8 242.8L550.8 180.8M550.8 242.8L549.2 243.2M560.2 250.7L558.7 251.1M569.6 258.6L568.1 258.9M579.1 266.4L577.5 266.8M588.5 274.3L586.9 274.7M588.5 274.3L589.7 275.3M605.7 270.1L606.9 271.2M622.9 266.0L624.1 267.0M640.1 261.8L641.3 262.8M657.3 257.7L658.5 258.7M674.5 253.5L675.7 254.5M550.8 242.8L549.2 243.2M550.8 232.5L549.2 232.8M550.8 222.1L549.2 222.5M550.8 211.8L549.2 212.2M550.8 201.5L549.2 201.8M550.8 191.1L549.2 191.5M550.8 180.8L549.2 181.2"/>
<text class="t e" x="546.7" y="249.8">40</text>
<text class="t e" x="556.1" y="257.7">60</text>
<text class="t e" x="565.5" y="265.6">80</text>
<text class="t e" x="575.0" y="273.4">100</text>
<text class="t e" x="584.4" y="281.3">120</text>
<text class="t" x="591.0" y="284.0">100</text>
<text class="t" x="608.2" y="279.8">80</text>
<text class="t" x="625.4" y="275.7">60</text>
<text class="t" x="642.6" y="271.5">40</text>
<text class="t" x="659.8" y="267.4">20</text>
<text class="t" x="677.0" y="263.2">0</text>
<text class="t e" x="547.2" y="244.0">44</text>
<text class="t e" x="547.2" y="234.7">46</text>
<text class="t e" x="547.2" y="224.3">48</text>
<text class="t e" x="547.2" y="214.0">50</text>
<text class="t e" x="547.2" y="203.7">52</text>
<text class="t e" x="547.2" y="193.3">54</text>
<text class="t e" x="547.2" y="183.0">56</text>
<text class="t m" transform="translate(590.0 169.0) rotate(-12.0)">Scheme H</text>
<text class="t m" x="542.5" y="274.5"><tspan class="i">d</tspan><tspan class="sub" dy="1.5">3</tspan><tspan dy="-1.5"> (µm)</tspan></text>
<text class="t m" x="641.5" y="284.0"><tspan class="i">d</tspan><tspan class="sub" dy="1.5">2</tspan><tspan dy="-1.5"> (µm)</tspan></text>
<text class="t m" transform="translate(530.0 212.0) rotate(-90)">FSO (mV)</text></g>
<defs>
<filter id="bl1" x="-20%" y="-20%" width="140%" height="140%"><feGaussianBlur stdDeviation="1.1"/></filter>
<filter id="bl2" x="-30%" y="-30%" width="160%" height="160%"><feGaussianBlur stdDeviation="2.2"/></filter>
<filter id="bw" x="-5%" y="-5%" width="110%" height="110%"><feGaussianBlur stdDeviation="0.35"/></filter>
<radialGradient id="mc1" gradientUnits="objectBoundingBox" cx=".5" cy=".5" r=".5">
<stop offset="0" stop-color="#8868ac"/><stop offset=".1" stop-color="#7f6ea6"/><stop offset=".28" stop-color="#3d7c5e"/>
<stop offset=".4" stop-color="#64aa86"/><stop offset=".5" stop-color="#7ac49b"/><stop offset=".585" stop-color="#64ac88"/><stop offset=".655" stop-color="#35785a"/><stop offset=".69" stop-color="#5b5c9c"/>
<stop offset=".73" stop-color="#8448ba"/><stop offset=".762" stop-color="#6a5ca2"/><stop offset=".79" stop-color="#3f8562"/>
<stop offset=".83" stop-color="#80c2a1"/><stop offset=".9" stop-color="#d2f3d9"/><stop offset=".94" stop-color="#e4fce5"/><stop offset="1" stop-color="#e4fce5"/>
</radialGradient>
<radialGradient id="mc2" gradientUnits="objectBoundingBox" cx=".5" cy=".5" r=".5">
<stop offset="0" stop-color="#8230be"/><stop offset=".18" stop-color="#843ab9"/><stop offset=".3" stop-color="#74689c"/>
<stop offset=".37" stop-color="#4d8c6e"/><stop offset=".47" stop-color="#62aa86"/><stop offset=".56" stop-color="#5a9f7d"/><stop offset=".62" stop-color="#45806a"/><stop offset=".665" stop-color="#6e4aa8"/>
<stop offset=".715" stop-color="#8424c4"/><stop offset=".765" stop-color="#7c2cbc"/><stop offset=".79" stop-color="#4f6a84"/><stop offset=".81" stop-color="#3f8562"/>
<stop offset=".85" stop-color="#80c2a1"/><stop offset=".91" stop-color="#d2f3d9"/><stop offset=".95" stop-color="#e4fce5"/><stop offset="1" stop-color="#e4fce5"/>
</radialGradient>
<radialGradient id="pc1"><stop offset="0" stop-color="#8a5cb6"/><stop offset=".5" stop-color="#8468b0" stop-opacity=".7"/><stop offset="1" stop-color="#7a80a0" stop-opacity="0"/></radialGradient>
<radialGradient id="pc2"><stop offset="0" stop-color="#8030c0"/><stop offset=".55" stop-color="#8038bc" stop-opacity=".85"/><stop offset="1" stop-color="#7860a8" stop-opacity="0"/></radialGradient>
<filter id="bl4" x="-10%" y="-10%" width="120%" height="120%"><feGaussianBlur stdDeviation="0.5"/></filter>
<filter id="bl3" x="-40%" y="-40%" width="180%" height="180%"><feGaussianBlur stdDeviation="0.65"/></filter>
<linearGradient id="gs" x1="0" y1="0" x2="0" y2="1">
<stop offset="0" stop-color="#2a12a0"/><stop offset=".18" stop-color="#5a1cb4"/><stop offset=".38" stop-color="#8a2cc0"/>
<stop offset=".55" stop-color="#6d6a8c"/><stop offset=".68" stop-color="#3f7c5e"/><stop offset=".85" stop-color="#a9d9bd"/><stop offset="1" stop-color="#ecfdee"/>
</linearGradient>
<linearGradient id="gv" x1="0" y1="0" x2="0" y2="1">
<stop offset="0" stop-color="#f01000"/><stop offset=".12" stop-color="#ff4000"/><stop offset=".26" stop-color="#ffb000"/><stop offset=".36" stop-color="#f4f400"/>
<stop offset=".5" stop-color="#80ff80"/><stop offset=".64" stop-color="#00f0f0"/><stop offset=".78" stop-color="#0080ff"/><stop offset=".9" stop-color="#0010ff"/><stop offset="1" stop-color="#0000e0"/>
</linearGradient>
<linearGradient id="co2" x1="0" y1="0" x2="1" y2="1"><stop offset="0" stop-color="#c01030"/><stop offset=".45" stop-color="#f06020"/><stop offset=".7" stop-color="#e8c050"/><stop offset="1" stop-color="#9040b0"/></linearGradient>
<linearGradient id="cb3" x1="0" y1="0" x2="1" y2="1"><stop offset="0" stop-color="#6040c0"/><stop offset=".4" stop-color="#2050f0"/><stop offset=".8" stop-color="#30a0f0"/><stop offset="1" stop-color="#60c0e0"/></linearGradient>
<linearGradient id="co"><stop offset="0" stop-color="#c03000"/><stop offset=".5" stop-color="#ff9000"/><stop offset="1" stop-color="#d0e060"/></linearGradient>
<linearGradient id="cb2"><stop offset="0" stop-color="#30a0ff"/><stop offset=".5" stop-color="#1040ff"/><stop offset="1" stop-color="#0000a0"/></linearGradient>
<linearGradient id="cb"><stop offset="0" stop-color="#40c0ff"/><stop offset=".6" stop-color="#1040ff"/><stop offset="1" stop-color="#0000a0"/></linearGradient>
<linearGradient id="cr"><stop offset="0" stop-color="#ff8000"/><stop offset=".5" stop-color="#ff2000"/><stop offset="1" stop-color="#a00000"/></linearGradient>
</defs>
<text class="b" x="15.6" y="310.5">Scheme A</text>
<g transform="translate(15.5 315.1)">
<rect width="104.2" height="103.6" fill="#e4fce5"/>
<g transform="translate(0 -0.5)">
<circle cx="52.10" cy="52.10" r="31" fill="url(#mc1)" filter="url(#bl4)"/>
<g filter="url(#bw)"><polygon class="w" points="12.8,12.5 24.9,12.5 24.9,24.4 12.8,24.4" fill="#80ff80"/>
<polygon class="w" points="16.6,24.0 21.6,24.0 21.6,27.5 27.9,46.4 28.3,51.6 23.7,51.6 23.3,48.7 16.6,28.7" fill="#80ff80"/>
<polygon class="w" points="12.8,12.5 24.9,12.5 24.9,24.4 12.8,24.4" fill="#000080" transform="translate(104.20 0) scale(-1 1)"/>
<polygon class="w" points="16.6,24.0 21.6,24.0 21.6,27.5 27.9,46.4 28.3,51.6 23.7,51.6 23.3,48.7 16.6,28.7" fill="#000080" transform="translate(104.20 0) scale(-1 1)"/>
<polygon class="w" points="12.8,12.5 24.9,12.5 24.9,24.4 12.8,24.4" fill="#800000" transform="translate(0 104.20) scale(1 -1)"/>
<polygon class="w" points="16.6,24.0 21.6,24.0 21.6,27.5 27.9,46.4 28.3,51.6 23.7,51.6 23.3,48.7 16.6,28.7" fill="#800000" transform="translate(0 104.20) scale(1 -1)"/>
<polygon class="w" points="12.8,12.5 24.9,12.5 24.9,24.4 12.8,24.4" fill="#80ff80" transform="rotate(180 52.10 52.10)"/>
<polygon class="w" points="16.6,24.0 21.6,24.0 21.6,27.5 27.9,46.4 28.3,51.6 23.7,51.6 23.3,48.7 16.6,28.7" fill="#80ff80" transform="rotate(180 52.10 52.10)"/>
<path class="w" d="M24 16.4H46.6Q49.05 16.4 49.05 18.9V29.6H44.4V21H24Z" fill="#80ff80"/>
<path class="w" d="M24 16.4H46.6Q49.05 16.4 49.05 18.9V29.6H44.4V21H24Z" fill="#000080" transform="translate(104.20 0) scale(-1 1)"/>
<path class="w" d="M24 16.4H46.6Q49.05 16.4 49.05 18.9V29.6H44.4V21H24Z" fill="#800000" transform="translate(0 104.20) scale(1 -1)"/>
<path class="w" d="M24 16.4H46.6Q49.05 16.4 49.05 18.9V29.6H44.4V21H24Z" fill="#80ff80" transform="rotate(180 52.10 52.10)"/>
<rect x="28.4" y="50.9" width="4.6" height="1.5" fill="url(#co)"/>
<rect x="71.2" y="50.9" width="4.6" height="1.5" fill="url(#cb2)"/></g>
</g></g>
<rect x="136.0" y="335.5" width="2.6" height="70.6" fill="url(#gs)"/>
<path d="M137.3 330.3l2.4 5.4h-4.8z M137.3 411.3l2.4 -5.4h-4.8z" fill="#000"/>
<rect x="152.2" y="335.5" width="2.6" height="70.6" fill="url(#gv)"/>
<path d="M153.5 330.3l2.4 5.4h-4.8z M153.5 411.3l2.4 -5.4h-4.8z" fill="#000"/>
<text class="b" transform="translate(133.7 370.0) rotate(-90)">457.75 MPa</text>
<text class="b" transform="translate(149.8 333.7) rotate(-90)">5 V</text>
<text class="b" transform="translate(134.1 414.8) rotate(-90)" text-anchor="middle">0</text>
<text class="b" transform="translate(151.0 414.8) rotate(-90)" text-anchor="middle">0</text>
<text class="b" x="195.0" y="310.5">Scheme B</text>
<g transform="translate(196.1 314.8)">
<rect width="104.2" height="103.6" fill="#e4fce5"/>
<g transform="translate(0 -0.5)">
<circle cx="52.10" cy="52.10" r="31" fill="url(#mc1)" filter="url(#bl4)"/>
<g filter="url(#bw)"><polygon class="w" points="12.8,12.5 24.9,12.5 24.9,24.4 12.8,24.4" fill="#80ff80"/>
<polygon class="w" points="16.6,24.0 21.6,24.0 21.6,27.5 27.9,46.4 28.3,51.6 23.7,51.6 23.3,48.7 16.6,28.7" fill="#80ff80"/>
<polygon class="w" points="12.8,12.5 24.9,12.5 24.9,24.4 12.8,24.4" fill="#000080" transform="translate(104.20 0) scale(-1 1)"/>
<polygon class="w" points="16.6,24.0 21.6,24.0 21.6,27.5 27.9,46.4 28.3,51.6 23.7,51.6 23.3,48.7 16.6,28.7" fill="#000080" transform="translate(104.20 0) scale(-1 1)"/>
<polygon class="w" points="12.8,12.5 24.9,12.5 24.9,24.4 12.8,24.4" fill="#800000" transform="translate(0 104.20) scale(1 -1)"/>
<polygon class="w" points="16.6,24.0 21.6,24.0 21.6,27.5 27.9,46.4 28.3,51.6 23.7,51.6 23.3,48.7 16.6,28.7" fill="#800000" transform="translate(0 104.20) scale(1 -1)"/>
<polygon class="w" points="12.8,12.5 24.9,12.5 24.9,24.4 12.8,24.4" fill="#80ff80" transform="rotate(180 52.10 52.10)"/>
<polygon class="w" points="16.6,24.0 21.6,24.0 21.6,27.5 27.9,46.4 28.3,51.6 23.7,51.6 23.3,48.7 16.6,28.7" fill="#80ff80" transform="rotate(180 52.10 52.10)"/>
<path class="w" d="M24 16.4H46.6Q49.05 16.4 49.05 18.9V51.4H44.4V21H24Z" fill="#80ff80"/>
<path class="w" d="M24 16.4H46.6Q49.05 16.4 49.05 18.9V51.4H44.4V21H24Z" fill="#000080" transform="translate(104.20 0) scale(-1 1)"/>
<path class="w" d="M24 16.4H46.6Q49.05 16.4 49.05 18.9V51.4H44.4V21H24Z" fill="#800000" transform="translate(0 104.20) scale(1 -1)"/>
<path class="w" d="M24 16.4H46.6Q49.05 16.4 49.05 18.9V51.4H44.4V21H24Z" fill="#80ff80" transform="rotate(180 52.10 52.10)"/>
<rect x="48.9" y="51.5" width="6.5" height="1.2" fill="#8030b0"/>
<rect x="28.4" y="50.9" width="4.6" height="1.5" fill="url(#co)"/>
<rect x="71.2" y="50.9" width="4.6" height="1.5" fill="url(#cb2)"/></g>
</g></g>
<rect x="315.1" y="335.5" width="2.6" height="70.3" fill="url(#gs)"/>
<path d="M316.4 330.3l2.4 5.4h-4.8z M316.4 411.0l2.4 -5.4h-4.8z" fill="#000"/>
<rect x="331.5" y="335.5" width="2.6" height="70.3" fill="url(#gv)"/>
<path d="M332.8 330.3l2.4 5.4h-4.8z M332.8 411.0l2.4 -5.4h-4.8z" fill="#000"/>
<text class="b" transform="translate(312.9 370.0) rotate(-90)">458.57 MPa</text>
<text class="b" transform="translate(329.8 333.6) rotate(-90)">5 V</text>
<text class="b" transform="translate(312.4 410.8) rotate(-90)" text-anchor="middle">0</text>
<text class="b" transform="translate(329.4 410.8) rotate(-90)" text-anchor="middle">0</text>
<text class="b" x="373.5" y="310.5">Scheme C</text>
<g transform="translate(374.0 315.7)">
<rect width="104.2" height="103.6" fill="#e4fce5"/>
<g transform="translate(0 -0.5)">
<g filter="url(#bl2)"><rect x="25.8" y="25.8" width="52.6" height="52.6" rx="11.0" fill="#8cc9a8"/></g>
<g filter="url(#bl1)"><rect x="27.5" y="27.5" width="49.2" height="49.2" rx="9.5" fill="#3d7d5e"/>
<rect x="30.9" y="30.9" width="42.4" height="42.4" rx="7.5" fill="#5ea380"/></g>
<g filter="url(#bl1)">
<path d="M33.1 33.1L71.1 71.1M33.1 71.1L71.1 33.1" stroke="#427f62" stroke-width="3.2" fill="none"/>
</g><g filter="url(#bl3)">
<ellipse cx="29.4" cy="52.1" rx="1.8" ry="13.5" fill="#7a12d0"/>
<ellipse cx="74.8" cy="52.1" rx="1.8" ry="13.5" fill="#7a12d0"/>
<ellipse cx="52.1" cy="29.4" rx="13.5" ry="1.8" fill="#7a12d0"/>
<ellipse cx="52.1" cy="74.8" rx="13.5" ry="1.8" fill="#7a12d0"/>
</g><g filter="url(#bl1)">
<ellipse cx="36.5" cy="52.1" rx="2.0" ry="11.5" fill="#aee5c1"/>
<ellipse cx="67.7" cy="52.1" rx="2.0" ry="11.5" fill="#aee5c1"/>
<ellipse cx="52.1" cy="36.5" rx="11.5" ry="2.0" fill="#aee5c1"/>
<ellipse cx="52.1" cy="67.7" rx="11.5" ry="2.0" fill="#aee5c1"/>
<rect x="42.6" y="42.6" width="19.0" height="19.0" rx="3.0" fill="#6b9a85"/>
</g><circle cx="52.1" cy="52.1" r="8" fill="url(#pc1)"/>
<g filter="url(#bw)"><polygon class="w" points="12.8,12.5 24.9,12.5 24.9,24.4 12.8,24.4" fill="#80ff80"/>
<polygon class="w" points="16.6,24.0 21.6,24.0 21.6,27.5 27.9,46.4 28.3,51.6 23.7,51.6 23.3,48.7 16.6,28.7" fill="#80ff80"/>
<polygon class="w" points="12.8,12.5 24.9,12.5 24.9,24.4 12.8,24.4" fill="#000080" transform="translate(104.20 0) scale(-1 1)"/>
<polygon class="w" points="16.6,24.0 21.6,24.0 21.6,27.5 27.9,46.4 28.3,51.6 23.7,51.6 23.3,48.7 16.6,28.7" fill="#000080" transform="translate(104.20 0) scale(-1 1)"/>
<polygon class="w" points="12.8,12.5 24.9,12.5 24.9,24.4 12.8,24.4" fill="#800000" transform="translate(0 104.20) scale(1 -1)"/>
<polygon class="w" points="16.6,24.0 21.6,24.0 21.6,27.5 27.9,46.4 28.3,51.6 23.7,51.6 23.3,48.7 16.6,28.7" fill="#800000" transform="translate(0 104.20) scale(1 -1)"/>
<polygon class="w" points="12.8,12.5 24.9,12.5 24.9,24.4 12.8,24.4" fill="#80ff80" transform="rotate(180 52.10 52.10)"/>
<polygon class="w" points="16.6,24.0 21.6,24.0 21.6,27.5 27.9,46.4 28.3,51.6 23.7,51.6 23.3,48.7 16.6,28.7" fill="#80ff80" transform="rotate(180 52.10 52.10)"/>
<path class="w" d="M24 16.4H46.6Q49.05 16.4 49.05 18.9V29.6H44.4V21H24Z" fill="#80ff80"/>
<path class="w" d="M24 16.4H46.6Q49.05 16.4 49.05 18.9V29.6H44.4V21H24Z" fill="#000080" transform="translate(104.20 0) scale(-1 1)"/>
<path class="w" d="M24 16.4H46.6Q49.05 16.4 49.05 18.9V29.6H44.4V21H24Z" fill="#800000" transform="translate(0 104.20) scale(1 -1)"/>
<path class="w" d="M24 16.4H46.6Q49.05 16.4 49.05 18.9V29.6H44.4V21H24Z" fill="#80ff80" transform="rotate(180 52.10 52.10)"/>
<rect x="28.4" y="50.9" width="4.6" height="1.5" fill="url(#co)"/>
<rect x="71.2" y="50.9" width="4.6" height="1.5" fill="url(#cb2)"/></g>
</g></g>
<rect x="492.1" y="335.1" width="2.6" height="70.7" fill="url(#gs)"/>
<path d="M493.4 329.9l2.4 5.4h-4.8z M493.4 411.0l2.4 -5.4h-4.8z" fill="#000"/>
<rect x="508.2" y="335.1" width="2.6" height="70.7" fill="url(#gv)"/>
<path d="M509.5 329.9l2.4 5.4h-4.8z M509.5 411.0l2.4 -5.4h-4.8z" fill="#000"/>
<text class="b" transform="translate(487.9 373.3) rotate(-90)">663.50 MPa</text>
<text class="b" transform="translate(507.8 333.6) rotate(-90)">5 V</text>
<text class="b" transform="translate(487.9 412.5) rotate(-90)" text-anchor="middle">0</text>
<text class="b" transform="translate(507.3 412.5) rotate(-90)" text-anchor="middle">0</text>
<text class="b" x="541.5" y="310.5">Scheme D</text>
<g transform="translate(538.3 315.7)">
<rect width="104.2" height="103.6" fill="#e4fce5"/>
<g transform="translate(0 -0.5)">
<g filter="url(#bl2)"><rect x="25.8" y="25.8" width="52.6" height="52.6" rx="11.0" fill="#8cc9a8"/></g>
<g filter="url(#bl1)"><rect x="27.5" y="27.5" width="49.2" height="49.2" rx="9.5" fill="#3d7d5e"/>
<rect x="30.9" y="30.9" width="42.4" height="42.4" rx="7.5" fill="#5ea380"/></g>
<g filter="url(#bl1)">
<path d="M33.1 33.1L71.1 71.1M33.1 71.1L71.1 33.1" stroke="#427f62" stroke-width="3.2" fill="none"/>
</g><g filter="url(#bl3)">
<ellipse cx="29.4" cy="52.1" rx="1.8" ry="13.5" fill="#7a12d0"/>
<ellipse cx="74.8" cy="52.1" rx="1.8" ry="13.5" fill="#7a12d0"/>
<ellipse cx="52.1" cy="29.4" rx="13.5" ry="1.8" fill="#7a12d0"/>
<ellipse cx="52.1" cy="74.8" rx="13.5" ry="1.8" fill="#7a12d0"/>
</g><g filter="url(#bl1)">
<ellipse cx="36.5" cy="52.1" rx="2.0" ry="11.5" fill="#aee5c1"/>
<ellipse cx="67.7" cy="52.1" rx="2.0" ry="11.5" fill="#aee5c1"/>
<ellipse cx="52.1" cy="36.5" rx="11.5" ry="2.0" fill="#aee5c1"/>
<ellipse cx="52.1" cy="67.7" rx="11.5" ry="2.0" fill="#aee5c1"/>
<rect x="42.6" y="42.6" width="19.0" height="19.0" rx="3.0" fill="#6b9a85"/>
</g><circle cx="52.1" cy="52.1" r="8" fill="url(#pc1)"/>
<g filter="url(#bw)"><polygon class="w" points="12.8,12.5 24.9,12.5 24.9,24.4 12.8,24.4" fill="#80ff80"/>
<polygon class="w" points="16.6,24.0 21.6,24.0 21.6,27.5 27.9,46.4 28.3,51.6 23.7,51.6 23.3,48.7 16.6,28.7" fill="#80ff80"/>
<polygon class="w" points="12.8,12.5 24.9,12.5 24.9,24.4 12.8,24.4" fill="#000080" transform="translate(104.20 0) scale(-1 1)"/>
<polygon class="w" points="16.6,24.0 21.6,24.0 21.6,27.5 27.9,46.4 28.3,51.6 23.7,51.6 23.3,48.7 16.6,28.7" fill="#000080" transform="translate(104.20 0) scale(-1 1)"/>
<polygon class="w" points="12.8,12.5 24.9,12.5 24.9,24.4 12.8,24.4" fill="#800000" transform="translate(0 104.20) scale(1 -1)"/>
<polygon class="w" points="16.6,24.0 21.6,24.0 21.6,27.5 27.9,46.4 28.3,51.6 23.7,51.6 23.3,48.7 16.6,28.7" fill="#800000" transform="translate(0 104.20) scale(1 -1)"/>
<polygon class="w" points="12.8,12.5 24.9,12.5 24.9,24.4 12.8,24.4" fill="#80ff80" transform="rotate(180 52.10 52.10)"/>
<polygon class="w" points="16.6,24.0 21.6,24.0 21.6,27.5 27.9,46.4 28.3,51.6 23.7,51.6 23.3,48.7 16.6,28.7" fill="#80ff80" transform="rotate(180 52.10 52.10)"/>
<path class="w" d="M24 16.4H46.6Q49.05 16.4 49.05 18.9V51.4H44.4V21H24Z" fill="#80ff80"/>
<path class="w" d="M24 16.4H46.6Q49.05 16.4 49.05 18.9V51.4H44.4V21H24Z" fill="#000080" transform="translate(104.20 0) scale(-1 1)"/>
<path class="w" d="M24 16.4H46.6Q49.05 16.4 49.05 18.9V51.4H44.4V21H24Z" fill="#800000" transform="translate(0 104.20) scale(1 -1)"/>
<path class="w" d="M24 16.4H46.6Q49.05 16.4 49.05 18.9V51.4H44.4V21H24Z" fill="#80ff80" transform="rotate(180 52.10 52.10)"/>
<rect x="48.9" y="51.5" width="6.5" height="1.2" fill="#8030b0"/>
<rect x="28.4" y="50.9" width="4.6" height="1.5" fill="url(#co)"/>
<rect x="71.2" y="50.9" width="4.6" height="1.5" fill="url(#cb2)"/></g>
</g></g>
<rect x="657.3" y="335.8" width="2.6" height="71.2" fill="url(#gs)"/>
<path d="M658.6 330.6l2.4 5.4h-4.8z M658.6 412.2l2.4 -5.4h-4.8z" fill="#000"/>
<rect x="673.7" y="335.8" width="2.6" height="71.2" fill="url(#gv)"/>
<path d="M675.0 330.6l2.4 5.4h-4.8z M675.0 412.2l2.4 -5.4h-4.8z" fill="#000"/>
<text class="b" transform="translate(654.9 370.5) rotate(-90)">664.10 MPa</text>
<text class="b" transform="translate(672.2 335.0) rotate(-90)">5 V</text>
<text class="b" transform="translate(655.3 412.5) rotate(-90)" text-anchor="middle">0</text>
<text class="b" transform="translate(672.5 412.5) rotate(-90)" text-anchor="middle">0</text>
<text class="b" x="17.2" y="434.2">Scheme E</text>
<g transform="translate(16.1 436.1)">
<rect width="104.2" height="103.6" fill="#e4fce5"/>
<g transform="translate(0 -0.5)">
<circle cx="52.10" cy="52.10" r="31" fill="url(#mc2)" filter="url(#bl4)"/>
<g filter="url(#bw)"><polygon class="w" points="12.8,12.5 24.9,12.5 24.9,24.4 12.8,24.4" fill="#80ff80"/>
<polygon class="w" points="16.6,24.0 21.6,24.0 21.6,27.5 27.9,46.4 28.3,51.6 23.7,51.6 23.3,48.7 16.6,28.7" fill="#80ff80"/>
<polygon class="w" points="12.8,12.5 24.9,12.5 24.9,24.4 12.8,24.4" fill="#000080" transform="translate(104.20 0) scale(-1 1)"/>
<polygon class="w" points="16.6,24.0 21.6,24.0 21.6,27.5 27.9,46.4 28.3,51.6 23.7,51.6 23.3,48.7 16.6,28.7" fill="#000080" transform="translate(104.20 0) scale(-1 1)"/>
<polygon class="w" points="12.8,12.5 24.9,12.5 24.9,24.4 12.8,24.4" fill="#800000" transform="translate(0 104.20) scale(1 -1)"/>
<polygon class="w" points="16.6,24.0 21.6,24.0 21.6,27.5 27.9,46.4 28.3,51.6 23.7,51.6 23.3,48.7 16.6,28.7" fill="#800000" transform="translate(0 104.20) scale(1 -1)"/>
<polygon class="w" points="12.8,12.5 24.9,12.5 24.9,24.4 12.8,24.4" fill="#80ff80" transform="rotate(180 52.10 52.10)"/>
<polygon class="w" points="16.6,24.0 21.6,24.0 21.6,27.5 27.9,46.4 28.3,51.6 23.7,51.6 23.3,48.7 16.6,28.7" fill="#80ff80" transform="rotate(180 52.10 52.10)"/>
<path class="w" d="M24 16.4H48.3L54.7 27.9L53.5 28.5L46.6 21H24Z" fill="#80ff80"/>
<path class="w" d="M80.2 16.4H55.8L54.3 17.8L55.2 32.0H59V21H80.2Z" fill="#000080"/>
<path class="w" d="M24 16.4H48.3L54.7 27.9L53.5 28.5L46.6 21H24Z" fill="#800000" transform="translate(0 104.20) scale(1 -1)"/>
<path class="w" d="M80.2 16.4H55.8L54.3 17.8L55.2 32.0H59V21H80.2Z" fill="#80ff80" transform="translate(0 104.20) scale(1 -1)"/>
<rect x="49.3" y="27.9" width="5" height="1.8" fill="url(#cb)"/>
<rect x="49.3" y="74.5" width="5" height="1.8" fill="url(#cr)"/>
<g filter="url(#bw)"><rect x="27.6" y="49.8" width="5" height="3.6" fill="url(#co2)"/>
<rect x="71.4" y="49.8" width="4.6" height="3.6" fill="url(#cb3)"/></g></g>
</g></g>
<rect x="134.6" y="455.4" width="2.6" height="71.1" fill="url(#gs)"/>
<path d="M135.9 450.2l2.4 5.4h-4.8z M135.9 531.7l2.4 -5.4h-4.8z" fill="#000"/>
<rect x="151.0" y="455.4" width="2.6" height="71.1" fill="url(#gv)"/>
<path d="M152.3 450.2l2.4 5.4h-4.8z M152.3 531.7l2.4 -5.4h-4.8z" fill="#000"/>
<text class="b" transform="translate(132.4 490.3) rotate(-90)">457.75 MPa</text>
<text class="b" transform="translate(149.3 454.5) rotate(-90)">5 V</text>
<text class="b" transform="translate(132.0 533.0) rotate(-90)" text-anchor="middle">0</text>
<text class="b" transform="translate(149.3 533.0) rotate(-90)" text-anchor="middle">0</text>
<text class="b" x="197.2" y="434.2">Scheme F</text>
<g transform="translate(195.6 436.1)">
<rect width="104.2" height="103.6" fill="#e4fce5"/>
<g transform="translate(0 -1.4)">
<circle cx="52.10" cy="52.10" r="31" fill="url(#mc2)" filter="url(#bl4)"/>
<g filter="url(#bw)"><polygon class="w" points="12.8,12.5 24.9,12.5 24.9,24.4 12.8,24.4" fill="#80ff80"/>
<polygon class="w" points="16.6,24.0 21.6,24.0 21.6,27.5 27.9,46.4 28.3,51.6 23.7,51.6 23.3,48.7 16.6,28.7" fill="#80ff80"/>
<polygon class="w" points="12.8,12.5 24.9,12.5 24.9,24.4 12.8,24.4" fill="#000080" transform="translate(104.20 0) scale(-1 1)"/>
<polygon class="w" points="16.6,24.0 21.6,24.0 21.6,27.5 27.9,46.4 28.3,51.6 23.7,51.6 23.3,48.7 16.6,28.7" fill="#000080" transform="translate(104.20 0) scale(-1 1)"/>
<polygon class="w" points="12.8,12.5 24.9,12.5 24.9,24.4 12.8,24.4" fill="#800000" transform="translate(0 104.20) scale(1 -1)"/>
<polygon class="w" points="16.6,24.0 21.6,24.0 21.6,27.5 27.9,46.4 28.3,51.6 23.7,51.6 23.3,48.7 16.6,28.7" fill="#800000" transform="translate(0 104.20) scale(1 -1)"/>
<polygon class="w" points="12.8,12.5 24.9,12.5 24.9,24.4 12.8,24.4" fill="#80ff80" transform="rotate(180 52.10 52.10)"/>
<polygon class="w" points="16.6,24.0 21.6,24.0 21.6,27.5 27.9,46.4 28.3,51.6 23.7,51.6 23.3,48.7 16.6,28.7" fill="#80ff80" transform="rotate(180 52.10 52.10)"/>
<path class="w" d="M24 16.4H46.6Q49.05 16.4 49.05 18.9V39L55 48.6L54 49.4L44.4 39.6V21H24Z" fill="#80ff80"/>
<path class="w" d="M80.2 16.4H57.6Q55.15 16.4 55.15 18.9V51.2H59.8V21H80.2Z" fill="#000080"/>
<path class="w" d="M80.2 16.4H57.6Q55.15 16.4 55.15 18.9V51.2H59.8V21H80.2Z" fill="#800000" transform="rotate(180 52.10 52.10)"/>
<path class="w" d="M24 16.4H46.6Q49.05 16.4 49.05 18.9V39L55 48.6L54 49.4L44.4 39.6V21H24Z" fill="#80ff80" transform="rotate(180 52.10 52.10)"/>
<rect x="49.6" y="48.6" width="5.4" height="1.8" fill="url(#cb)"/>
<rect x="49.6" y="52.2" width="5.4" height="1.8" fill="url(#cr)"/>
<g filter="url(#bw)"><rect x="27.6" y="49.8" width="5" height="3.6" fill="url(#co2)"/>
<rect x="71.4" y="49.8" width="4.6" height="3.6" fill="url(#cb3)"/></g></g>
</g></g>
<rect x="317.0" y="458.3" width="2.6" height="71.0" fill="url(#gs)"/>
<path d="M318.3 453.1l2.4 5.4h-4.8z M318.3 534.5l2.4 -5.4h-4.8z" fill="#000"/>
<rect x="333.6" y="458.3" width="2.6" height="71.0" fill="url(#gv)"/>
<path d="M334.9 453.1l2.4 5.4h-4.8z M334.9 534.5l2.4 -5.4h-4.8z" fill="#000"/>
<text class="b" transform="translate(314.6 492.5) rotate(-90)">458.57 MPa</text>
<text class="b" transform="translate(331.8 456.5) rotate(-90)">5 V</text>
<text class="b" transform="translate(314.2 533.4) rotate(-90)" text-anchor="middle">0</text>
<text class="b" transform="translate(332.3 533.4) rotate(-90)" text-anchor="middle">0</text>
<text class="b" x="374.8" y="434.2">Scheme G</text>
<g transform="translate(375.7 435.7)">
<rect width="104.2" height="103.6" fill="#e4fce5"/>
<g transform="translate(0 -0.5)">
<g filter="url(#bl2)"><rect x="25.8" y="25.8" width="52.6" height="52.6" rx="11.0" fill="#8cc9a8"/></g>
<g filter="url(#bl1)"><rect x="27.5" y="27.5" width="49.2" height="49.2" rx="9.5" fill="#3f7a60"/>
<rect x="30.9" y="30.9" width="42.4" height="42.4" rx="7.5" fill="#5b8f79"/></g>
<g filter="url(#bl1)">
<path d="M33.1 33.1L71.1 71.1M33.1 71.1L71.1 33.1" stroke="#4a7d68" stroke-width="3.2" fill="none"/>
</g><g filter="url(#bl3)">
<ellipse cx="29.6" cy="52.1" rx="2.3" ry="14.5" fill="#7620b6"/>
<ellipse cx="74.6" cy="52.1" rx="2.3" ry="14.5" fill="#7620b6"/>
<ellipse cx="52.1" cy="29.6" rx="14.5" ry="2.3" fill="#7620b6"/>
<ellipse cx="52.1" cy="74.6" rx="14.5" ry="2.3" fill="#7620b6"/>
</g><g filter="url(#bl1)">
<ellipse cx="36.9" cy="52.1" rx="2.3" ry="10.5" fill="#a2dcb8"/>
<ellipse cx="67.3" cy="52.1" rx="2.3" ry="10.5" fill="#a2dcb8"/>
<ellipse cx="52.1" cy="36.9" rx="10.5" ry="2.3" fill="#a2dcb8"/>
<ellipse cx="52.1" cy="67.3" rx="10.5" ry="2.3" fill="#a2dcb8"/>
<rect x="43.5" y="43.5" width="17.2" height="17.2" rx="3.0" fill="#6f7f8f"/>
</g><circle cx="52.1" cy="52.1" r="10" fill="url(#pc2)"/>
<g filter="url(#bw)"><polygon class="w" points="12.8,12.5 24.9,12.5 24.9,24.4 12.8,24.4" fill="#80ff80"/>
<polygon class="w" points="16.6,24.0 21.6,24.0 21.6,27.5 27.9,46.4 28.3,51.6 23.7,51.6 23.3,48.7 16.6,28.7" fill="#80ff80"/>
<polygon class="w" points="12.8,12.5 24.9,12.5 24.9,24.4 12.8,24.4" fill="#000080" transform="translate(104.20 0) scale(-1 1)"/>
<polygon class="w" points="16.6,24.0 21.6,24.0 21.6,27.5 27.9,46.4 28.3,51.6 23.7,51.6 23.3,48.7 16.6,28.7" fill="#000080" transform="translate(104.20 0) scale(-1 1)"/>
<polygon class="w" points="12.8,12.5 24.9,12.5 24.9,24.4 12.8,24.4" fill="#800000" transform="translate(0 104.20) scale(1 -1)"/>
<polygon class="w" points="16.6,24.0 21.6,24.0 21.6,27.5 27.9,46.4 28.3,51.6 23.7,51.6 23.3,48.7 16.6,28.7" fill="#800000" transform="translate(0 104.20) scale(1 -1)"/>
<polygon class="w" points="12.8,12.5 24.9,12.5 24.9,24.4 12.8,24.4" fill="#80ff80" transform="rotate(180 52.10 52.10)"/>
<polygon class="w" points="16.6,24.0 21.6,24.0 21.6,27.5 27.9,46.4 28.3,51.6 23.7,51.6 23.3,48.7 16.6,28.7" fill="#80ff80" transform="rotate(180 52.10 52.10)"/>
<path class="w" d="M24 16.4H48.3L54.7 27.9L53.5 28.5L46.6 21H24Z" fill="#80ff80"/>
<path class="w" d="M80.2 16.4H55.8L54.3 17.8L55.2 32.0H59V21H80.2Z" fill="#000080"/>
<path class="w" d="M24 16.4H48.3L54.7 27.9L53.5 28.5L46.6 21H24Z" fill="#800000" transform="translate(0 104.20) scale(1 -1)"/>
<path class="w" d="M80.2 16.4H55.8L54.3 17.8L55.2 32.0H59V21H80.2Z" fill="#80ff80" transform="translate(0 104.20) scale(1 -1)"/>
<rect x="49.3" y="27.9" width="5" height="1.8" fill="url(#cb)"/>
<rect x="49.3" y="74.5" width="5" height="1.8" fill="url(#cr)"/>
<g filter="url(#bw)"><rect x="27.6" y="49.8" width="5" height="3.6" fill="url(#co2)"/>
<rect x="71.4" y="49.8" width="4.6" height="3.6" fill="url(#cb3)"/></g></g>
</g></g>
<rect x="497.0" y="452.9" width="2.6" height="71.0" fill="url(#gs)"/>
<path d="M498.3 447.7l2.4 5.4h-4.8z M498.3 529.1l2.4 -5.4h-4.8z" fill="#000"/>
<rect x="513.6" y="452.9" width="2.6" height="71.0" fill="url(#gv)"/>
<path d="M514.9 447.7l2.4 5.4h-4.8z M514.9 529.1l2.4 -5.4h-4.8z" fill="#000"/>
<text class="b" transform="translate(493.4 491.1) rotate(-90)">663.50 MPa</text>
<text class="b" transform="translate(512.0 451.4) rotate(-90)">5 V</text>
<text class="b" transform="translate(493.2 530.3) rotate(-90)" text-anchor="middle">0</text>
<text class="b" transform="translate(512.3 530.3) rotate(-90)" text-anchor="middle">0</text>
<text class="b" x="543.3" y="434.2">Scheme H</text>
<g transform="translate(538.8 436.1)">
<rect width="104.2" height="103.6" fill="#e4fce5"/>
<g transform="translate(0 -0.5)">
<g filter="url(#bl2)"><rect x="25.8" y="25.8" width="52.6" height="52.6" rx="11.0" fill="#8cc9a8"/></g>
<g filter="url(#bl1)"><rect x="27.5" y="27.5" width="49.2" height="49.2" rx="9.5" fill="#3f7a60"/>
<rect x="30.9" y="30.9" width="42.4" height="42.4" rx="7.5" fill="#5b8f79"/></g>
<g filter="url(#bl1)">
<path d="M33.1 33.1L71.1 71.1M33.1 71.1L71.1 33.1" stroke="#4a7d68" stroke-width="3.2" fill="none"/>
</g><g filter="url(#bl3)">
<ellipse cx="29.6" cy="52.1" rx="2.3" ry="14.5" fill="#7620b6"/>
<ellipse cx="74.6" cy="52.1" rx="2.3" ry="14.5" fill="#7620b6"/>
<ellipse cx="52.1" cy="29.6" rx="14.5" ry="2.3" fill="#7620b6"/>
<ellipse cx="52.1" cy="74.6" rx="14.5" ry="2.3" fill="#7620b6"/>
</g><g filter="url(#bl1)">
<ellipse cx="36.9" cy="52.1" rx="2.3" ry="10.5" fill="#a2dcb8"/>
<ellipse cx="67.3" cy="52.1" rx="2.3" ry="10.5" fill="#a2dcb8"/>
<ellipse cx="52.1" cy="36.9" rx="10.5" ry="2.3" fill="#a2dcb8"/>
<ellipse cx="52.1" cy="67.3" rx="10.5" ry="2.3" fill="#a2dcb8"/>
<rect x="43.5" y="43.5" width="17.2" height="17.2" rx="3.0" fill="#6f7f8f"/>
</g><circle cx="52.1" cy="52.1" r="10" fill="url(#pc2)"/>
<g filter="url(#bw)"><polygon class="w" points="12.8,12.5 24.9,12.5 24.9,24.4 12.8,24.4" fill="#80ff80"/>
<polygon class="w" points="16.6,24.0 21.6,24.0 21.6,27.5 27.9,46.4 28.3,51.6 23.7,51.6 23.3,48.7 16.6,28.7" fill="#80ff80"/>
<polygon class="w" points="12.8,12.5 24.9,12.5 24.9,24.4 12.8,24.4" fill="#000080" transform="translate(104.20 0) scale(-1 1)"/>
<polygon class="w" points="16.6,24.0 21.6,24.0 21.6,27.5 27.9,46.4 28.3,51.6 23.7,51.6 23.3,48.7 16.6,28.7" fill="#000080" transform="translate(104.20 0) scale(-1 1)"/>
<polygon class="w" points="12.8,12.5 24.9,12.5 24.9,24.4 12.8,24.4" fill="#800000" transform="translate(0 104.20) scale(1 -1)"/>
<polygon class="w" points="16.6,24.0 21.6,24.0 21.6,27.5 27.9,46.4 28.3,51.6 23.7,51.6 23.3,48.7 16.6,28.7" fill="#800000" transform="translate(0 104.20) scale(1 -1)"/>
<polygon class="w" points="12.8,12.5 24.9,12.5 24.9,24.4 12.8,24.4" fill="#80ff80" transform="rotate(180 52.10 52.10)"/>
<polygon class="w" points="16.6,24.0 21.6,24.0 21.6,27.5 27.9,46.4 28.3,51.6 23.7,51.6 23.3,48.7 16.6,28.7" fill="#80ff80" transform="rotate(180 52.10 52.10)"/>
<path class="w" d="M24 16.4H46.6Q49.05 16.4 49.05 18.9V39L55 48.6L54 49.4L44.4 39.6V21H24Z" fill="#80ff80"/>
<path class="w" d="M80.2 16.4H57.6Q55.15 16.4 55.15 18.9V51.2H59.8V21H80.2Z" fill="#000080"/>
<path class="w" d="M80.2 16.4H57.6Q55.15 16.4 55.15 18.9V51.2H59.8V21H80.2Z" fill="#800000" transform="rotate(180 52.10 52.10)"/>
<path class="w" d="M24 16.4H46.6Q49.05 16.4 49.05 18.9V39L55 48.6L54 49.4L44.4 39.6V21H24Z" fill="#80ff80" transform="rotate(180 52.10 52.10)"/>
<rect x="49.6" y="48.6" width="5.4" height="1.8" fill="url(#cb)"/>
<rect x="49.6" y="52.2" width="5.4" height="1.8" fill="url(#cr)"/>
<g filter="url(#bw)"><rect x="27.6" y="49.8" width="5" height="3.6" fill="url(#co2)"/>
<rect x="71.4" y="49.8" width="4.6" height="3.6" fill="url(#cb3)"/></g></g>
</g></g>
<rect x="658.5" y="454.6" width="2.6" height="71.0" fill="url(#gs)"/>
<path d="M659.8 449.4l2.4 5.4h-4.8z M659.8 530.8l2.4 -5.4h-4.8z" fill="#000"/>
<rect x="675.1" y="454.6" width="2.6" height="71.0" fill="url(#gv)"/>
<path d="M676.4 449.4l2.4 5.4h-4.8z M676.4 530.8l2.4 -5.4h-4.8z" fill="#000"/>
<text class="b" transform="translate(656.1 488.6) rotate(-90)">664.10 MPa</text>
<text class="b" transform="translate(673.5 453.6) rotate(-90)">5 V</text>
<text class="b" transform="translate(657.0 531.2) rotate(-90)" text-anchor="middle">0</text>
<text class="b" transform="translate(673.5 531.2) rotate(-90)" text-anchor="middle">0</text>
<defs><linearGradient id="bg1" x1="0" y1="0" x2=".3" y2="1"><stop offset="0" stop-color="#765a9e"/><stop offset=".5" stop-color="#754ca3"/><stop offset="1" stop-color="#7443a8"/></linearGradient>
<linearGradient id="sg1" gradientUnits="userSpaceOnUse" x1="135.9" y1="631.6" x2="44.6" y2="631.6"><stop offset="0.00" stop-color="#0000d6"/><stop offset="0.25" stop-color="#0000e0"/><stop offset="0.50" stop-color="#0000eb"/><stop offset="0.75" stop-color="#0000f5"/><stop offset="1.00" stop-color="#0000ff"/></linearGradient>
<linearGradient id="sg2" gradientUnits="userSpaceOnUse" x1="44.6" y1="631.6" x2="44.6" y2="616.2"><stop offset="0.00" stop-color="#0000ff"/><stop offset="0.25" stop-color="#0004ff"/><stop offset="0.50" stop-color="#0008ff"/><stop offset="0.75" stop-color="#000bff"/><stop offset="1.00" stop-color="#000fff"/></linearGradient>
<linearGradient id="sg3" gradientUnits="userSpaceOnUse" x1="44.6" y1="616.2" x2="141.6" y2="616.2"><stop offset="0.00" stop-color="#000fff"/><stop offset="0.25" stop-color="#0024ff"/><stop offset="0.50" stop-color="#0038ff"/><stop offset="0.75" stop-color="#004dff"/><stop offset="1.00" stop-color="#0061ff"/></linearGradient>
<linearGradient id="sg4" gradientUnits="userSpaceOnUse" x1="141.6" y1="616.2" x2="141.6" y2="600.8"><stop offset="0.00" stop-color="#0061ff"/><stop offset="0.25" stop-color="#0069ff"/><stop offset="0.50" stop-color="#0070ff"/><stop offset="0.75" stop-color="#0078ff"/><stop offset="1.00" stop-color="#0080ff"/></linearGradient>
<linearGradient id="sg5" gradientUnits="userSpaceOnUse" x1="141.6" y1="600.8" x2="44.6" y2="600.8"><stop offset="0.00" stop-color="#0080ff"/><stop offset="0.25" stop-color="#009aff"/><stop offset="0.50" stop-color="#00b5ff"/><stop offset="0.75" stop-color="#00d0ff"/><stop offset="1.00" stop-color="#00ebff"/></linearGradient>
<linearGradient id="sg6" gradientUnits="userSpaceOnUse" x1="44.6" y1="600.8" x2="44.6" y2="586.0"><stop offset="0.00" stop-color="#00ebff"/><stop offset="0.25" stop-color="#00f1ff"/><stop offset="0.50" stop-color="#00f7ff"/><stop offset="0.75" stop-color="#00feff"/><stop offset="1.00" stop-color="#05fffa"/></linearGradient>
<linearGradient id="sg7" gradientUnits="userSpaceOnUse" x1="44.6" y1="586.0" x2="137.0" y2="586.0"><stop offset="0.00" stop-color="#05fffa"/><stop offset="0.25" stop-color="#24ffdb"/><stop offset="0.50" stop-color="#42ffbd"/><stop offset="0.75" stop-color="#61ff9e"/><stop offset="1.00" stop-color="#80ff80"/></linearGradient>
<linearGradient id="bg2" gradientUnits="userSpaceOnUse" x1="195.2" y1="0" x2="331.9" y2="0"><stop offset="0" stop-color="#dcfbe2"/><stop offset=".25" stop-color="#cdf5d6"/><stop offset=".4" stop-color="#a5dfb9"/><stop offset=".5" stop-color="#62a383"/><stop offset=".57" stop-color="#467f66"/><stop offset=".625" stop-color="#6a6a8c"/><stop offset=".7" stop-color="#7b38b0"/><stop offset=".8" stop-color="#7a22b6"/><stop offset="1" stop-color="#7420ae"/></linearGradient>
<linearGradient id="sg8" gradientUnits="userSpaceOnUse" x1="257.2" y1="565.6" x2="318.0" y2="565.6"><stop offset="0.00" stop-color="#80ff80"/><stop offset="0.25" stop-color="#93ff6c"/><stop offset="0.50" stop-color="#a6ff59"/><stop offset="0.75" stop-color="#b9ff46"/><stop offset="1.00" stop-color="#ccff33"/></linearGradient>
<linearGradient id="sg9" gradientUnits="userSpaceOnUse" x1="318.0" y1="565.6" x2="318.0" y2="580.5"><stop offset="0.00" stop-color="#ccff33"/><stop offset="0.25" stop-color="#d2ff2d"/><stop offset="0.50" stop-color="#d9ff26"/><stop offset="0.75" stop-color="#dfff20"/><stop offset="1.00" stop-color="#e5ff1a"/></linearGradient>
<linearGradient id="sg10" gradientUnits="userSpaceOnUse" x1="318.0" y1="580.5" x2="252.1" y2="580.5"><stop offset="0.00" stop-color="#e5ff1a"/><stop offset="0.25" stop-color="#f6ff09"/><stop offset="0.50" stop-color="#fff700"/><stop offset="0.75" stop-color="#ffe700"/><stop offset="1.00" stop-color="#ffd600"/></linearGradient>
<linearGradient id="sg11" gradientUnits="userSpaceOnUse" x1="252.1" y1="580.5" x2="252.1" y2="595.4"><stop offset="0.00" stop-color="#ffd600"/><stop offset="0.25" stop-color="#ffd200"/><stop offset="0.50" stop-color="#ffcf00"/><stop offset="0.75" stop-color="#ffcb00"/><stop offset="1.00" stop-color="#ffc700"/></linearGradient>
<linearGradient id="sg12" gradientUnits="userSpaceOnUse" x1="252.1" y1="595.4" x2="318.0" y2="595.4"><stop offset="0.00" stop-color="#ffc700"/><stop offset="0.25" stop-color="#ffb800"/><stop offset="0.50" stop-color="#ffa800"/><stop offset="0.75" stop-color="#ff9900"/><stop offset="1.00" stop-color="#ff8a00"/></linearGradient>
<linearGradient id="sg13" gradientUnits="userSpaceOnUse" x1="318.0" y1="595.4" x2="318.0" y2="610.3"><stop offset="0.00" stop-color="#ff8a00"/><stop offset="0.25" stop-color="#ff8500"/><stop offset="0.50" stop-color="#ff8000"/><stop offset="0.75" stop-color="#ff7a00"/><stop offset="1.00" stop-color="#ff7500"/></linearGradient>
<linearGradient id="sg14" gradientUnits="userSpaceOnUse" x1="318.0" y1="610.3" x2="252.1" y2="610.3"><stop offset="0.00" stop-color="#ff7500"/><stop offset="0.25" stop-color="#ff6900"/><stop offset="0.50" stop-color="#ff5c00"/><stop offset="0.75" stop-color="#ff4f00"/><stop offset="1.00" stop-color="#ff4200"/></linearGradient>
<linearGradient id="sg15" gradientUnits="userSpaceOnUse" x1="252.1" y1="610.3" x2="252.1" y2="625.2"><stop offset="0.00" stop-color="#ff4200"/><stop offset="0.25" stop-color="#ff3d00"/><stop offset="0.50" stop-color="#ff3800"/><stop offset="0.75" stop-color="#ff3300"/><stop offset="1.00" stop-color="#ff2e00"/></linearGradient>
<linearGradient id="sg16" gradientUnits="userSpaceOnUse" x1="252.1" y1="625.2" x2="318.0" y2="625.2"><stop offset="0.00" stop-color="#ff2e00"/><stop offset="0.25" stop-color="#ff1c00"/><stop offset="0.50" stop-color="#ff0a00"/><stop offset="0.75" stop-color="#f70000"/><stop offset="1.00" stop-color="#e50000"/></linearGradient>
<linearGradient id="sg17" gradientUnits="userSpaceOnUse" x1="318.0" y1="625.2" x2="318.0" y2="640.1"><stop offset="0.00" stop-color="#e50000"/><stop offset="0.25" stop-color="#de0000"/><stop offset="0.50" stop-color="#d60000"/><stop offset="0.75" stop-color="#cf0000"/><stop offset="1.00" stop-color="#c70000"/></linearGradient>
<linearGradient id="sg18" gradientUnits="userSpaceOnUse" x1="318.0" y1="640.1" x2="257.2" y2="640.1"><stop offset="0.00" stop-color="#c70000"/><stop offset="0.25" stop-color="#b80000"/><stop offset="0.50" stop-color="#a80000"/><stop offset="0.75" stop-color="#990000"/><stop offset="1.00" stop-color="#8a0000"/></linearGradient>
<linearGradient id="bg3" x1="0" y1="0" x2=".3" y2="1"><stop offset="0" stop-color="#7444aa"/><stop offset=".5" stop-color="#744ca4"/><stop offset="1" stop-color="#735a9c"/></linearGradient>
<linearGradient id="sg19" gradientUnits="userSpaceOnUse" x1="392.2" y1="570.4" x2="479.2" y2="570.4"><stop offset="0.00" stop-color="#8a0000"/><stop offset="0.25" stop-color="#a40000"/><stop offset="0.50" stop-color="#bf0000"/><stop offset="0.75" stop-color="#da0000"/><stop offset="1.00" stop-color="#f50000"/></linearGradient>
<linearGradient id="sg20" gradientUnits="userSpaceOnUse" x1="479.2" y1="570.4" x2="479.2" y2="585.2"><stop offset="0.00" stop-color="#f50000"/><stop offset="0.25" stop-color="#f90000"/><stop offset="0.50" stop-color="#fc0000"/><stop offset="0.75" stop-color="#ff0100"/><stop offset="1.00" stop-color="#ff0500"/></linearGradient>
<linearGradient id="sg21" gradientUnits="userSpaceOnUse" x1="479.2" y1="585.2" x2="387.2" y2="585.2"><stop offset="0.00" stop-color="#ff0500"/><stop offset="0.25" stop-color="#ff2100"/><stop offset="0.50" stop-color="#ff3d00"/><stop offset="0.75" stop-color="#ff5900"/><stop offset="1.00" stop-color="#ff7500"/></linearGradient>
<linearGradient id="sg22" gradientUnits="userSpaceOnUse" x1="387.2" y1="585.2" x2="387.2" y2="599.8"><stop offset="0.00" stop-color="#ff7500"/><stop offset="0.25" stop-color="#ff7900"/><stop offset="0.50" stop-color="#ff7d00"/><stop offset="0.75" stop-color="#ff8100"/><stop offset="1.00" stop-color="#ff8500"/></linearGradient>
<linearGradient id="sg23" gradientUnits="userSpaceOnUse" x1="387.2" y1="599.8" x2="479.2" y2="599.8"><stop offset="0.00" stop-color="#ff8500"/><stop offset="0.25" stop-color="#ff9f00"/><stop offset="0.50" stop-color="#ffba00"/><stop offset="0.75" stop-color="#ffd500"/><stop offset="1.00" stop-color="#fff000"/></linearGradient>
<linearGradient id="sg24" gradientUnits="userSpaceOnUse" x1="479.2" y1="599.8" x2="479.2" y2="614.6"><stop offset="0.00" stop-color="#fff000"/><stop offset="0.25" stop-color="#fff400"/><stop offset="0.50" stop-color="#fff700"/><stop offset="0.75" stop-color="#fffb00"/><stop offset="1.00" stop-color="#ffff00"/></linearGradient>
<linearGradient id="sg25" gradientUnits="userSpaceOnUse" x1="479.2" y1="614.6" x2="392.2" y2="614.6"><stop offset="0.00" stop-color="#ffff00"/><stop offset="0.25" stop-color="#e2ff1d"/><stop offset="0.50" stop-color="#c4ff3b"/><stop offset="0.75" stop-color="#a7ff58"/><stop offset="1.00" stop-color="#8aff75"/></linearGradient>
<linearGradient id="bg4" gradientUnits="userSpaceOnUse" x1="521.6" y1="0" x2="658.0" y2="0"><stop offset="0" stop-color="#76309f"/><stop offset=".2" stop-color="#7c22b4"/><stop offset=".32" stop-color="#7b3cae"/><stop offset=".4" stop-color="#70708f"/><stop offset=".47" stop-color="#467f66"/><stop offset=".55" stop-color="#5a9a7a"/><stop offset=".65" stop-color="#a0dbb4"/><stop offset=".78" stop-color="#c8f3d2"/><stop offset="1" stop-color="#d2f7da"/></linearGradient>
<linearGradient id="sg26" gradientUnits="userSpaceOnUse" x1="608.4" y1="564.6" x2="544.2" y2="564.6"><stop offset="0.00" stop-color="#0000b2"/><stop offset="0.25" stop-color="#0000bd"/><stop offset="0.50" stop-color="#0000c7"/><stop offset="0.75" stop-color="#0000d1"/><stop offset="1.00" stop-color="#0000db"/></linearGradient>
<linearGradient id="sg27" gradientUnits="userSpaceOnUse" x1="544.2" y1="564.6" x2="544.2" y2="580.2"><stop offset="0.00" stop-color="#0000db"/><stop offset="0.25" stop-color="#0000de"/><stop offset="0.50" stop-color="#0000e0"/><stop offset="0.75" stop-color="#0000e3"/><stop offset="1.00" stop-color="#0000e6"/></linearGradient>
<linearGradient id="sg28" gradientUnits="userSpaceOnUse" x1="544.2" y1="580.2" x2="613.6" y2="580.2"><stop offset="0.00" stop-color="#0000e6"/><stop offset="0.25" stop-color="#0000f2"/><stop offset="0.50" stop-color="#0000ff"/><stop offset="0.75" stop-color="#000dff"/><stop offset="1.00" stop-color="#0019ff"/></linearGradient>
<linearGradient id="sg29" gradientUnits="userSpaceOnUse" x1="613.6" y1="580.2" x2="613.6" y2="595.8"><stop offset="0.00" stop-color="#0019ff"/><stop offset="0.25" stop-color="#001dff"/><stop offset="0.50" stop-color="#0021ff"/><stop offset="0.75" stop-color="#0025ff"/><stop offset="1.00" stop-color="#0029ff"/></linearGradient>
<linearGradient id="sg30" gradientUnits="userSpaceOnUse" x1="613.6" y1="595.8" x2="544.2" y2="595.8"><stop offset="0.00" stop-color="#0029ff"/><stop offset="0.25" stop-color="#0039ff"/><stop offset="0.50" stop-color="#004aff"/><stop offset="0.75" stop-color="#005bff"/><stop offset="1.00" stop-color="#006bff"/></linearGradient>
<linearGradient id="sg31" gradientUnits="userSpaceOnUse" x1="544.2" y1="595.8" x2="544.2" y2="611.4"><stop offset="0.00" stop-color="#006bff"/><stop offset="0.25" stop-color="#006fff"/><stop offset="0.50" stop-color="#0073ff"/><stop offset="0.75" stop-color="#0077ff"/><stop offset="1.00" stop-color="#007aff"/></linearGradient>
<linearGradient id="sg32" gradientUnits="userSpaceOnUse" x1="544.2" y1="611.4" x2="613.6" y2="611.4"><stop offset="0.00" stop-color="#007aff"/><stop offset="0.25" stop-color="#008bff"/><stop offset="0.50" stop-color="#009cff"/><stop offset="0.75" stop-color="#00acff"/><stop offset="1.00" stop-color="#00bdff"/></linearGradient>
<linearGradient id="sg33" gradientUnits="userSpaceOnUse" x1="613.6" y1="611.4" x2="613.6" y2="627.0"><stop offset="0.00" stop-color="#00bdff"/><stop offset="0.25" stop-color="#00c1ff"/><stop offset="0.50" stop-color="#00c4ff"/><stop offset="0.75" stop-color="#00c8ff"/><stop offset="1.00" stop-color="#00ccff"/></linearGradient>
<linearGradient id="sg34" gradientUnits="userSpaceOnUse" x1="613.6" y1="627.0" x2="544.2" y2="627.0"><stop offset="0.00" stop-color="#00ccff"/><stop offset="0.25" stop-color="#00dbff"/><stop offset="0.50" stop-color="#00ebff"/><stop offset="0.75" stop-color="#00faff"/><stop offset="1.00" stop-color="#0afff5"/></linearGradient>
<linearGradient id="sg35" gradientUnits="userSpaceOnUse" x1="544.2" y1="627.0" x2="544.2" y2="642.6"><stop offset="0.00" stop-color="#0afff5"/><stop offset="0.25" stop-color="#0efff1"/><stop offset="0.50" stop-color="#12ffed"/><stop offset="0.75" stop-color="#16ffe9"/><stop offset="1.00" stop-color="#1affe5"/></linearGradient>
<linearGradient id="sg36" gradientUnits="userSpaceOnUse" x1="544.2" y1="642.6" x2="608.4" y2="642.6"><stop offset="0.00" stop-color="#1affe5"/><stop offset="0.25" stop-color="#2bffd4"/><stop offset="0.50" stop-color="#3dffc2"/><stop offset="0.75" stop-color="#4fffb0"/><stop offset="1.00" stop-color="#61ff9e"/></linearGradient></defs>
<rect x="26.0" y="554.3" width="136.7" height="96.7" fill="url(#bg1)"/>
<polygon points="111.3,554.3 140.6,554.3 149.8,568.6 149.8,590.0 136.6,590.0 136.6,582.2" fill="#80ff80"/>
<rect x="135.9" y="626.7" width="26.8" height="9.8" fill="#00007c"/>
<rect x="44.6" y="627.8" width="91.2" height="7.6" fill="url(#sg1)"/>
<rect x="39.4" y="612.4" width="10.6" height="23.0" fill="url(#sg2)"/>
<rect x="44.6" y="612.4" width="96.9" height="7.6" fill="url(#sg3)"/>
<rect x="136.3" y="597.0" width="10.6" height="23.0" fill="url(#sg4)"/>
<rect x="44.6" y="597.0" width="96.9" height="7.6" fill="url(#sg5)"/>
<rect x="39.4" y="582.2" width="10.6" height="22.4" fill="url(#sg6)"/>
<rect x="44.6" y="582.2" width="92.3" height="7.6" fill="url(#sg7)"/>
<path class="sl" d="M135.9 633.3L46.1 633.3Q42.9 633.3 42.9 630.1L42.9 617.7Q42.9 614.5 46.1 614.5L136.7 614.5Q139.9 614.5 139.9 611.3L139.9 605.7Q139.9 602.5 136.7 602.5L46.1 602.5Q42.9 602.5 42.9 599.3L42.9 587.5Q42.9 584.3 46.1 584.3L137.0 584.3"/>
<path class="sl" d="M135.9 629.9L49.6 629.9Q46.4 629.9 46.4 626.7L46.4 621.1Q46.4 617.9 49.6 617.9L140.1 617.9Q143.3 617.9 143.3 614.7L143.3 602.3Q143.3 599.1 140.1 599.1L49.6 599.1Q46.4 599.1 46.4 595.9L46.4 590.9Q46.4 587.7 49.6 587.7L137.0 587.7"/>
<path class="sl" d="M136 629.2H162.7M136 631.6H162.7M136 634H162.7"/>
<g opacity=".8"><path class="sl" d="M125.7 554.6L144.8 574.3Q147.1 576.6 146.5 579.7L145.4 586.0"/>
<path class="sl" d="M122.3 557.4L137.4 576.9Q139.3 579.4 140.1 582.5L141.0 586.0"/>
<path class="sl" d="M124.0 556.0L141.1 575.6Q143.2 578.0 143.2 581.2L143.2 586.0"/></g>
<text class="rl" x="28.2" y="605.6">R<tspan class="rs" dy="2">1</tspan></text>
<rect class="bd" x="26.0" y="554.3" width="136.7" height="96.3"/>
<rect x="195.2" y="554.3" width="136.7" height="96.7" fill="url(#bg2)"/>
<rect x="195.2" y="554.3" width="62.0" height="15" fill="#86f486"/>
<rect x="195.2" y="636.5" width="62.0" height="14.5" fill="#7e0000"/>
<rect x="257.2" y="561.9" width="60.8" height="7.4" fill="url(#sg8)"/>
<rect x="313.0" y="561.9" width="10.0" height="22.3" fill="url(#sg9)"/>
<rect x="252.1" y="576.8" width="65.9" height="7.4" fill="url(#sg10)"/>
<rect x="247.1" y="576.8" width="10.0" height="22.3" fill="url(#sg11)"/>
<rect x="252.1" y="591.7" width="65.9" height="7.4" fill="url(#sg12)"/>
<rect x="313.0" y="591.7" width="10.0" height="22.3" fill="url(#sg13)"/>
<rect x="252.1" y="606.6" width="65.9" height="7.4" fill="url(#sg14)"/>
<rect x="247.1" y="606.6" width="10.0" height="22.3" fill="url(#sg15)"/>
<rect x="252.1" y="621.5" width="65.9" height="7.4" fill="url(#sg16)"/>
<rect x="313.0" y="621.5" width="10.0" height="22.3" fill="url(#sg17)"/>
<rect x="257.2" y="636.4" width="60.8" height="7.4" fill="url(#sg18)"/>
<path class="sl" d="M257.2 563.9L316.5 563.9Q319.7 563.9 319.7 567.1L319.7 579.0Q319.7 582.2 316.5 582.2L256.9 582.2Q253.8 582.2 253.8 585.4L253.8 590.5Q253.8 593.7 256.9 593.7L316.5 593.7Q319.7 593.7 319.7 596.9L319.7 608.8Q319.7 612.0 316.5 612.0L256.9 612.0Q253.8 612.0 253.8 615.2L253.8 620.3Q253.8 623.5 256.9 623.5L316.5 623.5Q319.7 623.5 319.7 626.7L319.7 638.6Q319.7 641.8 316.5 641.8L257.2 641.8"/>
<path class="sl" d="M257.2 567.3L313.1 567.3Q316.3 567.3 316.3 570.5L316.3 575.6Q316.3 578.8 313.1 578.8L253.6 578.8Q250.4 578.8 250.4 582.0L250.4 593.9Q250.4 597.1 253.6 597.1L313.1 597.1Q316.3 597.1 316.3 600.3L316.3 605.4Q316.3 608.6 313.1 608.6L253.6 608.6Q250.4 608.6 250.4 611.8L250.4 623.7Q250.4 626.9 253.6 626.9L313.1 626.9Q316.3 626.9 316.3 630.1L316.3 635.2Q316.3 638.4 313.1 638.4L257.2 638.4"/>
<path d="M238.0 556.5H262.0" stroke="#fff" stroke-width=".7" stroke-dasharray=".8 1.8" opacity="0.50"/><path d="M238.0 559.1H262.0" stroke="#fff" stroke-width=".7" stroke-dasharray=".8 1.8" opacity="0.50"/><path d="M238.0 561.7H262.0" stroke="#fff" stroke-width=".7" stroke-dasharray=".8 1.8" opacity="0.50"/><path d="M238.0 564.3H262.0" stroke="#fff" stroke-width=".7" stroke-dasharray=".8 1.8" opacity="0.50"/><path d="M238.0 566.9H262.0" stroke="#fff" stroke-width=".7" stroke-dasharray=".8 1.8" opacity="0.50"/>
<path d="M215.0 639.0H262.0" stroke="#fff" stroke-width=".7" stroke-dasharray=".8 1.8" opacity="0.35"/><path d="M215.0 641.6H262.0" stroke="#fff" stroke-width=".7" stroke-dasharray=".8 1.8" opacity="0.35"/><path d="M215.0 644.2H262.0" stroke="#fff" stroke-width=".7" stroke-dasharray=".8 1.8" opacity="0.35"/><path d="M215.0 646.8H262.0" stroke="#fff" stroke-width=".7" stroke-dasharray=".8 1.8" opacity="0.35"/><path d="M215.0 649.4H262.0" stroke="#fff" stroke-width=".7" stroke-dasharray=".8 1.8" opacity="0.35"/>
<text class="rl" x="235.2" y="605.6">R<tspan class="rs" dy="2">2</tspan></text>
<rect class="bd" x="195.2" y="554.3" width="136.7" height="96.3"/>
<rect x="363.2" y="554.3" width="136.4" height="96.7" fill="url(#bg3)"/>
<rect x="363.2" y="565.7" width="29.0" height="9.5" fill="#800000"/>
<polygon points="379.5,609.7 392.2,609.7 392.2,618.3 422.5,651 392.2,651 379.5,628.6" fill="#80ff80"/>
<rect x="392.2" y="566.7" width="87.0" height="7.4" fill="url(#sg19)"/>
<rect x="474.3" y="566.7" width="9.8" height="22.2" fill="url(#sg20)"/>
<rect x="387.2" y="581.5" width="92.0" height="7.4" fill="url(#sg21)"/>
<rect x="382.3" y="581.5" width="9.8" height="22.0" fill="url(#sg22)"/>
<rect x="387.2" y="596.1" width="92.0" height="7.4" fill="url(#sg23)"/>
<rect x="474.3" y="596.1" width="9.8" height="22.2" fill="url(#sg24)"/>
<rect x="392.2" y="610.9" width="87.0" height="7.4" fill="url(#sg25)"/>
<path class="sl" d="M392.2 568.7L477.7 568.7Q480.9 568.7 480.9 571.9L480.9 583.7Q480.9 586.9 477.7 586.9L392.1 586.9Q388.9 586.9 388.9 590.1L388.9 594.9Q388.9 598.1 392.1 598.1L477.7 598.1Q480.9 598.1 480.9 601.3L480.9 613.1Q480.9 616.3 477.7 616.3L392.2 616.3"/>
<path class="sl" d="M392.2 572.1L474.3 572.1Q477.5 572.1 477.5 575.3L477.5 580.3Q477.5 583.5 474.3 583.5L388.7 583.5Q385.5 583.5 385.5 586.7L385.5 598.3Q385.5 601.5 388.7 601.5L474.3 601.5Q477.5 601.5 477.5 604.7L477.5 609.7Q477.5 612.9 474.3 612.9L392.2 612.9"/>
<path class="sl" d="M363.2 568H392M363.2 570.4H392M363.2 572.8H392"/>
<g opacity=".8"><path class="sl" d="M392.2 615.0L390.3 615.0Q388.4 615.0 388.7 616.9L389.7 623.3Q390.3 626.5 392.1 629.1L405.9 648.5"/>
<path class="sl" d="M392.2 610.2L386.8 610.2Q383.6 610.2 383.3 613.4L382.0 626.3Q381.7 629.5 383.9 631.9L402.1 651.5"/>
<path class="sl" d="M392.2 612.6L389.1 612.6Q386.0 612.6 386.0 615.7L386.0 624.8Q386.0 628.0 388.0 630.5L404.0 650.0"/></g>
<text class="rl" x="365.9" y="605.6">R<tspan class="rs" dy="2">3</tspan></text>
<rect class="bd" x="363.2" y="554.3" width="136.4" height="96.3"/>
<rect x="521.6" y="554.3" width="136.4" height="96.7" fill="url(#bg4)"/>
<rect x="608.4" y="554.3" width="49.6" height="13.9" fill="#00007c"/>
<rect x="608.4" y="638.9" width="49.6" height="12.1" fill="#86f47a"/>
<rect x="544.2" y="561.0" width="64.1" height="7.3" fill="url(#sg26)"/>
<rect x="539.1" y="561.0" width="10.2" height="22.9" fill="url(#sg27)"/>
<rect x="544.2" y="576.6" width="69.4" height="7.3" fill="url(#sg28)"/>
<rect x="608.5" y="576.6" width="10.2" height="22.9" fill="url(#sg29)"/>
<rect x="544.2" y="592.1" width="69.4" height="7.3" fill="url(#sg30)"/>
<rect x="539.1" y="592.1" width="10.2" height="22.9" fill="url(#sg31)"/>
<rect x="544.2" y="607.8" width="69.4" height="7.3" fill="url(#sg32)"/>
<rect x="608.5" y="607.8" width="10.2" height="22.9" fill="url(#sg33)"/>
<rect x="544.2" y="623.4" width="69.4" height="7.3" fill="url(#sg34)"/>
<rect x="539.1" y="623.4" width="10.2" height="22.9" fill="url(#sg35)"/>
<rect x="544.2" y="639.0" width="64.1" height="7.3" fill="url(#sg36)"/>
<path class="sl" d="M608.4 566.3L549.2 566.3Q546.0 566.3 546.0 569.5L546.0 575.3Q546.0 578.5 549.2 578.5L612.1 578.5Q615.3 578.5 615.3 581.7L615.3 594.3Q615.3 597.5 612.1 597.5L549.2 597.5Q546.0 597.5 546.0 600.7L546.0 606.5Q546.0 609.7 549.2 609.7L612.1 609.7Q615.3 609.7 615.3 612.9L615.3 625.5Q615.3 628.7 612.1 628.7L549.2 628.7Q546.0 628.7 546.0 631.9L546.0 637.7Q546.0 640.9 549.2 640.9L608.4 640.9"/>
<path class="sl" d="M608.4 562.9L545.8 562.9Q542.5 562.9 542.5 566.1L542.5 578.7Q542.5 581.9 545.8 581.9L608.7 581.9Q611.9 581.9 611.9 585.1L611.9 590.9Q611.9 594.1 608.7 594.1L545.8 594.1Q542.5 594.1 542.5 597.3L542.5 609.9Q542.5 613.1 545.8 613.1L608.7 613.1Q611.9 613.1 611.9 616.3L611.9 622.1Q611.9 625.3 608.7 625.3L545.8 625.3Q542.5 625.3 542.5 628.5L542.5 641.1Q542.5 644.3 545.8 644.3L608.4 644.3"/>
<path d="M606.0 556.5H652.0" stroke="#fff" stroke-width=".7" stroke-dasharray=".8 1.8" opacity="0.40"/><path d="M606.0 559.0H652.0" stroke="#fff" stroke-width=".7" stroke-dasharray=".8 1.8" opacity="0.40"/><path d="M606.0 561.5H652.0" stroke="#fff" stroke-width=".7" stroke-dasharray=".8 1.8" opacity="0.40"/><path d="M606.0 564.0H652.0" stroke="#fff" stroke-width=".7" stroke-dasharray=".8 1.8" opacity="0.40"/><path d="M606.0 566.5H652.0" stroke="#fff" stroke-width=".7" stroke-dasharray=".8 1.8" opacity="0.40"/>
<path d="M606.0 641.0H630.0" stroke="#fff" stroke-width=".7" stroke-dasharray=".8 1.8" opacity="0.50"/><path d="M606.0 643.6H630.0" stroke="#fff" stroke-width=".7" stroke-dasharray=".8 1.8" opacity="0.50"/><path d="M606.0 646.2H630.0" stroke="#fff" stroke-width=".7" stroke-dasharray=".8 1.8" opacity="0.50"/><path d="M606.0 648.8H630.0" stroke="#fff" stroke-width=".7" stroke-dasharray=".8 1.8" opacity="0.50"/>
<text class="rl" x="524.6" y="605.6">R<tspan class="rs" dy="2">4</tspan></text>
<rect class="bd" x="521.6" y="554.3" width="136.4" height="96.3"/>
</svg>
</body></html>
